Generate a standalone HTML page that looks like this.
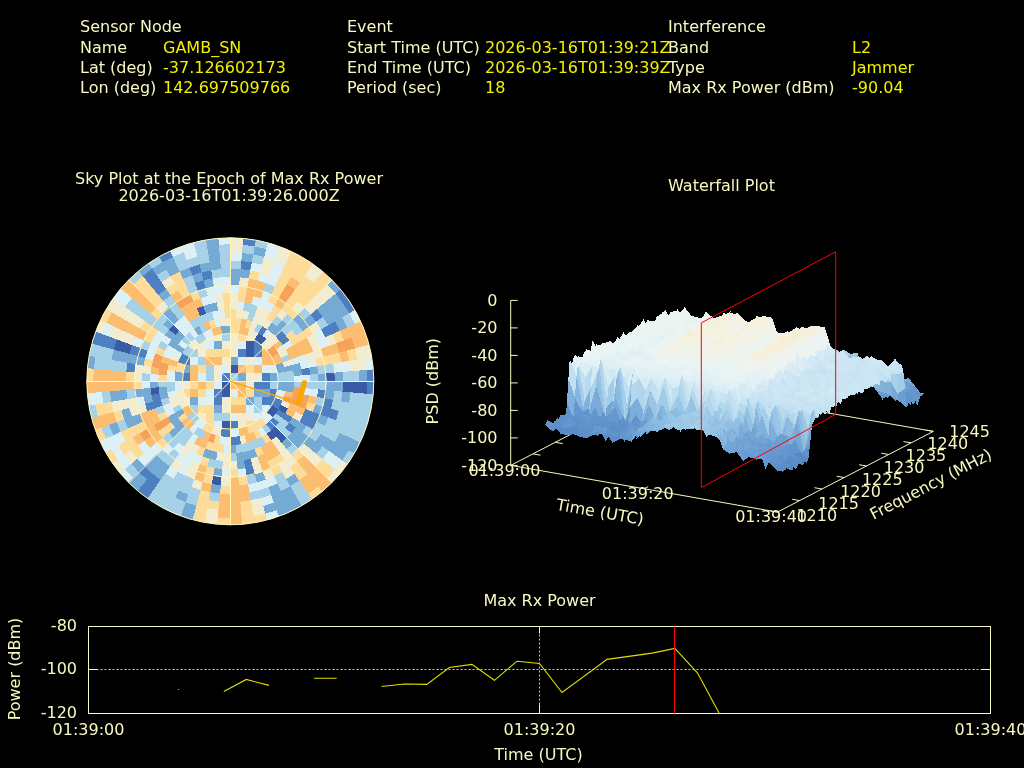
<!DOCTYPE html>
<html><head><meta charset="utf-8"><title>Interference Report</title>
<style>
html,body{margin:0;padding:0;background:#000;width:1024px;height:768px;overflow:hidden}
svg{display:block}
.v{fill:#f0f000}
text{font-family:"DejaVu Sans","Liberation Sans",sans-serif;font-size:16px;fill:#f8f8c0}
text.v{fill:#f0f000}
</style></head><body>
<svg width="1024" height="768" viewBox="0 0 1024 768">
<rect width="1024" height="768" fill="#000"/>
<clipPath id="skyc"><circle cx="230.3" cy="381.3" r="143.5"/></clipPath>
<g clip-path="url(#skyc)" shape-rendering="crispEdges">
<circle cx="230.3" cy="381.3" r="144.5" fill="#b8d9ea"/>
<rect x="206.3" y="325.3" width="16" height="8" fill="#fbbd70"/>
<rect x="222.3" y="325.3" width="8" height="8" fill="#75aad4"/>
<rect x="230.3" y="325.3" width="8" height="8" fill="#fcdc98"/>
<rect x="238.3" y="325.3" width="8" height="8" fill="#fbbd70"/>
<rect x="198.3" y="333.3" width="8" height="8" fill="#a6d1e7"/>
<rect x="206.3" y="333.3" width="8" height="8" fill="#dcf0f6"/>
<rect x="214.3" y="333.3" width="8" height="8" fill="#f2ecd0"/>
<rect x="222.3" y="333.3" width="8" height="8" fill="#a6d1e7"/>
<rect x="230.3" y="333.3" width="8" height="8" fill="#f2ecd0"/>
<rect x="238.3" y="333.3" width="8" height="8" fill="#fcdc98"/>
<rect x="246.3" y="333.3" width="8" height="8" fill="#f2ecd0"/>
<rect x="254.3" y="333.3" width="8" height="8" fill="#3a5aa6"/>
<rect x="190.3" y="341.3" width="16" height="8" fill="#f2ecd0"/>
<rect x="206.3" y="341.3" width="8" height="8" fill="#dcf0f6"/>
<rect x="214.3" y="341.3" width="8" height="8" fill="#75aad4"/>
<rect x="222.3" y="341.3" width="16" height="8" fill="#f2ecd0"/>
<rect x="238.3" y="341.3" width="8" height="8" fill="#dcf0f6"/>
<rect x="246.3" y="341.3" width="8" height="8" fill="#3a5aa6"/>
<rect x="254.3" y="341.3" width="8" height="8" fill="#4e7fc0"/>
<rect x="262.3" y="341.3" width="8" height="8" fill="#f2ecd0"/>
<rect x="182.3" y="349.3" width="16" height="8" fill="#a6d1e7"/>
<rect x="198.3" y="349.3" width="8" height="8" fill="#f2ecd0"/>
<rect x="206.3" y="349.3" width="24" height="8" fill="#fcdc98"/>
<rect x="230.3" y="349.3" width="8" height="8" fill="#f2ecd0"/>
<rect x="238.3" y="349.3" width="8" height="8" fill="#4e7fc0"/>
<rect x="246.3" y="349.3" width="8" height="8" fill="#3a5aa6"/>
<rect x="254.3" y="349.3" width="8" height="8" fill="#4e7fc0"/>
<rect x="262.3" y="349.3" width="8" height="8" fill="#fbbd70"/>
<rect x="270.3" y="349.3" width="8" height="8" fill="#f6a25a"/>
<rect x="182.3" y="357.3" width="8" height="8" fill="#4e7fc0"/>
<rect x="190.3" y="357.3" width="8" height="8" fill="#dcf0f6"/>
<rect x="198.3" y="357.3" width="8" height="8" fill="#a6d1e7"/>
<rect x="206.3" y="357.3" width="16" height="8" fill="#fbbd70"/>
<rect x="222.3" y="357.3" width="8" height="8" fill="#f2ecd0"/>
<rect x="230.3" y="357.3" width="8" height="8" fill="#75aad4"/>
<rect x="238.3" y="357.3" width="8" height="8" fill="#dcf0f6"/>
<rect x="246.3" y="357.3" width="8" height="8" fill="#f2ecd0"/>
<rect x="254.3" y="357.3" width="8" height="8" fill="#dcf0f6"/>
<rect x="262.3" y="357.3" width="16" height="8" fill="#fbbd70"/>
<rect x="166.3" y="365.3" width="16" height="8" fill="#fcdc98"/>
<rect x="182.3" y="365.3" width="8" height="8" fill="#75aad4"/>
<rect x="190.3" y="365.3" width="8" height="8" fill="#fbbd70"/>
<rect x="198.3" y="365.3" width="8" height="8" fill="#fcdc98"/>
<rect x="206.3" y="365.3" width="8" height="8" fill="#a6d1e7"/>
<rect x="214.3" y="365.3" width="8" height="8" fill="#f2ecd0"/>
<rect x="222.3" y="365.3" width="8" height="8" fill="#dcf0f6"/>
<rect x="230.3" y="365.3" width="8" height="8" fill="#3a5aa6"/>
<rect x="238.3" y="365.3" width="8" height="8" fill="#fbbd70"/>
<rect x="246.3" y="365.3" width="8" height="8" fill="#fcdc98"/>
<rect x="254.3" y="365.3" width="8" height="8" fill="#fbbd70"/>
<rect x="262.3" y="365.3" width="16" height="8" fill="#dcf0f6"/>
<rect x="278.3" y="365.3" width="24" height="8" fill="#75aad4"/>
<rect x="174.3" y="373.3" width="8" height="8" fill="#75aad4"/>
<rect x="182.3" y="373.3" width="8" height="8" fill="#4e7fc0"/>
<rect x="190.3" y="373.3" width="8" height="8" fill="#fbbd70"/>
<rect x="198.3" y="373.3" width="8" height="8" fill="#dcf0f6"/>
<rect x="206.3" y="373.3" width="8" height="8" fill="#a6d1e7"/>
<rect x="214.3" y="373.3" width="8" height="8" fill="#f2ecd0"/>
<rect x="222.3" y="373.3" width="8" height="8" fill="#4e7fc0"/>
<rect x="230.3" y="373.3" width="8" height="8" fill="#a6d1e7"/>
<rect x="238.3" y="373.3" width="8" height="8" fill="#75aad4"/>
<rect x="246.3" y="373.3" width="16" height="8" fill="#f2ecd0"/>
<rect x="262.3" y="373.3" width="8" height="8" fill="#4e7fc0"/>
<rect x="270.3" y="373.3" width="8" height="8" fill="#75aad4"/>
<rect x="278.3" y="373.3" width="16" height="8" fill="#a6d1e7"/>
<rect x="174.3" y="381.3" width="8" height="8" fill="#dcf0f6"/>
<rect x="182.3" y="381.3" width="8" height="8" fill="#f2ecd0"/>
<rect x="190.3" y="381.3" width="8" height="8" fill="#fcdc98"/>
<rect x="198.3" y="381.3" width="8" height="8" fill="#fbbd70"/>
<rect x="206.3" y="381.3" width="8" height="8" fill="#fcdc98"/>
<rect x="214.3" y="381.3" width="8" height="8" fill="#dcf0f6"/>
<rect x="222.3" y="381.3" width="8" height="8" fill="#3a5aa6"/>
<rect x="230.3" y="381.3" width="16" height="8" fill="#fbbd70"/>
<rect x="246.3" y="381.3" width="8" height="8" fill="#f2ecd0"/>
<rect x="254.3" y="381.3" width="16" height="8" fill="#4e7fc0"/>
<rect x="270.3" y="381.3" width="8" height="8" fill="#a6d1e7"/>
<rect x="278.3" y="381.3" width="16" height="8" fill="#75aad4"/>
<rect x="174.3" y="389.3" width="8" height="8" fill="#f2ecd0"/>
<rect x="182.3" y="389.3" width="8" height="8" fill="#fcdc98"/>
<rect x="190.3" y="389.3" width="8" height="8" fill="#fbbd70"/>
<rect x="198.3" y="389.3" width="8" height="8" fill="#fcdc98"/>
<rect x="206.3" y="389.3" width="8" height="8" fill="#dcf0f6"/>
<rect x="214.3" y="389.3" width="8" height="8" fill="#4e7fc0"/>
<rect x="222.3" y="389.3" width="8" height="8" fill="#3a5aa6"/>
<rect x="230.3" y="389.3" width="8" height="8" fill="#dcf0f6"/>
<rect x="238.3" y="389.3" width="8" height="8" fill="#fbbd70"/>
<rect x="246.3" y="389.3" width="8" height="8" fill="#fcdc98"/>
<rect x="254.3" y="389.3" width="16" height="8" fill="#75aad4"/>
<rect x="270.3" y="389.3" width="8" height="8" fill="#4e7fc0"/>
<rect x="278.3" y="389.3" width="8" height="8" fill="#dcf0f6"/>
<rect x="166.3" y="397.3" width="24" height="8" fill="#f2ecd0"/>
<rect x="190.3" y="397.3" width="8" height="8" fill="#75aad4"/>
<rect x="198.3" y="397.3" width="16" height="8" fill="#dcf0f6"/>
<rect x="214.3" y="397.3" width="8" height="8" fill="#4e7fc0"/>
<rect x="222.3" y="397.3" width="8" height="8" fill="#f2ecd0"/>
<rect x="230.3" y="397.3" width="16" height="8" fill="#fcdc98"/>
<rect x="246.3" y="397.3" width="8" height="8" fill="#75aad4"/>
<rect x="254.3" y="397.3" width="8" height="8" fill="#a6d1e7"/>
<rect x="262.3" y="397.3" width="16" height="8" fill="#4e7fc0"/>
<rect x="182.3" y="405.3" width="8" height="8" fill="#fbbd70"/>
<rect x="190.3" y="405.3" width="8" height="8" fill="#a6d1e7"/>
<rect x="198.3" y="405.3" width="16" height="8" fill="#fcdc98"/>
<rect x="214.3" y="405.3" width="8" height="8" fill="#75aad4"/>
<rect x="222.3" y="405.3" width="8" height="8" fill="#f2ecd0"/>
<rect x="230.3" y="405.3" width="16" height="8" fill="#fbbd70"/>
<rect x="246.3" y="405.3" width="8" height="8" fill="#dcf0f6"/>
<rect x="254.3" y="405.3" width="8" height="8" fill="#a6d1e7"/>
<rect x="262.3" y="405.3" width="8" height="8" fill="#dcf0f6"/>
<rect x="270.3" y="405.3" width="16" height="8" fill="#3a5aa6"/>
<rect x="190.3" y="413.3" width="8" height="8" fill="#a6d1e7"/>
<rect x="198.3" y="413.3" width="8" height="8" fill="#f2ecd0"/>
<rect x="206.3" y="413.3" width="8" height="8" fill="#fcdc98"/>
<rect x="214.3" y="413.3" width="16" height="8" fill="#a6d1e7"/>
<rect x="230.3" y="413.3" width="8" height="8" fill="#dcf0f6"/>
<rect x="238.3" y="413.3" width="16" height="8" fill="#f2ecd0"/>
<rect x="254.3" y="413.3" width="16" height="8" fill="#dcf0f6"/>
<rect x="190.3" y="421.3" width="16" height="8" fill="#dcf0f6"/>
<rect x="206.3" y="421.3" width="8" height="8" fill="#fcdc98"/>
<rect x="214.3" y="421.3" width="8" height="8" fill="#dcf0f6"/>
<rect x="222.3" y="421.3" width="8" height="8" fill="#3a5aa6"/>
<rect x="230.3" y="421.3" width="8" height="8" fill="#4e7fc0"/>
<rect x="238.3" y="421.3" width="8" height="8" fill="#f2ecd0"/>
<rect x="246.3" y="421.3" width="16" height="8" fill="#fcdc98"/>
<rect x="214.3" y="429.3" width="8" height="8" fill="#f2ecd0"/>
<rect x="222.3" y="429.3" width="8" height="8" fill="#4e7fc0"/>
<rect x="230.3" y="429.3" width="8" height="8" fill="#dcf0f6"/>
<rect x="238.3" y="429.3" width="16" height="8" fill="#fbbd70"/>
<path d="M277.8 381.5L294.7 381.6L294.4 375.4L277.6 377.0Z" fill="#a6d1e7"/>
<path d="M294.1 381.6L311.0 381.6L310.7 373.9L293.8 375.5Z" fill="#dcf0f6"/>
<path d="M310.4 381.6L319.1 381.7L318.8 373.2L310.1 374.0Z" fill="#a6d1e7"/>
<path d="M318.5 381.7L327.3 381.7L326.9 372.5L318.2 373.3Z" fill="#75aad4"/>
<path d="M326.7 381.7L335.4 381.7L335.0 371.7L326.3 372.5Z" fill="#3a5aa6"/>
<path d="M334.8 381.7L343.5 381.8L343.1 371.0L334.4 371.8Z" fill="#75aad4"/>
<path d="M342.9 381.8L359.8 381.8L359.3 369.5L342.5 371.0Z" fill="#a6d1e7"/>
<path d="M359.2 381.8L368.0 381.9L367.4 368.8L358.7 369.6Z" fill="#75aad4"/>
<path d="M367.4 381.8L376.1 381.9L375.5 368.0L366.8 368.8Z" fill="#4e7fc0"/>
<path d="M277.7 377.3L294.5 375.9L293.7 369.9L277.1 372.9Z" fill="#a6d1e7"/>
<path d="M293.9 376.0L302.6 375.3L301.7 368.4L293.1 370.0Z" fill="#75aad4"/>
<path d="M302.0 375.3L310.7 374.6L309.7 367.0L301.1 368.5Z" fill="#4e7fc0"/>
<path d="M310.1 374.6L318.8 373.9L317.7 365.5L309.1 367.1Z" fill="#75aad4"/>
<path d="M318.2 374.0L335.0 372.6L333.7 362.6L317.1 365.6Z" fill="#a6d1e7"/>
<path d="M334.4 372.6L351.3 371.2L349.8 359.7L333.1 362.7Z" fill="#dcf0f6"/>
<path d="M350.7 371.3L367.5 369.9L365.8 356.9L349.2 359.9Z" fill="#f2ecd0"/>
<path d="M366.9 369.9L375.6 369.2L373.8 355.4L365.2 357.0Z" fill="#dcf0f6"/>
<path d="M277.1 373.2L301.8 369.0L300.3 362.2L276.2 368.8Z" fill="#75aad4"/>
<path d="M301.2 369.1L317.8 366.2L316.0 358.0L299.7 362.4Z" fill="#dcf0f6"/>
<path d="M317.2 366.3L341.9 362.1L339.6 351.6L315.4 358.1Z" fill="#fcdc98"/>
<path d="M341.3 362.2L349.9 360.7L347.4 349.4L339.0 351.7Z" fill="#fbbd70"/>
<path d="M349.3 360.8L357.9 359.3L355.3 347.3L346.8 349.6Z" fill="#fcdc98"/>
<path d="M357.4 359.4L374.0 356.6L371.0 343.0L354.7 347.4Z" fill="#f2ecd0"/>
<path d="M276.3 369.2L284.7 367.0L283.1 361.8L274.9 364.9Z" fill="#75aad4"/>
<path d="M284.1 367.1L292.6 364.9L290.7 359.0L282.5 362.0Z" fill="#f2ecd0"/>
<path d="M292.0 365.0L308.3 360.7L306.0 353.4L290.2 359.2Z" fill="#dcf0f6"/>
<path d="M307.7 360.9L324.1 356.6L321.3 347.8L305.4 353.6Z" fill="#f2ecd0"/>
<path d="M323.5 356.7L339.8 352.4L336.6 342.1L320.7 348.0Z" fill="#fbbd70"/>
<path d="M339.2 352.6L355.5 348.3L351.8 336.5L336.0 342.4Z" fill="#f6a25a"/>
<path d="M355.0 348.4L371.3 344.1L367.1 330.9L351.3 336.7Z" fill="#fbbd70"/>
<path d="M275.0 365.2L283.3 362.3L281.2 357.3L273.3 361.0Z" fill="#fbbd70"/>
<path d="M282.7 362.5L290.9 359.5L288.6 353.8L280.7 357.6Z" fill="#a6d1e7"/>
<path d="M290.3 359.7L313.9 351.3L310.7 343.4L288.0 354.1Z" fill="#fbbd70"/>
<path d="M313.3 351.5L321.6 348.5L318.0 340.0L310.1 343.7Z" fill="#f2ecd0"/>
<path d="M321.0 348.7L329.2 345.7L325.4 336.5L317.5 340.2Z" fill="#dcf0f6"/>
<path d="M328.6 346.0L336.9 343.0L332.7 333.0L324.8 336.8Z" fill="#f2ecd0"/>
<path d="M336.3 343.2L344.5 340.2L340.1 329.6L332.2 333.3Z" fill="#fcdc98"/>
<path d="M344.0 340.4L367.5 332.0L362.2 319.2L339.6 329.8Z" fill="#fbbd70"/>
<path d="M273.5 361.4L281.4 357.7L278.9 353.0L271.4 357.4Z" fill="#fbbd70"/>
<path d="M280.8 358.0L288.8 354.3L286.0 348.9L278.4 353.3Z" fill="#f2ecd0"/>
<path d="M288.2 354.6L311.0 344.1L307.0 336.6L285.4 349.2Z" fill="#fbbd70"/>
<path d="M310.4 344.3L318.3 340.7L314.1 332.5L306.5 336.9Z" fill="#f2ecd0"/>
<path d="M317.8 340.9L325.7 337.3L321.1 328.4L313.6 332.8Z" fill="#dcf0f6"/>
<path d="M325.2 337.5L340.5 330.4L335.2 320.2L320.6 328.7Z" fill="#4e7fc0"/>
<path d="M340.0 330.7L347.9 327.0L342.2 316.1L334.7 320.5Z" fill="#75aad4"/>
<path d="M347.4 327.3L355.3 323.6L349.2 312.0L341.7 316.4Z" fill="#a6d1e7"/>
<path d="M354.8 323.9L362.7 320.2L356.3 307.9L348.7 312.3Z" fill="#dcf0f6"/>
<path d="M271.6 357.7L279.1 353.4L276.3 348.8L269.1 353.9Z" fill="#f6a25a"/>
<path d="M278.6 353.7L286.2 349.3L282.9 344.1L275.8 349.2Z" fill="#f2ecd0"/>
<path d="M285.7 349.6L293.3 345.3L289.6 339.4L282.4 344.5Z" fill="#dcf0f6"/>
<path d="M292.8 345.6L314.5 333.2L309.5 325.4L289.1 339.8Z" fill="#fcdc98"/>
<path d="M313.9 333.5L321.5 329.1L316.2 320.7L309.0 325.7Z" fill="#f2ecd0"/>
<path d="M321.0 329.4L328.6 325.1L322.8 316.0L315.7 321.0Z" fill="#a6d1e7"/>
<path d="M328.1 325.4L349.8 312.9L342.7 301.9L322.3 316.3Z" fill="#75aad4"/>
<path d="M349.3 313.2L356.9 308.9L349.4 297.2L342.3 302.2Z" fill="#4e7fc0"/>
<path d="M269.3 354.2L276.5 349.2L273.3 345.0L266.6 350.6Z" fill="#f6a25a"/>
<path d="M276.0 349.6L283.2 344.6L279.5 339.7L272.8 345.3Z" fill="#fbbd70"/>
<path d="M282.7 344.9L289.9 339.9L285.7 334.4L279.0 340.1Z" fill="#4e7fc0"/>
<path d="M289.4 340.3L296.6 335.3L291.9 329.2L285.2 334.8Z" fill="#fcdc98"/>
<path d="M296.1 335.6L303.3 330.6L298.1 323.9L291.4 329.6Z" fill="#a6d1e7"/>
<path d="M302.8 331.0L316.6 321.4L310.5 313.4L297.7 324.3Z" fill="#75aad4"/>
<path d="M316.1 321.7L323.3 316.7L316.8 308.2L310.1 313.8Z" fill="#4e7fc0"/>
<path d="M322.8 317.1L343.4 302.8L335.4 292.4L316.3 308.5Z" fill="#75aad4"/>
<path d="M342.9 303.1L350.1 298.2L341.6 287.1L334.9 292.8Z" fill="#4e7fc0"/>
<path d="M266.8 350.9L279.8 340.1L275.7 335.6L263.8 347.6Z" fill="#f2ecd0"/>
<path d="M279.3 340.5L286.1 334.9L281.4 329.8L275.2 336.0Z" fill="#4e7fc0"/>
<path d="M285.6 335.3L298.6 324.5L292.9 318.2L281.0 330.2Z" fill="#a6d1e7"/>
<path d="M298.1 324.9L304.8 319.3L298.6 312.5L292.4 318.7Z" fill="#75aad4"/>
<path d="M304.4 319.7L311.1 314.1L304.3 306.7L298.2 312.9Z" fill="#a6d1e7"/>
<path d="M310.6 314.4L336.1 293.2L327.3 283.6L303.9 307.1Z" fill="#f2ecd0"/>
<path d="M335.6 293.6L342.4 288.0L333.0 277.8L326.8 284.0Z" fill="#75aad4"/>
<path d="M264.0 347.8L276.0 335.9L271.5 331.8L260.7 344.8Z" fill="#f2ecd0"/>
<path d="M275.6 336.4L287.6 324.5L281.9 319.3L271.1 332.3Z" fill="#75aad4"/>
<path d="M287.2 324.9L293.4 318.7L287.1 313.0L281.5 319.7Z" fill="#a6d1e7"/>
<path d="M292.9 319.2L299.1 313.0L292.3 306.8L286.7 313.5Z" fill="#fcdc98"/>
<path d="M298.7 313.4L304.9 307.3L297.5 300.5L291.9 307.2Z" fill="#f2ecd0"/>
<path d="M304.5 307.7L333.8 278.6L323.6 269.2L297.2 301.0Z" fill="#fcdc98"/>
<path d="M261.0 345.0L266.6 338.3L262.4 335.1L257.4 342.3Z" fill="#3a5aa6"/>
<path d="M266.3 338.8L271.9 332.1L267.0 328.4L262.0 335.6Z" fill="#dcf0f6"/>
<path d="M271.5 332.6L277.2 325.9L271.7 321.7L266.7 328.9Z" fill="#75aad4"/>
<path d="M276.8 326.4L282.4 319.7L276.3 315.0L271.3 322.2Z" fill="#a6d1e7"/>
<path d="M282.0 320.2L287.7 313.5L281.0 308.3L276.0 315.5Z" fill="#f2ecd0"/>
<path d="M287.3 313.9L314.0 282.4L304.2 274.9L280.6 308.8Z" fill="#fcdc98"/>
<path d="M313.6 282.9L324.5 270.0L313.4 261.5L303.8 275.4Z" fill="#f2ecd0"/>
<path d="M257.7 342.5L262.8 335.3L258.2 332.5L253.9 340.0Z" fill="#3a5aa6"/>
<path d="M262.4 335.8L267.5 328.7L262.3 325.4L257.9 333.0Z" fill="#4e7fc0"/>
<path d="M267.1 329.2L272.2 322.0L266.3 318.3L262.0 325.9Z" fill="#f2ecd0"/>
<path d="M271.8 322.5L281.5 308.7L274.4 304.2L266.0 318.8Z" fill="#fcdc98"/>
<path d="M281.2 309.2L286.2 302.1L278.4 297.1L274.1 304.7Z" fill="#fbbd70"/>
<path d="M285.9 302.6L295.6 288.8L286.5 283.0L278.1 297.7Z" fill="#f6a25a"/>
<path d="M295.3 289.3L300.3 282.1L290.6 275.9L286.2 283.5Z" fill="#fbbd70"/>
<path d="M300.0 282.6L314.4 262.2L302.7 254.7L290.3 276.5Z" fill="#fcdc98"/>
<path d="M254.2 340.2L258.6 332.7L253.9 330.2L250.2 338.1Z" fill="#f2ecd0"/>
<path d="M258.3 333.2L262.7 325.6L257.3 322.8L253.6 330.8Z" fill="#a6d1e7"/>
<path d="M262.4 326.2L270.9 311.6L264.1 308.0L257.0 323.4Z" fill="#f2ecd0"/>
<path d="M270.6 312.1L275.0 304.6L267.5 300.6L263.9 308.6Z" fill="#dcf0f6"/>
<path d="M274.7 305.1L303.7 255.3L291.4 248.9L267.3 301.2Z" fill="#fcdc98"/>
<path d="M250.6 338.3L264.7 308.3L257.6 305.4L246.4 336.6Z" fill="#f2ecd0"/>
<path d="M264.4 308.9L271.6 293.6L263.1 290.0L257.4 305.9Z" fill="#dcf0f6"/>
<path d="M271.4 294.1L275.1 286.2L265.9 282.4L262.9 290.6Z" fill="#a6d1e7"/>
<path d="M274.8 286.8L285.5 264.1L274.1 259.4L265.6 283.0Z" fill="#dcf0f6"/>
<path d="M285.3 264.7L292.4 249.4L279.6 244.1L273.9 260.0Z" fill="#f2ecd0"/>
<path d="M246.7 336.7L249.8 328.5L244.6 326.9L242.4 335.3Z" fill="#fbbd70"/>
<path d="M249.6 329.1L252.6 320.9L246.7 319.0L244.5 327.5Z" fill="#fcdc98"/>
<path d="M252.4 321.4L258.2 305.6L250.9 303.3L246.6 319.6Z" fill="#a6d1e7"/>
<path d="M258.0 306.2L261.0 298.0L252.9 295.4L250.7 303.9Z" fill="#dcf0f6"/>
<path d="M260.8 298.5L266.6 282.7L257.1 279.7L252.8 296.0Z" fill="#fbbd70"/>
<path d="M266.4 283.2L269.5 275.0L259.2 271.8L256.9 280.2Z" fill="#dcf0f6"/>
<path d="M269.2 275.6L275.1 259.8L263.3 256.1L259.0 272.4Z" fill="#f2ecd0"/>
<path d="M274.9 260.3L280.7 244.5L267.5 240.3L263.2 256.6Z" fill="#dcf0f6"/>
<path d="M242.8 335.4L247.2 319.2L241.2 317.8L238.4 334.5Z" fill="#fbbd70"/>
<path d="M247.1 319.7L249.4 311.3L242.6 309.8L241.1 318.4Z" fill="#f2ecd0"/>
<path d="M249.2 311.9L251.5 303.4L244.0 301.8L242.5 310.4Z" fill="#a6d1e7"/>
<path d="M251.3 304.0L257.9 279.9L248.1 277.7L243.9 302.4Z" fill="#fbbd70"/>
<path d="M257.8 280.5L260.0 272.0L249.5 269.7L248.0 278.3Z" fill="#fcdc98"/>
<path d="M259.9 272.6L262.2 264.2L250.9 261.7L249.4 270.3Z" fill="#dcf0f6"/>
<path d="M262.0 264.8L264.3 256.3L252.3 253.7L250.8 262.3Z" fill="#a6d1e7"/>
<path d="M264.2 256.9L266.5 248.5L253.7 245.6L252.2 254.2Z" fill="#75aad4"/>
<path d="M266.3 249.1L268.6 240.6L255.0 237.6L253.6 246.2Z" fill="#a6d1e7"/>
<path d="M238.7 334.5L241.7 317.9L235.7 317.1L234.3 333.9Z" fill="#fcdc98"/>
<path d="M241.6 318.5L243.2 309.9L236.3 309.0L235.6 317.7Z" fill="#f2ecd0"/>
<path d="M243.1 310.5L244.6 301.9L237.0 300.9L236.3 309.6Z" fill="#dcf0f6"/>
<path d="M244.5 302.5L247.5 285.9L238.4 284.7L237.0 301.5Z" fill="#fcdc98"/>
<path d="M247.4 286.5L249.0 277.9L239.0 276.6L238.3 285.3Z" fill="#f2ecd0"/>
<path d="M248.9 278.5L250.4 269.9L239.7 268.4L239.0 277.2Z" fill="#75aad4"/>
<path d="M250.3 270.4L251.9 261.8L240.4 260.3L239.7 269.0Z" fill="#4e7fc0"/>
<path d="M251.7 262.4L253.3 253.8L241.1 252.2L240.3 260.9Z" fill="#75aad4"/>
<path d="M253.2 254.4L254.7 245.8L241.7 244.1L241.0 252.8Z" fill="#a6d1e7"/>
<path d="M254.6 246.4L256.2 237.8L242.4 236.0L241.7 244.7Z" fill="#4e7fc0"/>
<path d="M234.6 334.0L236.9 309.1L230.0 308.8L230.1 333.8Z" fill="#fcdc98"/>
<path d="M236.9 309.6L238.4 292.8L229.9 292.5L230.0 309.4Z" fill="#f2ecd0"/>
<path d="M238.3 293.4L239.1 284.7L229.9 284.3L229.9 293.1Z" fill="#dcf0f6"/>
<path d="M239.1 285.3L240.6 268.5L229.8 268.1L229.9 284.9Z" fill="#75aad4"/>
<path d="M240.6 269.1L241.4 260.4L229.8 259.9L229.8 268.7Z" fill="#a6d1e7"/>
<path d="M241.3 261.0L242.1 252.3L229.8 251.8L229.8 260.5Z" fill="#dcf0f6"/>
<path d="M242.0 252.9L243.6 236.1L229.7 235.5L229.8 252.4Z" fill="#f2ecd0"/>
<path d="M230.5 333.8L230.5 325.0L225.2 325.3L226.0 334.0Z" fill="#75aad4"/>
<path d="M230.5 325.6L230.6 316.9L224.4 317.2L225.2 325.9Z" fill="#f2ecd0"/>
<path d="M230.6 317.5L230.7 292.5L222.2 292.8L224.5 317.8Z" fill="#fcdc98"/>
<path d="M230.7 293.1L230.7 284.3L221.5 284.7L222.3 293.4Z" fill="#f2ecd0"/>
<path d="M230.7 284.9L230.7 276.2L220.7 276.6L221.5 285.3Z" fill="#dcf0f6"/>
<path d="M230.7 276.8L230.9 243.6L217.8 244.2L220.8 277.2Z" fill="#a6d1e7"/>
<path d="M230.8 244.2L230.9 235.5L217.0 236.1L217.8 244.8Z" fill="#dcf0f6"/>
<path d="M226.3 333.9L225.6 325.2L220.3 325.9L221.9 334.5Z" fill="#75aad4"/>
<path d="M225.7 325.8L224.9 317.1L218.9 317.9L220.4 326.5Z" fill="#f2ecd0"/>
<path d="M225.0 317.7L224.3 309.0L217.4 309.9L219.0 318.5Z" fill="#dcf0f6"/>
<path d="M224.3 309.6L222.9 292.8L214.5 293.9L217.5 310.5Z" fill="#f2ecd0"/>
<path d="M223.0 293.4L221.6 276.6L211.6 277.9L214.6 294.5Z" fill="#dcf0f6"/>
<path d="M221.6 277.2L220.9 268.4L210.2 269.9L211.7 278.5Z" fill="#a6d1e7"/>
<path d="M220.9 269.0L218.2 236.0L204.4 237.8L210.3 270.4Z" fill="#75aad4"/>
<path d="M222.2 334.5L220.8 325.8L215.5 327.0L217.8 335.4Z" fill="#fbbd70"/>
<path d="M220.9 326.4L218.0 309.8L211.2 311.3L215.7 327.6Z" fill="#dcf0f6"/>
<path d="M218.1 310.4L216.6 301.8L209.1 303.4L211.4 311.9Z" fill="#75aad4"/>
<path d="M216.7 302.4L213.8 285.7L204.8 287.7L209.3 304.0Z" fill="#dcf0f6"/>
<path d="M213.9 286.3L212.5 277.7L202.7 279.9L205.0 288.3Z" fill="#75aad4"/>
<path d="M212.6 278.3L211.1 269.7L200.6 272.0L202.8 280.5Z" fill="#4e7fc0"/>
<path d="M211.2 270.3L209.7 261.7L198.4 264.2L200.7 272.6Z" fill="#75aad4"/>
<path d="M209.8 262.3L205.6 237.6L192.0 240.6L198.6 264.8Z" fill="#a6d1e7"/>
<path d="M218.2 335.3L216.0 326.9L210.8 328.5L213.9 336.7Z" fill="#fbbd70"/>
<path d="M216.1 327.5L213.9 319.0L208.0 320.9L211.0 329.1Z" fill="#fcdc98"/>
<path d="M214.0 319.6L211.8 311.1L205.2 313.2L208.2 321.4Z" fill="#a6d1e7"/>
<path d="M212.0 311.7L209.7 303.3L202.4 305.6L205.4 313.8Z" fill="#75aad4"/>
<path d="M209.9 303.9L207.7 295.4L199.6 298.0L202.6 306.2Z" fill="#dcf0f6"/>
<path d="M207.8 296.0L205.6 287.5L196.8 290.3L199.8 298.5Z" fill="#a6d1e7"/>
<path d="M205.7 288.1L203.5 279.7L194.0 282.7L197.0 290.9Z" fill="#4e7fc0"/>
<path d="M203.7 280.2L201.4 271.8L191.1 275.0L194.2 283.2Z" fill="#75aad4"/>
<path d="M201.6 272.4L199.4 263.9L188.3 267.4L191.4 275.6Z" fill="#4e7fc0"/>
<path d="M199.5 264.5L197.3 256.1L185.5 259.8L188.5 268.0Z" fill="#a6d1e7"/>
<path d="M197.4 256.6L193.1 240.3L179.9 244.5L185.7 260.3Z" fill="#dcf0f6"/>
<path d="M214.2 336.6L211.3 328.3L206.3 330.4L210.0 338.3Z" fill="#dcf0f6"/>
<path d="M211.5 328.9L208.5 320.7L202.8 323.0L206.6 330.9Z" fill="#fbbd70"/>
<path d="M208.7 321.3L205.8 313.0L199.4 315.7L203.1 323.6Z" fill="#a6d1e7"/>
<path d="M206.0 313.6L203.0 305.4L195.9 308.3L199.6 316.2Z" fill="#3a5aa6"/>
<path d="M203.2 305.9L200.3 297.7L192.4 300.9L196.2 308.9Z" fill="#fbbd70"/>
<path d="M200.5 298.3L197.5 290.0L189.0 293.6L192.7 301.5Z" fill="#fcdc98"/>
<path d="M197.7 290.6L192.0 274.7L182.0 278.9L189.2 294.1Z" fill="#a6d1e7"/>
<path d="M192.2 275.3L189.2 267.1L178.6 271.5L182.3 279.4Z" fill="#75aad4"/>
<path d="M189.4 267.6L183.7 251.8L171.6 256.8L178.8 272.0Z" fill="#a6d1e7"/>
<path d="M183.9 252.3L181.0 244.1L168.2 249.4L171.9 257.3Z" fill="#dcf0f6"/>
<path d="M210.4 338.1L206.7 330.2L202.0 332.7L206.4 340.2Z" fill="#dcf0f6"/>
<path d="M207.0 330.8L199.9 315.4L193.8 318.6L202.3 333.2Z" fill="#a6d1e7"/>
<path d="M200.2 316.0L193.1 300.6L185.6 304.6L194.1 319.1Z" fill="#fbbd70"/>
<path d="M193.3 301.2L189.7 293.3L181.5 297.5L185.9 305.1Z" fill="#f6a25a"/>
<path d="M189.9 293.8L179.4 271.1L169.2 276.4L181.8 298.0Z" fill="#fcdc98"/>
<path d="M179.7 271.6L172.6 256.3L161.0 262.4L169.5 276.9Z" fill="#75aad4"/>
<path d="M172.9 256.8L169.2 248.9L156.9 255.3L161.3 262.9Z" fill="#4e7fc0"/>
<path d="M206.7 340.0L202.4 332.5L197.8 335.3L202.9 342.5Z" fill="#a6d1e7"/>
<path d="M202.7 333.0L198.3 325.4L193.1 328.7L198.2 335.8Z" fill="#75aad4"/>
<path d="M198.6 325.9L194.3 318.3L188.4 322.0L193.5 329.2Z" fill="#a6d1e7"/>
<path d="M194.6 318.8L186.2 304.2L179.1 308.7L188.8 322.5Z" fill="#fbbd70"/>
<path d="M186.5 304.7L182.2 297.1L174.4 302.1L179.4 309.2Z" fill="#f6a25a"/>
<path d="M182.5 297.7L178.1 290.1L169.7 295.4L174.7 302.6Z" fill="#fbbd70"/>
<path d="M178.4 290.6L174.1 283.0L165.0 288.8L170.0 295.9Z" fill="#fcdc98"/>
<path d="M174.4 283.5L170.0 275.9L160.3 282.1L165.3 289.3Z" fill="#f2ecd0"/>
<path d="M170.3 276.5L166.0 268.9L155.6 275.5L160.6 282.6Z" fill="#a6d1e7"/>
<path d="M166.3 269.4L161.9 261.8L150.9 268.9L155.9 276.0Z" fill="#75aad4"/>
<path d="M162.2 262.3L157.9 254.7L146.2 262.2L151.2 269.3Z" fill="#a6d1e7"/>
<path d="M203.2 342.3L198.2 335.1L194.0 338.3L199.6 345.0Z" fill="#a6d1e7"/>
<path d="M198.6 335.6L184.3 315.0L178.2 319.7L194.3 338.8Z" fill="#dcf0f6"/>
<path d="M184.6 315.5L170.4 295.0L162.4 301.1L178.6 320.2Z" fill="#a6d1e7"/>
<path d="M170.7 295.5L165.7 288.3L157.2 294.8L162.8 301.5Z" fill="#75aad4"/>
<path d="M166.1 288.8L151.8 268.2L141.4 276.2L157.5 295.3Z" fill="#4e7fc0"/>
<path d="M152.1 268.7L147.2 261.5L136.1 270.0L141.8 276.7Z" fill="#75aad4"/>
<path d="M199.9 344.8L194.3 338.0L190.4 341.7L196.6 347.8Z" fill="#f2ecd0"/>
<path d="M194.7 338.5L189.1 331.8L184.6 335.9L190.8 342.1Z" fill="#a6d1e7"/>
<path d="M189.5 332.3L178.7 319.3L173.0 324.5L185.0 336.4Z" fill="#dcf0f6"/>
<path d="M179.1 319.7L168.3 306.8L161.5 313.0L173.4 324.9Z" fill="#75aad4"/>
<path d="M168.7 307.2L163.1 300.5L155.7 307.3L161.9 313.4Z" fill="#f2ecd0"/>
<path d="M163.4 301.0L142.2 275.5L132.6 284.3L156.1 307.7Z" fill="#fcdc98"/>
<path d="M142.6 276.0L137.0 269.2L126.8 278.6L133.0 284.8Z" fill="#a6d1e7"/>
<path d="M196.8 347.6L190.7 341.4L187.0 345.3L193.8 350.9Z" fill="#f2ecd0"/>
<path d="M191.1 341.8L184.9 335.6L180.8 340.1L187.5 345.7Z" fill="#a6d1e7"/>
<path d="M185.4 336.0L179.2 329.8L174.5 334.9L181.3 340.5Z" fill="#75aad4"/>
<path d="M179.6 330.2L173.5 324.0L168.3 329.7L175.0 335.3Z" fill="#3a5aa6"/>
<path d="M173.9 324.4L167.7 318.2L162.0 324.5L168.7 330.1Z" fill="#75aad4"/>
<path d="M168.2 318.7L162.0 312.5L155.8 319.3L162.5 324.9Z" fill="#a6d1e7"/>
<path d="M162.4 312.9L156.3 306.7L149.5 314.1L156.2 319.7Z" fill="#fcdc98"/>
<path d="M156.7 307.1L127.6 277.8L118.2 288.0L150.0 314.4Z" fill="#fbbd70"/>
<path d="M194.0 350.6L187.3 345.0L184.1 349.2L191.3 354.2Z" fill="#a6d1e7"/>
<path d="M187.8 345.3L181.1 339.7L177.4 344.6L184.6 349.6Z" fill="#dcf0f6"/>
<path d="M181.6 340.1L168.7 329.2L164.0 335.3L177.9 344.9Z" fill="#75aad4"/>
<path d="M169.2 329.6L131.4 297.6L123.9 307.4L164.5 335.6Z" fill="#a6d1e7"/>
<path d="M131.9 298.0L119.0 287.1L110.5 298.2L124.4 307.8Z" fill="#dcf0f6"/>
<path d="M191.5 353.9L184.3 348.8L181.5 353.4L189.0 357.7Z" fill="#a6d1e7"/>
<path d="M184.8 349.2L171.0 339.4L167.3 345.3L182.0 353.7Z" fill="#75aad4"/>
<path d="M171.5 339.8L157.7 330.1L153.2 337.2L167.8 345.6Z" fill="#dcf0f6"/>
<path d="M158.2 330.4L144.4 320.7L139.1 329.1L153.7 337.5Z" fill="#fcdc98"/>
<path d="M144.9 321.0L111.2 297.2L103.7 308.9L139.6 329.4Z" fill="#f2ecd0"/>
<path d="M189.2 357.4L181.7 353.0L179.2 357.7L187.1 361.4Z" fill="#4e7fc0"/>
<path d="M182.2 353.3L167.6 344.8L164.4 350.9L179.8 358.0Z" fill="#dcf0f6"/>
<path d="M168.1 345.1L160.6 340.7L157.0 347.5L165.0 351.2Z" fill="#a6d1e7"/>
<path d="M161.1 341.0L153.6 336.6L149.6 344.1L157.6 347.7Z" fill="#dcf0f6"/>
<path d="M154.1 336.9L146.5 332.5L142.3 340.7L150.2 344.3Z" fill="#fcdc98"/>
<path d="M147.0 332.8L111.4 312.0L105.3 323.6L142.8 340.9Z" fill="#fbbd70"/>
<path d="M111.9 312.3L104.3 307.9L97.9 320.2L105.8 323.9Z" fill="#fcdc98"/>
<path d="M187.3 361.0L179.4 357.3L177.3 362.3L185.6 365.2Z" fill="#4e7fc0"/>
<path d="M179.9 357.6L172.0 353.8L169.7 359.5L177.9 362.5Z" fill="#f2ecd0"/>
<path d="M172.6 354.1L164.7 350.4L162.0 356.8L170.3 359.7Z" fill="#dcf0f6"/>
<path d="M165.2 350.6L157.3 346.9L154.4 354.0L162.6 357.0Z" fill="#fcdc98"/>
<path d="M157.9 347.2L149.9 343.4L146.7 351.3L154.9 354.2Z" fill="#dcf0f6"/>
<path d="M150.5 343.7L142.6 340.0L139.0 348.5L147.3 351.5Z" fill="#a6d1e7"/>
<path d="M143.1 340.2L135.2 336.5L131.4 345.7L139.6 348.7Z" fill="#dcf0f6"/>
<path d="M135.8 336.8L113.1 326.1L108.4 337.5L132.0 346.0Z" fill="#f2ecd0"/>
<path d="M113.7 326.3L105.8 322.6L100.8 334.7L109.0 337.7Z" fill="#dcf0f6"/>
<path d="M106.3 322.9L98.4 319.2L93.1 332.0L101.3 334.9Z" fill="#f2ecd0"/>
<path d="M185.7 364.9L177.5 361.8L175.9 367.0L184.3 369.2Z" fill="#fcdc98"/>
<path d="M178.1 362.0L162.2 356.2L160.1 362.8L176.5 367.1Z" fill="#fbbd70"/>
<path d="M162.8 356.4L154.6 353.4L152.3 360.7L160.7 363.0Z" fill="#f6a25a"/>
<path d="M155.2 353.6L147.0 350.6L144.4 358.7L152.9 360.9Z" fill="#dcf0f6"/>
<path d="M147.5 350.8L131.7 345.0L128.7 354.5L145.0 358.8Z" fill="#4e7fc0"/>
<path d="M132.2 345.2L116.4 339.3L112.9 350.4L129.2 354.7Z" fill="#3a5aa6"/>
<path d="M117.0 339.5L93.5 330.9L89.3 344.1L113.5 350.5Z" fill="#4e7fc0"/>
<path d="M184.4 368.8L168.2 364.4L166.8 370.4L183.5 373.2Z" fill="#fcdc98"/>
<path d="M168.7 364.5L152.4 360.1L150.8 367.6L167.4 370.5Z" fill="#f6a25a"/>
<path d="M153.0 360.3L144.6 358.0L142.8 366.2L151.4 367.7Z" fill="#fcdc98"/>
<path d="M145.2 358.1L113.2 349.4L110.7 360.7L143.4 366.3Z" fill="#75aad4"/>
<path d="M113.8 349.6L89.6 343.0L86.6 356.6L111.3 360.8Z" fill="#a6d1e7"/>
<path d="M183.5 372.9L174.9 371.3L174.2 376.6L182.9 377.3Z" fill="#75aad4"/>
<path d="M175.5 371.4L166.9 369.9L166.1 375.9L174.8 376.7Z" fill="#dcf0f6"/>
<path d="M167.5 370.0L158.9 368.4L158.0 375.3L166.7 376.0Z" fill="#f6a25a"/>
<path d="M159.5 368.5L150.9 367.0L149.9 374.6L158.6 375.3Z" fill="#fbbd70"/>
<path d="M151.5 367.1L134.9 364.1L133.7 373.2L150.5 374.6Z" fill="#f2ecd0"/>
<path d="M135.5 364.2L126.9 362.6L125.6 372.6L134.3 373.3Z" fill="#4e7fc0"/>
<path d="M127.5 362.7L94.8 356.9L93.1 369.9L126.2 372.6Z" fill="#a6d1e7"/>
<path d="M95.4 357.0L86.8 355.4L85.0 369.2L93.7 369.9Z" fill="#75aad4"/>
<path d="M183.0 377.0L174.3 376.2L174.0 381.5L182.8 381.5Z" fill="#75aad4"/>
<path d="M174.9 376.2L166.2 375.4L165.9 381.6L174.6 381.5Z" fill="#dcf0f6"/>
<path d="M166.8 375.5L158.1 374.7L157.8 381.6L166.5 381.6Z" fill="#fcdc98"/>
<path d="M158.6 374.7L149.9 373.9L149.6 381.6L158.4 381.6Z" fill="#dcf0f6"/>
<path d="M150.5 374.0L141.8 373.2L141.5 381.7L150.2 381.6Z" fill="#a6d1e7"/>
<path d="M142.4 373.3L133.7 372.5L133.3 381.7L142.1 381.7Z" fill="#f2ecd0"/>
<path d="M134.3 372.5L125.6 371.7L125.2 381.7L133.9 381.7Z" fill="#fcdc98"/>
<path d="M126.2 371.8L93.2 368.8L92.6 381.9L125.8 381.7Z" fill="#fbbd70"/>
<path d="M93.8 368.8L85.1 368.0L84.5 381.9L93.2 381.8Z" fill="#fcdc98"/>
<path d="M182.8 381.1L174.0 381.1L174.3 386.4L183.0 385.6Z" fill="#dcf0f6"/>
<path d="M174.6 381.1L157.8 381.0L158.1 387.9L174.9 386.4Z" fill="#a6d1e7"/>
<path d="M158.4 381.0L149.6 381.0L149.9 388.7L158.6 387.9Z" fill="#75aad4"/>
<path d="M150.2 381.0L141.5 380.9L141.8 389.4L150.5 388.6Z" fill="#dcf0f6"/>
<path d="M142.1 380.9L133.3 380.9L133.7 390.1L142.4 389.3Z" fill="#fcdc98"/>
<path d="M133.9 380.9L84.5 380.7L85.1 394.6L134.3 390.1Z" fill="#fbbd70"/>
<path d="M182.9 385.3L174.2 386.0L174.9 391.3L183.5 389.7Z" fill="#dcf0f6"/>
<path d="M174.8 385.9L166.1 386.7L166.9 392.7L175.5 391.2Z" fill="#a6d1e7"/>
<path d="M166.7 386.6L158.0 387.3L158.9 394.2L167.5 392.6Z" fill="#75aad4"/>
<path d="M158.6 387.3L149.9 388.0L150.9 395.6L159.5 394.1Z" fill="#3a5aa6"/>
<path d="M150.5 388.0L133.7 389.4L134.9 398.5L151.5 395.5Z" fill="#75aad4"/>
<path d="M134.3 389.3L125.6 390.0L126.9 400.0L135.5 398.4Z" fill="#a6d1e7"/>
<path d="M126.2 390.0L109.3 391.4L110.8 402.9L127.5 399.9Z" fill="#75aad4"/>
<path d="M109.9 391.3L101.2 392.1L102.8 404.3L111.4 402.7Z" fill="#a6d1e7"/>
<path d="M101.8 392.0L85.0 393.4L86.8 407.2L103.4 404.2Z" fill="#dcf0f6"/>
<path d="M183.5 389.4L174.8 390.8L176.0 396.1L184.4 393.8Z" fill="#f2ecd0"/>
<path d="M175.4 390.7L166.8 392.2L168.2 398.2L176.6 395.9Z" fill="#dcf0f6"/>
<path d="M167.4 392.1L158.8 393.6L160.3 400.4L168.7 398.1Z" fill="#75aad4"/>
<path d="M159.4 393.5L150.8 395.0L152.4 402.5L160.9 400.2Z" fill="#4e7fc0"/>
<path d="M151.4 394.9L142.8 396.4L144.6 404.6L153.0 402.3Z" fill="#75aad4"/>
<path d="M143.4 396.3L134.7 397.8L136.7 406.8L145.2 404.5Z" fill="#dcf0f6"/>
<path d="M135.3 397.7L110.7 401.9L113.2 413.2L137.3 406.6Z" fill="#f2ecd0"/>
<path d="M111.3 401.8L94.6 404.7L97.5 417.5L113.8 413.0Z" fill="#fcdc98"/>
<path d="M95.2 404.6L86.6 406.0L89.6 419.6L98.1 417.3Z" fill="#a6d1e7"/>
<path d="M184.3 393.4L168.0 397.7L169.9 403.6L185.7 397.7Z" fill="#f2ecd0"/>
<path d="M168.6 397.6L160.1 399.8L162.2 406.4L170.4 403.4Z" fill="#a6d1e7"/>
<path d="M160.7 399.6L144.4 403.9L147.0 412.0L162.8 406.2Z" fill="#4e7fc0"/>
<path d="M145.0 403.8L128.7 408.1L131.7 417.6L147.5 411.8Z" fill="#f2ecd0"/>
<path d="M129.2 407.9L120.8 410.2L124.0 420.5L132.2 417.4Z" fill="#75aad4"/>
<path d="M121.4 410.0L112.9 412.2L116.4 423.3L124.6 420.2Z" fill="#fcdc98"/>
<path d="M113.5 412.1L89.3 418.5L93.5 431.7L117.0 423.1Z" fill="#fbbd70"/>
<path d="M185.6 397.4L169.7 403.1L172.0 408.8L187.3 401.6Z" fill="#f2ecd0"/>
<path d="M170.3 402.9L162.0 405.8L164.7 412.2L172.6 408.5Z" fill="#dcf0f6"/>
<path d="M162.6 405.6L154.4 408.6L157.3 415.7L165.2 412.0Z" fill="#a6d1e7"/>
<path d="M154.9 408.4L139.0 414.1L142.6 422.6L157.9 415.4Z" fill="#fbbd70"/>
<path d="M139.6 413.9L123.7 419.6L127.9 429.6L143.1 422.4Z" fill="#75aad4"/>
<path d="M124.3 419.4L116.1 422.4L120.5 433.0L128.4 429.3Z" fill="#a6d1e7"/>
<path d="M116.6 422.2L108.4 425.1L113.1 436.5L121.0 432.8Z" fill="#75aad4"/>
<path d="M109.0 424.9L100.8 427.9L105.8 440.0L113.7 436.3Z" fill="#a6d1e7"/>
<path d="M101.3 427.7L93.1 430.6L98.4 443.4L106.3 439.7Z" fill="#fcdc98"/>
<path d="M187.1 401.2L179.2 404.9L181.7 409.6L189.2 405.2Z" fill="#f2ecd0"/>
<path d="M179.8 404.6L171.8 408.3L174.6 413.7L182.2 409.3Z" fill="#a6d1e7"/>
<path d="M172.4 408.0L164.4 411.7L167.6 417.8L175.2 413.4Z" fill="#dcf0f6"/>
<path d="M165.0 411.4L157.0 415.1L160.6 421.9L168.1 417.5Z" fill="#fcdc98"/>
<path d="M157.6 414.9L142.3 421.9L146.5 430.1L161.1 421.6Z" fill="#fbbd70"/>
<path d="M142.8 421.7L120.1 432.2L125.4 442.4L147.0 429.8Z" fill="#fcdc98"/>
<path d="M120.6 431.9L97.9 442.4L104.3 454.7L125.9 442.1Z" fill="#dcf0f6"/>
<path d="M189.0 404.9L181.5 409.2L184.3 413.8L191.5 408.7Z" fill="#fbbd70"/>
<path d="M182.0 408.9L167.3 417.3L171.0 423.2L184.8 413.4Z" fill="#75aad4"/>
<path d="M167.8 417.0L153.2 425.4L157.7 432.5L171.5 422.8Z" fill="#f6a25a"/>
<path d="M153.7 425.1L146.1 429.4L151.1 437.2L158.2 432.2Z" fill="#fbbd70"/>
<path d="M146.7 429.1L139.1 433.5L144.4 441.9L151.6 436.9Z" fill="#f6a25a"/>
<path d="M139.6 433.2L132.0 437.5L137.8 446.6L144.9 441.6Z" fill="#fbbd70"/>
<path d="M132.5 437.2L117.9 445.6L124.5 456.0L138.3 446.3Z" fill="#fcdc98"/>
<path d="M118.4 445.3L110.8 449.7L117.9 460.7L125.0 455.7Z" fill="#dcf0f6"/>
<path d="M111.3 449.4L103.7 453.7L111.2 465.4L118.3 460.4Z" fill="#fcdc98"/>
<path d="M191.3 408.4L184.1 413.4L187.3 417.6L194.0 412.0Z" fill="#fbbd70"/>
<path d="M184.6 413.0L177.4 418.0L181.1 422.9L187.8 417.3Z" fill="#fcdc98"/>
<path d="M177.9 417.7L170.7 422.7L174.9 428.2L181.6 422.5Z" fill="#75aad4"/>
<path d="M171.2 422.3L157.3 432.0L162.5 438.7L175.4 427.8Z" fill="#fcdc98"/>
<path d="M157.8 431.6L144.0 441.2L150.1 449.2L162.9 438.3Z" fill="#fbbd70"/>
<path d="M144.5 440.9L137.3 445.9L143.8 454.4L150.5 448.8Z" fill="#dcf0f6"/>
<path d="M137.8 445.5L130.6 450.5L137.6 459.7L144.3 454.1Z" fill="#fcdc98"/>
<path d="M131.1 450.2L123.9 455.2L131.4 465.0L138.1 459.3Z" fill="#f2ecd0"/>
<path d="M124.4 454.8L117.2 459.8L125.2 470.2L131.9 464.6Z" fill="#dcf0f6"/>
<path d="M117.7 459.5L110.5 464.4L119.0 475.5L125.7 469.8Z" fill="#f2ecd0"/>
<path d="M193.8 411.7L187.0 417.3L190.7 421.2L196.8 415.0Z" fill="#a6d1e7"/>
<path d="M187.5 416.9L180.8 422.5L184.9 427.0L191.1 420.8Z" fill="#fbbd70"/>
<path d="M181.3 422.1L168.3 432.9L173.5 438.6L185.4 426.6Z" fill="#75aad4"/>
<path d="M168.7 432.5L162.0 438.1L167.7 444.4L173.9 438.2Z" fill="#a6d1e7"/>
<path d="M162.5 437.7L155.8 443.3L162.0 450.1L168.2 443.9Z" fill="#fcdc98"/>
<path d="M156.2 442.9L137.0 459.0L144.8 467.5L162.4 449.7Z" fill="#dcf0f6"/>
<path d="M137.5 458.6L130.7 464.2L139.1 473.3L145.2 467.0Z" fill="#75aad4"/>
<path d="M131.2 463.8L124.5 469.4L133.3 479.0L139.5 472.8Z" fill="#a6d1e7"/>
<path d="M125.0 469.0L118.2 474.6L127.6 484.8L133.8 478.6Z" fill="#dcf0f6"/>
<path d="M196.6 414.8L190.4 420.9L194.3 424.6L199.9 417.8Z" fill="#a6d1e7"/>
<path d="M190.8 420.5L184.6 426.7L189.1 430.8L194.7 424.1Z" fill="#fbbd70"/>
<path d="M185.0 426.2L167.2 443.9L173.5 449.6L189.5 430.3Z" fill="#a6d1e7"/>
<path d="M167.7 443.4L161.5 449.6L168.3 455.8L173.9 449.1Z" fill="#dcf0f6"/>
<path d="M161.9 449.2L155.7 455.3L163.1 462.1L168.7 455.4Z" fill="#a6d1e7"/>
<path d="M156.1 454.9L144.1 466.8L152.6 474.6L163.4 461.6Z" fill="#75aad4"/>
<path d="M144.6 466.4L138.3 472.5L147.4 480.9L153.0 474.1Z" fill="#4e7fc0"/>
<path d="M138.8 472.1L126.8 484.0L137.0 493.4L147.8 480.4Z" fill="#75aad4"/>
<path d="M199.6 417.6L188.7 430.5L193.6 434.2L203.2 420.3Z" fill="#dcf0f6"/>
<path d="M189.1 430.0L178.2 442.9L184.3 447.6L193.9 433.7Z" fill="#a6d1e7"/>
<path d="M178.6 442.4L172.9 449.1L179.6 454.3L184.6 447.1Z" fill="#dcf0f6"/>
<path d="M173.3 448.7L162.4 461.5L170.4 467.6L180.0 453.8Z" fill="#a6d1e7"/>
<path d="M162.8 461.1L151.9 474.0L161.1 481.0L170.7 467.1Z" fill="#75aad4"/>
<path d="M152.3 473.5L136.1 492.6L147.2 501.1L161.4 480.5Z" fill="#4e7fc0"/>
<path d="M202.9 420.1L197.8 427.3L202.4 430.1L206.7 422.6Z" fill="#dcf0f6"/>
<path d="M198.2 426.8L193.1 433.9L198.3 437.2L202.7 429.6Z" fill="#a6d1e7"/>
<path d="M193.5 433.4L188.4 440.6L194.3 444.3L198.6 436.7Z" fill="#dcf0f6"/>
<path d="M188.8 440.1L179.1 453.9L186.2 458.4L194.6 443.8Z" fill="#f2ecd0"/>
<path d="M179.4 453.4L174.4 460.5L182.2 465.5L186.5 457.9Z" fill="#dcf0f6"/>
<path d="M174.7 460.0L169.7 467.2L178.1 472.5L182.5 464.9Z" fill="#f2ecd0"/>
<path d="M170.0 466.7L165.0 473.8L174.1 479.6L178.4 472.0Z" fill="#dcf0f6"/>
<path d="M165.3 473.3L146.2 500.4L157.9 507.9L174.4 479.1Z" fill="#a6d1e7"/>
<path d="M206.4 422.4L202.0 429.9L206.7 432.4L210.4 424.5Z" fill="#fcdc98"/>
<path d="M202.3 429.4L197.9 437.0L203.3 439.8L207.0 431.8Z" fill="#a6d1e7"/>
<path d="M198.2 436.4L193.8 444.0L199.9 447.2L203.6 439.2Z" fill="#fbbd70"/>
<path d="M194.1 443.5L189.7 451.0L196.5 454.6L200.2 446.6Z" fill="#f2ecd0"/>
<path d="M190.0 450.5L177.4 472.1L186.3 476.7L196.7 454.0Z" fill="#dcf0f6"/>
<path d="M177.7 471.6L156.9 507.3L169.2 513.7L186.5 476.2Z" fill="#a6d1e7"/>
<path d="M210.0 424.3L206.3 432.2L211.3 434.3L214.2 426.0Z" fill="#fcdc98"/>
<path d="M206.6 431.7L199.4 446.9L205.8 449.6L211.5 433.7Z" fill="#fbbd70"/>
<path d="M199.6 446.4L195.9 454.3L203.0 457.2L206.0 449.0Z" fill="#fcdc98"/>
<path d="M196.2 453.7L192.4 461.7L200.3 464.9L203.2 456.7Z" fill="#dcf0f6"/>
<path d="M192.7 461.1L185.5 476.4L194.7 480.2L200.5 464.3Z" fill="#f2ecd0"/>
<path d="M185.8 475.8L178.6 491.1L189.2 495.5L195.0 479.6Z" fill="#a6d1e7"/>
<path d="M178.8 490.6L175.1 498.5L186.5 503.2L189.4 495.0Z" fill="#75aad4"/>
<path d="M175.3 497.9L168.2 513.2L181.0 518.5L186.7 502.6Z" fill="#a6d1e7"/>
<path d="M213.9 425.9L210.8 434.1L216.0 435.7L218.2 427.3Z" fill="#f2ecd0"/>
<path d="M211.0 433.5L208.0 441.7L213.9 443.6L216.1 435.1Z" fill="#f6a25a"/>
<path d="M208.2 441.2L205.2 449.4L211.8 451.5L214.0 443.0Z" fill="#fcdc98"/>
<path d="M205.4 448.8L202.4 457.0L209.7 459.3L212.0 450.9Z" fill="#75aad4"/>
<path d="M202.6 456.4L199.6 464.6L207.7 467.2L209.9 458.7Z" fill="#fcdc98"/>
<path d="M199.8 464.1L194.0 479.9L203.5 482.9L207.8 466.6Z" fill="#fbbd70"/>
<path d="M194.2 479.4L191.1 487.6L201.4 490.8L203.7 482.4Z" fill="#f2ecd0"/>
<path d="M191.4 487.0L185.5 502.8L197.3 506.5L201.6 490.2Z" fill="#a6d1e7"/>
<path d="M185.7 502.3L179.9 518.1L193.1 522.3L197.4 506.0Z" fill="#75aad4"/>
<path d="M217.8 427.2L215.5 435.6L220.8 436.8L222.2 428.1Z" fill="#f2ecd0"/>
<path d="M215.7 435.0L211.2 451.3L218.0 452.8L220.9 436.2Z" fill="#fcdc98"/>
<path d="M211.4 450.7L209.1 459.2L216.6 460.8L218.1 452.2Z" fill="#75aad4"/>
<path d="M209.3 458.6L207.0 467.0L215.2 468.8L216.7 460.2Z" fill="#a6d1e7"/>
<path d="M207.1 466.4L202.7 482.7L212.5 484.9L215.3 468.2Z" fill="#fcdc98"/>
<path d="M202.8 482.1L200.6 490.6L211.1 492.9L212.6 484.3Z" fill="#fbbd70"/>
<path d="M200.7 490.0L192.0 522.0L205.6 525.0L211.2 492.3Z" fill="#fcdc98"/>
<path d="M221.9 428.1L220.3 436.7L225.6 437.4L226.3 428.7Z" fill="#4e7fc0"/>
<path d="M220.4 436.1L218.9 444.7L224.9 445.5L225.7 436.8Z" fill="#dcf0f6"/>
<path d="M219.0 444.1L217.4 452.7L224.3 453.6L225.0 444.9Z" fill="#fcdc98"/>
<path d="M217.5 452.1L216.0 460.7L223.6 461.7L224.3 453.0Z" fill="#f2ecd0"/>
<path d="M216.1 460.1L214.5 468.7L222.9 469.8L223.6 461.1Z" fill="#a6d1e7"/>
<path d="M214.6 468.1L213.1 476.7L222.2 477.9L223.0 469.2Z" fill="#75aad4"/>
<path d="M213.2 476.1L211.6 484.7L221.6 486.0L222.3 477.3Z" fill="#3a5aa6"/>
<path d="M211.7 484.1L210.2 492.7L220.9 494.2L221.6 485.4Z" fill="#75aad4"/>
<path d="M210.3 492.2L208.7 500.8L220.2 502.3L220.9 493.6Z" fill="#a6d1e7"/>
<path d="M208.9 500.2L207.3 508.8L219.5 510.4L220.3 501.7Z" fill="#fcdc98"/>
<path d="M207.4 508.2L204.4 524.8L218.2 526.6L219.6 509.8Z" fill="#f2ecd0"/>
<path d="M226.0 428.6L225.2 437.3L230.5 437.6L230.5 428.8Z" fill="#4e7fc0"/>
<path d="M225.2 436.7L223.7 453.5L230.6 453.8L230.5 437.0Z" fill="#dcf0f6"/>
<path d="M223.7 453.0L222.2 469.8L230.7 470.1L230.6 453.2Z" fill="#f2ecd0"/>
<path d="M222.3 469.2L221.5 477.9L230.7 478.3L230.7 469.5Z" fill="#dcf0f6"/>
<path d="M221.5 477.3L220.7 486.0L230.7 486.4L230.7 477.7Z" fill="#f2ecd0"/>
<path d="M220.8 485.4L220.0 494.1L230.8 494.5L230.7 485.8Z" fill="#fcdc98"/>
<path d="M220.0 493.5L217.8 518.4L230.9 519.0L230.8 493.9Z" fill="#fbbd70"/>
<path d="M217.8 517.8L217.0 526.5L230.9 527.1L230.8 518.4Z" fill="#fcdc98"/>
<path d="M230.1 428.8L230.1 437.6L235.4 437.3L234.6 428.6Z" fill="#dcf0f6"/>
<path d="M230.1 437.0L230.0 445.7L236.2 445.4L235.4 436.7Z" fill="#4e7fc0"/>
<path d="M230.0 445.1L230.0 453.8L236.9 453.5L236.1 444.8Z" fill="#75aad4"/>
<path d="M230.0 453.2L230.0 462.0L237.7 461.7L236.9 453.0Z" fill="#a6d1e7"/>
<path d="M230.0 461.4L229.9 470.1L238.4 469.8L237.6 461.1Z" fill="#f2ecd0"/>
<path d="M229.9 469.5L229.9 478.3L239.1 477.9L238.3 469.2Z" fill="#fcdc98"/>
<path d="M229.9 477.7L229.7 527.1L243.6 526.5L239.1 477.3Z" fill="#fbbd70"/>
<path d="M234.3 428.7L235.0 437.4L240.3 436.7L238.7 428.1Z" fill="#dcf0f6"/>
<path d="M234.9 436.8L235.7 445.5L241.7 444.7L240.2 436.1Z" fill="#4e7fc0"/>
<path d="M235.6 444.9L236.3 453.6L243.2 452.7L241.6 444.1Z" fill="#a6d1e7"/>
<path d="M236.3 453.0L237.7 469.8L246.1 468.7L243.1 452.1Z" fill="#75aad4"/>
<path d="M237.6 469.2L238.4 477.9L247.5 476.7L246.0 468.1Z" fill="#dcf0f6"/>
<path d="M238.3 477.3L239.0 486.0L249.0 484.7L247.4 476.1Z" fill="#fcdc98"/>
<path d="M239.0 485.4L240.4 502.3L251.9 500.8L248.9 484.1Z" fill="#fbbd70"/>
<path d="M240.3 501.7L242.4 526.6L256.2 524.8L251.7 500.2Z" fill="#fcdc98"/>
<path d="M238.4 428.1L239.8 436.8L245.1 435.6L242.8 427.2Z" fill="#fbbd70"/>
<path d="M239.7 436.2L241.2 444.8L247.2 443.4L244.9 435.0Z" fill="#f2ecd0"/>
<path d="M241.1 444.2L242.6 452.8L249.4 451.3L247.1 442.9Z" fill="#a6d1e7"/>
<path d="M242.5 452.2L244.0 460.8L251.5 459.2L249.2 450.7Z" fill="#75aad4"/>
<path d="M243.9 460.2L246.8 476.9L255.8 474.9L251.3 458.6Z" fill="#4e7fc0"/>
<path d="M246.7 476.3L248.1 484.9L257.9 482.7L255.6 474.3Z" fill="#a6d1e7"/>
<path d="M248.0 484.3L249.5 492.9L260.0 490.6L257.8 482.1Z" fill="#dcf0f6"/>
<path d="M249.4 492.3L250.9 500.9L262.2 498.4L259.9 490.0Z" fill="#a6d1e7"/>
<path d="M250.8 500.3L253.7 517.0L266.5 514.1L262.0 497.8Z" fill="#f2ecd0"/>
<path d="M253.6 516.4L255.0 525.0L268.6 522.0L266.3 513.5Z" fill="#fcdc98"/>
<path d="M242.4 427.3L246.7 443.6L252.6 441.7L246.7 425.9Z" fill="#fbbd70"/>
<path d="M246.6 443.0L248.8 451.5L255.4 449.4L252.4 441.2Z" fill="#a6d1e7"/>
<path d="M248.6 450.9L250.9 459.3L258.2 457.0L255.2 448.8Z" fill="#75aad4"/>
<path d="M250.7 458.7L255.0 475.1L263.8 472.3L258.0 456.4Z" fill="#f2ecd0"/>
<path d="M254.9 474.5L257.1 482.9L266.6 479.9L263.6 471.7Z" fill="#75aad4"/>
<path d="M256.9 482.4L259.2 490.8L269.5 487.6L266.4 479.4Z" fill="#dcf0f6"/>
<path d="M259.0 490.2L261.2 498.7L272.3 495.2L269.2 487.0Z" fill="#a6d1e7"/>
<path d="M261.1 498.1L263.3 506.5L275.1 502.8L272.1 494.6Z" fill="#dcf0f6"/>
<path d="M263.2 506.0L265.4 514.4L277.9 510.5L274.9 502.3Z" fill="#75aad4"/>
<path d="M265.2 513.8L267.5 522.3L280.7 518.1L277.7 509.9Z" fill="#dcf0f6"/>
<path d="M246.4 426.0L249.3 434.3L254.3 432.2L250.6 424.3Z" fill="#fcdc98"/>
<path d="M249.1 433.7L252.1 441.9L257.8 439.6L254.0 431.7Z" fill="#fbbd70"/>
<path d="M251.9 441.3L254.8 449.6L261.2 446.9L257.5 439.0Z" fill="#a6d1e7"/>
<path d="M254.6 449.0L257.6 457.2L264.7 454.3L261.0 446.4Z" fill="#fcdc98"/>
<path d="M257.4 456.7L263.1 472.6L271.6 469.0L264.4 453.7Z" fill="#fbbd70"/>
<path d="M262.9 472.0L265.9 480.2L275.1 476.4L271.4 468.5Z" fill="#f2ecd0"/>
<path d="M265.6 479.6L268.6 487.9L278.6 483.7L274.8 475.8Z" fill="#dcf0f6"/>
<path d="M268.4 487.3L279.6 518.5L292.4 513.2L278.3 483.2Z" fill="#75aad4"/>
<path d="M250.2 424.5L257.3 439.8L262.7 437.0L254.2 422.4Z" fill="#fcdc98"/>
<path d="M257.0 439.2L260.7 447.2L266.8 444.0L262.4 436.4Z" fill="#a6d1e7"/>
<path d="M260.4 446.6L267.5 462.0L275.0 458.0L266.5 443.5Z" fill="#fbbd70"/>
<path d="M267.3 461.4L274.3 476.7L283.2 472.1L274.7 457.5Z" fill="#fcdc98"/>
<path d="M274.1 476.2L281.2 491.5L291.4 486.2L282.9 471.6Z" fill="#a6d1e7"/>
<path d="M280.9 491.0L291.4 513.7L303.7 507.3L291.1 485.7Z" fill="#75aad4"/>
<path d="M253.9 422.6L258.2 430.1L262.8 427.3L257.7 420.1Z" fill="#fcdc98"/>
<path d="M257.9 429.6L262.3 437.2L267.5 433.9L262.4 426.8Z" fill="#dcf0f6"/>
<path d="M262.0 436.7L266.3 444.3L272.2 440.6L267.1 433.4Z" fill="#fcdc98"/>
<path d="M266.0 443.8L274.4 458.4L281.5 453.9L271.8 440.1Z" fill="#fbbd70"/>
<path d="M274.1 457.9L278.4 465.5L286.2 460.5L281.2 453.4Z" fill="#fcdc98"/>
<path d="M278.1 464.9L286.5 479.6L295.6 473.8L285.9 460.0Z" fill="#f2ecd0"/>
<path d="M286.2 479.1L290.6 486.7L300.3 480.5L295.3 473.3Z" fill="#75aad4"/>
<path d="M290.3 486.1L302.7 507.9L314.4 500.4L300.0 480.0Z" fill="#a6d1e7"/>
<path d="M257.4 420.3L262.4 427.5L266.6 424.3L261.0 417.6Z" fill="#fcdc98"/>
<path d="M262.0 427.0L267.0 434.2L271.9 430.5L266.3 423.8Z" fill="#a6d1e7"/>
<path d="M266.7 433.7L271.7 440.9L277.2 436.7L271.5 430.0Z" fill="#3a5aa6"/>
<path d="M271.3 440.4L290.2 467.6L298.2 461.5L276.8 436.2Z" fill="#f2ecd0"/>
<path d="M289.9 467.1L299.5 481.0L308.7 474.0L297.8 461.1Z" fill="#fcdc98"/>
<path d="M299.2 480.5L308.8 494.4L319.2 486.4L308.3 473.5Z" fill="#fbbd70"/>
<path d="M308.5 493.9L313.4 501.1L324.5 492.6L318.8 485.9Z" fill="#fcdc98"/>
<path d="M260.7 417.8L266.3 424.6L270.2 420.9L264.0 414.8Z" fill="#dcf0f6"/>
<path d="M265.9 424.1L271.5 430.8L276.0 426.7L269.8 420.5Z" fill="#4e7fc0"/>
<path d="M271.1 430.3L281.9 443.3L287.6 438.1L275.6 426.2Z" fill="#3a5aa6"/>
<path d="M281.5 442.9L287.1 449.6L293.4 443.9L287.2 437.7Z" fill="#75aad4"/>
<path d="M286.7 449.1L292.3 455.8L299.1 449.6L292.9 443.4Z" fill="#a6d1e7"/>
<path d="M291.9 455.4L297.5 462.1L304.9 455.3L298.7 449.2Z" fill="#fcdc98"/>
<path d="M297.2 461.6L323.6 493.4L333.8 484.0L304.5 454.9Z" fill="#fbbd70"/>
<path d="M263.8 415.0L269.9 421.2L273.6 417.3L266.8 411.7Z" fill="#dcf0f6"/>
<path d="M269.5 420.8L275.7 427.0L279.8 422.5L273.1 416.9Z" fill="#4e7fc0"/>
<path d="M275.2 426.6L287.1 438.6L292.3 432.9L279.3 422.1Z" fill="#a6d1e7"/>
<path d="M286.7 438.2L298.6 450.1L304.8 443.3L291.9 432.5Z" fill="#75aad4"/>
<path d="M298.2 449.7L315.8 467.5L323.6 459.0L304.4 442.9Z" fill="#f2ecd0"/>
<path d="M315.4 467.0L327.3 479.0L336.1 469.4L323.1 458.6Z" fill="#fcdc98"/>
<path d="M326.8 478.6L333.0 484.8L342.4 474.6L335.6 469.0Z" fill="#f2ecd0"/>
<path d="M266.6 412.0L273.3 417.6L276.5 413.4L269.3 408.4Z" fill="#3a5aa6"/>
<path d="M272.8 417.3L285.7 428.2L289.9 422.7L276.0 413.0Z" fill="#a6d1e7"/>
<path d="M285.2 427.8L291.9 433.4L296.6 427.3L289.4 422.3Z" fill="#4e7fc0"/>
<path d="M291.4 433.0L316.8 454.4L323.3 445.9L296.1 427.0Z" fill="#75aad4"/>
<path d="M316.3 454.1L323.0 459.7L330.0 450.5L322.8 445.5Z" fill="#a6d1e7"/>
<path d="M322.5 459.3L335.4 470.2L343.4 459.8L329.5 450.2Z" fill="#dcf0f6"/>
<path d="M334.9 469.8L341.6 475.5L350.1 464.4L342.9 459.5Z" fill="#f2ecd0"/>
<path d="M269.1 408.7L276.3 413.8L279.1 409.2L271.6 404.9Z" fill="#3a5aa6"/>
<path d="M275.8 413.4L289.6 423.2L293.3 417.3L278.6 408.9Z" fill="#4e7fc0"/>
<path d="M289.1 422.8L302.9 432.5L307.4 425.4L292.8 417.0Z" fill="#75aad4"/>
<path d="M302.4 432.2L316.2 441.9L321.5 433.5L306.9 425.1Z" fill="#a6d1e7"/>
<path d="M315.7 441.6L342.7 460.7L349.8 449.7L321.0 433.2Z" fill="#75aad4"/>
<path d="M342.3 460.4L349.4 465.4L356.9 453.7L349.3 449.4Z" fill="#a6d1e7"/>
<path d="M271.4 405.2L278.9 409.6L281.4 404.9L273.5 401.2Z" fill="#4e7fc0"/>
<path d="M278.4 409.3L286.0 413.7L288.8 408.3L280.8 404.6Z" fill="#3a5aa6"/>
<path d="M285.4 413.4L293.0 417.8L296.2 411.7L288.2 408.0Z" fill="#fbbd70"/>
<path d="M292.5 417.5L300.0 421.9L303.6 415.1L295.6 411.4Z" fill="#f2ecd0"/>
<path d="M299.5 421.6L314.1 430.1L318.3 421.9L303.0 414.9Z" fill="#4e7fc0"/>
<path d="M313.6 429.8L335.2 442.4L340.5 432.2L317.8 421.7Z" fill="#a6d1e7"/>
<path d="M334.7 442.1L356.3 454.7L362.7 442.4L340.0 431.9Z" fill="#75aad4"/>
<path d="M273.3 401.6L281.2 405.3L283.3 400.3L275.0 397.4Z" fill="#4e7fc0"/>
<path d="M280.7 405.0L288.6 408.8L290.9 403.1L282.7 400.1Z" fill="#f2ecd0"/>
<path d="M288.0 408.5L303.3 415.7L306.2 408.6L290.3 402.9Z" fill="#fbbd70"/>
<path d="M302.7 415.4L318.0 422.6L321.6 414.1L305.7 408.4Z" fill="#4e7fc0"/>
<path d="M317.5 422.4L325.4 426.1L329.2 416.9L321.0 413.9Z" fill="#75aad4"/>
<path d="M324.8 425.8L362.2 443.4L367.5 430.6L328.6 416.6Z" fill="#a6d1e7"/>
<path d="M274.9 397.7L283.1 400.8L284.7 395.6L276.3 393.4Z" fill="#dcf0f6"/>
<path d="M282.5 400.6L306.0 409.2L308.3 401.9L284.1 395.5Z" fill="#f6a25a"/>
<path d="M305.4 409.0L313.6 412.0L316.2 403.9L307.7 401.7Z" fill="#fcdc98"/>
<path d="M313.1 411.8L321.3 414.8L324.1 406.0L315.6 403.8Z" fill="#75aad4"/>
<path d="M320.7 414.6L336.6 420.5L339.8 410.2L323.5 405.9Z" fill="#4e7fc0"/>
<path d="M336.0 420.2L367.1 431.7L371.3 418.5L339.2 410.0Z" fill="#a6d1e7"/>
<path d="M276.2 393.8L284.6 396.1L285.8 390.8L277.1 389.4Z" fill="#dcf0f6"/>
<path d="M284.0 395.9L292.4 398.2L293.8 392.2L285.2 390.7Z" fill="#fbbd70"/>
<path d="M291.9 398.1L308.2 402.5L309.8 395.0L293.2 392.1Z" fill="#f6a25a"/>
<path d="M307.6 402.3L316.0 404.6L317.8 396.4L309.2 394.9Z" fill="#fbbd70"/>
<path d="M315.4 404.5L323.9 406.8L325.9 397.8L317.2 396.3Z" fill="#a6d1e7"/>
<path d="M323.3 406.6L331.7 408.9L333.9 399.1L325.3 397.7Z" fill="#4e7fc0"/>
<path d="M331.1 408.8L371.0 419.6L374.0 406.0L333.3 399.0Z" fill="#a6d1e7"/>
<path d="M277.1 389.7L293.7 392.7L294.5 386.7L277.7 385.3Z" fill="#75aad4"/>
<path d="M293.1 392.6L301.7 394.2L302.6 387.3L293.9 386.6Z" fill="#f6a25a"/>
<path d="M301.1 394.1L317.7 397.1L318.8 388.7L302.0 387.3Z" fill="#dcf0f6"/>
<path d="M317.1 397.0L325.7 398.5L326.9 389.4L318.2 388.6Z" fill="#4e7fc0"/>
<path d="M325.1 398.4L333.7 400.0L335.0 390.0L326.3 389.3Z" fill="#75aad4"/>
<path d="M333.1 399.9L341.7 401.4L343.2 390.7L334.4 390.0Z" fill="#a6d1e7"/>
<path d="M341.2 401.3L349.8 402.9L351.3 391.4L342.6 390.7Z" fill="#75aad4"/>
<path d="M349.2 402.7L373.8 407.2L375.6 393.4L350.7 391.3Z" fill="#a6d1e7"/>
<path d="M277.6 385.6L294.4 387.2L294.7 381.0L277.8 381.1Z" fill="#75aad4"/>
<path d="M293.8 387.1L326.9 390.1L327.3 380.9L294.1 381.0Z" fill="#a6d1e7"/>
<path d="M326.3 390.1L343.1 391.6L343.5 380.8L326.7 380.9Z" fill="#75aad4"/>
<path d="M342.5 391.6L367.4 393.8L368.0 380.7L342.9 380.8Z" fill="#3a5aa6"/>
<path d="M366.8 393.8L375.5 394.6L376.1 380.7L367.4 380.8Z" fill="#4e7fc0"/>
</g>
<g fill="none" stroke="#fff6b8" stroke-width="1">
<circle cx="230.3" cy="381.3" r="47.83"/>
<circle cx="230.3" cy="381.3" r="95.67"/>
<circle cx="230.3" cy="381.3" r="143.50"/>
<path d="M230.5 237.8V524.8M86.8 381.5H373.8M230.3 381.3L331.8 279.8M230.3 381.3L128.8 279.8M230.3 381.3L128.8 482.8M230.3 381.3L331.8 482.8"/>
</g>
<path d="M230.3 381.3L298.3 403" stroke="#ffa500" stroke-width="1.4" fill="none"/>
<path d="M298.6 402.5L304.3 383" stroke="#ffa500" stroke-width="5.5" stroke-linecap="round" fill="none"/>
<path d="M510.7 465.4L666.6 384.7M666.6 384.7L933.3 431.4M533.0 453.9L540.5 455.2M555.2 442.3L562.7 443.6M577.5 430.8L585.0 432.1M599.8 419.3L607.3 420.6M622.1 407.8L629.6 409.1M644.3 396.2L651.8 397.5M666.6 384.7L674.1 386.0" stroke="#f8f8c0" stroke-width="1" fill="none"/>
<style>.sa{fill:#689ad0;stroke:#689ad0}.sb{fill:#699bd0;stroke:#699bd0}.sc{fill:#6a9cd1;stroke:#6a9cd1}.sd{fill:#6899d0;stroke:#6899d0}.se{fill:#6799d0;stroke:#6799d0}.sf{fill:#6697cf;stroke:#6697cf}.sg{fill:#6d9fd2;stroke:#6d9fd2}.sh{fill:#6496ce;stroke:#6496ce}.si{fill:#6c9dd2;stroke:#6c9dd2}.sj{fill:#6b9dd2;stroke:#6b9dd2}.sk{fill:#6698cf;stroke:#6698cf}.sl{fill:#6d9ed2;stroke:#6d9ed2}.sm{fill:#6799cf;stroke:#6799cf}.sn{fill:#72a3d5;stroke:#72a3d5}.so{fill:#6b9dd1;stroke:#6b9dd1}.sp{fill:#6ea0d3;stroke:#6ea0d3}.sq{fill:#6192cc;stroke:#6192cc}.sr{fill:#6597cf;stroke:#6597cf}.ss{fill:#73a4d5;stroke:#73a4d5}.st{fill:#6294cd;stroke:#6294cd}.su{fill:#699bd1;stroke:#699bd1}.sv{fill:#74a5d6;stroke:#74a5d6}.sw{fill:#6193cc;stroke:#6193cc}.sx{fill:#70a1d3;stroke:#70a1d3}.sy{fill:#6092cc;stroke:#6092cc}.sz{fill:#6b9cd1;stroke:#6b9cd1}.sba{fill:#71a2d4;stroke:#71a2d4}.sbb{fill:#78a9d8;stroke:#78a9d8}.sbc{fill:#72a3d4;stroke:#72a3d4}.sbd{fill:#6e9fd3;stroke:#6e9fd3}.sbe{fill:#71a3d4;stroke:#71a3d4}.sbf{fill:#9ac6e6;stroke:#9ac6e6}.sbg{fill:#7eaeda;stroke:#7eaeda}.sbh{fill:#6395cd;stroke:#6395cd}.sbi{fill:#d1e8f3;stroke:#d1e8f3}.sbj{fill:#6293cc;stroke:#6293cc}.sbk{fill:#5c8dc9;stroke:#5c8dc9}.sbl{fill:#77a8d7;stroke:#77a8d7}.sbm{fill:#a4cfe9;stroke:#a4cfe9}.sbn{fill:#e1f0f4;stroke:#e1f0f4}.sbo{fill:#6495ce;stroke:#6495ce}.sbp{fill:#6597ce;stroke:#6597ce}.sbq{fill:#6c9ed2;stroke:#6c9ed2}.sbr{fill:#d9ecf4;stroke:#d9ecf4}.sbs{fill:#6092cb;stroke:#6092cb}.sbt{fill:#6fa0d3;stroke:#6fa0d3}.sbu{fill:#a5cfe9;stroke:#a5cfe9}.sbv{fill:#72a4d5;stroke:#72a4d5}.sbw{fill:#e2f1f4;stroke:#e2f1f4}.sbx{fill:#e4f1f4;stroke:#e4f1f4}.sby{fill:#dbedf5;stroke:#dbedf5}.sbz{fill:#699ad0;stroke:#699ad0}.sca{fill:#e0f0f5;stroke:#e0f0f5}.scb{fill:#a5cfea;stroke:#a5cfea}.scc{fill:#ebf4f2;stroke:#ebf4f2}.scd{fill:#e8f3f3;stroke:#e8f3f3}.sce{fill:#dceef5;stroke:#dceef5}.scf{fill:#5f90cb;stroke:#5f90cb}.scg{fill:#6394cd;stroke:#6394cd}.sch{fill:#e5f2f4;stroke:#e5f2f4}.sci{fill:#a1cce8;stroke:#a1cce8}.scj{fill:#6091cb;stroke:#6091cb}.sck{fill:#ecf4f0;stroke:#ecf4f0}.scl{fill:#79a9d8;stroke:#79a9d8}.scm{fill:#ecf4f1;stroke:#ecf4f1}.scn{fill:#76a7d7;stroke:#76a7d7}.sco{fill:#a0cbe8;stroke:#a0cbe8}.scp{fill:#73a5d5;stroke:#73a5d5}.scq{fill:#e7f3f3;stroke:#e7f3f3}.scr{fill:#84b4dd;stroke:#84b4dd}.scs{fill:#76a6d6;stroke:#76a6d6}.sct{fill:#7bacd9;stroke:#7bacd9}.scu{fill:#e7f3f4;stroke:#e7f3f4}.scv{fill:#81b2dc;stroke:#81b2dc}.scw{fill:#a9d2eb;stroke:#a9d2eb}.scx{fill:#eef3ed;stroke:#eef3ed}.scy{fill:#7cacd9;stroke:#7cacd9}.scz{fill:#eaf4f3;stroke:#eaf4f3}.sda{fill:#8fbde1;stroke:#8fbde1}.sdb{fill:#dfeff5;stroke:#dfeff5}.sdc{fill:#f1f3ea;stroke:#f1f3ea}.sdd{fill:#e3f1f4;stroke:#e3f1f4}.sde{fill:#dff0f5;stroke:#dff0f5}.sdf{fill:#75a6d6;stroke:#75a6d6}.sdg{fill:#e6f2f4;stroke:#e6f2f4}.sdh{fill:#86b6de;stroke:#86b6de}.sdi{fill:#afd5ec;stroke:#afd5ec}.sdj{fill:#7dadda;stroke:#7dadda}.sdk{fill:#edf4ef;stroke:#edf4ef}.sdl{fill:#98c5e5;stroke:#98c5e5}.sdm{fill:#79aad8;stroke:#79aad8}.sdn{fill:#81b1db;stroke:#81b1db}.sdo{fill:#e4f2f4;stroke:#e4f2f4}.sdp{fill:#82b2dc;stroke:#82b2dc}.sdq{fill:#91bee2;stroke:#91bee2}.sdr{fill:#a8d1eb;stroke:#a8d1eb}.sds{fill:#80b1db;stroke:#80b1db}.sdt{fill:#99c5e5;stroke:#99c5e5}.sdu{fill:#83b3dd;stroke:#83b3dd}.sdv{fill:#87b7de;stroke:#87b7de}.sdw{fill:#88b8df;stroke:#88b8df}.sdx{fill:#f0f3ea;stroke:#f0f3ea}.sdy{fill:#9cc8e6;stroke:#9cc8e6}.sdz{fill:#98c4e5;stroke:#98c4e5}.sea{fill:#6a9bd1;stroke:#6a9bd1}.seb{fill:#ebf4f1;stroke:#ebf4f1}.sec{fill:#8bbae0;stroke:#8bbae0}.sed{fill:#a2cce8;stroke:#a2cce8}.see{fill:#b7daee;stroke:#b7daee}.sef{fill:#88b7de;stroke:#88b7de}.seg{fill:#91bfe2;stroke:#91bfe2}.seh{fill:#f3f2e4;stroke:#f3f2e4}.sei{fill:#f2f3e7;stroke:#f2f3e7}.sej{fill:#aad3eb;stroke:#aad3eb}.sek{fill:#77a7d7;stroke:#77a7d7}.sel{fill:#8dbbe0;stroke:#8dbbe0}.sem{fill:#a3cee9;stroke:#a3cee9}.sen{fill:#83b3dc;stroke:#83b3dc}.seo{fill:#f2f3e6;stroke:#f2f3e6}.sep{fill:#acd3eb;stroke:#acd3eb}.seq{fill:#c0dff0;stroke:#c0dff0}.ser{fill:#e9f3f3;stroke:#e9f3f3}.ses{fill:#94c1e3;stroke:#94c1e3}.set{fill:#f2f3e8;stroke:#f2f3e8}.seu{fill:#f4f1df;stroke:#f4f1df}.sev{fill:#b5d9ee;stroke:#b5d9ee}.sew{fill:#7fafda;stroke:#7fafda}.sex{fill:#9dc9e7;stroke:#9dc9e7}.sey{fill:#aad2eb;stroke:#aad2eb}.sez{fill:#70a2d4;stroke:#70a2d4}.sfa{fill:#f6efda;stroke:#f6efda}.sfb{fill:#b6d9ee;stroke:#b6d9ee}.sfc{fill:#bcdcef;stroke:#bcdcef}.sfd{fill:#9bc7e6;stroke:#9bc7e6}.sfe{fill:#f5f0dc;stroke:#f5f0dc}.sff{fill:#f3f2e3;stroke:#f3f2e3}.sfg{fill:#b1d6ed;stroke:#b1d6ed}.sfh{fill:#e9f4f3;stroke:#e9f4f3}.sfi{fill:#f5f0db;stroke:#f5f0db}.sfj{fill:#add4ec;stroke:#add4ec}.sfk{fill:#93c1e3;stroke:#93c1e3}.sfl{fill:#9fcae7;stroke:#9fcae7}.sfm{fill:#f3f2e2;stroke:#f3f2e2}.sfn{fill:#b4d8ed;stroke:#b4d8ed}.sfo{fill:#badcef;stroke:#badcef}.sfp{fill:#eff3ed;stroke:#eff3ed}.sfq{fill:#aed5ec;stroke:#aed5ec}.sfr{fill:#8ebce1;stroke:#8ebce1}.sfs{fill:#abd3eb;stroke:#abd3eb}.sft{fill:#eef4ee;stroke:#eef4ee}.sfu{fill:#97c4e4;stroke:#97c4e4}.sfv{fill:#f4f1e1;stroke:#f4f1e1}.sfw{fill:#f0f3eb;stroke:#f0f3eb}.sfx{fill:#e6f3f4;stroke:#e6f3f4}.sfy{fill:#f3f2e5;stroke:#f3f2e5}.sfz{fill:#f3f2e6;stroke:#f3f2e6}.sga{fill:#acd4eb;stroke:#acd4eb}.sgb{fill:#96c3e4;stroke:#96c3e4}.sgc{fill:#edf4ee;stroke:#edf4ee}.sgd{fill:#95c2e4;stroke:#95c2e4}.sge{fill:#f1f3e9;stroke:#f1f3e9}.sgf{fill:#b0d6ec;stroke:#b0d6ec}.sgg{fill:#eff3ec;stroke:#eff3ec}.sgh{fill:#f4f1e0;stroke:#f4f1e0}.sgi{fill:#9ec9e7;stroke:#9ec9e7}.sgj{fill:#f4f1e2;stroke:#f4f1e2}.sgk{fill:#b8daee;stroke:#b8daee}.sgl{fill:#c8e4f2;stroke:#c8e4f2}.sgm{fill:#a3cde9;stroke:#a3cde9}.sgn{fill:#aed4ec;stroke:#aed4ec}.sgo{fill:#f6efd9;stroke:#f6efd9}.sgp{fill:#b1d7ed;stroke:#b1d7ed}.sgq{fill:#a4cee9;stroke:#a4cee9}.sgr{fill:#a2cde9;stroke:#a2cde9}.sgs{fill:#c3e1f1;stroke:#c3e1f1}.sgt{fill:#9ac6e5;stroke:#9ac6e5}.sgu{fill:#a7d1ea;stroke:#a7d1ea}.sgv{fill:#f6eed5;stroke:#f6eed5}.sgw{fill:#a7d0ea;stroke:#a7d0ea}.sgx{fill:#a9d1eb;stroke:#a9d1eb}.sgy{fill:#f5f0dd;stroke:#f5f0dd}.sgz{fill:#deeff5;stroke:#deeff5}.sha{fill:#cbe5f3;stroke:#cbe5f3}.shb{fill:#ddeef5;stroke:#ddeef5}.shc{fill:#f6efd7;stroke:#f6efd7}.shd{fill:#f5f0de;stroke:#f5f0de}.she{fill:#ddeff5;stroke:#ddeff5}.shf{fill:#8ab9df;stroke:#8ab9df}.shg{fill:#cee7f3;stroke:#cee7f3}.shh{fill:#a6d0ea;stroke:#a6d0ea}.shi{fill:#eaf4f2;stroke:#eaf4f2}.shj{fill:#e1f0f5;stroke:#e1f0f5}.shk{fill:#81b1dc;stroke:#81b1dc}.shl{fill:#cfe7f3;stroke:#cfe7f3}.shm{fill:#f6eed6;stroke:#f6eed6}.shn{fill:#92bfe2;stroke:#92bfe2}.sho{fill:#eff3eb;stroke:#eff3eb}.shp{fill:#a2cde8;stroke:#a2cde8}.shq{fill:#f6efd8;stroke:#f6efd8}.shr{fill:#f2f3e9;stroke:#f2f3e9}.shs{fill:#d2e9f3;stroke:#d2e9f3}.sht{fill:#8cbbe0;stroke:#8cbbe0}.shu{fill:#90bee1;stroke:#90bee1}.shv{fill:#d3e9f4;stroke:#d3e9f4}.shw{fill:#8bb9e0;stroke:#8bb9e0}.shx{fill:#89b8df;stroke:#89b8df}.shy{fill:#cde6f3;stroke:#cde6f3}.shz{fill:#93c0e3;stroke:#93c0e3}.sia{fill:#7daeda;stroke:#7daeda}.sib{fill:#edf4f0;stroke:#edf4f0}.sic{fill:#80b0db;stroke:#80b0db}.sid{fill:#7aabd8;stroke:#7aabd8}.sie{fill:#f4f1de;stroke:#f4f1de}.sif{fill:#7eafda;stroke:#7eafda}.sig{fill:#7fb0db;stroke:#7fb0db}.sih{fill:#f7edd2;stroke:#f7edd2}.sii{fill:#7aaad8;stroke:#7aaad8}.sij{fill:#f7edd3;stroke:#f7edd3}.sik{fill:#94c2e3;stroke:#94c2e3}.sil{fill:#74a6d6;stroke:#74a6d6}.sim{fill:#78a9d7;stroke:#78a9d7}.sin{fill:#7cadd9;stroke:#7cadd9}.sio{fill:#bdddef;stroke:#bdddef}.sip{fill:#d7ebf4;stroke:#d7ebf4}.siq{fill:#b2d7ed;stroke:#b2d7ed}.sir{fill:#8dbce1;stroke:#8dbce1}.sis{fill:#76a7d6;stroke:#76a7d6}.sit{fill:#7aabd9;stroke:#7aabd9}.siu{fill:#cae5f2;stroke:#cae5f2}.siv{fill:#cae4f2;stroke:#cae4f2}.siw{fill:#cce6f3;stroke:#cce6f3}.six{fill:#c9e4f2;stroke:#c9e4f2}.siy{fill:#c5e2f2;stroke:#c5e2f2}.siz{fill:#f5f0da;stroke:#f5f0da}.sja{fill:#cbe5f2;stroke:#cbe5f2}.sjb{fill:#c7e3f2;stroke:#c7e3f2}.sjc{fill:#86b5de;stroke:#86b5de}.sjd{fill:#c2e0f1;stroke:#c2e0f1}.sje{fill:#f7eed4;stroke:#f7eed4}.sjf{fill:#c6e3f2;stroke:#c6e3f2}.sjg{fill:#cee6f3;stroke:#cee6f3}.sjh{fill:#daedf4;stroke:#daedf4}.sji{fill:#c4e1f1;stroke:#c4e1f1}.sjj{fill:#c1dff0;stroke:#c1dff0}.sjk{fill:#5e8fca;stroke:#5e8fca}.sjl{fill:#bfdef0;stroke:#bfdef0}.sjm{fill:#bdddf0;stroke:#bdddf0}.sjn{fill:#d4eaf4;stroke:#d4eaf4}.sjo{fill:#cce5f3;stroke:#cce5f3}.sjp{fill:#f7edd1;stroke:#f7edd1}.sjq{fill:#c1e0f1;stroke:#c1e0f1}.sjr{fill:#e2f0f4;stroke:#e2f0f4}.sjs{fill:#c6e2f2;stroke:#c6e2f2}.sjt{fill:#c5e2f1;stroke:#c5e2f1}.sju{fill:#bfdff0;stroke:#bfdff0}.sjv{fill:#daedf5;stroke:#daedf5}.sjw{fill:#c8e3f2;stroke:#c8e3f2}.sjx{fill:#d0e7f3;stroke:#d0e7f3}.sjy{fill:#dbeef5;stroke:#dbeef5}.sjz{fill:#d2e8f3;stroke:#d2e8f3}.ska{fill:#d6ebf4;stroke:#d6ebf4}.skb{fill:#d8ecf4;stroke:#d8ecf4}.skc{fill:#bedef0;stroke:#bedef0}.skd{fill:#d7ecf4;stroke:#d7ecf4}.ske{fill:#85b5de;stroke:#85b5de}.skf{fill:#5d8eca;stroke:#5d8eca}.skg{fill:#d5eaf4;stroke:#d5eaf4}.skh{fill:#d0e8f3;stroke:#d0e8f3}.ski{fill:#5889c7;stroke:#5889c7}.skj{fill:#acd4ec;stroke:#acd4ec}.skk{fill:#5b8cc8;stroke:#5b8cc8}.skl{fill:#74a5d5;stroke:#74a5d5}.skm{fill:#5e90ca;stroke:#5e90ca}.skn{fill:#5b8cc9;stroke:#5b8cc9}.sko{fill:#5d8ec9;stroke:#5d8ec9}.skp{fill:#5989c7;stroke:#5989c7}.skq{fill:#5f91cb;stroke:#5f91cb}.skr{fill:#95c2e3;stroke:#95c2e3}.sks{fill:#8cbae0;stroke:#8cbae0}.skt{fill:#5a8bc8;stroke:#5a8bc8}.sku{fill:#598ac7;stroke:#598ac7}.skv{fill:#b5d8ee;stroke:#b5d8ee}.skw{fill:#b0d5ec;stroke:#b0d5ec}.skx{fill:#5d8fca;stroke:#5d8fca}.sky{fill:#d9edf4;stroke:#d9edf4}.skz{fill:#c4e2f1;stroke:#c4e2f1}.sla{fill:#b9dbee;stroke:#b9dbee}.slb{fill:#99c6e5;stroke:#99c6e5}.slc{fill:#5c8cc9;stroke:#5c8cc9}.sld{fill:#5c8ec9;stroke:#5c8ec9}.sle{fill:#6596ce;stroke:#6596ce}.slf{fill:#70a1d4;stroke:#70a1d4}.slg{fill:#c1dff1;stroke:#c1dff1}.slh{fill:#5b8bc8;stroke:#5b8bc8}.sli{fill:#6fa1d3;stroke:#6fa1d3}.slj{fill:#c3e0f1;stroke:#c3e0f1}.slk{fill:#5787c6;stroke:#5787c6}.sll{fill:#90bee2;stroke:#90bee2}.slm{fill:#87b6de;stroke:#87b6de}.sln{fill:#85b5dd;stroke:#85b5dd}.slo{fill:#d5ebf4;stroke:#d5ebf4}.slp{fill:#97c3e4;stroke:#97c3e4}.slq{fill:#96c2e4;stroke:#96c2e4}.slr{fill:#b3d8ed;stroke:#b3d8ed}.sls{fill:#9dc8e6;stroke:#9dc8e6}.slt{fill:#7babd9;stroke:#7babd9}.slu{fill:#88b7df;stroke:#88b7df}.slv{fill:#b9dbef;stroke:#b9dbef}.slw{fill:#92c0e3;stroke:#92c0e3}.slx{fill:#92c0e2;stroke:#92c0e2}.sly{fill:#98c4e4;stroke:#98c4e4}.slz{fill:#9cc7e6;stroke:#9cc7e6}.sma{fill:#9ecae7;stroke:#9ecae7}.smb{fill:#90bde1;stroke:#90bde1}.smc{fill:#8ebde1;stroke:#8ebde1}.smd{fill:#bbdcef;stroke:#bbdcef}.sme{fill:#a8d1ea;stroke:#a8d1ea}.smf{fill:#6293cd;stroke:#6293cd}.smg{fill:#83b4dd;stroke:#83b4dd}.smh{fill:#5686c5;stroke:#5686c5}.smi{fill:#5484c4;stroke:#5484c4}.smj{fill:#5585c5;stroke:#5585c5}.smk{fill:#5687c6;stroke:#5687c6}.sml{fill:#5a8ac8;stroke:#5a8ac8}</style>
<g shape-rendering="crispEdges" stroke-width="1">
<path class="sa" d="M684.9 350.0l6.6 5.6l1.4-10.6l-6.6 3.5z"/>
<path class="sb" d="M683.5 350.5l6.6-5.1l1.4 10.2l-6.6-5.6z"/>
<path class="sc" d="M691.5 355.6l6.6-5.5l1.4 0.1l-6.6-5.2z"/>
<path class="sd" d="M682.1 352.7l6.6 4.8l1.4-12.2l-6.6 5.1z"/>
<path class="se" d="M690.1 345.3l6.6 12.1l1.4-7.3l-6.6 5.5z"/>
<path class="sf" d="M680.7 350.7l6.6 0.8l1.4 6.0l-6.6-4.8z"/>
<path class="sg" d="M698.1 350.1l6.6 1.4l1.4-2.0l-6.6 0.8z"/>
<path class="sh" d="M688.7 357.5l6.6-1.2l1.4 1.1l-6.6-12.1z"/>
<path class="si" d="M679.2 346.9l6.6 9.6l1.4-5.1l-6.6-0.8z"/>
<path class="sj" d="M696.6 357.4l6.6-9.6l1.4 3.7l-6.6-1.4z"/>
<path class="sk" d="M687.2 351.4l6.6-1.3l1.4 6.1l-6.6 1.2z"/>
<path class="sl" d="M704.6 351.5l6.6-0.3l1.4 3.1l-6.6-4.9z"/>
<path class="sc" d="M677.8 352.2l6.6 3.0l1.4 1.3l-6.6-9.6z"/>
<path class="sb" d="M695.2 356.3l6.6-4.5l1.4-4.1l-6.6 9.6z"/>
<path class="sm" d="M685.8 356.5l6.6 3.2l1.4-9.6l-6.6 1.3z"/>
<path class="sn" d="M703.2 347.7l6.6 3.5l1.4-0.1l-6.6 0.3z"/>
<path class="sm" d="M676.4 358.5l6.6-5.7l1.4 2.4l-6.6-3.0z"/>
<path class="sb" d="M693.8 350.1l6.6 7.8l1.4-6.1l-6.6 4.5z"/>
<path class="so" d="M711.2 351.1l6.6 5.1l1.4-4.3l-6.6 2.3z"/>
<path class="sh" d="M684.4 355.3l6.6-1.0l1.4 5.5l-6.6-3.2z"/>
<path class="sp" d="M701.8 351.8l6.6 7.5l1.4-8.1l-6.6-3.5z"/>
<path class="sq" d="M675.0 363.7l6.6-4.0l1.4-6.8l-6.6 5.7z"/>
<path class="sm" d="M692.4 359.7l6.6-5.6l1.4 3.8l-6.6-7.8z"/>
<path class="sg" d="M709.8 351.2l6.6 3.3l1.4 1.8l-6.6-5.1z"/>
<path class="se" d="M683.0 352.8l6.6 7.6l1.4-6.2l-6.6 1.0z"/>
<path class="sr" d="M700.4 357.9l6.6-0.5l1.4 1.9l-6.6-7.5z"/>
<path class="ss" d="M717.8 356.3l6.6-2.3l1.4-9.7l-6.6 7.7z"/>
<path class="st" d="M673.6 348.1l6.6 14.4l1.4-2.8l-6.6 4.0z"/>
<path class="sk" d="M691.0 354.2l6.6 3.5l1.4-3.6l-6.6 5.6z"/>
<path class="sg" d="M708.4 359.3l6.6-8.0l1.4 3.2l-6.6-3.3z"/>
<path class="sh" d="M681.6 359.7l6.6-1.7l1.4 2.5l-6.6-7.6z"/>
<path class="sd" d="M699.0 354.1l6.6 2.2l1.4 1.2l-6.6 0.5z"/>
<path class="su" d="M716.4 354.5l6.6 4.3l1.4-4.8l-6.6 2.3z"/>
<path class="sd" d="M672.2 354.1l6.6 7.6l1.4 0.7l-6.6-14.4z"/>
<path class="sa" d="M689.6 360.4l6.6-6.0l1.4 3.3l-6.6-3.5z"/>
<path class="se" d="M707.0 357.4l6.6 2.0l1.4-8.1l-6.6 8.0z"/>
<path class="sv" d="M724.3 354.0l6.6-2.2l1.4 7.8l-6.6-15.3z"/>
<path class="sw" d="M680.2 362.5l6.6-1.2l1.4-3.3l-6.6 1.7z"/>
<path class="sl" d="M697.5 357.7l6.6-4.6l1.4 3.2l-6.6-2.2z"/>
<path class="sx" d="M714.9 351.3l6.6 1.4l1.4 6.1l-6.6-4.3z"/>
<path class="sh" d="M670.7 360.8l6.6-0.9l1.4 1.9l-6.6-7.6z"/>
<path class="st" d="M688.1 357.9l6.6 9.6l1.4-13.1l-6.6 6.0z"/>
<path class="sj" d="M705.5 356.3l6.6-4.8l1.4 7.9l-6.6-2.0z"/>
<path class="sj" d="M722.9 358.8l6.6 1.8l1.4-8.8l-6.6 2.2z"/>
<path class="sy" d="M678.7 361.8l6.6-1.5l1.4 1.0l-6.6 1.2z"/>
<path class="sz" d="M696.1 354.4l6.6 7.2l1.4-8.5l-6.6 4.6z"/>
<path class="sba" d="M713.5 359.4l6.6-4.9l1.4-1.8l-6.6-1.4z"/>
<path class="sbb" d="M730.9 351.7l6.6-7.5l1.4 7.7l-6.6 7.6z"/>
<path class="sz" d="M669.3 353.6l6.6-0.2l1.4 6.4l-6.6 0.9z"/>
<path class="st" d="M686.7 361.3l6.6-5.0l1.4 11.2l-6.6-9.6z"/>
<path class="sbc" d="M704.1 353.1l6.6 4.5l1.4-6.2l-6.6 4.8z"/>
<path class="sbd" d="M721.5 352.7l6.6-0.3l1.4 8.2l-6.6-1.8z"/>
<path class="st" d="M677.3 359.9l6.6 3.0l1.4-2.7l-6.6 1.5z"/>
<path class="sq" d="M694.7 367.5l6.6-3.1l1.4-2.8l-6.6-7.2z"/>
<path class="sbd" d="M712.1 351.5l6.6 9.2l1.4-6.2l-6.6 4.9z"/>
<path class="sbe" d="M729.5 360.6l6.6 3.6l1.4-19.9l-6.6 7.5z"/>
<path class="sbf" d="M667.9 332.8l6.6-8.0l1.4 28.6l-6.6 0.2z"/>
<path class="sk" d="M685.3 360.3l6.6 0.4l1.4-4.4l-6.6 5.0z"/>
<path class="sh" d="M702.7 361.6l6.6 8.2l1.4-12.2l-6.6-4.5z"/>
<path class="sv" d="M720.1 354.5l6.6 4.0l1.4-6.1l-6.6 0.3z"/>
<path class="sbg" d="M737.5 344.3l6.6 5.3l1.4 8.4l-6.6-6.0z"/>
<path class="sbd" d="M675.9 353.5l6.6-1.7l1.4 11.1l-6.6-3.0z"/>
<path class="sbh" d="M693.3 356.3l6.6 2.0l1.4 6.2l-6.6 3.1z"/>
<path class="sg" d="M710.7 357.6l6.6 1.7l1.4 1.3l-6.6-9.2z"/>
<path class="sbd" d="M728.1 352.4l6.6-0.5l1.4 12.4l-6.6-3.6z"/>
<path class="sbi" d="M666.5 317.5l6.6-0.9l1.4 8.3l-6.6 8.0z"/>
<path class="sbj" d="M683.9 362.9l6.6 3.8l1.4-6.1l-6.6-0.4z"/>
<path class="sbk" d="M701.3 364.4l6.6 2.8l1.4 2.6l-6.6-8.2z"/>
<path class="sa" d="M718.7 360.6l6.6 4.0l1.4-6.2l-6.6-4.0z"/>
<path class="sbl" d="M736.1 364.2l6.6-5.7l1.4-8.8l-6.6-5.3z"/>
<path class="sbm" d="M674.5 324.8l6.6 1.6l1.4 25.4l-6.6 1.7z"/>
<path class="sk" d="M691.9 360.7l6.6 6.4l1.4-8.8l-6.6-2.0z"/>
<path class="sh" d="M709.3 369.8l6.6-8.7l1.4-1.8l-6.6-1.7z"/>
<path class="sbl" d="M726.7 358.4l6.6-2.9l1.4-3.8l-6.6 0.5z"/>
<path class="sbn" d="M665.1 310.8l6.6 11.1l1.4-5.3l-6.6 0.9z"/>
<path class="sn" d="M744.1 349.6l6.6 10.9l1.4-2.4l-6.6-0.1z"/>
<path class="sc" d="M682.5 351.8l6.6 4.6l1.4 10.4l-6.6-3.8z"/>
<path class="sbo" d="M699.9 358.3l6.6 1.3l1.4 7.6l-6.6-2.8z"/>
<path class="sbp" d="M717.3 359.4l6.6 3.6l1.4 1.7l-6.6-4.0z"/>
<path class="sbq" d="M734.7 351.8l6.6 9.5l1.4-2.8l-6.6 5.7z"/>
<path class="sbr" d="M673.1 316.5l6.6-0.8l1.4 10.7l-6.6-1.6z"/>
<path class="sbj" d="M690.5 366.7l6.6-6.1l1.4 6.4l-6.6-6.4z"/>
<path class="sbs" d="M707.9 367.2l6.6-6.7l1.4 0.6l-6.6 8.7z"/>
<path class="sc" d="M725.2 364.6l6.6-2.8l1.4-6.2l-6.6 2.9z"/>
<path class="sbn" d="M663.7 319.0l6.6-0.8l1.4 3.6l-6.6-11.1z"/>
<path class="sbt" d="M742.6 358.5l6.6 7.0l1.4-4.9l-6.6-10.9z"/>
<path class="sbu" d="M681.1 326.4l6.6-0.4l1.4 30.4l-6.6-4.6z"/>
<path class="st" d="M698.4 367.0l6.6 3.4l1.4-10.8l-6.6-1.3z"/>
<path class="sz" d="M715.8 361.2l6.6-3.7l1.4 5.6l-6.6-3.6z"/>
<path class="sbv" d="M733.2 355.6l6.6 5.5l1.4 0.1l-6.6-9.5z"/>
<path class="sbw" d="M671.6 321.8l6.6-5.2l1.4-0.9l-6.6 0.8z"/>
<path class="sbq" d="M750.6 360.6l6.6 1.7l1.4-3.7l-6.6-0.4z"/>
<path class="sl" d="M689.0 356.3l6.6-1.5l1.4 5.8l-6.6 6.1z"/>
<path class="se" d="M706.4 359.6l6.6-0.0l1.4 1.0l-6.6 6.7z"/>
<path class="sbo" d="M723.8 363.0l6.6 2.0l1.4-3.1l-6.6 2.8z"/>
<path class="sbx" d="M662.2 315.1l6.6 0.7l1.4 2.4l-6.6 0.8z"/>
<path class="sk" d="M741.2 361.3l6.6 4.0l1.4 0.2l-6.6-7.0z"/>
<path class="sby" d="M679.6 315.7l6.6 1.2l1.4 9.1l-6.6 0.4z"/>
<path class="sw" d="M697.0 360.7l6.6 1.9l1.4 7.9l-6.6-3.4z"/>
<path class="sbz" d="M714.4 360.6l6.6 7.0l1.4-10.2l-6.6 3.7z"/>
<path class="so" d="M731.8 361.8l6.6 3.0l1.4-3.7l-6.6-5.5z"/>
<path class="sca" d="M670.2 318.2l6.6 1.3l1.4-2.9l-6.6 5.2z"/>
<path class="sc" d="M749.2 365.5l6.6-8.0l1.4 4.8l-6.6-1.7z"/>
<path class="scb" d="M687.6 326.0l6.6 1.9l1.4 27.0l-6.6 1.5z"/>
<path class="sh" d="M705.0 370.4l6.6-3.7l1.4-7.1l-6.6 0.0z"/>
<path class="sh" d="M722.4 357.4l6.6 14.2l1.4-6.6l-6.6-2.0z"/>
<path class="sbx" d="M660.8 321.3l6.6-2.2l1.4-3.3l-6.6-0.7z"/>
<path class="sc" d="M739.8 361.1l6.6-2.1l1.4 6.3l-6.6-4.0z"/>
<path class="scc" d="M678.2 316.6l6.6-8.3l1.4 8.5l-6.6-1.2z"/>
<path class="sbt" d="M757.2 362.3l6.6-3.0l1.4 1.1l-6.6-1.8z"/>
<path class="sp" d="M695.6 354.9l6.6 8.3l1.4-0.6l-6.6-1.9z"/>
<path class="sh" d="M713.0 359.6l6.6 10.3l1.4-2.3l-6.6-7.0z"/>
<path class="sbh" d="M730.4 364.9l6.6 3.0l1.4-3.1l-6.6-3.0z"/>
<path class="scd" d="M668.8 315.8l6.6-3.6l1.4 7.4l-6.6-1.3z"/>
<path class="sk" d="M747.8 365.3l6.6 1.2l1.4-9.0l-6.6 8.0z"/>
<path class="sce" d="M686.2 316.9l6.6 0.0l1.4 11.0l-6.6-1.9z"/>
<path class="scf" d="M703.6 362.5l6.6 7.6l1.4-3.4l-6.6 3.7z"/>
<path class="scg" d="M721.0 367.6l6.6-1.5l1.4 5.5l-6.6-14.2z"/>
<path class="sch" d="M659.4 316.6l6.6-2.6l1.4 5.1l-6.6 2.2z"/>
<path class="si" d="M738.4 364.8l6.6-2.6l1.4-3.2l-6.6 2.1z"/>
<path class="scc" d="M676.8 319.5l6.6-3.0l1.4-8.2l-6.6 8.3z"/>
<path class="sba" d="M755.8 357.5l6.6 4.0l1.4-2.2l-6.6 3.0z"/>
<path class="sci" d="M694.2 327.9l6.6 1.1l1.4 34.3l-6.6-8.3z"/>
<path class="sq" d="M711.6 366.7l6.6 4.6l1.4-1.4l-6.6-10.3z"/>
<path class="scj" d="M729.0 371.6l6.6-5.9l1.4 2.2l-6.6-3.0z"/>
<path class="scd" d="M667.4 319.1l6.6 1.9l1.4-8.8l-6.6 3.6z"/>
<path class="so" d="M746.4 359.0l6.6 0.2l1.4 7.2l-6.6-1.2z"/>
<path class="sck" d="M684.8 308.3l6.6 8.1l1.4 0.5l-6.6-0.0z"/>
<path class="scl" d="M763.8 359.2l6.6-3.8l1.4 0.1l-6.6 4.8z"/>
<path class="so" d="M702.2 363.2l6.6-8.7l1.4 15.7l-6.6-7.6z"/>
<path class="sbh" d="M719.6 369.9l6.6-8.8l1.4 5.0l-6.6 1.5z"/>
<path class="sbx" d="M658.0 326.4l6.6-6.5l1.4-5.9l-6.6 2.6z"/>
<path class="sa" d="M737.0 367.9l6.6-7.3l1.4 1.6l-6.6 2.6z"/>
<path class="sck" d="M675.4 312.2l6.6 0.3l1.4 4.1l-6.6 3.0z"/>
<path class="ss" d="M754.4 366.5l6.6-12.5l1.4 7.4l-6.6-4.0z"/>
<path class="sbr" d="M692.8 316.9l6.6 6.2l1.4 5.8l-6.6-1.1z"/>
<path class="sbj" d="M710.2 370.2l6.6-9.2l1.4 10.3l-6.6-4.6z"/>
<path class="st" d="M727.6 366.0l6.6-1.6l1.4 1.3l-6.6 5.9z"/>
<path class="scd" d="M666.0 314.0l6.6 3.7l1.4 3.2l-6.6-1.9z"/>
<path class="sl" d="M745.0 362.2l6.6 7.6l1.4-10.6l-6.6-0.2z"/>
<path class="scm" d="M683.4 316.5l6.6 5.3l1.4-5.4l-6.6-8.1z"/>
<path class="scn" d="M762.4 361.4l6.6-0.9l1.4-5.1l-6.6 3.8z"/>
<path class="sco" d="M700.8 328.9l6.6 4.6l1.4 21.0l-6.6 8.7z"/>
<path class="scg" d="M718.2 371.3l6.6-5.2l1.4-5.1l-6.6 8.8z"/>
<path class="sch" d="M656.6 317.7l6.6-4.5l1.4 6.8l-6.6 6.5z"/>
<path class="sf" d="M735.6 365.7l6.6 2.6l1.4-7.7l-6.6 7.3z"/>
<path class="sck" d="M674.0 321.0l6.6-4.2l1.4-4.3l-6.6-0.3z"/>
<path class="scp" d="M752.9 359.3l6.6 3.1l1.4-8.4l-6.6 12.5z"/>
<path class="scq" d="M691.4 316.4l6.6 1.6l1.4 5.1l-6.6-6.2z"/>
<path class="scr" d="M770.3 355.4l6.6-3.4l1.4 3.7l-6.6-0.2z"/>
<path class="scs" d="M708.8 354.5l6.6-0.6l1.4 7.0l-6.6 9.2z"/>
<path class="sm" d="M726.1 361.0l6.6 9.0l1.4-5.6l-6.6 1.6z"/>
<path class="sck" d="M664.6 319.9l6.6-7.5l1.4 5.3l-6.6-3.7z"/>
<path class="sc" d="M743.5 360.6l6.6 3.6l1.4 5.7l-6.6-7.6z"/>
<path class="scc" d="M682.0 312.5l6.6 5.5l1.4 3.9l-6.6-5.3z"/>
<path class="sct" d="M760.9 354.0l6.6 2.9l1.4 3.6l-6.6 0.9z"/>
<path class="sby" d="M699.3 323.1l6.6-10.4l1.4 20.8l-6.6-4.6z"/>
<path class="sf" d="M716.7 361.0l6.6 5.6l1.4-0.5l-6.6 5.2z"/>
<path class="scu" d="M655.2 324.6l6.6-2.5l1.4-9.0l-6.6 4.5z"/>
<path class="sh" d="M734.1 364.4l6.6 5.1l1.4-1.2l-6.6-2.6z"/>
<path class="scc" d="M672.6 317.7l6.6-2.9l1.4 1.9l-6.6 4.2z"/>
<path class="sc" d="M751.5 369.8l6.6-3.0l1.4-4.5l-6.6-3.1z"/>
<path class="sbx" d="M689.9 321.8l6.6 6.0l1.4-9.9l-6.6-1.6z"/>
<path class="scv" d="M768.9 360.5l6.6-3.5l1.4-5.0l-6.6 3.4z"/>
<path class="scw" d="M707.3 333.5l6.6-2.4l1.4 22.8l-6.6 0.6z"/>
<path class="sbp" d="M724.7 366.1l6.6 5.1l1.4-1.1l-6.6-9.0z"/>
<path class="scx" d="M663.1 313.2l6.6 2.6l1.4-3.3l-6.6 7.5z"/>
<path class="sc" d="M742.1 368.3l6.6-1.6l1.4-2.5l-6.6-3.6z"/>
<path class="sck" d="M680.5 316.7l6.6 3.0l1.4-1.8l-6.6-5.5z"/>
<path class="scy" d="M759.5 362.4l6.6-1.1l1.4-4.5l-6.6-2.9z"/>
<path class="scz" d="M697.9 318.0l6.6 1.8l1.4-7.1l-6.6 10.4z"/>
<path class="sda" d="M776.9 352.0l6.6 4.3l1.4-11.5l-6.6 10.9z"/>
<path class="sct" d="M715.3 353.9l6.6 0.3l1.4 12.4l-6.6-5.6z"/>
<path class="sdb" d="M653.7 323.7l6.6 0.1l1.4-1.7l-6.6 2.5z"/>
<path class="sh" d="M732.7 370.0l6.6-3.0l1.4 2.4l-6.6-5.1z"/>
<path class="sdc" d="M671.1 312.4l6.6-1.5l1.4 3.9l-6.6 2.9z"/>
<path class="sbq" d="M750.1 364.2l6.6-6.3l1.4 9.0l-6.6 3.0z"/>
<path class="sdd" d="M688.5 318.0l6.6 3.2l1.4 6.7l-6.6-6.0z"/>
<path class="sbg" d="M767.5 356.8l6.6 1.9l1.4-1.8l-6.6 3.5z"/>
<path class="sde" d="M705.9 312.6l6.6 5.2l1.4 13.2l-6.6 2.4z"/>
<path class="sbh" d="M723.3 366.6l6.6 4.7l1.4-0.1l-6.6-5.1z"/>
<path class="scz" d="M661.7 322.2l6.6 2.4l1.4-8.9l-6.6-2.6z"/>
<path class="sbo" d="M740.7 369.5l6.6 0.1l1.4-3.0l-6.6 1.6z"/>
<path class="scd" d="M679.1 314.8l6.6 13.9l1.4-9.1l-6.6-3.0z"/>
<path class="sdf" d="M758.1 366.9l6.6-10.5l1.4 4.9l-6.6 1.1z"/>
<path class="sdg" d="M696.5 327.9l6.6-9.9l1.4 1.8l-6.6-1.8z"/>
<path class="sdh" d="M775.5 357.0l6.6 0.7l1.4-1.5l-6.6-4.3z"/>
<path class="sdi" d="M713.9 331.1l6.6-0.4l1.4 23.6l-6.6-0.3z"/>
<path class="sdd" d="M652.3 321.8l6.6-0.2l1.4 2.3l-6.6-0.1z"/>
<path class="st" d="M731.3 371.2l6.6-0.7l1.4-3.4l-6.6 3.0z"/>
<path class="sdc" d="M669.7 315.7l6.6 4.8l1.4-9.6l-6.6 1.5z"/>
<path class="ss" d="M748.7 366.7l6.6-3.9l1.4-5.0l-6.6 6.3z"/>
<path class="sdg" d="M687.1 319.7l6.6 6.6l1.4-5.2l-6.6-3.2z"/>
<path class="sdj" d="M766.1 361.3l6.6-1.0l1.4-1.6l-6.6-1.9z"/>
<path class="sdk" d="M704.5 319.8l6.6 1.0l1.4-2.9l-6.6-5.2z"/>
<path class="sdl" d="M783.5 356.3l6.6-10.7l1.4 8.7l-6.6-9.5z"/>
<path class="sbt" d="M721.9 354.3l6.6 12.4l1.4 4.6l-6.6-4.7z"/>
<path class="sca" d="M660.3 323.9l6.6 3.1l1.4-2.4l-6.6-2.4z"/>
<path class="sbp" d="M739.3 367.1l6.6 1.1l1.4 1.4l-6.6-0.1z"/>
<path class="scz" d="M677.7 310.9l6.6 13.7l1.4 4.1l-6.6-13.9z"/>
<path class="sdm" d="M756.7 357.8l6.6 5.6l1.4-7.0l-6.6 10.5z"/>
<path class="sbx" d="M695.1 321.2l6.6 2.7l1.4-5.8l-6.6 9.9z"/>
<path class="sdn" d="M774.1 358.8l6.6 1.5l1.4-2.5l-6.6-0.7z"/>
<path class="sca" d="M712.5 317.8l6.6 1.9l1.4 10.9l-6.6 0.4z"/>
<path class="sdo" d="M650.9 325.2l6.6-2.8l1.4-0.9l-6.6 0.2z"/>
<path class="scj" d="M729.9 371.3l6.6 3.2l1.4-4.1l-6.6 0.7z"/>
<path class="scz" d="M668.3 324.6l6.6-4.8l1.4 0.7l-6.6-4.8z"/>
<path class="sj" d="M747.3 369.7l6.6-3.3l1.4-3.5l-6.6 3.9z"/>
<path class="sdb" d="M685.7 328.8l6.6-1.6l1.4-0.9l-6.6-6.6z"/>
<path class="sdp" d="M764.7 356.4l6.6-2.0l1.4 5.9l-6.6 1.0z"/>
<path class="scc" d="M703.1 318.0l6.6 3.0l1.4-0.2l-6.6-1.0z"/>
<path class="sdq" d="M782.1 357.8l6.6-3.5l1.4-8.7l-6.6 10.7z"/>
<path class="sdr" d="M720.5 330.7l6.6 1.1l1.4 34.9l-6.6-12.4z"/>
<path class="sbx" d="M658.9 321.5l6.6-0.6l1.4 6.0l-6.6-3.1z"/>
<path class="sm" d="M737.9 370.4l6.6-2.4l1.4 0.2l-6.6-1.1z"/>
<path class="scz" d="M676.3 320.5l6.6 5.9l1.4-1.7l-6.6-13.7z"/>
<path class="sbb" d="M755.3 362.8l6.6 1.6l1.4-0.9l-6.6-5.6z"/>
<path class="sch" d="M693.7 326.3l6.6-5.9l1.4 3.5l-6.6-2.7z"/>
<path class="sds" d="M772.7 360.4l6.6-3.0l1.4 2.9l-6.6-1.5z"/>
<path class="sck" d="M711.1 320.8l6.6-1.6l1.4 0.6l-6.6-1.9z"/>
<path class="sdd" d="M649.5 323.9l6.6 0.5l1.4-2.0l-6.6 2.8z"/>
<path class="sdt" d="M790.1 345.6l6.6 6.4l1.4 0.7l-6.6 1.6z"/>
<path class="sa" d="M728.5 366.7l6.6-6.2l1.4 14.1l-6.6-3.2z"/>
<path class="scd" d="M666.9 326.9l6.6-11.6l1.4 4.5l-6.6 4.8z"/>
<path class="se" d="M745.9 368.2l6.6 2.2l1.4-4.1l-6.6 3.3z"/>
<path class="sdb" d="M684.3 324.6l6.6-1.2l1.4 3.8l-6.6 1.6z"/>
<path class="sdu" d="M763.3 363.4l6.6-3.2l1.4-5.8l-6.6 2.0z"/>
<path class="scz" d="M701.7 323.9l6.6-2.3l1.4-0.5l-6.6-3.0z"/>
<path class="sdv" d="M780.7 360.3l6.6-3.5l1.4-2.4l-6.6 3.5z"/>
<path class="sbw" d="M719.1 319.8l6.6-2.8l1.4 14.8l-6.6-1.1z"/>
<path class="scm" d="M657.5 322.4l6.6-7.0l1.4 5.5l-6.6 0.6z"/>
<path class="sbo" d="M736.5 374.5l6.6-4.6l1.4-1.8l-6.6 2.4z"/>
<path class="sdg" d="M674.9 319.8l6.6 5.7l1.4 0.9l-6.6-5.9z"/>
<path class="sdf" d="M753.9 366.4l6.6-3.6l1.4 1.6l-6.6-1.6z"/>
<path class="sbx" d="M692.3 327.2l6.6-3.8l1.4-3.0l-6.6 5.9z"/>
<path class="scr" d="M771.2 354.4l6.6 8.7l1.4-5.7l-6.6 3.0z"/>
<path class="scc" d="M709.7 321.0l6.6 1.4l1.4-3.2l-6.6 1.6z"/>
<path class="sdg" d="M648.1 320.0l6.6 5.8l1.4-1.5l-6.6-0.5z"/>
<path class="sco" d="M788.6 354.3l6.6-6.8l1.4 4.5l-6.6-6.4z"/>
<path class="sdr" d="M727.1 331.7l6.6-2.9l1.4 31.6l-6.6 6.2z"/>
<path class="sck" d="M665.5 321.0l6.6-3.1l1.4-2.6l-6.6 11.6z"/>
<path class="sb" d="M744.4 368.1l6.6 0.6l1.4 1.7l-6.6-2.2z"/>
<path class="sdd" d="M682.9 326.4l6.6-0.7l1.4-2.2l-6.6 1.2z"/>
<path class="sdm" d="M761.8 364.4l6.6-0.1l1.4-4.1l-6.6 3.2z"/>
<path class="scz" d="M700.3 320.4l6.6 2.0l1.4-0.9l-6.6 2.3z"/>
<path class="sdw" d="M779.2 357.4l6.6-1.2l1.4 0.5l-6.6 3.5z"/>
<path class="sdx" d="M717.6 319.2l6.6-5.1l1.4 2.9l-6.6 2.8z"/>
<path class="sck" d="M656.1 324.4l6.6-5.6l1.4-3.3l-6.6 7.0z"/>
<path class="sdy" d="M796.6 352.0l6.6 0.5l1.4-4.1l-6.6 4.3z"/>
<path class="ss" d="M735.0 360.5l6.6-3.7l1.4 13.2l-6.6 4.6z"/>
<path class="scz" d="M673.5 315.3l6.6 12.8l1.4-2.6l-6.6-5.7z"/>
<path class="sba" d="M752.4 370.4l6.6-4.7l1.4-3.0l-6.6 3.6z"/>
<path class="sdg" d="M690.8 323.5l6.6-0.7l1.4 0.7l-6.6 3.8z"/>
<path class="sdv" d="M769.8 360.2l6.6-4.6l1.4 7.5l-6.6-8.7z"/>
<path class="scc" d="M708.2 321.6l6.6-0.4l1.4 1.3l-6.6-1.4z"/>
<path class="sdg" d="M646.7 322.7l6.6 5.1l1.4-1.9l-6.6-5.8z"/>
<path class="sdz" d="M787.2 356.7l6.6-3.0l1.4-6.2l-6.6 6.8z"/>
<path class="scq" d="M725.6 317.0l6.6 0.0l1.4 11.9l-6.6 2.9z"/>
<path class="sdc" d="M664.0 315.5l6.6 1.6l1.4 0.8l-6.6 3.1z"/>
<path class="sea" d="M743.0 369.9l6.6 0.4l1.4-1.6l-6.6-0.6z"/>
<path class="sch" d="M681.4 325.5l6.6-4.2l1.4 4.4l-6.6 0.7z"/>
<path class="sbb" d="M760.4 362.7l6.6 1.7l1.4-0.2l-6.6 0.1z"/>
<path class="seb" d="M698.8 323.4l6.6-2.9l1.4 1.9l-6.6-2.0z"/>
<path class="sec" d="M777.8 363.1l6.6-10.2l1.4 3.2l-6.6 1.2z"/>
<path class="sdk" d="M716.2 322.4l6.6 5.4l1.4-13.7l-6.6 5.1z"/>
<path class="sdg" d="M654.6 325.9l6.6 2.5l1.4-9.6l-6.6 5.6z"/>
<path class="sed" d="M795.2 347.5l6.6 1.7l1.4 3.3l-6.6-0.5z"/>
<path class="see" d="M733.6 328.9l6.6-2.2l1.4 30.1l-6.6 3.7z"/>
<path class="sck" d="M672.0 317.9l6.6 6.8l1.4 3.4l-6.6-12.8z"/>
<path class="sbq" d="M751.0 368.7l6.6 1.7l1.4-4.7l-6.6 4.7z"/>
<path class="sdg" d="M689.4 325.7l6.6 1.3l1.4-4.3l-6.6 0.7z"/>
<path class="sef" d="M768.4 364.3l6.6-8.6l1.4-0.0l-6.6 4.6z"/>
<path class="sdk" d="M706.8 322.4l6.6-3.2l1.4 1.9l-6.6 0.4z"/>
<path class="sdd" d="M645.2 328.5l6.6-2.2l1.4 1.5l-6.6-5.1z"/>
<path class="seg" d="M785.8 356.2l6.6 0.8l1.4-3.3l-6.6 3.0z"/>
<path class="seh" d="M724.2 314.1l6.6 2.4l1.4 0.5l-6.6-0.0z"/>
<path class="sei" d="M662.6 318.8l6.6-0.8l1.4-0.9l-6.6-1.6z"/>
<path class="sej" d="M803.2 352.5l6.6-7.5l1.4 0.4l-6.6 3.0z"/>
<path class="sdj" d="M741.6 356.7l6.6-2.0l1.4 15.6l-6.6-0.4z"/>
<path class="sdd" d="M680.0 328.1l6.6 2.2l1.4-9.0l-6.6 4.2z"/>
<path class="sek" d="M759.0 365.8l6.6 2.7l1.4-4.0l-6.6-1.7z"/>
<path class="sck" d="M697.4 322.7l6.6-2.6l1.4 0.4l-6.6 2.9z"/>
<path class="sel" d="M776.4 355.7l6.6 3.3l1.4-6.0l-6.6 10.2z"/>
<path class="sck" d="M714.8 321.1l6.6-4.4l1.4 11.1l-6.6-5.4z"/>
<path class="sbn" d="M653.2 327.8l6.6 0.1l1.4 0.4l-6.6-2.5z"/>
<path class="sem" d="M793.8 353.7l6.6-1.7l1.4-2.8l-6.6-1.7z"/>
<path class="sck" d="M732.2 317.0l6.6-1.8l1.4 11.5l-6.6 2.2z"/>
<path class="seb" d="M670.6 317.1l6.6 14.1l1.4-6.5l-6.6-6.8z"/>
<path class="so" d="M749.6 370.3l6.6-0.5l1.4 0.5l-6.6-1.7z"/>
<path class="scq" d="M688.0 321.3l6.6 4.0l1.4 1.7l-6.6-1.3z"/>
<path class="sen" d="M767.0 364.5l6.6-3.6l1.4-5.2l-6.6 8.6z"/>
<path class="sdk" d="M705.4 320.5l6.6 4.4l1.4-5.7l-6.6 3.2z"/>
<path class="scu" d="M643.8 323.4l6.6-0.5l1.4 3.4l-6.6 2.2z"/>
<path class="sdt" d="M784.4 352.9l6.6-2.3l1.4 6.3l-6.6-0.8z"/>
<path class="seo" d="M722.8 327.8l6.6-15.1l1.4 3.7l-6.6-2.4z"/>
<path class="sck" d="M661.2 328.4l6.6-5.0l1.4-5.4l-6.6 0.8z"/>
<path class="sep" d="M801.8 349.2l6.6-3.1l1.4-1.1l-6.6 7.5z"/>
<path class="seq" d="M740.2 326.7l6.6 1.3l1.4 26.7l-6.6 2.0z"/>
<path class="sdd" d="M678.6 324.7l6.6 1.3l1.4 4.3l-6.6-2.2z"/>
<path class="sx" d="M757.6 370.4l6.6-0.4l1.4-1.5l-6.6-2.7z"/>
<path class="ser" d="M696.0 327.0l6.6 1.7l1.4-8.5l-6.6 2.6z"/>
<path class="ses" d="M775.0 355.7l6.6-1.3l1.4 4.6l-6.6-3.3z"/>
<path class="set" d="M713.4 319.2l6.6-2.3l1.4-0.1l-6.6 4.4z"/>
<path class="scu" d="M651.8 326.3l6.6-6.1l1.4 7.7l-6.6-0.1z"/>
<path class="sco" d="M792.4 357.0l6.6-10.8l1.4 5.8l-6.6 1.7z"/>
<path class="seu" d="M730.8 316.5l6.6-3.0l1.4 1.7l-6.6 1.8z"/>
<path class="scz" d="M669.2 318.0l6.6 13.2l1.4 0.0l-6.6-14.1z"/>
<path class="sev" d="M809.8 345.0l6.6 0.8l1.4-0.7l-6.6 0.3z"/>
<path class="sew" d="M748.2 354.7l6.6 4.2l1.4 10.9l-6.6 0.5z"/>
<path class="scd" d="M686.6 330.3l6.6-5.4l1.4 0.4l-6.6-4.0z"/>
<path class="sct" d="M765.6 368.5l6.6-2.9l1.4-4.7l-6.6 3.6z"/>
<path class="seb" d="M704.0 320.1l6.6 8.3l1.4-3.5l-6.6-4.4z"/>
<path class="sdg" d="M642.4 330.4l6.6-1.4l1.4-6.1l-6.6 0.5z"/>
<path class="sex" d="M783.0 359.0l6.6-7.7l1.4-0.6l-6.6 2.3z"/>
<path class="seh" d="M721.4 316.8l6.6-3.1l1.4-0.9l-6.6 15.1z"/>
<path class="sch" d="M659.8 328.0l6.6-0.9l1.4-3.6l-6.6 5.0z"/>
<path class="sey" d="M800.4 352.0l6.6-1.9l1.4-3.9l-6.6 3.1z"/>
<path class="sdk" d="M738.8 315.2l6.6 6.2l1.4 6.7l-6.6-1.3z"/>
<path class="sdd" d="M677.2 331.2l6.6-2.4l1.4-2.8l-6.6-1.3z"/>
<path class="sez" d="M756.2 369.9l6.6-3.8l1.4 3.9l-6.6 0.4z"/>
<path class="sch" d="M694.6 325.3l6.6 1.8l1.4 1.6l-6.6-1.7z"/>
<path class="sda" d="M773.6 360.9l6.6 2.0l1.4-8.6l-6.6 1.3z"/>
<path class="sdx" d="M712.0 324.9l6.6-3.9l1.4-4.2l-6.6 2.3z"/>
<path class="sck" d="M650.4 322.9l6.6 0.7l1.4-3.3l-6.6 6.1z"/>
<path class="sex" d="M791.0 350.6l6.6 11.6l1.4-16.0l-6.6 10.8z"/>
<path class="sfa" d="M729.4 312.8l6.6 2.6l1.4-1.8l-6.6 3.0z"/>
<path class="scc" d="M667.8 323.4l6.6 2.4l1.4 5.4l-6.6-13.2z"/>
<path class="sfb" d="M808.4 346.1l6.6 0.9l1.4-1.2l-6.6-0.8z"/>
<path class="sfc" d="M746.8 328.0l6.6 6.3l1.4 24.7l-6.6-4.2z"/>
<path class="scq" d="M685.2 326.0l6.6-2.0l1.4 0.8l-6.6 5.4z"/>
<path class="scl" d="M764.2 370.0l6.6-8.1l1.4 3.7l-6.6 2.9z"/>
<path class="scz" d="M702.6 328.7l6.6-5.4l1.4 5.2l-6.6-8.3z"/>
<path class="sdd" d="M641.0 325.9l6.6 2.3l1.4 0.8l-6.6 1.4z"/>
<path class="sfd" d="M781.6 354.3l6.6 1.5l1.4-4.6l-6.6 7.7z"/>
<path class="sfe" d="M720.0 316.9l6.6-0.9l1.4-2.3l-6.6 3.1z"/>
<path class="scd" d="M658.4 320.3l6.6 8.9l1.4-2.1l-6.6 0.9z"/>
<path class="scw" d="M798.9 346.2l6.6 7.9l1.4-4.0l-6.6 1.9z"/>
<path class="sff" d="M737.4 313.5l6.6 9.6l1.4-1.7l-6.6-6.2z"/>
<path class="sbn" d="M675.8 331.2l6.6-4.8l1.4 2.5l-6.6 2.4z"/>
<path class="sfg" d="M816.3 345.9l6.6-1.7l1.4 13.0l-6.6-12.0z"/>
<path class="scr" d="M754.8 358.9l6.6-2.9l1.4 10.0l-6.6 3.8z"/>
<path class="sdo" d="M693.2 324.9l6.6 10.8l1.4-8.6l-6.6-1.8z"/>
<path class="scv" d="M772.1 365.6l6.6-0.4l1.4-2.3l-6.6-2.0z"/>
<path class="scm" d="M710.6 328.4l6.6-5.1l1.4-2.2l-6.6 3.9z"/>
<path class="sfh" d="M649.0 329.0l6.6-0.3l1.4-5.2l-6.6-0.7z"/>
<path class="sem" d="M789.5 351.2l6.6-4.1l1.4 15.1l-6.6-11.6z"/>
<path class="sfi" d="M728.0 313.7l6.6 6.9l1.4-5.3l-6.6-2.6z"/>
<path class="scu" d="M666.4 327.0l6.6 5.8l1.4-7.1l-6.6-2.4z"/>
<path class="sfj" d="M806.9 350.1l6.6 4.9l1.4-7.9l-6.6-0.9z"/>
<path class="scq" d="M745.3 321.4l6.6 3.0l1.4 9.9l-6.6-6.3z"/>
<path class="scd" d="M683.8 328.8l6.6 0.0l1.4-4.8l-6.6 2.0z"/>
<path class="sdn" d="M762.7 366.0l6.6-6.7l1.4 2.6l-6.6 8.1z"/>
<path class="scd" d="M701.2 327.1l6.6 1.7l1.4-5.6l-6.6 5.4z"/>
<path class="sdg" d="M639.6 329.1l6.6-1.8l1.4 1.0l-6.6-2.3z"/>
<path class="sfk" d="M780.1 362.9l6.6-3.4l1.4-3.6l-6.6-1.5z"/>
<path class="sff" d="M718.5 321.1l6.6 0.6l1.4-5.7l-6.6 0.9z"/>
<path class="seb" d="M657.0 323.6l6.6 3.8l1.4 1.8l-6.6-8.9z"/>
<path class="sfl" d="M797.5 362.2l6.6-6.2l1.4-2.0l-6.6-7.9z"/>
<path class="sfm" d="M735.9 315.3l6.6 7.4l1.4 0.4l-6.6-9.6z"/>
<path class="sdo" d="M674.4 325.8l6.6 6.2l1.4-5.6l-6.6 4.8z"/>
<path class="sfn" d="M814.9 347.0l6.6 6.7l1.4-9.6l-6.6 1.7z"/>
<path class="sfo" d="M753.3 334.3l6.6-1.4l1.4 23.2l-6.6 2.9z"/>
<path class="scq" d="M691.7 324.1l6.6 1.2l1.4 10.4l-6.6-10.8z"/>
<path class="sdp" d="M770.7 361.9l6.6 1.7l1.4 1.6l-6.6 0.4z"/>
<path class="sck" d="M709.1 323.3l6.6 1.2l1.4-1.1l-6.6 5.1z"/>
<path class="sdg" d="M647.6 328.2l6.6-2.0l1.4 2.5l-6.6 0.3z"/>
<path class="sbm" d="M788.1 355.9l6.6 2.2l1.4-11.0l-6.6 4.1z"/>
<path class="sfi" d="M726.5 316.0l6.6-0.7l1.4 5.3l-6.6-6.9z"/>
<path class="sbx" d="M664.9 329.2l6.6-0.9l1.4 4.6l-6.6-5.8z"/>
<path class="scb" d="M805.5 354.0l6.6-0.9l1.4 1.8l-6.6-4.9z"/>
<path class="sfp" d="M743.9 323.1l6.6 1.9l1.4-0.6l-6.6-3.0z"/>
<path class="scu" d="M682.3 326.4l6.6 1.3l1.4 1.2l-6.6-0.0z"/>
<path class="sfq" d="M822.9 344.2l6.6 4.5l1.4 1.6l-6.6 6.9z"/>
<path class="sfr" d="M761.3 356.1l6.6 5.1l1.4-1.9l-6.6 6.7z"/>
<path class="sdo" d="M699.7 335.7l6.6-9.9l1.4 3.1l-6.6-1.7z"/>
<path class="sdd" d="M638.1 333.5l6.6-3.0l1.4-3.2l-6.6 1.8z"/>
<path class="sel" d="M778.7 365.2l6.6-8.8l1.4 3.1l-6.6 3.4z"/>
<path class="set" d="M717.1 323.3l6.6-4.2l1.4 2.6l-6.6-0.6z"/>
<path class="scz" d="M655.5 328.8l6.6-1.2l1.4-0.2l-6.6-3.8z"/>
<path class="sco" d="M796.1 347.1l6.6 7.1l1.4 1.8l-6.6 6.2z"/>
<path class="seh" d="M734.5 320.6l6.6 0.6l1.4 1.5l-6.6-7.4z"/>
<path class="sdd" d="M672.9 332.9l6.6-4.0l1.4 3.1l-6.6-6.2z"/>
<path class="sfs" d="M813.5 354.9l6.6-5.5l1.4 4.3l-6.6-6.7z"/>
<path class="scd" d="M751.9 324.4l6.6-4.3l1.4 12.8l-6.6 1.4z"/>
<path class="scc" d="M690.3 328.9l6.6-1.6l1.4-2.0l-6.6-1.2z"/>
<path class="sel" d="M769.3 359.3l6.6 0.9l1.4 3.3l-6.6-1.7z"/>
<path class="sft" d="M707.7 328.8l6.6-7.4l1.4 3.0l-6.6-1.2z"/>
<path class="scu" d="M646.1 327.2l6.6 5.3l1.4-6.3l-6.6 2.0z"/>
<path class="sfu" d="M786.7 359.5l6.6-0.8l1.4-0.5l-6.6-2.2z"/>
<path class="sfv" d="M725.1 321.7l6.6 2.6l1.4-9.0l-6.6 0.7z"/>
<path class="scz" d="M663.5 327.4l6.6-3.3l1.4 4.2l-6.6 0.9z"/>
<path class="sci" d="M804.1 356.0l6.6 0.5l1.4-3.3l-6.6 0.9z"/>
<path class="sfw" d="M742.5 322.7l6.6-0.1l1.4 2.4l-6.6-1.9z"/>
<path class="sfx" d="M680.9 331.9l6.6-2.2l1.4-2.0l-6.6-1.3z"/>
<path class="see" d="M821.5 353.8l6.6-9.4l1.4 4.3l-6.6-4.5z"/>
<path class="seq" d="M759.9 332.9l6.6-4.1l1.4 32.4l-6.6-5.1z"/>
<path class="scu" d="M698.3 325.3l6.6 3.2l1.4-2.8l-6.6 9.9z"/>
<path class="scq" d="M636.7 330.7l6.6-10.3l1.4 10.1l-6.6 3.0z"/>
<path class="seg" d="M777.3 363.6l6.6-7.1l1.4-0.1l-6.6 8.8z"/>
<path class="sfy" d="M715.7 324.4l6.6-7.8l1.4 2.5l-6.6 4.2z"/>
<path class="seb" d="M654.1 326.2l6.6-2.2l1.4 3.6l-6.6 1.2z"/>
<path class="sem" d="M794.7 358.1l6.6 1.0l1.4-5.0l-6.6-7.1z"/>
<path class="sfz" d="M733.1 315.3l6.6 13.4l1.4-7.5l-6.6-0.6z"/>
<path class="sdd" d="M671.5 328.3l6.6 4.3l1.4-3.7l-6.6 4.0z"/>
<path class="sga" d="M812.1 353.1l6.6-3.5l1.4-0.1l-6.6 5.5z"/>
<path class="seo" d="M750.5 324.9l6.6-8.2l1.4 3.4l-6.6 4.3z"/>
<path class="seb" d="M688.9 327.7l6.6-4.5l1.4 4.1l-6.6 1.6z"/>
<path class="sdi" d="M829.5 348.7l6.6 1.4l1.4 4.9l-6.6-4.7z"/>
<path class="sgb" d="M767.9 361.2l6.6-6.1l1.4 5.1l-6.6-0.9z"/>
<path class="sgc" d="M706.3 325.7l6.6-0.1l1.4-4.3l-6.6 7.4z"/>
<path class="sdg" d="M644.7 330.5l6.6-2.4l1.4 4.5l-6.6-5.3z"/>
<path class="sgd" d="M785.3 356.4l6.6 7.1l1.4-4.8l-6.6 0.8z"/>
<path class="sge" d="M723.7 319.1l6.6 7.1l1.4-1.9l-6.6-2.6z"/>
<path class="seb" d="M662.1 327.6l6.6 2.1l1.4-5.6l-6.6 3.3z"/>
<path class="sbu" d="M802.7 354.2l6.6-2.6l1.4 4.8l-6.6-0.5z"/>
<path class="sfw" d="M741.1 321.1l6.6 7.6l1.4-6.1l-6.6 0.1z"/>
<path class="sdg" d="M679.5 328.9l6.6 0.8l1.4 0.0l-6.6 2.2z"/>
<path class="sgf" d="M820.1 349.5l6.6 6.8l1.4-11.8l-6.6 9.4z"/>
<path class="sgg" d="M758.5 320.1l6.6-3.4l1.4 12.1l-6.6 4.1z"/>
<path class="seb" d="M696.9 327.3l6.6 0.8l1.4 0.4l-6.6-3.2z"/>
<path class="scq" d="M635.3 332.1l6.6 2.2l1.4-13.9l-6.6 10.3z"/>
<path class="sfu" d="M775.9 360.2l6.6-4.2l1.4 0.4l-6.6 7.1z"/>
<path class="sgh" d="M714.3 321.4l6.6-3.3l1.4-1.5l-6.6 7.8z"/>
<path class="scq" d="M652.7 332.6l6.6 3.0l1.4-11.5l-6.6 2.2z"/>
<path class="sgi" d="M793.3 358.6l6.6-6.1l1.4 6.6l-6.6-1.0z"/>
<path class="sdc" d="M731.7 324.3l6.6 2.3l1.4 2.1l-6.6-13.4z"/>
<path class="scd" d="M670.1 324.0l6.6 8.5l1.4 0.0l-6.6-4.3z"/>
<path class="sfj" d="M810.7 356.4l6.6-6.7l1.4-0.2l-6.6 3.5z"/>
<path class="sgj" d="M749.1 322.6l6.6-3.9l1.4-2.0l-6.6 8.2z"/>
<path class="scc" d="M687.5 329.7l6.6 1.8l1.4-8.4l-6.6 4.5z"/>
<path class="sgk" d="M828.1 344.4l6.6 7.0l1.4-1.4l-6.6-1.4z"/>
<path class="sgl" d="M766.5 328.8l6.6-1.3l1.4 27.7l-6.6 6.1z"/>
<path class="scx" d="M704.9 328.5l6.6-5.5l1.4 2.7l-6.6 0.1z"/>
<path class="seb" d="M643.3 320.4l6.6 11.2l1.4-3.5l-6.6 2.4z"/>
<path class="sdy" d="M783.9 356.4l6.6-1.1l1.4 8.2l-6.6-7.1z"/>
<path class="sfv" d="M722.3 316.6l6.6 4.2l1.4 5.3l-6.6-7.1z"/>
<path class="seb" d="M660.7 324.0l6.6 6.1l1.4-0.4l-6.6-2.1z"/>
<path class="sgm" d="M801.3 359.1l6.6-0.2l1.4-7.4l-6.6 2.6z"/>
<path class="sgg" d="M739.7 328.6l6.6-6.0l1.4 6.1l-6.6-7.6z"/>
<path class="scd" d="M678.1 332.6l6.6-4.6l1.4 1.7l-6.6-0.8z"/>
<path class="sgn" d="M818.7 349.6l6.6 4.8l1.4 1.8l-6.6-6.8z"/>
<path class="sgo" d="M757.1 316.7l6.6 2.2l1.4-2.2l-6.6 3.4z"/>
<path class="scx" d="M695.5 323.2l6.6 2.0l1.4 3.0l-6.6-0.8z"/>
<path class="sdo" d="M633.9 330.6l6.6-1.3l1.4 5.0l-6.6-2.2z"/>
<path class="sgn" d="M836.1 350.0l6.6 4.6l1.4-4.2l-6.6 4.5z"/>
<path class="sdy" d="M774.5 355.1l6.6 7.1l1.4-6.1l-6.6 4.2z"/>
<path class="sff" d="M712.9 325.7l6.6-3.7l1.4-3.9l-6.6 3.3z"/>
<path class="scq" d="M651.3 328.1l6.6-3.5l1.4 10.9l-6.6-3.0z"/>
<path class="sdt" d="M791.9 363.5l6.6-0.6l1.4-10.4l-6.6 6.1z"/>
<path class="sdc" d="M730.3 326.2l6.6-5.4l1.4 5.8l-6.6-2.3z"/>
<path class="scz" d="M668.7 329.7l6.6-0.4l1.4 3.3l-6.6-8.5z"/>
<path class="sfq" d="M809.3 351.6l6.6 0.5l1.4-2.3l-6.6 6.7z"/>
<path class="sdc" d="M747.7 328.7l6.6 0.1l1.4-10.2l-6.6 3.9z"/>
<path class="scq" d="M686.1 329.7l6.6 1.1l1.4 0.8l-6.6-1.8z"/>
<path class="sgp" d="M826.7 356.3l6.6-1.9l1.4-3.0l-6.6-7.0z"/>
<path class="sfy" d="M765.1 316.7l6.6 1.7l1.4 9.0l-6.6 1.3z"/>
<path class="sgg" d="M703.5 328.1l6.6-4.0l1.4-1.2l-6.6 5.5z"/>
<path class="scc" d="M641.9 334.3l6.6-6.4l1.4 3.7l-6.6-11.2z"/>
<path class="sgq" d="M782.5 356.1l6.6 0.6l1.4-1.4l-6.6 1.1z"/>
<path class="sfa" d="M720.9 318.1l6.6 2.4l1.4 0.3l-6.6-4.2z"/>
<path class="scd" d="M659.3 335.5l6.6-3.7l1.4-1.7l-6.6-6.1z"/>
<path class="sgr" d="M799.9 352.5l6.6 4.2l1.4 2.3l-6.6 0.2z"/>
<path class="sck" d="M738.3 326.6l6.6 8.2l1.4-12.1l-6.6 6.0z"/>
<path class="sfh" d="M676.7 332.6l6.6-5.9l1.4 1.3l-6.6 4.6z"/>
<path class="sgf" d="M817.2 349.8l6.6 6.0l1.4-1.3l-6.6-4.8z"/>
<path class="sfe" d="M755.7 318.7l6.6 7.1l1.4-6.9l-6.6-2.2z"/>
<path class="sgg" d="M694.1 331.5l6.6-6.8l1.4 0.4l-6.6-2.0z"/>
<path class="sdg" d="M632.5 332.0l6.6 2.1l1.4-4.8l-6.6 1.3z"/>
<path class="sgn" d="M834.6 351.4l6.6 5.6l1.4-2.4l-6.6-4.6z"/>
<path class="sgs" d="M773.1 327.4l6.6 12.4l1.4 22.4l-6.6-7.1z"/>
<path class="seh" d="M711.5 322.9l6.6-2.1l1.4 1.1l-6.6 3.7z"/>
<path class="scx" d="M649.9 331.6l6.6-9.4l1.4 2.4l-6.6 3.5z"/>
<path class="sgt" d="M790.4 355.3l6.6 2.6l1.4 5.0l-6.6 0.6z"/>
<path class="sfv" d="M728.9 320.9l6.6-0.4l1.4 0.3l-6.6 5.4z"/>
<path class="scz" d="M667.3 330.1l6.6 0.9l1.4-1.7l-6.6 0.4z"/>
<path class="sep" d="M807.8 359.0l6.6-5.5l1.4-1.3l-6.6-0.5z"/>
<path class="sfw" d="M746.3 322.6l6.6 0.6l1.4 5.6l-6.6-0.1z"/>
<path class="sdg" d="M684.7 328.0l6.6 10.8l1.4-8.0l-6.6-1.1z"/>
<path class="sgu" d="M825.2 354.4l6.6 3.8l1.4-3.8l-6.6 1.9z"/>
<path class="sgv" d="M763.6 318.9l6.6-0.8l1.4 0.3l-6.6-1.7z"/>
<path class="sdx" d="M702.1 325.1l6.6 0.5l1.4-1.5l-6.6 4.0z"/>
<path class="sch" d="M640.5 329.3l6.6 9.4l1.4-10.8l-6.6 6.4z"/>
<path class="scw" d="M842.6 354.6l6.6 7.2l1.4-7.4l-6.6-4.0z"/>
<path class="sem" d="M781.0 362.2l6.6-8.6l1.4 3.2l-6.6-0.6z"/>
<path class="sgo" d="M719.5 322.0l6.6-4.1l1.4 2.6l-6.6-2.4z"/>
<path class="sdg" d="M657.9 324.6l6.6 11.0l1.4-3.8l-6.6 3.7z"/>
<path class="sci" d="M798.4 362.9l6.6-3.9l1.4-2.3l-6.6-4.2z"/>
<path class="sft" d="M736.8 320.7l6.6 7.5l1.4 6.5l-6.6-8.2z"/>
<path class="sdk" d="M675.3 329.3l6.6-5.9l1.4 3.3l-6.6 5.9z"/>
<path class="sgn" d="M815.8 352.1l6.6 5.9l1.4-2.2l-6.6-6.0z"/>
<path class="sfy" d="M754.2 328.8l6.6-6.6l1.4 3.6l-6.6-7.1z"/>
<path class="seb" d="M692.7 330.8l6.6-0.4l1.4-5.7l-6.6 6.8z"/>
<path class="scd" d="M631.1 333.5l6.6-7.2l1.4 7.8l-6.6-2.1z"/>
<path class="sfq" d="M833.2 354.4l6.6-1.5l1.4 4.1l-6.6-5.6z"/>
<path class="sfh" d="M771.6 318.4l6.6 18.7l1.4 2.6l-6.6-12.4z"/>
<path class="sei" d="M710.0 324.1l6.6 6.1l1.4-9.4l-6.6 2.1z"/>
<path class="sgg" d="M648.5 327.9l6.6-2.0l1.4-3.7l-6.6 9.4z"/>
<path class="sed" d="M789.0 356.7l6.6 5.6l1.4-4.3l-6.6-2.6z"/>
<path class="seu" d="M727.4 320.6l6.6 4.8l1.4-4.9l-6.6 0.4z"/>
<path class="scz" d="M665.9 331.9l6.6-2.4l1.4 1.5l-6.6-0.9z"/>
<path class="sgw" d="M806.4 356.7l6.6 0.1l1.4-3.4l-6.6 5.5z"/>
<path class="sdx" d="M744.8 334.7l6.6-9.8l1.4-1.7l-6.6-0.6z"/>
<path class="scd" d="M683.2 326.7l6.6 5.6l1.4 6.5l-6.6-10.8z"/>
<path class="sgx" d="M823.8 355.7l6.6-0.0l1.4 2.5l-6.6-3.8z"/>
<path class="sfe" d="M762.2 325.8l6.6-4.4l1.4-3.3l-6.6 0.8z"/>
<path class="set" d="M700.6 324.7l6.6 1.2l1.4-0.2l-6.6-0.5z"/>
<path class="scd" d="M639.1 334.1l6.6-9.5l1.4 14.1l-6.6-9.4z"/>
<path class="sgu" d="M841.2 357.0l6.6-3.9l1.4 8.8l-6.6-7.2z"/>
<path class="seq" d="M779.6 339.8l6.6-1.7l1.4 15.4l-6.6 8.6z"/>
<path class="sfa" d="M718.0 320.9l6.6 0.4l1.4-3.4l-6.6 4.1z"/>
<path class="seb" d="M656.4 322.2l6.6 15.4l1.4-2.0l-6.6-11.0z"/>
<path class="sfd" d="M797.0 358.0l6.6 4.4l1.4-3.4l-6.6 3.9z"/>
<path class="sfz" d="M735.4 320.4l6.6 8.9l1.4-1.1l-6.6-7.5z"/>
<path class="scx" d="M673.8 331.0l6.6-2.4l1.4-5.1l-6.6 5.9z"/>
<path class="scw" d="M814.4 353.4l6.6 7.8l1.4-3.3l-6.6-5.9z"/>
<path class="sff" d="M752.8 323.2l6.6-1.7l1.4 0.6l-6.6 6.6z"/>
<path class="sdo" d="M691.2 338.8l6.6-4.3l1.4-4.1l-6.6 0.4z"/>
<path class="ser" d="M629.6 332.5l6.6 2.1l1.4-8.2l-6.6 7.2z"/>
<path class="sey" d="M831.8 358.2l6.6 0.2l1.4-5.5l-6.6 1.5z"/>
<path class="sgg" d="M770.2 318.1l6.6 18.0l1.4 1.0l-6.6-18.7z"/>
<path class="set" d="M708.6 325.6l6.6-2.7l1.4 7.3l-6.6-6.1z"/>
<path class="sck" d="M647.0 338.7l6.6-12.7l1.4-0.0l-6.6 2.0z"/>
<path class="sbu" d="M849.2 361.8l6.6-0.5l1.4-7.7l-6.6 0.7z"/>
<path class="sgx" d="M787.6 353.5l6.6 0.0l1.4 8.7l-6.6-5.6z"/>
<path class="sfe" d="M726.0 317.9l6.6 5.5l1.4 1.9l-6.6-4.8z"/>
<path class="sdo" d="M664.4 335.6l6.6 2.8l1.4-8.9l-6.6 2.4z"/>
<path class="scw" d="M805.0 359.0l6.6-5.5l1.4 3.3l-6.6-0.1z"/>
<path class="sgg" d="M743.4 328.2l6.6-3.9l1.4 0.6l-6.6 9.8z"/>
<path class="sck" d="M681.8 323.4l6.6 12.8l1.4-3.9l-6.6-5.6z"/>
<path class="scw" d="M822.4 358.0l6.6-1.2l1.4-1.1l-6.6 0.0z"/>
<path class="sgy" d="M760.8 322.2l6.6-3.4l1.4 2.5l-6.6 4.4z"/>
<path class="sge" d="M699.2 330.4l6.6-5.9l1.4 1.3l-6.6-1.2z"/>
<path class="sdk" d="M637.6 326.3l6.6 7.3l1.4-9.0l-6.6 9.5z"/>
<path class="sfj" d="M839.8 352.9l6.6 5.2l1.4-5.1l-6.6 3.9z"/>
<path class="sgz" d="M778.2 337.2l6.6-3.8l1.4 4.7l-6.6 1.7z"/>
<path class="sgh" d="M716.6 330.3l6.6-9.8l1.4 0.8l-6.6-0.4z"/>
<path class="seb" d="M655.0 325.9l6.6 10.5l1.4 1.1l-6.6-15.4z"/>
<path class="sci" d="M795.6 362.3l6.6-7.9l1.4 8.0l-6.6-4.4z"/>
<path class="set" d="M734.0 325.3l6.6 3.7l1.4 0.4l-6.6-8.9z"/>
<path class="sck" d="M672.4 329.5l6.6 1.9l1.4-2.9l-6.6 2.4z"/>
<path class="sey" d="M813.0 356.8l6.6-2.0l1.4 6.4l-6.6-7.8z"/>
<path class="sgh" d="M751.4 324.9l6.6 0.1l1.4-3.4l-6.6 1.7z"/>
<path class="sch" d="M689.8 332.3l6.6-1.7l1.4 3.9l-6.6 4.3z"/>
<path class="sdd" d="M628.2 334.2l6.6 5.0l1.4-4.6l-6.6-2.1z"/>
<path class="sey" d="M830.4 355.7l6.6-0.7l1.4 3.4l-6.6-0.2z"/>
<path class="sgg" d="M768.8 321.3l6.6 17.2l1.4-2.4l-6.6-18.0z"/>
<path class="seh" d="M707.2 325.9l6.6-0.4l1.4-2.6l-6.6 2.7z"/>
<path class="sgc" d="M645.6 324.6l6.6 4.2l1.4-2.9l-6.6 12.7z"/>
<path class="sci" d="M847.8 353.0l6.6 10.2l1.4-1.8l-6.6 0.5z"/>
<path class="sha" d="M786.2 338.1l6.6-1.6l1.4 17.0l-6.6-0.0z"/>
<path class="sgy" d="M724.6 321.3l6.6 7.3l1.4-5.2l-6.6-5.5z"/>
<path class="shb" d="M663.0 337.6l6.6 2.8l1.4-2.0l-6.6-2.8z"/>
<path class="sgr" d="M803.6 362.4l6.6 0.4l1.4-9.3l-6.6 5.5z"/>
<path class="set" d="M742.0 329.4l6.6-4.9l1.4-0.2l-6.6 3.9z"/>
<path class="sdk" d="M680.4 328.5l6.6 3.8l1.4 3.9l-6.6-12.8z"/>
<path class="sey" d="M821.0 361.3l6.6-8.7l1.4 4.3l-6.6 1.2z"/>
<path class="shc" d="M759.4 321.6l6.6-0.2l1.4-2.5l-6.6 3.4z"/>
<path class="sdc" d="M697.8 334.5l6.6-13.9l1.4 3.9l-6.6 5.9z"/>
<path class="scz" d="M636.2 334.5l6.6-0.1l1.4-0.9l-6.6-7.3z"/>
<path class="sdr" d="M838.4 358.4l6.6 2.6l1.4-2.9l-6.6-5.2z"/>
<path class="sbw" d="M776.8 336.1l6.6 1.8l1.4-4.5l-6.6 3.8z"/>
<path class="sfv" d="M715.2 322.9l6.6 0.5l1.4-2.9l-6.6 9.8z"/>
<path class="sck" d="M653.6 326.0l6.6 8.9l1.4 1.6l-6.6-10.5z"/>
<path class="sda" d="M855.8 361.4l6.6 12.6l1.4 1.2l-6.6-21.5z"/>
<path class="sgn" d="M794.2 353.5l6.6 0.2l1.4 0.7l-6.6 7.9z"/>
<path class="set" d="M732.6 323.4l6.6 6.5l1.4-0.9l-6.6-3.7z"/>
<path class="scq" d="M671.0 338.4l6.6-3.1l1.4-3.9l-6.6-1.9z"/>
<path class="sdi" d="M811.6 353.5l6.6 4.5l1.4-3.2l-6.6 2.0z"/>
<path class="shd" d="M750.0 324.3l6.6-4.5l1.4 5.1l-6.6-0.1z"/>
<path class="scz" d="M688.4 336.2l6.6-6.1l1.4 0.5l-6.6 1.7z"/>
<path class="sbw" d="M626.8 335.9l6.6-1.1l1.4 4.4l-6.6-5.0z"/>
<path class="sdi" d="M829.0 356.8l6.6-1.9l1.4 0.1l-6.6 0.7z"/>
<path class="sdx" d="M767.4 318.8l6.6 15.4l1.4 4.3l-6.6-17.2z"/>
<path class="sgh" d="M705.8 324.5l6.6-3.0l1.4 3.9l-6.6 0.4z"/>
<path class="sdk" d="M644.2 333.6l6.6 1.3l1.4-6.0l-6.6-4.2z"/>
<path class="sgq" d="M846.4 358.1l6.6 5.4l1.4-0.3l-6.6-10.2z"/>
<path class="sch" d="M784.8 333.4l6.6-1.7l1.4 4.9l-6.6 1.6z"/>
<path class="sfv" d="M723.2 320.5l6.6 8.1l1.4 0.0l-6.6-7.3z"/>
<path class="she" d="M661.6 336.5l6.6 3.4l1.4 0.5l-6.6-2.8z"/>
<path class="sco" d="M802.2 354.4l6.6 9.4l1.4-1.0l-6.6-0.4z"/>
<path class="sge" d="M740.6 329.0l6.6-0.9l1.4-3.6l-6.6 4.9z"/>
<path class="seb" d="M679.0 331.4l6.6 4.7l1.4-3.8l-6.6-3.8z"/>
<path class="sdr" d="M819.6 354.8l6.6 9.8l1.4-12.1l-6.6 8.7z"/>
<path class="sgy" d="M758.0 325.0l6.6 2.4l1.4-6.0l-6.6 0.2z"/>
<path class="sdc" d="M696.4 330.6l6.6-2.5l1.4-7.5l-6.6 13.9z"/>
<path class="sdo" d="M634.8 339.2l6.6-4.9l1.4 0.2l-6.6 0.1z"/>
<path class="scb" d="M837.0 355.0l6.6 8.5l1.4-2.5l-6.6-2.6z"/>
<path class="sde" d="M775.4 338.5l6.6 0.7l1.4-1.3l-6.6-1.8z"/>
<path class="sgh" d="M713.8 325.5l6.6 2.4l1.4-4.5l-6.6-0.5z"/>
<path class="scc" d="M652.2 328.8l6.6 11.1l1.4-5.1l-6.6-8.9z"/>
<path class="shf" d="M854.4 363.2l6.6 12.0l1.4-1.2l-6.6-12.6z"/>
<path class="shg" d="M792.8 336.6l6.6 0.7l1.4 16.4l-6.6-0.2z"/>
<path class="seo" d="M731.2 328.6l6.6-2.1l1.4 3.4l-6.6-6.5z"/>
<path class="sbx" d="M669.6 340.4l6.6-10.2l1.4 5.1l-6.6 3.1z"/>
<path class="shh" d="M810.2 362.8l6.6-0.3l1.4-4.5l-6.6-4.5z"/>
<path class="sgh" d="M748.6 324.5l6.6 6.4l1.4-11.0l-6.6 4.5z"/>
<path class="shi" d="M687.0 332.3l6.6 0.9l1.4-3.1l-6.6 6.1z"/>
<path class="sca" d="M625.4 337.6l6.6 6.0l1.4-8.9l-6.6 1.1z"/>
<path class="sgn" d="M827.6 352.5l6.6 10.9l1.4-8.5l-6.6 1.9z"/>
<path class="seh" d="M766.0 321.3l6.6 10.7l1.4 2.2l-6.6-15.4z"/>
<path class="sgo" d="M704.4 320.6l6.6 4.2l1.4-3.3l-6.6 3.0z"/>
<path class="scc" d="M642.8 334.4l6.6-6.0l1.4 6.5l-6.6-1.3z"/>
<path class="sem" d="M844.9 361.0l6.6-1.5l1.4 4.0l-6.6-5.4z"/>
<path class="scd" d="M783.4 337.9l6.6-3.1l1.4-3.1l-6.6 1.7z"/>
<path class="seu" d="M721.8 323.4l6.6 3.7l1.4 1.5l-6.6-8.1z"/>
<path class="shj" d="M660.2 334.9l6.6 5.0l1.4 0.0l-6.6-3.4z"/>
<path class="scr" d="M862.3 374.0l6.6-4.7l1.4-5.3l-6.6 11.1z"/>
<path class="sgn" d="M800.8 353.7l6.6 2.9l1.4 7.1l-6.6-9.4z"/>
<path class="set" d="M739.2 329.9l6.6-3.8l1.4 2.1l-6.6 0.9z"/>
<path class="scd" d="M677.6 335.3l6.6 0.3l1.4 0.4l-6.6-4.7z"/>
<path class="scb" d="M818.1 358.0l6.6 4.9l1.4 1.7l-6.6-9.8z"/>
<path class="shc" d="M756.6 319.9l6.6-3.2l1.4 10.6l-6.6-2.4z"/>
<path class="sfw" d="M695.0 330.1l6.6-0.7l1.4-1.4l-6.6 2.5z"/>
<path class="sch" d="M633.4 334.8l6.6 1.4l1.4-1.9l-6.6 4.9z"/>
<path class="sep" d="M835.5 354.9l6.6 3.1l1.4 5.5l-6.6-8.5z"/>
<path class="sdd" d="M774.0 334.2l6.6 2.7l1.4 2.2l-6.6-0.7z"/>
<path class="sfi" d="M712.4 321.5l6.6-0.9l1.4 7.2l-6.6-2.4z"/>
<path class="scu" d="M650.8 334.8l6.6 3.0l1.4 2.0l-6.6-11.1z"/>
<path class="shf" d="M852.9 363.5l6.6 10.5l1.4 1.2l-6.6-12.0z"/>
<path class="scd" d="M791.3 331.7l6.6 2.1l1.4 3.6l-6.6-0.7z"/>
<path class="sfw" d="M729.8 328.5l6.6 7.6l1.4-9.6l-6.6 2.1z"/>
<path class="scu" d="M668.2 339.9l6.6-9.2l1.4-0.5l-6.6 10.2z"/>
<path class="sbf" d="M808.7 363.8l6.6 2.5l1.4-3.8l-6.6 0.3z"/>
<path class="seo" d="M747.2 328.1l6.6-0.2l1.4 3.0l-6.6-6.4z"/>
<path class="sck" d="M685.6 336.1l6.6-7.1l1.4 4.2l-6.6-0.9z"/>
<path class="sce" d="M624.0 339.8l6.6 1.1l1.4 2.7l-6.6-6.0z"/>
<path class="sbu" d="M826.1 364.6l6.6-2.5l1.4 1.4l-6.6-10.9z"/>
<path class="sge" d="M764.5 327.3l6.6 8.2l1.4-3.5l-6.6-10.7z"/>
<path class="sfe" d="M703.0 328.1l6.6-3.1l1.4-0.1l-6.6-4.2z"/>
<path class="sfp" d="M641.4 334.2l6.6-7.8l1.4 1.9l-6.6 6.0z"/>
<path class="sdr" d="M843.5 363.5l6.6-9.5l1.4 5.4l-6.6 1.5z"/>
<path class="sch" d="M781.9 339.2l6.6-5.7l1.4 1.3l-6.6 3.1z"/>
<path class="sfv" d="M720.4 327.9l6.6-1.1l1.4 0.3l-6.6-3.7z"/>
<path class="shj" d="M658.8 339.9l6.6-0.3l1.4 0.3l-6.6-5.0z"/>
<path class="shk" d="M860.9 375.2l6.6-3.7l1.4-2.2l-6.6 4.7z"/>
<path class="shl" d="M799.3 337.3l6.6-0.1l1.4 19.5l-6.6-2.9z"/>
<path class="sge" d="M737.7 326.5l6.6 8.0l1.4-8.5l-6.6 3.8z"/>
<path class="scz" d="M676.2 330.3l6.6 5.1l1.4 0.3l-6.6-0.3z"/>
<path class="shh" d="M816.7 362.5l6.6-3.5l1.4 3.9l-6.6-4.9z"/>
<path class="shm" d="M755.1 330.9l6.6-8.0l1.4-6.2l-6.6 3.2z"/>
<path class="sfp" d="M693.6 333.3l6.6-0.9l1.4-2.8l-6.6 0.7z"/>
<path class="sch" d="M632.0 343.6l6.6-11.4l1.4 3.9l-6.6-1.4z"/>
<path class="sfs" d="M834.1 363.4l6.6-3.8l1.4-1.6l-6.6-3.1z"/>
<path class="scz" d="M772.5 332.0l6.6 2.3l1.4 2.6l-6.6-2.7z"/>
<path class="sgv" d="M710.9 324.8l6.6-2.0l1.4-2.2l-6.6 0.9z"/>
<path class="scd" d="M649.4 328.4l6.6 11.6l1.4-2.1l-6.6-3.0z"/>
<path class="shn" d="M851.5 359.5l6.6 12.7l1.4 1.8l-6.6-10.5z"/>
<path class="sft" d="M789.9 334.8l6.6-6.6l1.4 5.5l-6.6-2.1z"/>
<path class="sho" d="M728.3 327.0l6.6 4.7l1.4 4.4l-6.6-7.6z"/>
<path class="sdd" d="M666.8 339.9l6.6 0.2l1.4-9.3l-6.6 9.2z"/>
<path class="sel" d="M868.9 369.3l6.6-0.7l1.4 5.4l-6.6-10.0z"/>
<path class="sgw" d="M807.3 356.6l6.6-1.1l1.4 10.7l-6.6-2.5z"/>
<path class="set" d="M745.7 326.1l6.6 9.6l1.4-7.7l-6.6 0.2z"/>
<path class="ser" d="M684.1 335.7l6.6 5.0l1.4-11.6l-6.6 7.1z"/>
<path class="sca" d="M622.6 341.8l6.6-7.4l1.4 6.4l-6.6-1.1z"/>
<path class="sfl" d="M824.7 362.9l6.6 0.2l1.4-1.1l-6.6 2.5z"/>
<path class="sfy" d="M763.1 316.7l6.6 16.2l1.4 2.7l-6.6-8.2z"/>
<path class="sfv" d="M701.5 329.5l6.6-4.2l1.4-0.3l-6.6 3.1z"/>
<path class="sft" d="M640.0 336.2l6.6-4.3l1.4-5.4l-6.6 7.8z"/>
<path class="sgw" d="M842.1 358.1l6.6 9.5l1.4-13.5l-6.6 9.5z"/>
<path class="sfx" d="M780.5 336.9l6.6-0.4l1.4-3.0l-6.6 5.7z"/>
<path class="sgh" d="M718.9 320.7l6.6 10.8l1.4-4.7l-6.6 1.1z"/>
<path class="sca" d="M657.3 337.9l6.6 2.7l1.4-1.0l-6.6 0.3z"/>
<path class="scr" d="M859.5 374.0l6.6-6.3l1.4 3.8l-6.6 3.7z"/>
<path class="scq" d="M797.9 333.7l6.6 3.1l1.4 0.4l-6.6 0.1z"/>
<path class="sgg" d="M736.3 336.1l6.6-6.6l1.4 5.0l-6.6-8.0z"/>
<path class="scc" d="M674.7 330.8l6.6 11.4l1.4-6.8l-6.6-5.1z"/>
<path class="sgw" d="M815.3 366.3l6.6-10.2l1.4 2.9l-6.6 3.5z"/>
<path class="sfv" d="M753.7 328.0l6.6-1.0l1.4-3.9l-6.6 8.0z"/>
<path class="sfw" d="M692.1 329.0l6.6 1.3l1.4 2.0l-6.6 0.9z"/>
<path class="sdd" d="M630.5 340.9l6.6-4.3l1.4-4.4l-6.6 11.4z"/>
<path class="shp" d="M832.7 362.0l6.6 3.7l1.4-6.1l-6.6 3.8z"/>
<path class="seb" d="M771.1 335.6l6.6 0.3l1.4-1.5l-6.6-2.3z"/>
<path class="shq" d="M709.5 324.9l6.6-0.4l1.4-1.7l-6.6 2.0z"/>
<path class="scx" d="M647.9 326.5l6.6 8.5l1.4 5.0l-6.6-11.6z"/>
<path class="sfu" d="M850.1 354.0l6.6 25.5l1.4-7.4l-6.6-12.7z"/>
<path class="sgg" d="M788.5 333.5l6.6-3.0l1.4-2.3l-6.6 6.6z"/>
<path class="shr" d="M726.9 326.7l6.6 8.3l1.4-3.3l-6.6-4.7z"/>
<path class="sbw" d="M665.3 339.6l6.6-2.3l1.4 2.8l-6.6-0.2z"/>
<path class="sfr" d="M867.5 371.5l6.6-3.5l1.4 0.7l-6.6 0.7z"/>
<path class="shs" d="M805.9 337.2l6.6-2.4l1.4 20.8l-6.6 1.1z"/>
<path class="sdc" d="M744.3 334.6l6.6-8.0l1.4 9.0l-6.6-9.6z"/>
<path class="scq" d="M682.7 335.4l6.6-0.2l1.4 5.5l-6.6-5.0z"/>
<path class="sdo" d="M621.1 338.8l6.6-1.7l1.4-2.7l-6.6 7.4z"/>
<path class="sco" d="M823.3 359.0l6.6 10.8l1.4-6.6l-6.6-0.2z"/>
<path class="sgh" d="M761.7 323.0l6.6 13.1l1.4-3.1l-6.6-16.2z"/>
<path class="sge" d="M700.1 332.3l6.6 2.7l1.4-9.8l-6.6 4.2z"/>
<path class="scc" d="M638.5 332.3l6.6 7.3l1.4-7.7l-6.6 4.3z"/>
<path class="sgq" d="M840.7 359.6l6.6 5.0l1.4 2.9l-6.6-9.5z"/>
<path class="scz" d="M779.1 334.4l6.6 1.2l1.4 1.0l-6.6 0.4z"/>
<path class="sfe" d="M717.5 322.8l6.6 6.9l1.4 1.7l-6.6-10.8z"/>
<path class="sbw" d="M655.9 340.0l6.6-0.8l1.4 1.4l-6.6-2.7z"/>
<path class="sdp" d="M858.1 372.1l6.6 8.0l1.4-12.5l-6.6 6.3z"/>
<path class="sgg" d="M796.5 328.2l6.6 2.1l1.4 6.5l-6.6-3.1z"/>
<path class="sfw" d="M734.9 331.7l6.6-2.1l1.4-0.1l-6.6 6.6z"/>
<path class="scq" d="M673.3 340.0l6.6-4.5l1.4 6.6l-6.6-11.4z"/>
<path class="sht" d="M875.5 368.7l6.6-4.9l1.4 10.8l-6.6-0.5z"/>
<path class="sdi" d="M813.9 355.6l6.6 2.5l1.4-2.0l-6.6 10.2z"/>
<path class="sfz" d="M752.3 335.6l6.6-7.9l1.4-0.8l-6.6 1.0z"/>
<path class="sdk" d="M690.7 340.7l6.6-5.2l1.4-5.2l-6.6-1.3z"/>
<path class="scu" d="M629.1 334.4l6.6 3.2l1.4-1.0l-6.6 4.3z"/>
<path class="sci" d="M831.3 363.1l6.6 0.9l1.4 1.7l-6.6-3.7z"/>
<path class="sdk" d="M769.7 332.9l6.6-0.7l1.4 3.7l-6.6-0.3z"/>
<path class="sgo" d="M708.1 325.2l6.6 1.2l1.4-1.9l-6.6 0.4z"/>
<path class="sfp" d="M646.5 331.9l6.6 5.9l1.4-2.8l-6.6-8.5z"/>
<path class="shu" d="M848.7 367.5l6.6 9.1l1.4 2.9l-6.6-25.5z"/>
<path class="sgg" d="M787.1 336.5l6.6-6.6l1.4 0.6l-6.6 3.0z"/>
<path class="sfw" d="M725.5 331.5l6.6 4.0l1.4-0.5l-6.6-8.3z"/>
<path class="sdg" d="M663.9 340.6l6.6-6.0l1.4 2.6l-6.6 2.3z"/>
<path class="sda" d="M866.1 367.7l6.6 4.6l1.4-4.3l-6.6 3.5z"/>
<path class="sgc" d="M804.5 336.8l6.6-9.9l1.4 7.9l-6.6 2.4z"/>
<path class="sei" d="M742.9 329.6l6.6 0.9l1.4-3.8l-6.6 8.0z"/>
<path class="sdg" d="M681.3 342.2l6.6-2.5l1.4-4.5l-6.6 0.2z"/>
<path class="sdo" d="M619.7 341.3l6.6-2.7l1.4-1.4l-6.6 1.7z"/>
<path class="sco" d="M821.9 356.1l6.6 16.0l1.4-2.3l-6.6-10.8z"/>
<path class="sge" d="M760.3 326.9l6.6 12.6l1.4-3.5l-6.6-13.1z"/>
<path class="sdx" d="M698.7 330.3l6.6-0.4l1.4 5.1l-6.6-2.7z"/>
<path class="scz" d="M637.1 336.6l6.6 0.3l1.4 2.7l-6.6-7.3z"/>
<path class="sem" d="M839.3 365.7l6.6-2.4l1.4 1.3l-6.6-5.0z"/>
<path class="seb" d="M777.7 335.9l6.6 0.6l1.4-0.9l-6.6-1.2z"/>
<path class="sfe" d="M716.1 324.6l6.6 5.6l1.4-0.4l-6.6-6.9z"/>
<path class="sdo" d="M654.5 335.0l6.6 7.0l1.4-2.8l-6.6 0.8z"/>
<path class="sdj" d="M856.7 379.5l6.6-6.5l1.4 7.1l-6.6-8.0z"/>
<path class="seo" d="M795.1 330.5l6.6 1.7l1.4-2.0l-6.6-2.1z"/>
<path class="sdx" d="M733.5 335.0l6.6-2.5l1.4-2.9l-6.6 2.1z"/>
<path class="scd" d="M671.9 337.2l6.6 0.4l1.4-2.1l-6.6 4.5z"/>
<path class="sfk" d="M874.1 368.0l6.6 6.8l1.4-11.1l-6.6 4.9z"/>
<path class="shv" d="M812.5 334.8l6.6 4.4l1.4 18.8l-6.6-2.5z"/>
<path class="sfv" d="M750.9 326.6l6.6-1.6l1.4 2.7l-6.6 7.9z"/>
<path class="scz" d="M689.3 335.2l6.6-0.7l1.4 1.0l-6.6 5.2z"/>
<path class="scq" d="M627.7 337.1l6.6 5.5l1.4-5.0l-6.6-3.2z"/>
<path class="sdt" d="M829.9 369.8l6.6 1.2l1.4-6.9l-6.6-0.9z"/>
<path class="scx" d="M768.3 336.0l6.6-1.5l1.4-2.3l-6.6 0.7z"/>
<path class="sfm" d="M706.7 335.0l6.6-4.4l1.4-4.1l-6.6-1.2z"/>
<path class="scz" d="M645.1 339.6l6.6-2.8l1.4 1.0l-6.6-5.9z"/>
<path class="sdv" d="M847.3 364.6l6.6 18.2l1.4-6.2l-6.6-9.1z"/>
<path class="sfp" d="M785.7 335.6l6.6-2.7l1.4-2.9l-6.6 6.6z"/>
<path class="sfp" d="M724.1 329.7l6.6 8.2l1.4-2.4l-6.6-4.0z"/>
<path class="scd" d="M662.5 339.2l6.6-3.1l1.4-1.5l-6.6 6.0z"/>
<path class="sdu" d="M864.7 380.1l6.6-3.2l1.4-4.6l-6.6-4.6z"/>
<path class="sfy" d="M803.1 330.3l6.6-2.9l1.4-0.5l-6.6 9.9z"/>
<path class="sgj" d="M741.5 329.7l6.6-2.4l1.4 3.2l-6.6-0.9z"/>
<path class="scu" d="M679.9 335.5l6.6 1.3l1.4 2.9l-6.6 2.5z"/>
<path class="shj" d="M618.3 342.7l6.6-0.7l1.4-3.5l-6.6 2.7z"/>
<path class="shw" d="M882.1 363.7l6.6 12.1l1.4-2.1l-6.6 0.8z"/>
<path class="sgw" d="M820.5 358.0l6.6 7.2l1.4 6.8l-6.6-16.0z"/>
<path class="sft" d="M758.9 327.7l6.6 15.7l1.4-3.9l-6.6-12.6z"/>
<path class="sge" d="M697.3 335.5l6.6-3.4l1.4-2.1l-6.6 0.4z"/>
<path class="scm" d="M635.7 337.6l6.6-5.2l1.4 4.4l-6.6-0.3z"/>
<path class="sfl" d="M837.9 364.1l6.6 5.4l1.4-6.2l-6.6 2.4z"/>
<path class="sgc" d="M776.3 332.2l6.6 2.7l1.4 1.6l-6.6-0.6z"/>
<path class="seu" d="M714.7 326.5l6.6 7.2l1.4-3.6l-6.6-5.6z"/>
<path class="sdo" d="M653.1 337.8l6.6 7.0l1.4-2.8l-6.6-7.0z"/>
<path class="sdp" d="M855.3 376.6l6.6-6.0l1.4 2.4l-6.6 6.5z"/>
<path class="sdc" d="M793.7 329.9l6.6 8.3l1.4-6.0l-6.6-1.7z"/>
<path class="sfp" d="M732.1 335.5l6.6-2.3l1.4-0.6l-6.6 2.5z"/>
<path class="sck" d="M670.5 334.6l6.6-0.1l1.4 3.1l-6.6-0.4z"/>
<path class="shx" d="M872.6 372.2l6.6 3.5l1.4-0.9l-6.6-6.8z"/>
<path class="set" d="M811.1 326.9l6.6-0.1l1.4 12.5l-6.6-4.4z"/>
<path class="sgo" d="M749.5 330.4l6.6-6.3l1.4 0.9l-6.6 1.6z"/>
<path class="sft" d="M687.9 339.7l6.6-9.4l1.4 4.2l-6.6 0.7z"/>
<path class="sch" d="M626.3 338.6l6.6 2.3l1.4 1.8l-6.6-5.5z"/>
<path class="sda" d="M828.5 372.1l6.6-1.5l1.4 0.4l-6.6-1.2z"/>
<path class="sdk" d="M766.9 339.5l6.6-7.2l1.4 2.2l-6.6 1.5z"/>
<path class="set" d="M705.3 329.9l6.6 1.9l1.4-1.3l-6.6 4.4z"/>
<path class="scq" d="M643.7 336.9l6.6 4.8l1.4-4.9l-6.6 2.8z"/>
<path class="sec" d="M845.8 363.3l6.6 15.1l1.4 4.4l-6.6-18.2z"/>
<path class="scm" d="M784.3 336.4l6.6 4.6l1.4-8.2l-6.6 2.7z"/>
<path class="sge" d="M722.7 330.1l6.6 2.3l1.4 5.5l-6.6-8.2z"/>
<path class="sfh" d="M661.1 342.0l6.6-6.8l1.4 0.9l-6.6 3.1z"/>
<path class="shk" d="M863.2 373.0l6.6 0.4l1.4 3.5l-6.6 3.2z"/>
<path class="sfv" d="M801.7 332.3l6.6-2.6l1.4-2.4l-6.6 2.9z"/>
<path class="sff" d="M740.1 332.5l6.6-0.6l1.4-4.7l-6.6 2.4z"/>
<path class="sck" d="M678.5 337.6l6.6-3.1l1.4 2.3l-6.6-1.3z"/>
<path class="sdd" d="M616.9 344.9l6.6-11.8l1.4 9.0l-6.6 0.7z"/>
<path class="sht" d="M880.6 374.8l6.6-0.1l1.4 1.1l-6.6-12.1z"/>
<path class="shy" d="M819.0 339.2l6.6 0.3l1.4 25.7l-6.6-7.2z"/>
<path class="scx" d="M757.5 325.0l6.6 17.8l1.4 0.7l-6.6-15.7z"/>
<path class="sfw" d="M695.9 334.5l6.6-2.0l1.4-0.4l-6.6 3.4z"/>
<path class="scc" d="M634.3 342.6l6.6-6.5l1.4-3.7l-6.6 5.2z"/>
<path class="shz" d="M836.4 371.0l6.6 4.7l1.4-6.2l-6.6-5.4z"/>
<path class="sdk" d="M774.9 334.5l6.6 7.9l1.4-7.5l-6.6-2.7z"/>
<path class="sfv" d="M713.3 330.6l6.6-2.1l1.4 5.2l-6.6-7.2z"/>
<path class="sdd" d="M651.7 336.7l6.6 7.6l1.4 0.4l-6.6-7.0z"/>
<path class="sia" d="M853.8 382.8l6.6-2.8l1.4-9.4l-6.6 6.0z"/>
<path class="sfw" d="M792.2 332.8l6.6 1.0l1.4 4.4l-6.6-8.3z"/>
<path class="sft" d="M730.7 337.9l6.6-2.4l1.4-2.3l-6.6 2.3z"/>
<path class="sib" d="M669.1 336.1l6.6 3.6l1.4-5.2l-6.6 0.1z"/>
<path class="sic" d="M871.2 376.9l6.6 4.6l1.4-5.8l-6.6-3.5z"/>
<path class="shq" d="M809.6 327.3l6.6 0.5l1.4-1.0l-6.6 0.1z"/>
<path class="shc" d="M748.1 327.3l6.6-2.3l1.4-0.9l-6.6 6.3z"/>
<path class="sck" d="M686.5 336.8l6.6 3.7l1.4-10.2l-6.6 9.4z"/>
<path class="scu" d="M624.9 342.1l6.6-4.9l1.4 3.6l-6.6-2.3z"/>
<path class="sen" d="M888.6 375.8l6.6-0.9l1.4 3.7l-6.6-4.9z"/>
<path class="ses" d="M827.0 365.3l6.6 7.2l1.4-1.9l-6.6 1.5z"/>
<path class="ser" d="M765.4 343.4l6.6-3.4l1.4-7.7l-6.6 7.2z"/>
<path class="sgh" d="M703.9 332.1l6.6-6.5l1.4 6.3l-6.6-1.9z"/>
<path class="scq" d="M642.3 332.5l6.6 14.7l1.4-5.5l-6.6-4.8z"/>
<path class="sec" d="M844.4 369.5l6.6 11.2l1.4-2.2l-6.6-15.1z"/>
<path class="sck" d="M782.8 334.9l6.6 0.8l1.4 5.3l-6.6-4.6z"/>
<path class="sge" d="M721.3 333.7l6.6 2.9l1.4-4.2l-6.6-2.3z"/>
<path class="sdd" d="M659.7 344.8l6.6-1.5l1.4-8.1l-6.6 6.8z"/>
<path class="shx" d="M861.8 370.6l6.6 8.3l1.4-5.6l-6.6-0.4z"/>
<path class="sfz" d="M800.2 338.2l6.6-9.9l1.4 1.3l-6.6 2.6z"/>
<path class="sfv" d="M738.6 333.1l6.6-9.0l1.4 7.9l-6.6 0.6z"/>
<path class="sck" d="M677.1 334.5l6.6 5.7l1.4-5.7l-6.6 3.1z"/>
<path class="shj" d="M615.5 346.2l6.6 0.1l1.4-13.1l-6.6 11.8z"/>
<path class="sdp" d="M879.2 375.7l6.6 4.5l1.4-5.4l-6.6 0.1z"/>
<path class="shr" d="M817.6 326.8l6.6 0.8l1.4 12.0l-6.6-0.3z"/>
<path class="sfz" d="M756.0 324.1l6.6 13.2l1.4 5.5l-6.6-17.8z"/>
<path class="seo" d="M694.5 330.3l6.6 2.4l1.4-0.2l-6.6 2.0z"/>
<path class="scd" d="M632.9 340.8l6.6-3.0l1.4-1.7l-6.6 6.5z"/>
<path class="ses" d="M835.0 370.6l6.6-5.4l1.4 10.5l-6.6-4.7z"/>
<path class="sgc" d="M773.4 332.4l6.6 3.5l1.4 6.5l-6.6-7.9z"/>
<path class="sgy" d="M711.8 331.8l6.6-6.2l1.4 2.9l-6.6 2.1z"/>
<path class="sch" d="M650.3 341.7l6.6 0.0l1.4 2.7l-6.6-7.6z"/>
<path class="sia" d="M852.4 378.4l6.6-6.4l1.4 8.0l-6.6 2.8z"/>
<path class="sgc" d="M790.8 341.0l6.6-3.1l1.4-4.1l-6.6-1.0z"/>
<path class="sgg" d="M729.2 332.4l6.6 2.8l1.4 0.3l-6.6 2.4z"/>
<path class="sib" d="M667.7 335.2l6.6 1.7l1.4 2.9l-6.6-3.6z"/>
<path class="sia" d="M869.8 373.4l6.6 8.1l1.4 0.0l-6.6-4.6z"/>
<path class="sgo" d="M808.2 329.7l6.6-1.6l1.4-0.3l-6.6-0.5z"/>
<path class="sgo" d="M746.6 331.9l6.6-3.8l1.4-3.1l-6.6 2.3z"/>
<path class="sft" d="M685.0 334.5l6.6-0.8l1.4 6.7l-6.6-3.7z"/>
<path class="scc" d="M623.5 333.1l6.6 7.8l1.4-3.8l-6.6 4.9z"/>
<path class="sdu" d="M887.2 374.8l6.6 4.5l1.4-4.3l-6.6 0.9z"/>
<path class="sgk" d="M825.6 339.5l6.6 19.2l1.4 13.8l-6.6-7.2z"/>
<path class="sdd" d="M764.0 342.8l6.6-1.1l1.4-1.6l-6.6 3.4z"/>
<path class="sfv" d="M702.4 332.5l6.6 1.6l1.4-8.6l-6.6 6.5z"/>
<path class="scu" d="M640.9 336.1l6.6 9.6l1.4 1.4l-6.6-14.7z"/>
<path class="shx" d="M843.0 375.7l6.6-3.9l1.4 8.9l-6.6-11.2z"/>
<path class="sft" d="M781.4 342.4l6.6-10.2l1.4 3.5l-6.6-0.8z"/>
<path class="sge" d="M719.8 328.5l6.6 9.0l1.4-1.0l-6.6-2.9z"/>
<path class="sde" d="M658.2 344.3l6.6-1.2l1.4 0.1l-6.6 1.5z"/>
<path class="sdp" d="M860.4 380.1l6.6-1.5l1.4 0.4l-6.6-8.3z"/>
<path class="sfy" d="M798.8 333.8l6.6-3.6l1.4-1.9l-6.6 9.9z"/>
<path class="sfe" d="M737.2 335.4l6.6-9.5l1.4-1.8l-6.6 9.0z"/>
<path class="sdk" d="M675.6 339.7l6.6-6.0l1.4 6.5l-6.6-5.7z"/>
<path class="she" d="M614.1 343.4l6.6 0.8l1.4 2.0l-6.6-0.1z"/>
<path class="sid" d="M877.8 381.5l6.6 1.1l1.4-2.4l-6.6-4.5z"/>
<path class="sie" d="M816.2 327.8l6.6 11.3l1.4-11.6l-6.6-0.8z"/>
<path class="sfy" d="M754.6 325.0l6.6 19.1l1.4-6.8l-6.6-13.2z"/>
<path class="sge" d="M693.0 340.5l6.6-7.3l1.4-0.5l-6.6-2.4z"/>
<path class="scc" d="M631.4 337.2l6.6 1.1l1.4-0.5l-6.6 3.0z"/>
<path class="sif" d="M895.2 374.9l6.6 5.4l1.4-0.1l-6.6-1.6z"/>
<path class="sgb" d="M833.6 372.5l6.6 1.3l1.4-8.6l-6.6 5.4z"/>
<path class="sgg" d="M772.0 340.0l6.6-5.7l1.4 1.5l-6.6-3.5z"/>
<path class="sgo" d="M710.4 325.5l6.6 6.5l1.4-6.4l-6.6 6.2z"/>
<path class="sdd" d="M648.8 347.1l6.6-7.1l1.4 1.6l-6.6-0.0z"/>
<path class="sig" d="M851.0 380.7l6.6 1.4l1.4-10.0l-6.6 6.4z"/>
<path class="sft" d="M789.4 335.7l6.6-3.6l1.4 5.9l-6.6 3.1z"/>
<path class="sge" d="M727.8 336.6l6.6-3.0l1.4 1.6l-6.6-2.8z"/>
<path class="sck" d="M666.2 343.3l6.6-5.9l1.4-0.6l-6.6-1.7z"/>
<path class="sbg" d="M868.4 378.9l6.6 3.2l1.4-0.7l-6.6-8.1z"/>
<path class="shd" d="M806.8 328.4l6.6 7.6l1.4-7.9l-6.6 1.6z"/>
<path class="shm" d="M745.2 324.1l6.6 3.6l1.4 0.5l-6.6 3.8z"/>
<path class="sfw" d="M683.6 340.2l6.6-7.3l1.4 0.8l-6.6 0.8z"/>
<path class="scd" d="M622.0 346.2l6.6-4.3l1.4-1.0l-6.6-7.8z"/>
<path class="sbg" d="M885.8 380.2l6.6 2.1l1.4-3.0l-6.6-4.5z"/>
<path class="sbn" d="M824.2 327.5l6.6 20.9l1.4 10.3l-6.6-19.2z"/>
<path class="scq" d="M762.6 337.3l6.6 4.3l1.4 0.1l-6.6 1.1z"/>
<path class="sgh" d="M701.0 332.7l6.6-6.5l1.4 7.9l-6.6-1.6z"/>
<path class="scd" d="M639.4 337.9l6.6 4.3l1.4 3.6l-6.6-9.6z"/>
<path class="shn" d="M841.6 365.2l6.6 11.5l1.4-4.9l-6.6 3.9z"/>
<path class="scx" d="M780.0 335.9l6.6 0.8l1.4-4.4l-6.6 10.2z"/>
<path class="sfi" d="M718.4 325.7l6.6 2.4l1.4 9.5l-6.6-9.0z"/>
<path class="sch" d="M656.8 341.7l6.6-3.0l1.4 4.5l-6.6 1.2z"/>
<path class="sdu" d="M859.0 372.0l6.6 6.6l1.4-0.1l-6.6 1.5z"/>
<path class="sfz" d="M797.4 338.0l6.6-5.8l1.4-1.9l-6.6 3.6z"/>
<path class="sfv" d="M735.8 335.2l6.6-3.3l1.4-5.9l-6.6 9.5z"/>
<path class="sft" d="M674.2 336.9l6.6 2.4l1.4-5.5l-6.6 6.0z"/>
<path class="sca" d="M612.6 348.4l6.6-6.4l1.4 2.2l-6.6-0.8z"/>
<path class="sn" d="M876.4 381.4l6.6 7.3l1.4-6.2l-6.6-1.1z"/>
<path class="shd" d="M814.8 328.1l6.6 0.8l1.4 10.2l-6.6-11.3z"/>
<path class="sge" d="M753.2 328.1l6.6 14.6l1.4 1.4l-6.6-19.1z"/>
<path class="sge" d="M691.6 333.8l6.6-1.3l1.4 0.7l-6.6 7.3z"/>
<path class="scm" d="M630.0 341.0l6.6-2.2l1.4-0.5l-6.6-1.1z"/>
<path class="sic" d="M893.8 379.3l6.6 1.1l1.4-0.0l-6.6-5.4z"/>
<path class="sbm" d="M832.2 358.7l6.6 3.1l1.4 12.0l-6.6-1.3z"/>
<path class="scc" d="M770.6 341.7l6.6 0.1l1.4-7.5l-6.6 5.7z"/>
<path class="seu" d="M709.0 334.1l6.6-0.0l1.4-2.1l-6.6-6.5z"/>
<path class="sbn" d="M647.4 345.7l6.6-1.9l1.4-3.7l-6.6 7.1z"/>
<path class="sdj" d="M849.6 371.8l6.6 13.4l1.4-3.2l-6.6-1.4z"/>
<path class="sei" d="M788.0 332.2l6.6 4.8l1.4-4.9l-6.6 3.6z"/>
<path class="sdx" d="M726.4 337.6l6.6-2.4l1.4-1.6l-6.6 3.0z"/>
<path class="scd" d="M664.8 343.2l6.6-2.9l1.4-2.9l-6.6 5.9z"/>
<path class="sbg" d="M867.0 378.5l6.6 0.5l1.4 3.2l-6.6-3.2z"/>
<path class="sfe" d="M805.4 330.2l6.6-2.2l1.4 7.9l-6.6-7.6z"/>
<path class="sih" d="M743.8 325.9l6.6 4.7l1.4-3.0l-6.6-3.6z"/>
<path class="sgg" d="M682.2 333.8l6.6 5.8l1.4-6.6l-6.6 7.3z"/>
<path class="sbn" d="M620.6 344.3l6.6 0.9l1.4-3.2l-6.6 4.3z"/>
<path class="sii" d="M884.4 382.5l6.6-2.5l1.4 2.2l-6.6-2.1z"/>
<path class="scd" d="M822.8 339.1l6.6 10.8l1.4-1.5l-6.6-20.9z"/>
<path class="sdg" d="M761.2 344.1l6.6 2.0l1.4-4.6l-6.6-4.3z"/>
<path class="sfe" d="M699.6 333.1l6.6-1.6l1.4-5.4l-6.6 6.5z"/>
<path class="seb" d="M638.0 338.3l6.6 1.9l1.4 1.9l-6.6-4.3z"/>
<path class="sbg" d="M901.8 380.4l6.6-1.8l1.4 1.6l-6.6 0.0z"/>
<path class="shx" d="M840.2 373.8l6.6 14.8l1.4-11.9l-6.6-11.5z"/>
<path class="set" d="M778.6 334.3l6.6-0.7l1.4 3.0l-6.6-0.8z"/>
<path class="sfi" d="M717.0 332.0l6.6 4.7l1.4-8.7l-6.6-2.4z"/>
<path class="scz" d="M655.4 340.1l6.6 1.6l1.4-3.0l-6.6 3.0z"/>
<path class="sew" d="M857.6 382.1l6.6 3.9l1.4-7.3l-6.6-6.6z"/>
<path class="sgh" d="M796.0 332.1l6.6-4.8l1.4 4.9l-6.6 5.8z"/>
<path class="sfy" d="M734.4 333.6l6.6 2.7l1.4-4.4l-6.6 3.3z"/>
<path class="scc" d="M672.8 337.4l6.6 10.0l1.4-8.2l-6.6-2.4z"/>
<path class="sdd" d="M611.2 347.3l6.6-8.8l1.4 3.6l-6.6 6.4z"/>
<path class="sp" d="M875.0 382.2l6.6 8.8l1.4-2.2l-6.6-7.3z"/>
<path class="sgy" d="M813.4 336.0l6.6-3.1l1.4-4.0l-6.6-0.8z"/>
<path class="sfy" d="M751.8 327.6l6.6 10.1l1.4 5.0l-6.6-14.6z"/>
<path class="sgh" d="M690.2 332.9l6.6-1.6l1.4 1.1l-6.6 1.3z"/>
<path class="scz" d="M628.6 341.9l6.6-0.3l1.4-2.9l-6.6 2.2z"/>
<path class="sid" d="M892.4 382.2l6.6 1.8l1.4-3.7l-6.6-1.1z"/>
<path class="sgl" d="M830.8 348.5l6.6 3.7l1.4 9.6l-6.6-3.1z"/>
<path class="scc" d="M769.2 341.6l6.6-6.0l1.4 6.3l-6.6-0.1z"/>
<path class="sfv" d="M707.6 326.2l6.6 11.6l1.4-3.7l-6.6 0.0z"/>
<path class="sdd" d="M646.0 342.1l6.6 2.5l1.4-0.8l-6.6 1.9z"/>
<path class="sdu" d="M848.2 376.7l6.6 2.6l1.4 5.9l-6.6-13.4z"/>
<path class="sfw" d="M786.6 336.6l6.6 4.7l1.4-4.3l-6.6-4.8z"/>
<path class="seh" d="M725.0 328.0l6.6 6.9l1.4 0.3l-6.6 2.4z"/>
<path class="scm" d="M663.4 338.6l6.6-1.3l1.4 3.0l-6.6 2.9z"/>
<path class="sen" d="M865.6 378.6l6.6-0.4l1.4 0.8l-6.6-0.5z"/>
<path class="sgo" d="M804.0 332.1l6.6-1.1l1.4-3.0l-6.6 2.2z"/>
<path class="sij" d="M742.4 331.8l6.6-7.9l1.4 6.7l-6.6-4.7z"/>
<path class="sft" d="M680.8 339.3l6.6 2.3l1.4-2.1l-6.6-5.8z"/>
<path class="sdg" d="M619.2 342.1l6.6-1.4l1.4 4.6l-6.6-0.9z"/>
<path class="scn" d="M883.0 388.7l6.6-7.2l1.4-1.5l-6.6 2.5z"/>
<path class="shi" d="M821.4 328.9l6.6 16.4l1.4 4.7l-6.6-10.8z"/>
<path class="sbw" d="M759.8 342.7l6.6 2.6l1.4 0.8l-6.6-2.0z"/>
<path class="seu" d="M698.2 332.4l6.6 1.1l1.4-2.0l-6.6 1.6z"/>
<path class="seb" d="M636.6 338.8l6.6 5.4l1.4-3.9l-6.6-1.9z"/>
<path class="sif" d="M900.4 380.4l6.6 2.0l1.4-3.8l-6.6 1.8z"/>
<path class="sik" d="M838.8 361.8l6.6 6.0l1.4 20.8l-6.6-14.8z"/>
<path class="sdx" d="M777.2 341.8l6.6-4.3l1.4-3.9l-6.6 0.7z"/>
<path class="sge" d="M715.6 334.1l6.6 7.8l1.4-5.2l-6.6-4.7z"/>
<path class="scq" d="M654.0 343.8l6.6 0.4l1.4-2.5l-6.6-1.6z"/>
<path class="scn" d="M856.2 385.2l6.6-4.4l1.4 5.1l-6.6-3.9z"/>
<path class="sfe" d="M794.6 337.0l6.6-6.4l1.4-3.3l-6.6 4.8z"/>
<path class="sfz" d="M733.0 335.1l6.6 0.4l1.4 0.8l-6.6-2.7z"/>
<path class="sfh" d="M671.4 340.3l6.6 1.6l1.4 5.6l-6.6-10.0z"/>
<path class="sdg" d="M609.8 341.4l6.6 4.7l1.4-7.6l-6.6 8.8z"/>
<path class="sil" d="M873.6 379.0l6.6 5.7l1.4 6.2l-6.6-8.8z"/>
<path class="sfe" d="M812.0 328.1l6.6 2.5l1.4 2.3l-6.6 3.1z"/>
<path class="seh" d="M750.4 330.6l6.6 11.4l1.4-4.3l-6.6-10.1z"/>
<path class="sfy" d="M688.8 339.5l6.6-4.3l1.4-3.9l-6.6 1.6z"/>
<path class="scq" d="M627.2 345.2l6.6-3.1l1.4-0.4l-6.6 0.3z"/>
<path class="sim" d="M890.9 380.0l6.6 5.8l1.4-1.8l-6.6-1.8z"/>
<path class="shv" d="M829.4 350.0l6.6 6.2l1.4-4.0l-6.6-3.7z"/>
<path class="scz" d="M767.8 346.1l6.6-4.1l1.4-6.5l-6.6 6.0z"/>
<path class="seu" d="M706.2 331.6l6.6 5.1l1.4 1.1l-6.6-11.6z"/>
<path class="scd" d="M644.6 340.2l6.6 3.1l1.4 1.3l-6.6-2.5z"/>
<path class="sil" d="M908.3 378.6l6.6 8.1l1.4 5.5l-6.6-12.0z"/>
<path class="sin" d="M846.8 388.6l6.6-7.1l1.4-2.1l-6.6-2.6z"/>
<path class="sdc" d="M785.2 333.6l6.6 2.8l1.4 4.8l-6.6-4.7z"/>
<path class="sgh" d="M723.6 336.7l6.6-2.1l1.4 0.3l-6.6-6.9z"/>
<path class="seb" d="M662.0 341.7l6.6 4.0l1.4-8.3l-6.6 1.3z"/>
<path class="sct" d="M864.1 385.9l6.6-0.6l1.4-7.1l-6.6 0.4z"/>
<path class="shc" d="M802.6 327.3l6.6 3.2l1.4 0.6l-6.6 1.1z"/>
<path class="sfa" d="M741.0 336.3l6.6-3.0l1.4-9.3l-6.6 7.9z"/>
<path class="seb" d="M679.4 347.5l6.6-12.0l1.4 6.1l-6.6-2.3z"/>
<path class="shi" d="M617.8 338.4l6.6 6.5l1.4-4.3l-6.6 1.4z"/>
<path class="sn" d="M881.5 390.9l6.6-9.9l1.4 0.5l-6.6 7.2z"/>
<path class="sgg" d="M820.0 332.9l6.6 13.8l1.4-1.4l-6.6-16.4z"/>
<path class="scd" d="M758.4 337.7l6.6 7.4l1.4 0.2l-6.6-2.6z"/>
<path class="sfe" d="M696.8 331.4l6.6 0.8l1.4 1.4l-6.6-1.1z"/>
<path class="scu" d="M635.2 341.7l6.6 7.6l1.4-5.1l-6.6-5.4z"/>
<path class="sdf" d="M898.9 384.0l6.6 7.0l1.4-8.6l-6.6-2.0z"/>
<path class="sio" d="M837.3 352.1l6.6 8.3l1.4 7.3l-6.6-6.0z"/>
<path class="scx" d="M775.8 335.6l6.6 5.7l1.4-3.8l-6.6 4.3z"/>
<path class="sdx" d="M714.2 337.8l6.6-0.8l1.4 4.9l-6.6-7.8z"/>
<path class="sbx" d="M652.6 344.6l6.6 1.7l1.4-2.1l-6.6-0.4z"/>
<path class="scy" d="M854.7 379.3l6.6 4.0l1.4-2.5l-6.6 4.4z"/>
<path class="sfz" d="M793.2 341.3l6.6-6.9l1.4-3.7l-6.6 6.4z"/>
<path class="sff" d="M731.6 334.9l6.6-1.5l1.4 2.1l-6.6-0.4z"/>
<path class="sft" d="M670.0 337.4l6.6 1.4l1.4 3.1l-6.6-1.6z"/>
<path class="sch" d="M608.4 347.6l6.6-4.5l1.4 3.0l-6.6-4.7z"/>
<path class="sid" d="M872.1 378.2l6.6 11.1l1.4-4.6l-6.6-5.7z"/>
<path class="sgy" d="M810.5 331.1l6.6 11.3l1.4-11.8l-6.6-2.5z"/>
<path class="sgh" d="M749.0 323.9l6.6 15.5l1.4 2.6l-6.6-11.4z"/>
<path class="sgg" d="M687.4 341.6l6.6-2.8l1.4-3.6l-6.6 4.3z"/>
<path class="scc" d="M625.8 340.6l6.6-1.6l1.4 3.0l-6.6 3.1z"/>
<path class="sbl" d="M889.5 381.5l6.6 7.3l1.4-3.0l-6.6-5.8z"/>
<path class="shv" d="M827.9 345.3l6.6 12.8l1.4-2.0l-6.6-6.2z"/>
<path class="scd" d="M766.4 345.4l6.6-7.1l1.4 3.8l-6.6 4.1z"/>
<path class="seh" d="M704.8 333.5l6.6 7.0l1.4-3.8l-6.6-5.1z"/>
<path class="sdg" d="M643.2 344.1l6.6 4.0l1.4-4.9l-6.6-3.1z"/>
<path class="scl" d="M906.9 382.4l6.6 4.3l1.4-0.1l-6.6-8.1z"/>
<path class="shf" d="M845.3 367.8l6.6 5.0l1.4 8.7l-6.6 7.1z"/>
<path class="sff" d="M783.7 337.5l6.6-3.8l1.4 2.7l-6.6-2.8z"/>
<path class="sdc" d="M722.2 341.9l6.6-4.0l1.4-3.3l-6.6 2.1z"/>
<path class="sdg" d="M660.6 344.2l6.6 1.4l1.4 0.1l-6.6-4.0z"/>
<path class="sbl" d="M862.7 380.8l6.6 4.3l1.4 0.1l-6.6 0.6z"/>
<path class="sgv" d="M801.1 330.6l6.6 2.8l1.4-3.0l-6.6-3.2z"/>
<path class="sfv" d="M739.6 335.5l6.6-2.2l1.4 0.0l-6.6 3.0z"/>
<path class="sdk" d="M678.0 341.9l6.6-4.2l1.4-2.3l-6.6 12.0z"/>
<path class="sch" d="M616.4 346.1l6.6 3.3l1.4-4.4l-6.6-6.5z"/>
<path class="ss" d="M880.1 384.7l6.6 2.7l1.4-6.4l-6.6 9.9z"/>
<path class="sdk" d="M818.5 330.6l6.6 22.4l1.4-6.4l-6.6-13.8z"/>
<path class="sfh" d="M756.9 342.0l6.6 4.7l1.4-1.6l-6.6-7.4z"/>
<path class="shq" d="M695.4 335.3l6.6-8.3l1.4 5.2l-6.6-0.8z"/>
<path class="sfx" d="M633.8 342.0l6.6 2.0l1.4 5.3l-6.6-7.6z"/>
<path class="sp" d="M897.5 385.8l6.6 4.5l1.4 0.7l-6.6-7.0z"/>
<path class="shg" d="M835.9 356.2l6.6-5.7l1.4 10.0l-6.6-8.3z"/>
<path class="sdk" d="M774.3 342.1l6.6 1.3l1.4-2.1l-6.6-5.7z"/>
<path class="sdx" d="M712.8 336.7l6.6 5.0l1.4-4.7l-6.6 0.8z"/>
<path class="sch" d="M651.2 343.3l6.6 2.9l1.4 0.1l-6.6-1.7z"/>
<path class="sh" d="M914.9 386.7l6.6 8.3l1.4-1.2l-6.6-1.6z"/>
<path class="sdn" d="M853.3 381.4l6.6-1.0l1.4 2.9l-6.6-4.0z"/>
<path class="sei" d="M791.7 336.4l6.6-0.5l1.4-1.6l-6.6 6.9z"/>
<path class="sgy" d="M730.1 334.6l6.6-3.3l1.4 2.1l-6.6 1.5z"/>
<path class="sck" d="M668.6 345.7l6.6-2.9l1.4-4.0l-6.6-1.4z"/>
<path class="sfx" d="M607.0 342.5l6.6 2.0l1.4-1.4l-6.6 4.5z"/>
<path class="sek" d="M870.7 385.3l6.6 1.6l1.4 2.5l-6.6-11.1z"/>
<path class="sgh" d="M809.1 330.5l6.6 4.2l1.4 7.8l-6.6-11.3z"/>
<path class="sfv" d="M747.5 333.3l6.6 10.5l1.4-4.4l-6.6-15.5z"/>
<path class="sge" d="M686.0 335.5l6.6 1.2l1.4 2.2l-6.6 2.8z"/>
<path class="seb" d="M624.4 344.9l6.6-1.6l1.4-4.4l-6.6 1.6z"/>
<path class="sdm" d="M888.1 381.0l6.6 4.5l1.4 3.4l-6.6-7.3z"/>
<path class="sip" d="M826.5 346.7l6.6 9.1l1.4 2.4l-6.6-12.8z"/>
<path class="scc" d="M764.9 345.1l6.6-3.6l1.4-3.2l-6.6 7.1z"/>
<path class="shd" d="M703.3 332.1l6.6-2.1l1.4 10.4l-6.6-7.0z"/>
<path class="sgz" d="M641.8 349.3l6.6 3.6l1.4-4.7l-6.6-4.0z"/>
<path class="sg" d="M905.5 391.0l6.6 2.7l1.4-7.0l-6.6-4.3z"/>
<path class="siq" d="M843.9 360.4l6.6-0.5l1.4 12.8l-6.6-5.0z"/>
<path class="sfw" d="M782.3 341.3l6.6 2.4l1.4-10.0l-6.6 3.8z"/>
<path class="shr" d="M720.7 337.0l6.6-2.0l1.4 3.0l-6.6 4.0z"/>
<path class="sdo" d="M659.2 346.3l6.6 1.0l1.4-1.7l-6.6-1.4z"/>
<path class="sin" d="M861.3 383.3l6.6 0.5l1.4 1.4l-6.6-4.3z"/>
<path class="shq" d="M799.7 334.3l6.6-3.7l1.4 2.8l-6.6-2.8z"/>
<path class="sgo" d="M738.1 333.4l6.6-5.8l1.4 5.6l-6.6 2.2z"/>
<path class="scx" d="M676.5 338.8l6.6 4.1l1.4-5.2l-6.6 4.2z"/>
<path class="sch" d="M615.0 343.1l6.6 1.0l1.4 5.3l-6.6-3.3z"/>
<path class="sdf" d="M878.7 389.4l6.6-7.4l1.4 5.5l-6.6-2.7z"/>
<path class="scd" d="M817.1 342.4l6.6 8.8l1.4 1.8l-6.6-22.4z"/>
<path class="scz" d="M755.5 339.4l6.6 5.6l1.4 1.6l-6.6-4.7z"/>
<path class="sgo" d="M693.9 338.8l6.6-8.7l1.4-3.2l-6.6 8.3z"/>
<path class="scc" d="M632.4 339.0l6.6 7.7l1.4-2.7l-6.6-2.0z"/>
<path class="sg" d="M896.1 388.8l6.6 1.8l1.4-0.3l-6.6-4.5z"/>
<path class="shy" d="M834.5 358.1l6.6 0.8l1.4-8.5l-6.6 5.7z"/>
<path class="sib" d="M772.9 338.2l6.6 4.8l1.4 0.3l-6.6-1.3z"/>
<path class="sdx" d="M711.3 340.5l6.6-3.0l1.4 4.1l-6.6-5.0z"/>
<path class="sdg" d="M649.7 348.2l6.6-3.9l1.4 1.9l-6.6-2.9z"/>
<path class="se" d="M913.5 386.8l6.6 9.1l1.4-0.9l-6.6-8.3z"/>
<path class="sir" d="M851.9 372.8l6.6 3.3l1.4 4.4l-6.6 1.0z"/>
<path class="seu" d="M790.3 333.7l6.6-0.3l1.4 2.6l-6.6 0.5z"/>
<path class="seu" d="M728.7 337.9l6.6-2.4l1.4-4.2l-6.6 3.3z"/>
<path class="scd" d="M667.1 345.6l6.6-1.7l1.4-1.0l-6.6 2.9z"/>
<path class="scq" d="M605.6 343.5l6.6 4.9l1.4-3.9l-6.6-2.0z"/>
<path class="sis" d="M869.3 385.1l6.6 1.3l1.4 0.5l-6.6-1.6z"/>
<path class="sfi" d="M807.7 333.4l6.6 2.2l1.4-1.0l-6.6-4.2z"/>
<path class="sge" d="M746.1 333.3l6.6 11.9l1.4-1.4l-6.6-10.5z"/>
<path class="sgh" d="M684.5 337.7l6.6-5.8l1.4 4.8l-6.6-1.2z"/>
<path class="scd" d="M622.9 349.4l6.6-8.7l1.4 2.7l-6.6 1.6z"/>
<path class="sit" d="M886.7 387.5l6.6-4.0l1.4 2.1l-6.6-4.5z"/>
<path class="sbi" d="M825.1 353.0l6.6 10.1l1.4-7.3l-6.6-9.1z"/>
<path class="scq" d="M763.5 346.7l6.6-0.5l1.4-4.7l-6.6 3.6z"/>
<path class="sgo" d="M701.9 327.0l6.6 16.0l1.4-12.8l-6.6 2.1z"/>
<path class="shb" d="M640.3 344.0l6.6 9.3l1.4-0.4l-6.6-3.6z"/>
<path class="sz" d="M904.1 390.4l6.6-4.6l1.4 8.0l-6.6-2.7z"/>
<path class="siu" d="M842.5 350.5l6.6 8.8l1.4 0.7l-6.6 0.5z"/>
<path class="sdk" d="M780.9 343.3l6.6-4.6l1.4 4.9l-6.6-2.4z"/>
<path class="sge" d="M719.3 341.6l6.6 0.5l1.4-7.2l-6.6 2.0z"/>
<path class="sch" d="M657.7 346.2l6.6-2.3l1.4 3.4l-6.6-1.0z"/>
<path class="sia" d="M859.9 380.4l6.6 6.3l1.4-2.9l-6.6-0.5z"/>
<path class="sfe" d="M798.3 335.9l6.6 0.7l1.4-6.1l-6.6 3.7z"/>
<path class="sij" d="M736.7 331.3l6.6 1.1l1.4-4.8l-6.6 5.8z"/>
<path class="sgg" d="M675.1 342.8l6.6-4.6l1.4 4.7l-6.6-4.1z"/>
<path class="scz" d="M613.5 344.5l6.6-0.2l1.4-0.3l-6.6-1.0z"/>
<path class="sid" d="M877.3 386.9l6.6-6.0l1.4 1.0l-6.6 7.4z"/>
<path class="scq" d="M815.7 334.6l6.6 18.5l1.4-1.9l-6.6-8.8z"/>
<path class="sck" d="M754.1 343.8l6.6-1.9l1.4 3.1l-6.6-5.6z"/>
<path class="sgh" d="M692.5 336.7l6.6 1.0l1.4-7.5l-6.6 8.7z"/>
<path class="scd" d="M630.9 343.4l6.6 6.6l1.4-3.2l-6.6-7.7z"/>
<path class="sbe" d="M894.7 385.5l6.6 1.8l1.4 3.4l-6.6-1.8z"/>
<path class="siv" d="M833.1 355.8l6.6 4.2l1.4-1.0l-6.6-0.8z"/>
<path class="sgg" d="M771.5 341.5l6.6-1.1l1.4 2.7l-6.6-4.8z"/>
<path class="sfy" d="M709.9 330.1l6.6 12.2l1.4-4.7l-6.6 3.0z"/>
<path class="sgz" d="M648.3 352.9l6.6-0.4l1.4-8.3l-6.6 3.9z"/>
<path class="sbh" d="M912.1 393.7l6.6 6.0l1.4-3.9l-6.6-9.1z"/>
<path class="sfq" d="M850.5 360.0l6.6 1.8l1.4 14.3l-6.6-3.3z"/>
<path class="seu" d="M788.9 343.7l6.6-11.9l1.4 1.6l-6.6 0.3z"/>
<path class="seu" d="M727.3 335.0l6.6-0.3l1.4 0.8l-6.6 2.4z"/>
<path class="scz" d="M665.7 347.3l6.6-6.5l1.4 3.1l-6.6 1.7z"/>
<path class="scd" d="M604.1 343.1l6.6 3.1l1.4 2.2l-6.6-4.9z"/>
<path class="scl" d="M867.9 383.8l6.6 3.5l1.4-0.8l-6.6-1.3z"/>
<path class="sfi" d="M806.3 330.6l6.6 6.9l1.4-1.9l-6.6-2.2z"/>
<path class="seo" d="M744.7 327.6l6.6 19.4l1.4-1.9l-6.6-11.9z"/>
<path class="seh" d="M683.1 342.9l6.6-4.8l1.4-6.2l-6.6 5.8z"/>
<path class="scz" d="M621.5 344.1l6.6-0.3l1.4-3.1l-6.6 8.7z"/>
<path class="sii" d="M885.3 382.0l6.6 6.7l1.4-5.2l-6.6 4.0z"/>
<path class="siw" d="M823.7 351.2l6.6 11.5l1.4 0.3l-6.6-10.1z"/>
<path class="scu" d="M762.1 345.0l6.6 0.7l1.4 0.4l-6.6 0.5z"/>
<path class="shq" d="M700.5 330.1l6.6 3.9l1.4 8.9l-6.6-16.0z"/>
<path class="sbw" d="M638.9 346.7l6.6 1.6l1.4 4.9l-6.6-9.3z"/>
<path class="sba" d="M902.7 390.7l6.6-2.5l1.4-2.4l-6.6 4.6z"/>
<path class="shg" d="M841.1 358.9l6.6-1.1l1.4 1.4l-6.6-8.8z"/>
<path class="sgg" d="M779.5 343.1l6.6-3.5l1.4-0.8l-6.6 4.6z"/>
<path class="sge" d="M717.9 337.5l6.6-0.7l1.4 5.4l-6.6-0.5z"/>
<path class="scc" d="M656.3 344.3l6.6-2.4l1.4 2.1l-6.6 2.3z"/>
<path class="shx" d="M858.5 376.0l6.6 1.3l1.4 9.3l-6.6-6.3z"/>
<path class="sfe" d="M796.9 333.4l6.6 0.6l1.4 2.7l-6.6-0.7z"/>
<path class="shc" d="M735.3 335.5l6.6-1.0l1.4-2.1l-6.6-1.1z"/>
<path class="sdk" d="M673.7 343.8l6.6 1.8l1.4-7.5l-6.6 4.6z"/>
<path class="scd" d="M612.1 348.4l6.6-4.0l1.4-0.1l-6.6 0.2z"/>
<path class="ss" d="M875.9 386.4l6.6 12.1l1.4-17.6l-6.6 6.0z"/>
<path class="scc" d="M814.3 335.6l6.6 18.0l1.4-0.5l-6.6-18.5z"/>
<path class="scc" d="M752.7 345.2l6.6 0.6l1.4-3.9l-6.6 1.9z"/>
<path class="sfi" d="M691.1 331.9l6.6 1.7l1.4 4.1l-6.6-1.0z"/>
<path class="scq" d="M629.5 340.7l6.6 10.0l1.4-0.7l-6.6-6.6z"/>
<path class="ss" d="M893.3 383.4l6.6 13.3l1.4-9.4l-6.6-1.8z"/>
<path class="six" d="M831.7 363.1l6.6-5.3l1.4 2.2l-6.6-4.2z"/>
<path class="sfw" d="M770.1 346.2l6.6-10.6l1.4 4.7l-6.6 1.1z"/>
<path class="sei" d="M708.5 342.9l6.6-1.6l1.4 0.9l-6.6-12.2z"/>
<path class="sby" d="M646.9 353.2l6.6-5.4l1.4 4.6l-6.6 0.4z"/>
<path class="sq" d="M910.7 385.7l6.6 18.3l1.4-4.3l-6.6-6.0z"/>
<path class="siy" d="M849.1 359.3l6.6 2.7l1.4-0.3l-6.6-1.8z"/>
<path class="sff" d="M787.5 338.8l6.6-2.0l1.4-5.0l-6.6 11.9z"/>
<path class="seh" d="M725.9 342.2l6.6-2.0l1.4-5.5l-6.6 0.3z"/>
<path class="seb" d="M664.3 343.9l6.6 0.7l1.4-3.9l-6.6 6.5z"/>
<path class="scu" d="M602.7 343.6l6.6 9.8l1.4-7.1l-6.6-3.1z"/>
<path class="sdm" d="M866.5 386.7l6.6-0.3l1.4 0.9l-6.6-3.5z"/>
<path class="siz" d="M804.9 336.6l6.6-1.9l1.4 2.7l-6.6-6.9z"/>
<path class="set" d="M743.3 332.4l6.6 19.2l1.4-4.5l-6.6-19.4z"/>
<path class="sgj" d="M681.7 338.2l6.6-7.4l1.4 7.3l-6.6 4.8z"/>
<path class="sck" d="M620.1 344.3l6.6-1.8l1.4 1.2l-6.6 0.3z"/>
<path class="sia" d="M883.9 380.9l6.6 6.6l1.4 1.1l-6.6-6.7z"/>
<path class="shg" d="M822.3 353.1l6.6 8.6l1.4 1.0l-6.6-11.5z"/>
<path class="sib" d="M760.7 341.9l6.6-0.8l1.4 4.6l-6.6-0.7z"/>
<path class="sfi" d="M699.1 337.7l6.6 1.7l1.4-5.3l-6.6-3.9z"/>
<path class="sca" d="M637.5 350.0l6.6 3.9l1.4-5.6l-6.6-1.6z"/>
<path class="sg" d="M901.3 387.3l6.6 9.5l1.4-8.6l-6.6 2.5z"/>
<path class="six" d="M839.7 360.0l6.6 1.8l1.4-3.9l-6.6 1.1z"/>
<path class="set" d="M778.1 340.3l6.6-3.6l1.4 2.9l-6.6 3.5z"/>
<path class="sfm" d="M716.5 342.3l6.6-7.3l1.4 1.9l-6.6 0.7z"/>
<path class="scd" d="M654.9 352.5l6.6-6.5l1.4-4.2l-6.6 2.4z"/>
<path class="sdi" d="M857.1 361.7l6.6-2.4l1.4 18.0l-6.6-1.3z"/>
<path class="shq" d="M795.5 331.8l6.6 6.5l1.4-4.3l-6.6-0.6z"/>
<path class="shq" d="M733.9 334.7l6.6-1.4l1.4 1.2l-6.6 1.0z"/>
<path class="scx" d="M672.3 340.8l6.6-0.5l1.4 5.4l-6.6-1.8z"/>
<path class="scd" d="M610.7 346.2l6.6 0.5l1.4-2.2l-6.6 4.0z"/>
<path class="sc" d="M874.5 387.3l6.6 9.0l1.4 2.3l-6.6-12.1z"/>
<path class="scc" d="M812.9 337.5l6.6 15.1l1.4 1.0l-6.6-18.0z"/>
<path class="scq" d="M751.3 347.1l6.6 2.1l1.4-3.4l-6.6-0.6z"/>
<path class="sfa" d="M689.7 338.1l6.6-1.3l1.4-3.2l-6.6-1.7z"/>
<path class="scq" d="M628.1 343.8l6.6 7.9l1.4-1.0l-6.6-10.0z"/>
<path class="si" d="M891.8 388.7l6.6 9.2l1.4-1.2l-6.6-13.3z"/>
<path class="siv" d="M830.3 362.7l6.6-7.9l1.4 2.9l-6.6 5.3z"/>
<path class="shr" d="M768.7 345.8l6.6-11.6l1.4 1.5l-6.6 10.6z"/>
<path class="sdc" d="M707.1 334.0l6.6 12.2l1.4-4.9l-6.6 1.6z"/>
<path class="sbw" d="M645.5 348.3l6.6-1.3l1.4 0.9l-6.6 5.4z"/>
<path class="sa" d="M909.2 388.2l6.6 6.5l1.4 9.4l-6.6-18.3z"/>
<path class="siv" d="M847.7 357.9l6.6 1.7l1.4 2.5l-6.6-2.7z"/>
<path class="sfy" d="M786.1 339.6l6.6 2.1l1.4-5.0l-6.6 2.0z"/>
<path class="set" d="M724.5 336.8l6.6 5.1l1.4-1.8l-6.6 2.0z"/>
<path class="scx" d="M662.9 341.9l6.6-0.6l1.4 3.4l-6.6-0.7z"/>
<path class="sch" d="M601.3 345.5l6.6 3.7l1.4 4.1l-6.6-9.8z"/>
<path class="sdh" d="M865.0 377.3l6.6 1.5l1.4 7.6l-6.6 0.3z"/>
<path class="shc" d="M803.5 333.9l6.6-1.5l1.4 2.4l-6.6 1.9z"/>
<path class="sfw" d="M741.9 334.5l6.6 14.4l1.4 2.7l-6.6-19.2z"/>
<path class="sfv" d="M680.3 345.7l6.6-8.5l1.4-6.3l-6.6 7.4z"/>
<path class="seb" d="M618.7 344.4l6.6 3.9l1.4-5.9l-6.6 1.8z"/>
<path class="sez" d="M882.4 398.6l6.6-4.5l1.4-6.5l-6.6-6.6z"/>
<path class="shs" d="M820.9 353.6l6.6 3.9l1.4 4.2l-6.6-8.6z"/>
<path class="sft" d="M759.3 345.8l6.6-1.6l1.4-3.0l-6.6 0.8z"/>
<path class="sgh" d="M697.7 333.6l6.6 6.9l1.4-1.1l-6.6-1.7z"/>
<path class="sbw" d="M636.1 350.7l6.6-6.6l1.4 9.9l-6.6-3.9z"/>
<path class="sbz" d="M899.8 396.7l6.6-4.7l1.4 4.8l-6.6-9.5z"/>
<path class="sja" d="M838.2 357.8l6.6 1.3l1.4 2.7l-6.6-1.8z"/>
<path class="seu" d="M776.7 335.6l6.6 2.0l1.4-1.0l-6.6 3.6z"/>
<path class="set" d="M715.1 341.3l6.6 1.8l1.4-8.3l-6.6 7.3z"/>
<path class="sdd" d="M653.5 347.9l6.6 1.8l1.4-3.7l-6.6 6.5z"/>
<path class="sjb" d="M855.6 362.0l6.6 0.3l1.4-3.0l-6.6 2.4z"/>
<path class="sgo" d="M794.1 336.8l6.6-1.4l1.4 2.9l-6.6-6.5z"/>
<path class="sfa" d="M732.5 340.2l6.6-5.1l1.4-1.8l-6.6 1.4z"/>
<path class="sdc" d="M670.9 344.7l6.6-4.0l1.4-0.4l-6.6 0.5z"/>
<path class="sdo" d="M609.3 353.3l6.6-4.5l1.4-2.2l-6.6-0.5z"/>
<path class="sba" d="M873.0 386.4l6.6 4.5l1.4 5.3l-6.6-9.0z"/>
<path class="sgc" d="M811.4 334.8l6.6 15.7l1.4 2.0l-6.6-15.1z"/>
<path class="sdd" d="M749.9 351.6l6.6-1.8l1.4-0.7l-6.6-2.1z"/>
<path class="shm" d="M688.3 330.8l6.6 1.2l1.4 4.8l-6.6 1.3z"/>
<path class="scz" d="M626.7 342.5l6.6 4.2l1.4 4.9l-6.6-7.9z"/>
<path class="so" d="M890.4 387.6l6.6 8.3l1.4 2.0l-6.6-9.2z"/>
<path class="sha" d="M828.8 361.7l6.6-2.3l1.4-4.6l-6.6 7.9z"/>
<path class="sdc" d="M767.3 341.1l6.6 4.2l1.4-11.2l-6.6 11.6z"/>
<path class="sdc" d="M705.7 339.4l6.6 7.5l1.4-0.6l-6.6-12.2z"/>
<path class="sdo" d="M644.1 353.9l6.6-6.7l1.4-0.2l-6.6 1.3z"/>
<path class="sh" d="M907.8 396.8l6.6 5.8l1.4-7.9l-6.6-6.5z"/>
<path class="shy" d="M846.2 361.8l6.6-3.9l1.4 1.7l-6.6-1.7z"/>
<path class="sgj" d="M784.6 336.7l6.6 0.7l1.4 4.4l-6.6-2.1z"/>
<path class="sgh" d="M723.1 334.9l6.6 3.6l1.4 3.4l-6.6-5.1z"/>
<path class="sfp" d="M661.5 346.0l6.6-2.1l1.4-2.7l-6.6 0.6z"/>
<path class="sdd" d="M599.9 357.5l6.6-10.7l1.4 2.5l-6.6-3.7z"/>
<path class="sep" d="M863.6 359.3l6.6 7.9l1.4 11.6l-6.6-1.5z"/>
<path class="sfa" d="M802.0 338.2l6.6 1.7l1.4-7.6l-6.6 1.5z"/>
<path class="sei" d="M740.5 333.3l6.6 12.5l1.4 3.1l-6.6-14.4z"/>
<path class="sei" d="M678.9 340.2l6.6-0.7l1.4-2.5l-6.6 8.5z"/>
<path class="scd" d="M617.3 346.7l6.6 3.9l1.4-2.1l-6.6-3.9z"/>
<path class="sbh" d="M881.0 396.2l6.6 0.9l1.4-3.0l-6.6 4.5z"/>
<path class="sbi" d="M819.4 352.5l6.6 13.9l1.4-9.0l-6.6-3.9z"/>
<path class="scz" d="M757.8 349.1l6.6-0.9l1.4-4.1l-6.6 1.6z"/>
<path class="sgh" d="M696.3 336.8l6.6 5.7l1.4-2.0l-6.6-6.9z"/>
<path class="sbx" d="M634.7 351.7l6.6-0.1l1.4-7.5l-6.6 6.6z"/>
<path class="sbh" d="M898.4 397.8l6.6 1.2l1.4-7.0l-6.6 4.7z"/>
<path class="sbi" d="M836.8 354.9l6.6 4.7l1.4-0.5l-6.6-1.3z"/>
<path class="sgo" d="M775.2 334.2l6.6 2.9l1.4 0.6l-6.6-2.0z"/>
<path class="sdx" d="M713.7 346.2l6.6-7.1l1.4 4.1l-6.6-1.8z"/>
<path class="scq" d="M652.1 347.0l6.6 0.7l1.4 2.0l-6.6-1.8z"/>
<path class="sgl" d="M854.2 359.5l6.6 2.4l1.4 0.4l-6.6-0.3z"/>
<path class="sgo" d="M792.6 341.7l6.6-10.3l1.4 3.9l-6.6 1.4z"/>
<path class="shd" d="M731.0 341.9l6.6-7.5l1.4 0.7l-6.6 5.1z"/>
<path class="sdx" d="M669.5 341.3l6.6 2.3l1.4-2.9l-6.6 4.0z"/>
<path class="shj" d="M607.9 349.3l6.6 4.3l1.4-4.7l-6.6 4.5z"/>
<path class="sjc" d="M871.6 378.8l6.6-0.8l1.4 12.9l-6.6-4.5z"/>
<path class="sgg" d="M810.0 332.4l6.6 23.2l1.4-5.1l-6.6-15.7z"/>
<path class="sbx" d="M748.4 348.9l6.6 0.4l1.4 0.5l-6.6 1.8z"/>
<path class="sij" d="M686.9 337.1l6.6-0.4l1.4-4.7l-6.6-1.2z"/>
<path class="scz" d="M625.3 348.4l6.6 1.9l1.4-3.5l-6.6-4.2z"/>
<path class="sa" d="M889.0 394.1l6.6 6.5l1.4-4.7l-6.6-8.3z"/>
<path class="shl" d="M827.4 357.5l6.6-0.1l1.4 2.1l-6.6 2.3z"/>
<path class="sck" d="M765.8 344.2l6.6 7.2l1.4-6.1l-6.6-4.2z"/>
<path class="sfw" d="M704.2 340.5l6.6 5.4l1.4 1.0l-6.6-7.5z"/>
<path class="scd" d="M642.7 344.0l6.6 3.7l1.4-0.5l-6.6 6.7z"/>
<path class="scj" d="M906.4 392.0l6.6 11.5l1.4-0.9l-6.6-5.8z"/>
<path class="siw" d="M844.8 359.1l6.6 3.4l1.4-4.6l-6.6 3.9z"/>
<path class="seu" d="M783.2 337.7l6.6 4.4l1.4-4.7l-6.6-0.7z"/>
<path class="seu" d="M721.6 343.2l6.6-5.7l1.4 1.1l-6.6-3.6z"/>
<path class="seb" d="M660.1 349.7l6.6-4.5l1.4-1.3l-6.6 2.1z"/>
<path class="she" d="M598.5 353.6l6.6 0.7l1.4-7.6l-6.6 10.7z"/>
<path class="sjd" d="M862.2 362.3l6.6 4.7l1.4 0.3l-6.6-7.9z"/>
<path class="sfi" d="M800.6 335.3l6.6-0.1l1.4 4.7l-6.6-1.7z"/>
<path class="sff" d="M739.0 335.1l6.6 11.3l1.4-0.6l-6.6-12.5z"/>
<path class="sgj" d="M677.4 340.7l6.6-2.9l1.4 1.8l-6.6 0.7z"/>
<path class="scu" d="M615.9 348.8l6.6 0.6l1.4 1.1l-6.6-3.9z"/>
<path class="su" d="M879.6 390.9l6.6 1.9l1.4 4.3l-6.6-0.9z"/>
<path class="sbr" d="M818.0 350.5l6.6 0.5l1.4 15.4l-6.6-13.9z"/>
<path class="sdg" d="M756.4 349.8l6.6 0.4l1.4-2.0l-6.6 0.9z"/>
<path class="sfe" d="M694.8 332.0l6.6 8.0l1.4 2.5l-6.6-5.7z"/>
<path class="sbn" d="M633.3 346.8l6.6 9.0l1.4-4.3l-6.6 0.1z"/>
<path class="scg" d="M897.0 395.9l6.6 1.2l1.4 2.0l-6.6-1.2z"/>
<path class="shl" d="M835.4 359.5l6.6 3.8l1.4-3.7l-6.6-4.7z"/>
<path class="sgy" d="M773.8 345.3l6.6-9.4l1.4 1.2l-6.6-2.9z"/>
<path class="sfw" d="M712.2 346.9l6.6-4.9l1.4-2.9l-6.6 7.1z"/>
<path class="scc" d="M650.6 347.2l6.6-1.9l1.4 2.4l-6.6-0.7z"/>
<path class="shl" d="M852.8 357.8l6.6-0.4l1.4 4.5l-6.6-2.4z"/>
<path class="shc" d="M791.2 337.4l6.6-3.0l1.4-3.0l-6.6 10.3z"/>
<path class="sfa" d="M729.6 338.5l6.6-4.3l1.4 0.2l-6.6 7.5z"/>
<path class="sfw" d="M668.0 344.0l6.6 2.3l1.4-2.7l-6.6-2.3z"/>
<path class="sbw" d="M606.5 346.8l6.6 8.4l1.4-1.6l-6.6-4.3z"/>
<path class="sfj" d="M870.2 367.3l6.6-5.8l1.4 16.6l-6.6 0.8z"/>
<path class="sck" d="M808.6 340.0l6.6 16.4l1.4-0.7l-6.6-23.2z"/>
<path class="scz" d="M747.0 345.8l6.6 1.4l1.4 2.0l-6.6-0.4z"/>
<path class="sgy" d="M685.4 339.6l6.6 0.3l1.4-3.2l-6.6 0.4z"/>
<path class="sbw" d="M623.8 350.5l6.6 5.8l1.4-6.1l-6.6-1.9z"/>
<path class="sm" d="M887.6 397.1l6.6-6.1l1.4 9.5l-6.6-6.5z"/>
<path class="sha" d="M826.0 366.5l6.6-3.6l1.4-5.5l-6.6 0.1z"/>
<path class="scz" d="M764.4 348.2l6.6-0.0l1.4 3.2l-6.6-7.2z"/>
<path class="set" d="M702.8 342.4l6.6-1.7l1.4 5.1l-6.6-5.4z"/>
<path class="scc" d="M641.2 351.5l6.6-5.7l1.4 1.9l-6.6-3.7z"/>
<path class="st" d="M905.0 399.0l6.6-1.6l1.4 6.0l-6.6-11.5z"/>
<path class="sha" d="M843.4 359.6l6.6 4.3l1.4-1.4l-6.6-3.4z"/>
<path class="sgh" d="M781.8 337.1l6.6 4.7l1.4 0.3l-6.6-4.4z"/>
<path class="shd" d="M720.2 339.1l6.6-2.9l1.4 1.2l-6.6 5.7z"/>
<path class="scm" d="M658.6 347.7l6.6-3.1l1.4 0.6l-6.6 4.5z"/>
<path class="sdg" d="M597.0 345.0l6.6 1.4l1.4 7.9l-6.6-0.7z"/>
<path class="siu" d="M860.8 361.9l6.6-5.6l1.4 10.6l-6.6-4.7z"/>
<path class="shm" d="M799.2 331.4l6.6 12.3l1.4-8.4l-6.6 0.1z"/>
<path class="sfm" d="M737.6 334.4l6.6 11.9l1.4 0.1l-6.6-11.3z"/>
<path class="sgh" d="M676.0 343.6l6.6-7.2l1.4 1.4l-6.6 2.9z"/>
<path class="scu" d="M614.4 353.6l6.6-7.5l1.4 3.3l-6.6-0.6z"/>
<path class="sdu" d="M878.2 378.1l6.6 1.9l1.4 12.8l-6.6-1.9z"/>
<path class="sbr" d="M816.6 355.6l6.6 9.9l1.4-14.4l-6.6-0.5z"/>
<path class="sfx" d="M755.0 349.3l6.6 0.4l1.4 0.6l-6.6-0.4z"/>
<path class="sfe" d="M693.4 336.7l6.6 8.0l1.4-4.7l-6.6-8.0z"/>
<path class="sbn" d="M631.8 350.3l6.6 6.0l1.4-0.5l-6.6-9.0z"/>
<path class="sr" d="M895.6 400.6l6.6-7.3l1.4 3.8l-6.6-1.2z"/>
<path class="siw" d="M834.0 357.4l6.6 7.1l1.4-1.2l-6.6-3.8z"/>
<path class="seo" d="M772.4 351.4l6.6-15.7l1.4 0.2l-6.6 9.4z"/>
<path class="sfw" d="M710.8 345.9l6.6-3.4l1.4-0.5l-6.6 4.9z"/>
<path class="scc" d="M649.2 347.7l6.6 3.1l1.4-5.5l-6.6 1.9z"/>
<path class="shy" d="M851.4 362.4l6.6 4.0l1.4-9.0l-6.6 0.4z"/>
<path class="sfi" d="M789.8 342.0l6.6-2.6l1.4-5.0l-6.6 3.0z"/>
<path class="sje" d="M728.2 337.4l6.6-5.0l1.4 1.8l-6.6 4.3z"/>
<path class="sgg" d="M666.6 345.2l6.6-1.4l1.4 2.4l-6.6-2.3z"/>
<path class="sca" d="M605.0 354.4l6.6 0.3l1.4 0.5l-6.6-8.4z"/>
<path class="siy" d="M868.8 367.0l6.6-6.4l1.4 0.9l-6.6 5.8z"/>
<path class="sck" d="M807.2 335.3l6.6 20.9l1.4 0.2l-6.6-16.4z"/>
<path class="sck" d="M745.6 346.4l6.6 2.4l1.4-1.6l-6.6-1.4z"/>
<path class="sff" d="M684.0 337.8l6.6 9.5l1.4-7.5l-6.6-0.3z"/>
<path class="sca" d="M622.4 349.4l6.6 6.0l1.4 0.9l-6.6-5.8z"/>
<path class="sl" d="M886.2 392.8l6.6 2.9l1.4-4.7l-6.6 6.1z"/>
<path class="shy" d="M824.6 351.1l6.6 13.0l1.4-1.2l-6.6 3.6z"/>
<path class="sdg" d="M763.0 350.2l6.6 4.4l1.4-6.5l-6.6 0.0z"/>
<path class="set" d="M701.4 340.0l6.6 9.0l1.4-8.3l-6.6 1.7z"/>
<path class="sdg" d="M639.8 355.8l6.6-7.7l1.4-2.3l-6.6 5.7z"/>
<path class="sq" d="M903.6 397.1l6.6 7.4l1.4-7.1l-6.6 1.6z"/>
<path class="siv" d="M842.0 363.3l6.6 0.4l1.4 0.2l-6.6-4.3z"/>
<path class="sfi" d="M780.4 335.9l6.6 4.0l1.4 1.9l-6.6-4.7z"/>
<path class="sfv" d="M718.8 342.0l6.6 3.5l1.4-9.3l-6.6 2.9z"/>
<path class="sgc" d="M657.2 345.4l6.6 2.1l1.4-2.8l-6.6 3.1z"/>
<path class="sck" d="M595.6 351.6l6.6-6.3l1.4 1.2l-6.6-1.4z"/>
<path class="shs" d="M859.4 357.4l6.6 3.8l1.4-4.8l-6.6 5.6z"/>
<path class="sgv" d="M797.8 334.4l6.6 3.0l1.4 6.3l-6.6-12.3z"/>
<path class="sgj" d="M736.2 334.2l6.6 15.2l1.4-3.0l-6.6-11.9z"/>
<path class="seh" d="M674.6 346.3l6.6-5.6l1.4-4.3l-6.6 7.2z"/>
<path class="sch" d="M613.0 355.2l6.6-6.4l1.4-2.7l-6.6 7.5z"/>
<path class="siq" d="M876.8 361.5l6.6 3.1l1.4 15.4l-6.6-1.9z"/>
<path class="shy" d="M815.2 356.3l6.6 11.9l1.4-2.8l-6.6-9.9z"/>
<path class="scc" d="M753.6 347.2l6.6 0.1l1.4 2.3l-6.6-0.4z"/>
<path class="sff" d="M692.0 339.9l6.6 5.3l1.4-0.5l-6.6-8.0z"/>
<path class="sdb" d="M630.4 356.4l6.6-2.8l1.4 2.7l-6.6-6.0z"/>
<path class="sd" d="M894.2 391.0l6.6 10.1l1.4-7.8l-6.6 7.3z"/>
<path class="siu" d="M832.6 362.8l6.6 3.4l1.4-1.7l-6.6-7.1z"/>
<path class="scx" d="M771.0 348.2l6.6 0.6l1.4-13.0l-6.6 15.7z"/>
<path class="sge" d="M709.4 340.8l6.6 6.2l1.4-4.5l-6.6 3.4z"/>
<path class="shi" d="M647.8 345.8l6.6 4.6l1.4 0.4l-6.6-3.1z"/>
<path class="sgl" d="M850.0 363.9l6.6-1.7l1.4 4.3l-6.6-4.0z"/>
<path class="seu" d="M788.4 341.8l6.6-3.3l1.4 0.9l-6.6 2.6z"/>
<path class="sgo" d="M726.8 336.2l6.6 11.2l1.4-15.0l-6.6 5.0z"/>
<path class="sgg" d="M665.2 344.7l6.6 3.0l1.4-3.8l-6.6 1.4z"/>
<path class="scu" d="M603.6 346.4l6.6 0.5l1.4 7.7l-6.6-0.3z"/>
<path class="siw" d="M867.4 356.4l6.6 8.4l1.4-4.1l-6.6 6.4z"/>
<path class="scm" d="M805.8 343.7l6.6 13.2l1.4-0.8l-6.6-20.9z"/>
<path class="sdk" d="M744.2 346.3l6.6 1.7l1.4 0.8l-6.6-2.4z"/>
<path class="sgh" d="M682.6 336.4l6.6 6.4l1.4 4.6l-6.6-9.5z"/>
<path class="scu" d="M621.0 346.1l6.6 5.6l1.4 3.8l-6.6-6.0z"/>
<path class="sdn" d="M884.8 380.0l6.6 2.0l1.4 13.7l-6.6-2.9z"/>
<path class="shl" d="M823.2 365.5l6.6-1.1l1.4-0.3l-6.6-13.0z"/>
<path class="scq" d="M761.6 349.6l6.6-2.4l1.4 7.4l-6.6-4.4z"/>
<path class="scx" d="M700.0 344.7l6.6 7.7l1.4-3.3l-6.6-9.0z"/>
<path class="sbw" d="M638.4 356.2l6.6-3.8l1.4-4.3l-6.6 7.7z"/>
<path class="sbh" d="M902.2 393.3l6.6 8.3l1.4 2.9l-6.6-7.4z"/>
<path class="sjf" d="M840.6 364.5l6.6 2.9l1.4-3.7l-6.6-0.4z"/>
<path class="sgo" d="M779.0 335.7l6.6 7.5l1.4-3.4l-6.6-4.0z"/>
<path class="seo" d="M717.4 342.4l6.6 0.6l1.4 2.4l-6.6-3.5z"/>
<path class="sft" d="M655.8 350.8l6.6-7.4l1.4 4.0l-6.6-2.1z"/>
<path class="scq" d="M594.2 352.7l6.6 1.0l1.4-8.4l-6.6 6.3z"/>
<path class="siv" d="M858.0 366.5l6.6 2.3l1.4-7.5l-6.6-3.8z"/>
<path class="sje" d="M796.4 339.4l6.6-2.1l1.4 0.1l-6.6-3.0z"/>
<path class="sgj" d="M734.8 332.4l6.6 18.9l1.4-2.0l-6.6-15.2z"/>
<path class="sei" d="M673.2 343.9l6.6-0.8l1.4-2.4l-6.6 5.6z"/>
<path class="sdd" d="M611.6 354.7l6.6-2.8l1.4-3.1l-6.6 6.4z"/>
<path class="sjg" d="M875.4 360.6l6.6 0.5l1.4 3.5l-6.6-3.1z"/>
<path class="shl" d="M813.8 356.2l6.6 9.1l1.4 3.0l-6.6-11.9z"/>
<path class="scm" d="M752.2 348.8l6.6 1.8l1.4-3.3l-6.6-0.1z"/>
<path class="sge" d="M690.6 347.4l6.6-0.9l1.4-1.3l-6.6-5.3z"/>
<path class="sjh" d="M629.0 355.4l6.6 7.0l1.4-8.8l-6.6 2.8z"/>
<path class="sa" d="M892.7 395.7l6.6 4.9l1.4 0.5l-6.6-10.1z"/>
<path class="sjd" d="M831.2 364.1l6.6 9.1l1.4-6.9l-6.6-3.4z"/>
<path class="scc" d="M769.6 354.7l6.6-9.9l1.4 4.1l-6.6-0.6z"/>
<path class="sfw" d="M708.0 349.0l6.6-3.3l1.4 1.2l-6.6-6.2z"/>
<path class="scc" d="M646.4 348.1l6.6 4.3l1.4-1.9l-6.6-4.6z"/>
<path class="siu" d="M848.6 363.7l6.6 0.4l1.4-2.0l-6.6 1.7z"/>
<path class="shm" d="M787.0 339.9l6.6-8.6l1.4 7.2l-6.6 3.3z"/>
<path class="sff" d="M725.4 345.5l6.6-3.9l1.4 5.9l-6.6-11.2z"/>
<path class="sgg" d="M663.8 347.5l6.6-2.3l1.4 2.5l-6.6-3.0z"/>
<path class="sgc" d="M602.2 345.3l6.6 6.3l1.4-4.6l-6.6-0.5z"/>
<path class="shl" d="M865.9 361.2l6.6 3.7l1.4-0.1l-6.6-8.4z"/>
<path class="sck" d="M804.4 337.4l6.6 17.7l1.4 1.8l-6.6-13.2z"/>
<path class="shi" d="M742.8 349.3l6.6 5.4l1.4-6.7l-6.6-1.7z"/>
<path class="sie" d="M681.2 340.7l6.6 3.9l1.4-1.8l-6.6-6.4z"/>
<path class="scz" d="M619.6 348.8l6.6 4.1l1.4-1.2l-6.6-5.6z"/>
<path class="sfq" d="M883.3 364.5l6.6 2.8l1.4 14.6l-6.6-2.0z"/>
<path class="siy" d="M821.8 368.3l6.6-3.3l1.4-0.6l-6.6 1.1z"/>
<path class="scx" d="M760.2 347.3l6.6-2.5l1.4 2.5l-6.6 2.4z"/>
<path class="sck" d="M698.6 345.2l6.6 6.5l1.4 0.7l-6.6-7.7z"/>
<path class="sdd" d="M637.0 353.6l6.6-3.5l1.4 2.4l-6.6 3.8z"/>
<path class="st" d="M900.7 401.1l6.6 4.2l1.4-3.7l-6.6-8.3z"/>
<path class="sji" d="M839.1 366.2l6.6 0.1l1.4 1.1l-6.6-2.9z"/>
<path class="sgy" d="M777.6 348.8l6.6-13.9l1.4 8.4l-6.6-7.5z"/>
<path class="seo" d="M716.0 346.9l6.6-3.5l1.4-0.4l-6.6-0.6z"/>
<path class="sck" d="M654.4 350.4l6.6-0.1l1.4-6.9l-6.6 7.4z"/>
<path class="sfh" d="M592.8 341.9l6.6 12.1l1.4-0.3l-6.6-1.0z"/>
<path class="sgs" d="M856.5 362.1l6.6 7.4l1.4-0.8l-6.6-2.3z"/>
<path class="siz" d="M795.0 338.5l6.6 6.6l1.4-7.8l-6.6 2.1z"/>
<path class="sge" d="M733.4 347.4l6.6 3.1l1.4 0.8l-6.6-18.9z"/>
<path class="sei" d="M671.8 347.6l6.6-4.5l1.4-0.1l-6.6 0.8z"/>
<path class="scd" d="M610.2 346.9l6.6 4.1l1.4 0.8l-6.6 2.8z"/>
<path class="sha" d="M873.9 364.7l6.6 4.0l1.4-7.7l-6.6-0.5z"/>
<path class="shl" d="M812.3 356.9l6.6 12.6l1.4-4.2l-6.6-9.1z"/>
<path class="seb" d="M750.8 348.0l6.6 1.9l1.4 0.7l-6.6-1.8z"/>
<path class="shr" d="M689.2 342.8l6.6 1.2l1.4 2.5l-6.6 0.9z"/>
<path class="shb" d="M627.6 351.6l6.6 4.6l1.4 6.1l-6.6-7.0z"/>
<path class="sis" d="M891.3 382.0l6.6 10.8l1.4 7.8l-6.6-4.9z"/>
<path class="sjj" d="M829.7 364.3l6.6 4.8l1.4 4.0l-6.6-9.1z"/>
<path class="sdk" d="M768.2 347.3l6.6 0.5l1.4-3.1l-6.6 9.9z"/>
<path class="sgg" d="M706.6 352.4l6.6-12.4l1.4 5.7l-6.6 3.3z"/>
<path class="sfh" d="M645.0 352.4l6.6-2.2l1.4 2.1l-6.6-4.3z"/>
<path class="sha" d="M847.1 367.4l6.6-6.6l1.4 3.3l-6.6-0.4z"/>
<path class="sje" d="M785.5 343.3l6.6-6.0l1.4-6.0l-6.6 8.6z"/>
<path class="sgh" d="M724.0 343.0l6.6-3.4l1.4 1.9l-6.6 3.9z"/>
<path class="shr" d="M662.4 343.5l6.6 1.9l1.4-0.3l-6.6 2.3z"/>
<path class="sfh" d="M600.8 353.7l6.6-0.6l1.4-1.6l-6.6-6.3z"/>
<path class="shg" d="M864.5 368.7l6.6-11.9l1.4 8.0l-6.6-3.7z"/>
<path class="sfw" d="M802.9 337.3l6.6 19.9l1.4-2.0l-6.6-17.7z"/>
<path class="scd" d="M741.4 351.3l6.6-0.3l1.4 3.7l-6.6-5.4z"/>
<path class="sfm" d="M679.8 343.1l6.6 1.2l1.4 0.3l-6.6-3.9z"/>
<path class="scu" d="M618.2 351.9l6.6 3.5l1.4-2.5l-6.6-4.1z"/>
<path class="six" d="M881.9 361.1l6.6 6.2l1.4 0.1l-6.6-2.8z"/>
<path class="sjf" d="M820.3 365.3l6.6 0.4l1.4-0.7l-6.6 3.3z"/>
<path class="sdk" d="M758.7 350.6l6.6 2.2l1.4-8.0l-6.6 2.5z"/>
<path class="sfw" d="M697.2 346.5l6.6-3.1l1.4 8.3l-6.6-6.5z"/>
<path class="sgz" d="M635.6 362.4l6.6-3.3l1.4-9.0l-6.6 3.5z"/>
<path class="sjk" d="M899.3 400.6l6.6 5.9l1.4-1.2l-6.6-4.2z"/>
<path class="sjl" d="M837.7 373.1l6.6-4.3l1.4-2.5l-6.6-0.1z"/>
<path class="seu" d="M776.1 344.7l6.6-4.2l1.4-5.6l-6.6 13.9z"/>
<path class="sff" d="M714.6 345.7l6.6-6.7l1.4 4.4l-6.6 3.5z"/>
<path class="sfh" d="M653.0 352.4l6.6 0.1l1.4-2.1l-6.6 0.1z"/>
<path class="shi" d="M591.4 349.6l6.6 7.4l1.4-2.9l-6.6-12.1z"/>
<path class="sgl" d="M855.1 364.1l6.6 1.8l1.4 3.7l-6.6-7.4z"/>
<path class="shq" d="M793.5 331.3l6.6 13.1l1.4 0.7l-6.6-6.6z"/>
<path class="sdk" d="M731.9 341.5l6.6 14.0l1.4-5.0l-6.6-3.1z"/>
<path class="sei" d="M670.4 345.2l6.6-0.7l1.4-1.3l-6.6 4.5z"/>
<path class="ser" d="M608.8 351.5l6.6 5.7l1.4-6.1l-6.6-4.1z"/>
<path class="six" d="M872.5 364.9l6.6-1.9l1.4 5.9l-6.6-4.0z"/>
<path class="shs" d="M810.9 355.1l6.6 9.5l1.4 4.8l-6.6-12.6z"/>
<path class="scz" d="M749.3 354.7l6.6-2.8l1.4-1.9l-6.6-1.9z"/>
<path class="sfy" d="M687.8 344.6l6.6 1.5l1.4-2.2l-6.6-1.2z"/>
<path class="sbx" d="M626.2 352.9l6.6 2.5l1.4 0.9l-6.6-4.6z"/>
<path class="sgu" d="M889.9 367.4l6.6-2.4l1.4 27.9l-6.6-10.8z"/>
<path class="six" d="M828.3 364.9l6.6-1.5l1.4 5.7l-6.6-4.8z"/>
<path class="sgg" d="M766.7 344.8l6.6 6.0l1.4-3.0l-6.6-0.5z"/>
<path class="sfw" d="M705.1 351.7l6.6-7.4l1.4-4.3l-6.6 12.4z"/>
<path class="scd" d="M643.6 350.0l6.6 5.0l1.4-4.8l-6.6 2.2z"/>
<path class="sgl" d="M845.7 366.3l6.6 2.9l1.4-8.4l-6.6 6.6z"/>
<path class="sgv" d="M784.1 334.9l6.6 6.7l1.4-4.4l-6.6 6.0z"/>
<path class="sgy" d="M722.5 343.4l6.6-1.6l1.4-2.2l-6.6 3.4z"/>
<path class="sfw" d="M661.0 350.4l6.6-0.7l1.4-4.2l-6.6-1.9z"/>
<path class="sch" d="M599.4 354.0l6.6-0.2l1.4-0.7l-6.6 0.6z"/>
<path class="siu" d="M863.1 369.6l6.6-4.6l1.4-8.1l-6.6 11.9z"/>
<path class="sib" d="M801.5 345.1l6.6 13.9l1.4-1.8l-6.6-19.9z"/>
<path class="scc" d="M739.9 350.5l6.6 0.1l1.4 0.4l-6.6 0.3z"/>
<path class="sff" d="M678.3 343.2l6.6 2.7l1.4-1.5l-6.6-1.2z"/>
<path class="sbx" d="M616.8 351.1l6.6 7.4l1.4-3.1l-6.6-3.5z"/>
<path class="sgl" d="M880.5 368.8l6.6-1.5l1.4-0.0l-6.6-6.2z"/>
<path class="siv" d="M818.9 369.5l6.6-8.2l1.4 4.3l-6.6-0.4z"/>
<path class="seb" d="M757.3 349.9l6.6-0.9l1.4 3.8l-6.6-2.2z"/>
<path class="sei" d="M695.7 344.0l6.6 5.0l1.4-5.7l-6.6 3.1z"/>
<path class="sjh" d="M634.2 356.3l6.6 0.6l1.4 2.1l-6.6 3.3z"/>
<path class="sl" d="M897.9 392.9l6.6-4.3l1.4 18.0l-6.6-5.9z"/>
<path class="sjm" d="M836.3 369.1l6.6-0.0l1.4-0.3l-6.6 4.3z"/>
<path class="sie" d="M774.7 347.8l6.6-9.5l1.4 2.3l-6.6 4.2z"/>
<path class="sfi" d="M713.1 340.0l6.6 2.0l1.4-3.0l-6.6 6.7z"/>
<path class="scc" d="M651.5 350.2l6.6-1.1l1.4 3.4l-6.6-0.1z"/>
<path class="sch" d="M590.0 353.4l6.6 2.6l1.4 1.0l-6.6-7.4z"/>
<path class="siw" d="M853.7 360.8l6.6 6.6l1.4-1.5l-6.6-1.8z"/>
<path class="sih" d="M792.1 337.2l6.6 2.9l1.4 4.2l-6.6-13.1z"/>
<path class="sdx" d="M730.5 339.6l6.6 13.1l1.4 2.8l-6.6-14.0z"/>
<path class="sei" d="M668.9 345.4l6.6 3.1l1.4-4.1l-6.6 0.7z"/>
<path class="sdo" d="M607.4 353.1l6.6 2.4l1.4 1.7l-6.6-5.7z"/>
<path class="sjn" d="M871.1 356.8l6.6 3.6l1.4 2.5l-6.6 1.9z"/>
<path class="sjn" d="M809.5 357.2l6.6 11.8l1.4-4.3l-6.6-9.5z"/>
<path class="sfh" d="M747.9 351.1l6.6-0.5l1.4 1.3l-6.6 2.8z"/>
<path class="sge" d="M686.3 344.3l6.6 8.7l1.4-6.9l-6.6-1.5z"/>
<path class="sdd" d="M624.7 355.4l6.6 1.2l1.4-1.2l-6.6-2.5z"/>
<path class="siw" d="M888.5 367.2l6.6-6.9l1.4 4.7l-6.6 2.4z"/>
<path class="siu" d="M826.9 365.6l6.6 3.2l1.4-5.4l-6.6 1.5z"/>
<path class="sgg" d="M765.3 352.8l6.6-7.9l1.4 5.9l-6.6-6.0z"/>
<path class="sgg" d="M703.7 343.3l6.6 11.4l1.4-10.5l-6.6 7.4z"/>
<path class="sch" d="M642.1 359.0l6.6-6.8l1.4 2.8l-6.6-5.0z"/>
<path class="sjb" d="M844.3 368.8l6.6-5.3l1.4 5.7l-6.6-2.9z"/>
<path class="sje" d="M782.7 340.5l6.6 0.1l1.4 1.1l-6.6-6.7z"/>
<path class="shq" d="M721.1 339.0l6.6 1.1l1.4 1.7l-6.6 1.6z"/>
<path class="sck" d="M659.5 352.5l6.6-2.6l1.4-0.3l-6.6 0.7z"/>
<path class="sdd" d="M597.9 356.9l6.6-0.6l1.4-2.5l-6.6 0.2z"/>
<path class="sjb" d="M861.7 365.9l6.6 2.7l1.4-3.6l-6.6 4.6z"/>
<path class="ser" d="M800.1 344.4l6.6 17.8l1.4-3.2l-6.6-13.9z"/>
<path class="scc" d="M738.5 355.5l6.6-6.6l1.4 1.7l-6.6-0.1z"/>
<path class="seh" d="M676.9 344.4l6.6 3.0l1.4-1.5l-6.6-2.7z"/>
<path class="sca" d="M615.3 357.2l6.6 2.2l1.4-0.9l-6.6-7.4z"/>
<path class="siy" d="M879.1 362.9l6.6 10.0l1.4-5.7l-6.6 1.5z"/>
<path class="shy" d="M817.5 364.7l6.6-1.5l1.4-1.9l-6.6 8.2z"/>
<path class="scx" d="M755.9 351.9l6.6-5.1l1.4 2.3l-6.6 0.9z"/>
<path class="set" d="M694.3 346.2l6.6 1.9l1.4 0.9l-6.6-5.0z"/>
<path class="sdb" d="M632.7 355.4l6.6 5.0l1.4-3.5l-6.6-0.6z"/>
<path class="sci" d="M896.5 365.0l6.6 8.2l1.4 15.3l-6.6 4.3z"/>
<path class="siu" d="M834.9 363.4l6.6-1.0l1.4 6.7l-6.6 0.0z"/>
<path class="sfm" d="M773.3 350.8l6.6-8.2l1.4-4.4l-6.6 9.5z"/>
<path class="sgo" d="M711.7 344.3l6.6-3.9l1.4 1.6l-6.6-2.0z"/>
<path class="scz" d="M650.1 355.0l6.6 0.0l1.4-6.0l-6.6 1.1z"/>
<path class="sdo" d="M588.5 353.6l6.6 3.3l1.4-0.9l-6.6-2.6z"/>
<path class="siw" d="M852.3 369.2l6.6-5.0l1.4 3.2l-6.6-6.6z"/>
<path class="shm" d="M790.7 341.7l6.6 2.3l1.4-3.9l-6.6-2.9z"/>
<path class="set" d="M729.1 341.9l6.6 11.3l1.4-0.5l-6.6-13.1z"/>
<path class="sge" d="M667.5 349.6l6.6-3.9l1.4 2.8l-6.6-3.1z"/>
<path class="scu" d="M605.9 353.8l6.6-0.3l1.4 2.0l-6.6-2.4z"/>
<path class="shs" d="M869.7 365.0l6.6 4.5l1.4-9.1l-6.6-3.6z"/>
<path class="sbi" d="M808.1 359.0l6.6 10.5l1.4-0.5l-6.6-11.8z"/>
<path class="sdk" d="M746.5 350.6l6.6-1.5l1.4 1.5l-6.6 0.5z"/>
<path class="sge" d="M684.9 345.9l6.6 1.9l1.4 5.2l-6.6-8.7z"/>
<path class="sdb" d="M623.3 358.5l6.6 1.4l1.4-3.3l-6.6-1.2z"/>
<path class="six" d="M887.1 367.3l6.6 5.8l1.4-12.8l-6.6 6.9z"/>
<path class="six" d="M825.5 361.3l6.6 10.3l1.4-2.8l-6.6-3.2z"/>
<path class="sgg" d="M763.9 349.0l6.6-0.1l1.4-3.9l-6.6 7.9z"/>
<path class="sfw" d="M702.3 349.0l6.6-0.7l1.4 6.5l-6.6-11.4z"/>
<path class="sbw" d="M640.7 356.9l6.6-0.4l1.4-4.3l-6.6 6.8z"/>
<path class="sjb" d="M842.9 369.1l6.6 1.4l1.4-7.0l-6.6 5.3z"/>
<path class="sje" d="M781.3 338.2l6.6 3.0l1.4-0.6l-6.6-0.1z"/>
<path class="sgo" d="M719.7 342.0l6.6 5.1l1.4-7.0l-6.6-1.1z"/>
<path class="sft" d="M658.1 349.1l6.6 0.6l1.4 0.2l-6.6 2.6z"/>
<path class="sdo" d="M596.5 356.0l6.6-3.1l1.4 3.5l-6.6 0.6z"/>
<path class="siv" d="M860.3 367.4l6.6-1.9l1.4 3.0l-6.6-2.7z"/>
<path class="shi" d="M798.7 340.1l6.6 23.3l1.4-1.2l-6.6-17.8z"/>
<path class="scz" d="M737.1 352.7l6.6 0.8l1.4-4.6l-6.6 6.6z"/>
<path class="sfy" d="M675.5 348.6l6.6-3.9l1.4 2.8l-6.6-3.0z"/>
<path class="sca" d="M613.9 355.5l6.6 2.2l1.4 1.7l-6.6-2.2z"/>
<path class="shl" d="M877.7 360.4l6.6 2.6l1.4 9.9l-6.6-10.0z"/>
<path class="sha" d="M816.1 369.0l6.6-0.2l1.4-5.5l-6.6 1.5z"/>
<path class="sft" d="M754.5 350.6l6.6 2.2l1.4-6.0l-6.6 5.1z"/>
<path class="sfw" d="M692.9 353.0l6.6-4.1l1.4-0.9l-6.6-1.9z"/>
<path class="sca" d="M631.3 356.6l6.6 2.1l1.4 1.8l-6.6-5.0z"/>
<path class="sjo" d="M895.1 360.3l6.6 5.9l1.4 6.9l-6.6-8.2z"/>
<path class="six" d="M833.5 368.8l6.6 5.7l1.4-12.1l-6.6 1.0z"/>
<path class="sgh" d="M771.9 344.9l6.6-4.5l1.4 2.2l-6.6 8.2z"/>
<path class="sfm" d="M710.3 354.8l6.6-12.1l1.4-2.2l-6.6 3.9z"/>
<path class="sdg" d="M648.7 352.2l6.6 4.6l1.4-1.7l-6.6-0.0z"/>
<path class="scz" d="M587.1 350.0l6.6 2.3l1.4 4.6l-6.6-3.3z"/>
<path class="shy" d="M850.9 363.5l6.6 1.9l1.4-1.2l-6.6 5.0z"/>
<path class="shq" d="M789.3 340.6l6.6 2.0l1.4 1.5l-6.6-2.3z"/>
<path class="sfz" d="M727.7 340.1l6.6 12.3l1.4 0.8l-6.6-11.3z"/>
<path class="sge" d="M666.1 349.9l6.6-3.1l1.4-1.1l-6.6 3.9z"/>
<path class="sdg" d="M604.5 356.3l6.6 0.9l1.4-3.6l-6.6 0.3z"/>
<path class="sha" d="M868.3 368.6l6.6-5.0l1.4 5.9l-6.6-4.5z"/>
<path class="shs" d="M806.7 362.2l6.6 1.9l1.4 5.4l-6.6-10.5z"/>
<path class="sdk" d="M745.1 348.9l6.6 6.7l1.4-6.5l-6.6 1.5z"/>
<path class="sfz" d="M683.5 347.4l6.6-0.4l1.4 0.8l-6.6-1.9z"/>
<path class="sgz" d="M621.9 359.4l6.6-2.0l1.4 2.4l-6.6-1.4z"/>
<path class="sjd" d="M885.7 373.0l6.6-6.0l1.4 6.1l-6.6-5.8z"/>
<path class="shl" d="M824.1 363.2l6.6 1.7l1.4 6.7l-6.6-10.3z"/>
<path class="set" d="M762.5 346.7l6.6-0.4l1.4 2.6l-6.6 0.1z"/>
<path class="set" d="M700.9 348.1l6.6-2.6l1.4 2.8l-6.6 0.7z"/>
<path class="sca" d="M639.3 360.4l6.6-1.6l1.4-2.3l-6.6 0.4z"/>
<path class="siw" d="M841.5 362.4l6.6 1.6l1.4 6.5l-6.6-1.4z"/>
<path class="sjp" d="M779.9 342.7l6.6-5.0l1.4 3.5l-6.6-3.0z"/>
<path class="shc" d="M718.3 340.4l6.6-1.5l1.4 8.2l-6.6-5.1z"/>
<path class="sdk" d="M656.7 355.1l6.6-2.1l1.4-3.2l-6.6-0.6z"/>
<path class="sch" d="M595.1 356.9l6.6 0.8l1.4-4.8l-6.6 3.1z"/>
<path class="sha" d="M858.9 364.2l6.6 6.5l1.4-5.2l-6.6 1.9z"/>
<path class="sft" d="M797.3 344.0l6.6 12.3l1.4 7.1l-6.6-23.3z"/>
<path class="sck" d="M735.7 353.2l6.6-4.5l1.4 4.9l-6.6-0.8z"/>
<path class="sei" d="M674.1 345.8l6.6 5.8l1.4-6.9l-6.6 3.9z"/>
<path class="sbx" d="M612.5 353.6l6.6 5.9l1.4-1.7l-6.6-2.2z"/>
<path class="shg" d="M876.3 369.5l6.6 1.5l1.4-7.9l-6.6-2.6z"/>
<path class="sjq" d="M814.7 369.5l6.6 6.1l1.4-6.8l-6.6 0.2z"/>
<path class="sdk" d="M753.1 349.1l6.6 5.6l1.4-2.0l-6.6-2.2z"/>
<path class="sfw" d="M691.5 347.8l6.6 1.9l1.4-0.7l-6.6 4.1z"/>
<path class="sdb" d="M629.9 359.8l6.6 0.3l1.4-1.5l-6.6-2.1z"/>
<path class="six" d="M893.7 373.1l6.6-0.0l1.4-6.8l-6.6-5.9z"/>
<path class="sjd" d="M832.1 371.7l6.6-5.0l1.4 7.9l-6.6-5.7z"/>
<path class="sie" d="M770.5 348.9l6.6-3.3l1.4-5.1l-6.6 4.5z"/>
<path class="shr" d="M708.9 348.3l6.6 0.4l1.4-6.0l-6.6 12.1z"/>
<path class="scq" d="M647.3 356.5l6.6-1.4l1.4 1.7l-6.6-4.6z"/>
<path class="sdk" d="M585.7 351.9l6.6 1.9l1.4-1.5l-6.6-2.3z"/>
<path class="sha" d="M849.5 370.5l6.6-1.2l1.4-4.0l-6.6-1.9z"/>
<path class="sfa" d="M787.9 341.2l6.6 8.3l1.4-7.0l-6.6-2.0z"/>
<path class="sge" d="M726.3 347.1l6.6 8.4l1.4-3.1l-6.6-12.3z"/>
<path class="sdc" d="M664.7 349.7l6.6 1.3l1.4-4.2l-6.6 3.1z"/>
<path class="sdo" d="M603.1 352.8l6.6 6.9l1.4-2.6l-6.6-0.9z"/>
<path class="shl" d="M866.9 365.5l6.6-0.5l1.4-1.5l-6.6 5.0z"/>
<path class="sbi" d="M805.3 363.4l6.6 5.9l1.4-5.3l-6.6-1.9z"/>
<path class="sck" d="M743.7 353.5l6.6-1.0l1.4 3.0l-6.6-6.7z"/>
<path class="seo" d="M682.1 344.6l6.6 7.7l1.4-5.3l-6.6 0.4z"/>
<path class="sdd" d="M620.5 357.7l6.6-2.3l1.4 2.0l-6.6 2.0z"/>
<path class="sgl" d="M884.2 363.0l6.6 8.9l1.4-5.0l-6.6 6.0z"/>
<path class="shg" d="M822.7 368.7l6.6-0.3l1.4-3.5l-6.6-1.7z"/>
<path class="set" d="M761.1 352.8l6.6-4.1l1.4-2.3l-6.6 0.4z"/>
<path class="sfy" d="M699.5 348.9l6.6-1.5l1.4-1.9l-6.6 2.6z"/>
<path class="sca" d="M637.9 358.6l6.6-1.5l1.4 1.7l-6.6 1.6z"/>
<path class="siw" d="M840.1 374.5l6.6-7.1l1.4-3.5l-6.6-1.6z"/>
<path class="sij" d="M778.5 340.4l6.6 4.5l1.4-7.2l-6.6 5.0z"/>
<path class="sje" d="M716.9 342.6l6.6 2.9l1.4-6.6l-6.6 1.5z"/>
<path class="scz" d="M655.3 356.8l6.6-5.4l1.4 1.6l-6.6 2.1z"/>
<path class="sdg" d="M593.7 352.3l6.6 4.9l1.4 0.5l-6.6-0.8z"/>
<path class="siv" d="M857.4 365.4l6.6 7.4l1.4-2.1l-6.6-6.5z"/>
<path class="sfw" d="M795.9 342.5l6.6 16.0l1.4-2.1l-6.6-12.3z"/>
<path class="sdk" d="M734.3 352.4l6.6 3.0l1.4-6.8l-6.6 4.5z"/>
<path class="set" d="M672.7 346.8l6.6 4.4l1.4 0.3l-6.6-5.8z"/>
<path class="sch" d="M611.1 357.2l6.6-1.4l1.4 3.7l-6.6-5.9z"/>
<path class="sjo" d="M874.8 363.5l6.6 2.6l1.4 4.8l-6.6-1.5z"/>
<path class="six" d="M813.3 364.0l6.6 1.6l1.4 9.9l-6.6-6.1z"/>
<path class="scm" d="M751.7 355.6l6.6-2.3l1.4 1.4l-6.6-5.6z"/>
<path class="seo" d="M690.1 347.0l6.6 1.9l1.4 0.7l-6.6-1.9z"/>
<path class="sjr" d="M628.5 357.4l6.6-1.5l1.4 4.3l-6.6-0.3z"/>
<path class="sjb" d="M892.2 367.0l6.6-1.4l1.4 7.5l-6.6 0.0z"/>
<path class="sha" d="M830.6 364.9l6.6 3.9l1.4-2.3l-6.6 5.0z"/>
<path class="sfv" d="M769.1 346.3l6.6-1.2l1.4 0.4l-6.6 3.3z"/>
<path class="sfz" d="M707.5 345.5l6.6 4.9l1.4-1.8l-6.6-0.4z"/>
<path class="sch" d="M645.9 358.8l6.6-2.0l1.4-1.6l-6.6 1.4z"/>
<path class="scz" d="M584.3 353.2l6.6 5.3l1.4-4.7l-6.6-1.9z"/>
<path class="sjo" d="M848.0 364.0l6.6 3.4l1.4 1.9l-6.6 1.2z"/>
<path class="sgo" d="M786.5 337.7l6.6 10.2l1.4 1.6l-6.6-8.3z"/>
<path class="seo" d="M724.9 338.9l6.6 14.0l1.4 2.6l-6.6-8.4z"/>
<path class="sgg" d="M663.3 353.0l6.6-2.6l1.4 0.7l-6.6-1.3z"/>
<path class="sdg" d="M601.7 357.7l6.6-2.5l1.4 4.6l-6.6-6.9z"/>
<path class="sja" d="M865.4 370.7l6.6 1.3l1.4-7.0l-6.6 0.5z"/>
<path class="sjn" d="M803.8 356.3l6.6 12.0l1.4 1.0l-6.6-5.9z"/>
<path class="scx" d="M742.3 348.6l6.6 3.8l1.4 0.2l-6.6 1.0z"/>
<path class="sdx" d="M680.7 351.5l6.6 1.2l1.4-0.4l-6.6-7.7z"/>
<path class="sbw" d="M619.1 359.4l6.6 2.0l1.4-6.1l-6.6 2.3z"/>
<path class="siu" d="M882.8 370.9l6.6-2.1l1.4 3.1l-6.6-8.9z"/>
<path class="six" d="M821.2 375.6l6.6-11.7l1.4 4.6l-6.6 0.3z"/>
<path class="sft" d="M759.7 354.7l6.6-2.3l1.4-3.8l-6.6 4.1z"/>
<path class="set" d="M698.1 349.7l6.6 2.0l1.4-4.3l-6.6 1.5z"/>
<path class="sbn" d="M636.5 360.2l6.6-0.5l1.4-2.6l-6.6 1.5z"/>
<path class="sjs" d="M838.6 366.6l6.6 6.1l1.4-5.3l-6.6 7.1z"/>
<path class="siz" d="M777.0 345.6l6.6 2.3l1.4-3.0l-6.6-4.5z"/>
<path class="sfe" d="M715.5 348.6l6.6-4.8l1.4 1.7l-6.6-2.9z"/>
<path class="scz" d="M653.9 355.1l6.6 2.1l1.4-5.8l-6.6 5.4z"/>
<path class="scq" d="M592.3 353.8l6.6 7.6l1.4-4.2l-6.6-4.9z"/>
<path class="sji" d="M856.0 369.3l6.6 7.8l1.4-4.4l-6.6-7.4z"/>
<path class="sck" d="M794.4 349.5l6.6 13.4l1.4-4.5l-6.6-16.0z"/>
<path class="sck" d="M732.9 355.5l6.6-4.8l1.4 4.7l-6.6-3.0z"/>
<path class="sff" d="M671.3 351.0l6.6-8.1l1.4 8.3l-6.6-4.4z"/>
<path class="sbw" d="M609.7 359.8l6.6 2.2l1.4-6.2l-6.6 1.4z"/>
<path class="shs" d="M873.4 365.0l6.6 2.2l1.4-1.1l-6.6-2.6z"/>
<path class="siw" d="M811.8 369.3l6.6 4.7l1.4-8.3l-6.6-1.6z"/>
<path class="sdk" d="M750.2 352.6l6.6-1.0l1.4 1.7l-6.6 2.3z"/>
<path class="sge" d="M688.7 352.4l6.6-0.3l1.4-3.1l-6.6-1.9z"/>
<path class="sch" d="M627.1 355.4l6.6 5.9l1.4-5.4l-6.6 1.5z"/>
<path class="shy" d="M890.8 371.9l6.6-5.7l1.4-0.7l-6.6 1.4z"/>
<path class="shg" d="M829.2 368.4l6.6-1.2l1.4 1.6l-6.6-3.9z"/>
<path class="sgy" d="M767.6 348.6l6.6-5.2l1.4 1.7l-6.6 1.2z"/>
<path class="sei" d="M706.1 347.4l6.6 6.7l1.4-3.7l-6.6-4.9z"/>
<path class="sbn" d="M644.5 357.1l6.6 7.3l1.4-7.7l-6.6 2.0z"/>
<path class="sdg" d="M582.9 359.1l6.6-1.7l1.4 1.0l-6.6-5.3z"/>
<path class="shy" d="M846.6 367.4l6.6 5.6l1.4-5.7l-6.6-3.4z"/>
<path class="siz" d="M785.0 344.9l6.6 4.9l1.4-1.9l-6.6-10.2z"/>
<path class="sff" d="M723.4 345.5l6.6 9.4l1.4-2.0l-6.6-14.0z"/>
<path class="scx" d="M661.9 351.4l6.6 3.7l1.4-4.7l-6.6 2.6z"/>
<path class="scd" d="M600.3 357.2l6.6-1.4l1.4-0.6l-6.6 2.5z"/>
<path class="sji" d="M864.0 372.8l6.6-1.4l1.4 0.6l-6.6-1.3z"/>
<path class="sbr" d="M802.4 358.5l6.6 10.4l1.4-0.5l-6.6-12.0z"/>
<path class="sck" d="M740.8 355.4l6.6 4.6l1.4-7.7l-6.6-3.8z"/>
<path class="sfp" d="M679.3 351.2l6.6 2.3l1.4-0.8l-6.6-1.2z"/>
<path class="sbn" d="M617.7 355.8l6.6 5.3l1.4 0.3l-6.6-2.0z"/>
<path class="siv" d="M881.4 366.2l6.6 6.1l1.4-3.4l-6.6 2.1z"/>
<path class="sha" d="M819.8 365.7l6.6 4.8l1.4-6.6l-6.6 11.7z"/>
<path class="sfw" d="M758.2 353.3l6.6-8.1l1.4 7.3l-6.6 2.3z"/>
<path class="sdx" d="M696.6 348.9l6.6 5.6l1.4-2.9l-6.6-2.0z"/>
<path class="sdo" d="M635.1 355.9l6.6 1.3l1.4 2.6l-6.6 0.5z"/>
<path class="siu" d="M837.2 368.9l6.6 1.0l1.4 2.8l-6.6-6.1z"/>
<path class="sgo" d="M775.6 345.2l6.6-4.3l1.4 7.1l-6.6-2.3z"/>
<path class="sgh" d="M714.0 350.4l6.6-3.3l1.4-3.3l-6.6 4.8z"/>
<path class="seb" d="M652.5 356.8l6.6-6.8l1.4 7.2l-6.6-2.1z"/>
<path class="sbw" d="M590.9 358.5l6.6 4.7l1.4-1.8l-6.6-7.6z"/>
<path class="sjt" d="M854.6 367.4l6.6 5.5l1.4 4.3l-6.6-7.8z"/>
<path class="sck" d="M793.0 347.9l6.6 9.3l1.4 5.7l-6.6-13.4z"/>
<path class="sck" d="M731.4 352.9l6.6 5.0l1.4-7.2l-6.6 4.8z"/>
<path class="sfy" d="M669.8 350.3l6.6 3.1l1.4-10.5l-6.6 8.1z"/>
<path class="sdd" d="M608.3 355.2l6.6 3.7l1.4 3.1l-6.6-2.2z"/>
<path class="shy" d="M872.0 372.0l6.6-3.1l1.4-1.7l-6.6-2.2z"/>
<path class="sjb" d="M810.4 368.3l6.6 3.4l1.4 2.3l-6.6-4.7z"/>
<path class="sft" d="M748.8 352.4l6.6 3.9l1.4-4.7l-6.6 1.0z"/>
<path class="sdc" d="M687.2 352.7l6.6-4.2l1.4 3.5l-6.6 0.3z"/>
<path class="sca" d="M625.7 361.4l6.6 1.7l1.4-1.9l-6.6-5.9z"/>
<path class="sha" d="M889.4 368.9l6.6 1.1l1.4-3.7l-6.6 5.7z"/>
<path class="shv" d="M827.8 363.8l6.6 1.4l1.4 2.0l-6.6 1.2z"/>
<path class="sgh" d="M766.2 352.5l6.6-5.4l1.4-3.6l-6.6 5.2z"/>
<path class="sfw" d="M704.6 351.7l6.6 2.9l1.4-0.4l-6.6-6.7z"/>
<path class="sbn" d="M643.0 359.7l6.6-0.7l1.4 5.4l-6.6-7.3z"/>
<path class="sdg" d="M581.5 357.2l6.6 0.5l1.4-0.3l-6.6 1.7z"/>
<path class="sjs" d="M845.2 372.7l6.6 0.1l1.4 0.2l-6.6-5.6z"/>
<path class="sie" d="M783.6 347.9l6.6-1.6l1.4 3.5l-6.6-4.9z"/>
<path class="set" d="M722.0 343.8l6.6 14.0l1.4-3.0l-6.6-9.4z"/>
<path class="sfw" d="M660.4 357.2l6.6-11.6l1.4 9.4l-6.6-3.7z"/>
<path class="sch" d="M598.9 361.4l6.6-1.7l1.4-4.0l-6.6 1.4z"/>
<path class="sjq" d="M862.6 377.1l6.6-5.2l1.4-0.6l-6.6 1.4z"/>
<path class="sip" d="M801.0 362.9l6.6 4.8l1.4 1.1l-6.6-10.4z"/>
<path class="ser" d="M739.4 350.7l6.6 10.5l1.4-1.2l-6.6-4.6z"/>
<path class="sfz" d="M677.8 342.9l6.6 9.4l1.4 1.2l-6.6-2.3z"/>
<path class="sch" d="M616.2 361.9l6.6-6.4l1.4 5.5l-6.6-5.3z"/>
<path class="siu" d="M880.0 367.2l6.6 7.0l1.4-2.0l-6.6-6.1z"/>
<path class="sgl" d="M818.4 374.0l6.6-0.2l1.4-3.4l-6.6-4.8z"/>
<path class="sfy" d="M756.8 351.6l6.6-2.8l1.4-3.7l-6.6 8.1z"/>
<path class="sfw" d="M695.2 352.0l6.6 0.8l1.4 1.7l-6.6-5.6z"/>
<path class="sdg" d="M633.6 361.3l6.6-2.9l1.4-1.2l-6.6-1.3z"/>
<path class="sja" d="M835.8 367.3l6.6 6.8l1.4-4.2l-6.6-1.0z"/>
<path class="sgv" d="M774.2 343.5l6.6 4.5l1.4-7.1l-6.6 4.3z"/>
<path class="sff" d="M712.6 354.1l6.6-8.4l1.4 1.4l-6.6 3.3z"/>
<path class="scz" d="M651.0 364.4l6.6-10.7l1.4-3.7l-6.6 6.8z"/>
<path class="sdg" d="M589.4 357.4l6.6-2.7l1.4 8.5l-6.6-4.7z"/>
<path class="six" d="M853.2 373.1l6.6-3.0l1.4 2.7l-6.6-5.5z"/>
<path class="sdk" d="M791.6 349.8l6.6 12.8l1.4-5.4l-6.6-9.3z"/>
<path class="scm" d="M730.0 354.9l6.6 0.7l1.4 2.3l-6.6-5.0z"/>
<path class="sgg" d="M668.4 355.1l6.6-2.4l1.4 0.8l-6.6-3.1z"/>
<path class="sch" d="M606.8 355.7l6.6 10.6l1.4-7.5l-6.6-3.7z"/>
<path class="sgl" d="M870.6 371.4l6.6 1.0l1.4-3.5l-6.6 3.1z"/>
<path class="shy" d="M809.0 368.9l6.6-1.5l1.4 4.4l-6.6-3.4z"/>
<path class="sck" d="M747.4 360.1l6.6-8.3l1.4 4.5l-6.6-3.9z"/>
<path class="sdc" d="M685.8 353.5l6.6-0.6l1.4-4.4l-6.6 4.2z"/>
<path class="she" d="M624.2 361.1l6.6 2.8l1.4-0.8l-6.6-1.7z"/>
<path class="siw" d="M888.0 372.3l6.6-4.6l1.4 2.3l-6.6-1.1z"/>
<path class="shv" d="M826.4 370.5l6.6-2.2l1.4-3.0l-6.6-1.4z"/>
<path class="sfe" d="M764.8 345.2l6.6-0.9l1.4 2.7l-6.6 5.4z"/>
<path class="sdx" d="M703.2 354.5l6.6-6.2l1.4 6.2l-6.6-2.9z"/>
<path class="sdd" d="M641.6 357.1l6.6 6.7l1.4-4.8l-6.6 0.7z"/>
<path class="scd" d="M580.0 357.8l6.6-0.5l1.4 0.4l-6.6-0.5z"/>
<path class="siu" d="M843.8 369.9l6.6-3.2l1.4 6.2l-6.6-0.1z"/>
<path class="shc" d="M782.2 340.8l6.6 5.2l1.4 0.3l-6.6 1.6z"/>
<path class="sge" d="M720.6 347.1l6.6 11.7l1.4-1.0l-6.6-14.0z"/>
<path class="set" d="M659.0 350.0l6.6 2.6l1.4-7.0l-6.6 11.6z"/>
<path class="sgz" d="M597.4 363.2l6.6 1.1l1.4-4.6l-6.6 1.7z"/>
<path class="sju" d="M861.2 372.8l6.6 3.7l1.4-4.6l-6.6 5.2z"/>
<path class="sjv" d="M799.6 357.2l6.6 10.7l1.4-0.2l-6.6-4.8z"/>
<path class="sdk" d="M738.0 357.9l6.6-7.9l1.4 11.2l-6.6-10.5z"/>
<path class="sfy" d="M676.4 353.4l6.6-0.2l1.4-0.9l-6.6-9.4z"/>
<path class="sde" d="M614.8 358.8l6.6 12.1l1.4-15.4l-6.6 6.4z"/>
<path class="sha" d="M878.6 368.9l6.6 2.2l1.4 3.2l-6.6-7.0z"/>
<path class="sgs" d="M817.0 371.7l6.6 2.6l1.4-0.6l-6.6 0.2z"/>
<path class="sge" d="M755.4 356.3l6.6-5.1l1.4-2.3l-6.6 2.8z"/>
<path class="sge" d="M693.8 348.6l6.6 5.8l1.4-1.5l-6.6-0.8z"/>
<path class="sbw" d="M632.2 363.2l6.6-2.7l1.4-2.1l-6.6 2.9z"/>
<path class="shl" d="M834.4 365.3l6.6 3.4l1.4 5.4l-6.6-6.8z"/>
<path class="sgo" d="M772.8 347.0l6.6 0.1l1.4 0.9l-6.6-4.5z"/>
<path class="sfy" d="M711.2 354.6l6.6-7.2l1.4-1.6l-6.6 8.4z"/>
<path class="sdo" d="M649.6 359.0l6.6 3.3l1.4-8.6l-6.6 10.7z"/>
<path class="sfh" d="M588.0 357.7l6.6 2.3l1.4-5.3l-6.6 2.7z"/>
<path class="sjw" d="M851.8 372.9l6.6-1.0l1.4-1.7l-6.6 3.0z"/>
<path class="sgg" d="M790.2 346.3l6.6 8.9l1.4 7.5l-6.6-12.8z"/>
<path class="scz" d="M728.6 357.8l6.6 2.2l1.4-4.5l-6.6-0.7z"/>
<path class="sdc" d="M667.0 345.6l6.6 12.1l1.4-5.2l-6.6 2.4z"/>
<path class="sbw" d="M605.4 359.7l6.6 2.0l1.4 4.6l-6.6-10.6z"/>
<path class="sgl" d="M869.2 372.0l6.6-0.3l1.4 0.7l-6.6-1.0z"/>
<path class="sjx" d="M807.6 367.7l6.6 3.7l1.4-4.1l-6.6 1.5z"/>
<path class="scc" d="M746.0 361.2l6.6-7.5l1.4-1.9l-6.6 8.3z"/>
<path class="sdc" d="M684.4 352.3l6.6 0.2l1.4 0.4l-6.6 0.6z"/>
<path class="shj" d="M622.8 355.6l6.6 10.1l1.4-1.7l-6.6-2.8z"/>
<path class="shy" d="M886.6 374.3l6.6-8.9l1.4 2.3l-6.6 4.6z"/>
<path class="six" d="M825.0 373.8l6.6 0.3l1.4-5.8l-6.6 2.2z"/>
<path class="sfi" d="M763.4 348.8l6.6 2.9l1.4-7.5l-6.6 0.9z"/>
<path class="set" d="M701.8 352.8l6.6-0.8l1.4-3.7l-6.6 6.2z"/>
<path class="sch" d="M640.2 358.4l6.6 0.6l1.4 4.9l-6.6-6.7z"/>
<path class="sfh" d="M578.6 356.9l6.6 2.4l1.4-2.0l-6.6 0.5z"/>
<path class="shg" d="M842.4 374.1l6.6-5.5l1.4-1.9l-6.6 3.2z"/>
<path class="shc" d="M780.8 347.9l6.6 1.2l1.4-3.2l-6.6-5.2z"/>
<path class="sge" d="M719.2 345.7l6.6 13.0l1.4 0.0l-6.6-11.7z"/>
<path class="sdx" d="M657.6 353.7l6.6 2.4l1.4-3.5l-6.6-2.6z"/>
<path class="sjr" d="M596.0 354.7l6.6 8.9l1.4 0.7l-6.6-1.1z"/>
<path class="siy" d="M859.8 370.1l6.6 4.0l1.4 2.4l-6.6-3.7z"/>
<path class="sby" d="M798.2 362.7l6.6 7.4l1.4-2.1l-6.6-10.7z"/>
<path class="sft" d="M736.6 355.6l6.6 0.9l1.4-6.5l-6.6 7.9z"/>
<path class="sft" d="M675.0 352.6l6.6 8.4l1.4-7.8l-6.6 0.2z"/>
<path class="sbr" d="M613.4 366.4l6.6-1.4l1.4 6.0l-6.6-12.1z"/>
<path class="siu" d="M877.2 372.4l6.6 0.8l1.4-2.1l-6.6-2.2z"/>
<path class="shy" d="M815.6 367.4l6.6 1.4l1.4 5.6l-6.6-2.6z"/>
<path class="set" d="M754.0 351.8l6.6-2.0l1.4 1.3l-6.6 5.1z"/>
<path class="sfw" d="M692.4 352.9l6.6 6.0l1.4-4.6l-6.6-5.8z"/>
<path class="sce" d="M630.8 364.0l6.6 4.7l1.4-8.2l-6.6 2.7z"/>
<path class="sbi" d="M833.0 368.2l6.6 3.9l1.4-3.5l-6.6-3.4z"/>
<path class="sgv" d="M771.4 344.3l6.6 0.9l1.4 1.9l-6.6-0.1z"/>
<path class="sff" d="M709.8 348.3l6.6 4.1l1.4-5.0l-6.6 7.2z"/>
<path class="sbw" d="M648.2 363.8l6.6-3.6l1.4 2.0l-6.6-3.3z"/>
<path class="sdg" d="M586.6 357.3l6.6 6.8l1.4-4.1l-6.6-2.3z"/>
<path class="six" d="M850.4 366.7l6.6 11.4l1.4-6.3l-6.6 1.0z"/>
<path class="sge" d="M788.8 346.0l6.6 19.0l1.4-9.9l-6.6-8.9z"/>
<path class="sdg" d="M727.2 358.8l6.6 3.7l1.4-2.4l-6.6-2.2z"/>
<path class="set" d="M665.6 352.6l6.6 1.8l1.4 3.4l-6.6-12.1z"/>
<path class="sbn" d="M604.0 364.3l6.6-1.6l1.4-1.0l-6.6-2.0z"/>
<path class="sjs" d="M867.8 376.6l6.6-2.6l1.4-2.3l-6.6 0.3z"/>
<path class="shg" d="M806.2 368.0l6.6 5.1l1.4-1.6l-6.6-3.7z"/>
<path class="sdk" d="M744.6 350.0l6.6 9.0l1.4-5.4l-6.6 7.5z"/>
<path class="sge" d="M683.0 353.2l6.6 0.7l1.4-1.4l-6.6-0.2z"/>
<path class="sdb" d="M621.4 370.9l6.6-9.9l1.4 4.6l-6.6-10.1z"/>
<path class="shl" d="M885.1 371.1l6.6-1.8l1.4-4.0l-6.6 8.9z"/>
<path class="sjb" d="M823.6 374.4l6.6-4.0l1.4 3.7l-6.6-0.3z"/>
<path class="sgh" d="M762.0 351.1l6.6-3.4l1.4 4.0l-6.6-2.9z"/>
<path class="set" d="M700.4 354.3l6.6-2.3l1.4-0.1l-6.6 0.8z"/>
<path class="scu" d="M638.8 360.4l6.6 0.2l1.4-1.7l-6.6-0.6z"/>
<path class="sdg" d="M577.2 361.2l6.6 1.6l1.4-3.5l-6.6-2.4z"/>
<path class="sjg" d="M841.0 368.7l6.6 2.4l1.4-2.4l-6.6 5.5z"/>
<path class="sfi" d="M779.4 347.1l6.6 2.2l1.4-0.1l-6.6-1.2z"/>
<path class="sge" d="M717.8 347.4l6.6 13.4l1.4-2.0l-6.6-13.0z"/>
<path class="sck" d="M656.2 362.3l6.6-7.0l1.4 0.9l-6.6-2.4z"/>
<path class="scu" d="M594.6 360.0l6.6 0.5l1.4 3.1l-6.6-8.9z"/>
<path class="siw" d="M858.3 371.8l6.6-3.1l1.4 5.4l-6.6-4.0z"/>
<path class="sjy" d="M796.8 355.2l6.6 16.9l1.4-2.1l-6.6-7.4z"/>
<path class="scz" d="M735.2 360.1l6.6 0.9l1.4-4.5l-6.6-0.9z"/>
<path class="scc" d="M673.6 357.8l6.6 2.7l1.4 0.5l-6.6-8.4z"/>
<path class="sgz" d="M612.0 361.7l6.6 0.3l1.4 2.9l-6.6 1.4z"/>
<path class="sjw" d="M875.7 371.7l6.6 4.2l1.4-2.6l-6.6-0.8z"/>
<path class="six" d="M814.2 371.5l6.6 12.3l1.4-15.1l-6.6-1.4z"/>
<path class="sfz" d="M752.6 353.7l6.6-0.3l1.4-3.6l-6.6 2.0z"/>
<path class="sgg" d="M691.0 352.5l6.6 3.3l1.4 3.1l-6.6-6.0z"/>
<path class="sjh" d="M629.4 365.7l6.6-1.1l1.4 4.1l-6.6-4.7z"/>
<path class="siw" d="M831.5 374.1l6.6-2.3l1.4 0.4l-6.6-3.9z"/>
<path class="shm" d="M770.0 351.8l6.6-5.2l1.4-1.3l-6.6-0.9z"/>
<path class="sgy" d="M708.4 352.0l6.6-6.9l1.4 7.3l-6.6-4.1z"/>
<path class="sdo" d="M646.8 359.0l6.6 2.9l1.4-1.6l-6.6 3.6z"/>
<path class="sch" d="M585.2 359.3l6.6 4.6l1.4 0.2l-6.6-6.8z"/>
<path class="sjo" d="M848.9 368.6l6.6 5.2l1.4 4.2l-6.6-11.4z"/>
<path class="sft" d="M787.4 349.2l6.6 15.2l1.4 0.7l-6.6-19.0z"/>
<path class="scd" d="M725.8 358.7l6.6 0.2l1.4 3.5l-6.6-3.7z"/>
<path class="set" d="M664.2 356.1l6.6-5.6l1.4 3.9l-6.6-1.8z"/>
<path class="sgz" d="M602.6 363.6l6.6 2.3l1.4-3.2l-6.6 1.6z"/>
<path class="sji" d="M866.3 374.1l6.6 0.7l1.4-0.9l-6.6 2.6z"/>
<path class="shg" d="M804.7 370.0l6.6 2.4l1.4 0.6l-6.6-5.1z"/>
<path class="sgg" d="M743.2 356.5l6.6-1.1l1.4 3.6l-6.6-9.0z"/>
<path class="seb" d="M681.6 361.0l6.6 2.1l1.4-9.2l-6.6-0.7z"/>
<path class="sce" d="M620.0 364.9l6.6-1.1l1.4-2.7l-6.6 9.9z"/>
<path class="six" d="M883.7 373.2l6.6 6.1l1.4-10.1l-6.6 1.8z"/>
<path class="sha" d="M822.1 368.8l6.6 6.6l1.4-4.9l-6.6 4.0z"/>
<path class="sgy" d="M760.6 349.8l6.6-0.5l1.4-1.5l-6.6 3.4z"/>
<path class="sfw" d="M699.0 358.9l6.6-4.4l1.4-2.5l-6.6 2.3z"/>
<path class="sdd" d="M637.4 368.6l6.6-8.9l1.4 1.0l-6.6-0.2z"/>
<path class="sch" d="M575.8 355.8l6.6 9.6l1.4-2.7l-6.6-1.6z"/>
<path class="siw" d="M839.5 372.2l6.6 3.8l1.4-4.9l-6.6-2.4z"/>
<path class="shm" d="M777.9 345.2l6.6 2.1l1.4 1.9l-6.6-2.2z"/>
<path class="sdx" d="M716.4 352.4l6.6 6.0l1.4 2.3l-6.6-13.4z"/>
<path class="scz" d="M654.8 360.3l6.6-2.5l1.4-2.5l-6.6 7.0z"/>
<path class="sbx" d="M593.2 364.1l6.6-0.8l1.4-2.8l-6.6-0.5z"/>
<path class="siv" d="M856.9 378.1l6.6-4.5l1.4-4.9l-6.6 3.1z"/>
<path class="sjh" d="M795.3 365.0l6.6 8.0l1.4-0.9l-6.6-16.9z"/>
<path class="sch" d="M733.8 362.5l6.6-0.6l1.4-0.8l-6.6-0.9z"/>
<path class="seb" d="M672.2 354.4l6.6 5.9l1.4 0.2l-6.6-2.7z"/>
<path class="shj" d="M610.6 362.7l6.6 4.6l1.4-5.3l-6.6-0.3z"/>
<path class="six" d="M874.3 373.9l6.6-0.9l1.4 2.8l-6.6-4.2z"/>
<path class="sji" d="M812.7 373.0l6.6-0.2l1.4 11.0l-6.6-12.3z"/>
<path class="sfw" d="M751.1 359.0l6.6-4.7l1.4-1.0l-6.6 0.3z"/>
<path class="sge" d="M689.6 353.9l6.6 1.7l1.4 0.2l-6.6-3.3z"/>
<path class="sdo" d="M628.0 361.1l6.6-5.0l1.4 8.5l-6.6 1.1z"/>
<path class="siu" d="M830.1 370.4l6.6 6.0l1.4-4.6l-6.6 2.3z"/>
<path class="siz" d="M768.5 347.8l6.6 2.3l1.4-3.5l-6.6 5.2z"/>
<path class="sfe" d="M707.0 352.1l6.6-2.3l1.4-4.6l-6.6 6.9z"/>
<path class="sbx" d="M645.4 360.7l6.6 6.9l1.4-5.7l-6.6-2.9z"/>
<path class="sch" d="M583.8 362.8l6.6-1.6l1.4 2.7l-6.6-4.6z"/>
<path class="shy" d="M847.5 371.1l6.6 3.3l1.4-0.5l-6.6-5.2z"/>
<path class="sgg" d="M785.9 349.2l6.6 11.8l1.4 3.3l-6.6-15.2z"/>
<path class="scz" d="M724.3 360.7l6.6-1.9l1.4 0.1l-6.6-0.2z"/>
<path class="sdc" d="M662.8 355.3l6.6 2.7l1.4-7.5l-6.6 5.6z"/>
<path class="shb" d="M601.2 360.5l6.6 11.1l1.4-5.8l-6.6-2.3z"/>
<path class="shy" d="M864.9 368.7l6.6 1.8l1.4 4.3l-6.6-0.7z"/>
<path class="shl" d="M803.3 372.1l6.6-1.8l1.4 2.1l-6.6-2.4z"/>
<path class="sgg" d="M741.7 361.0l6.6-9.9l1.4 4.3l-6.6 1.1z"/>
<path class="scu" d="M680.2 360.5l6.6-0.6l1.4 3.3l-6.6-2.1z"/>
<path class="sbw" d="M618.6 362.0l6.6-0.4l1.4 2.2l-6.6 1.1z"/>
<path class="sjw" d="M882.3 375.9l6.6-7.0l1.4 10.5l-6.6-6.1z"/>
<path class="sjs" d="M820.7 383.8l6.6-10.8l1.4 2.3l-6.6-6.6z"/>
<path class="seu" d="M759.1 353.4l6.6-1.3l1.4-2.9l-6.6 0.5z"/>
<path class="sdc" d="M697.5 355.8l6.6-4.4l1.4 3.1l-6.6 4.4z"/>
<path class="sbw" d="M636.0 364.6l6.6-4.5l1.4-0.4l-6.6 8.9z"/>
<path class="scd" d="M574.4 357.0l6.6 6.6l1.4 1.9l-6.6-9.6z"/>
<path class="sgl" d="M838.1 371.8l6.6 5.6l1.4-1.4l-6.6-3.8z"/>
<path class="shc" d="M776.5 346.5l6.6 7.3l1.4-6.5l-6.6-2.1z"/>
<path class="sfy" d="M714.9 345.1l6.6 12.5l1.4 0.8l-6.6-6.0z"/>
<path class="scc" d="M653.4 361.9l6.6-4.4l1.4 0.3l-6.6 2.5z"/>
<path class="sbn" d="M591.8 363.9l6.6 0.4l1.4-0.9l-6.6 0.8z"/>
<path class="siu" d="M855.5 373.9l6.6-5.3l1.4 5.0l-6.6 4.5z"/>
<path class="shv" d="M793.9 364.4l6.6 12.5l1.4-3.8l-6.6-8.0z"/>
<path class="sfh" d="M732.3 359.0l6.6-1.1l1.4 3.9l-6.6 0.6z"/>
<path class="sgg" d="M670.7 350.5l6.6 8.9l1.4 0.9l-6.6-5.9z"/>
<path class="sde" d="M609.2 365.9l6.6-2.9l1.4 4.3l-6.6-4.6z"/>
<path class="sjb" d="M872.9 374.8l6.6 4.0l1.4-5.8l-6.6 0.9z"/>
<path class="siv" d="M811.3 372.5l6.6 5.3l1.4-4.9l-6.6 0.2z"/>
<path class="scx" d="M749.7 355.4l6.6 3.3l1.4-4.4l-6.6 4.7z"/>
<path class="sdk" d="M688.1 363.1l6.6-3.2l1.4-4.3l-6.6-1.7z"/>
<path class="sfx" d="M626.6 363.8l6.6 1.9l1.4-9.6l-6.6 5.0z"/>
<path class="sgl" d="M828.7 375.4l6.6 1.2l1.4-0.1l-6.6-6.0z"/>
<path class="sgo" d="M767.1 349.3l6.6 1.1l1.4-0.3l-6.6-2.3z"/>
<path class="sff" d="M705.5 354.5l6.6 0.5l1.4-5.3l-6.6 2.3z"/>
<path class="sbw" d="M643.9 359.7l6.6 7.1l1.4 0.7l-6.6-6.9z"/>
<path class="scq" d="M582.4 365.5l6.6-8.9l1.4 4.6l-6.6 1.6z"/>
<path class="sgl" d="M846.1 376.0l6.6 1.8l1.4-3.4l-6.6-3.3z"/>
<path class="sge" d="M784.5 347.3l6.6 16.6l1.4-2.8l-6.6-11.8z"/>
<path class="scz" d="M722.9 358.4l6.6 3.7l1.4-3.3l-6.6 1.9z"/>
<path class="sft" d="M661.3 357.8l6.6 1.4l1.4-1.2l-6.6-2.7z"/>
<path class="sce" d="M599.8 363.3l6.6 6.8l1.4 1.6l-6.6-11.1z"/>
<path class="sbi" d="M863.5 373.6l6.6-1.7l1.4-1.4l-6.6-1.8z"/>
<path class="six" d="M801.9 373.1l6.6 9.1l1.4-11.9l-6.6 1.8z"/>
<path class="sdk" d="M740.3 361.8l6.6-3.4l1.4-7.3l-6.6 9.9z"/>
<path class="scu" d="M678.7 360.3l6.6 6.1l1.4-6.5l-6.6 0.6z"/>
<path class="sdo" d="M617.1 367.3l6.6-6.4l1.4 0.6l-6.6 0.4z"/>
<path class="siu" d="M880.9 373.0l6.6 5.4l1.4-9.5l-6.6 7.0z"/>
<path class="siy" d="M819.3 372.8l6.6 1.7l1.4-1.5l-6.6 10.8z"/>
<path class="sfv" d="M757.7 354.4l6.6-3.7l1.4 1.4l-6.6 1.3z"/>
<path class="sei" d="M696.1 355.7l6.6-0.4l1.4-3.8l-6.6 4.4z"/>
<path class="scz" d="M634.5 356.1l6.6 5.3l1.4-1.2l-6.6 4.5z"/>
<path class="sch" d="M573.0 362.4l6.6 5.4l1.4-4.2l-6.6-6.6z"/>
<path class="sjw" d="M836.7 376.4l6.6-0.8l1.4 1.8l-6.6-5.6z"/>
<path class="sfi" d="M775.1 350.1l6.6 1.0l1.4 2.7l-6.6-7.3z"/>
<path class="sfm" d="M713.5 349.7l6.6 10.0l1.4-2.1l-6.6-12.5z"/>
<path class="scu" d="M651.9 367.5l6.6-6.6l1.4-3.5l-6.6 4.4z"/>
<path class="sbw" d="M590.3 361.1l6.6 7.0l1.4-3.9l-6.6-0.4z"/>
<path class="sha" d="M854.1 374.4l6.6 4.0l1.4-9.8l-6.6 5.3z"/>
<path class="sjn" d="M792.5 361.1l6.6 17.6l1.4-1.8l-6.6-12.5z"/>
<path class="sdk" d="M730.9 358.9l6.6 0.1l1.4-1.1l-6.6 1.1z"/>
<path class="sfw" d="M669.3 358.0l6.6 0.9l1.4 0.5l-6.6-8.9z"/>
<path class="sgz" d="M607.7 371.7l6.6-7.2l1.4-1.4l-6.6 2.9z"/>
<path class="sgl" d="M871.5 370.5l6.6 6.6l1.4 1.8l-6.6-4.0z"/>
<path class="six" d="M809.9 370.3l6.6 8.5l1.4-1.1l-6.6-5.3z"/>
<path class="sfy" d="M748.3 351.1l6.6 0.7l1.4 7.0l-6.6-3.3z"/>
<path class="scc" d="M686.7 359.8l6.6-2.0l1.4 2.1l-6.6 3.2z"/>
<path class="sdd" d="M625.1 361.6l6.6 2.3l1.4 1.8l-6.6-1.9z"/>
<path class="sgl" d="M827.3 373.0l6.6 4.0l1.4-0.5l-6.6-1.2z"/>
<path class="sgy" d="M765.7 352.1l6.6 1.7l1.4-3.4l-6.6-1.1z"/>
<path class="sfz" d="M704.1 351.4l6.6 5.8l1.4-2.2l-6.6-0.5z"/>
<path class="sch" d="M642.5 360.1l6.6 5.6l1.4 1.1l-6.6-7.1z"/>
<path class="scu" d="M580.9 363.6l6.6 0.2l1.4-7.2l-6.6 8.9z"/>
<path class="sjd" d="M844.7 377.4l6.6 2.1l1.4-1.7l-6.6-1.8z"/>
<path class="sfw" d="M783.1 353.8l6.6 8.1l1.4 2.0l-6.6-16.6z"/>
<path class="sfh" d="M721.5 357.6l6.6 8.9l1.4-4.3l-6.6-3.7z"/>
<path class="sdk" d="M659.9 357.4l6.6 3.4l1.4-1.6l-6.6-1.4z"/>
<path class="sgz" d="M598.3 364.3l6.6 4.5l1.4 1.3l-6.6-6.8z"/>
<path class="sjz" d="M862.1 368.6l6.6 4.1l1.4-0.8l-6.6 1.7z"/>
<path class="sjd" d="M800.5 376.9l6.6 2.3l1.4 3.1l-6.6-9.1z"/>
<path class="sdk" d="M738.9 357.9l6.6 0.8l1.4-0.3l-6.6 3.4z"/>
<path class="scd" d="M677.3 359.4l6.6 1.9l1.4 5.0l-6.6-6.1z"/>
<path class="sdo" d="M615.7 363.0l6.6 0.4l1.4-2.5l-6.6 6.4z"/>
<path class="sjq" d="M879.5 378.9l6.6 3.3l1.4-3.7l-6.6-5.4z"/>
<path class="sgl" d="M817.9 377.7l6.6-0.0l1.4-3.2l-6.6-1.7z"/>
<path class="seh" d="M756.3 358.8l6.6-5.4l1.4-2.7l-6.6 3.7z"/>
<path class="sfp" d="M694.7 360.0l6.6 1.2l1.4-5.9l-6.6 0.4z"/>
<path class="scz" d="M633.1 365.7l6.6-3.2l1.4-1.2l-6.6-5.3z"/>
<path class="sgz" d="M571.5 369.5l6.6-2.1l1.4 0.3l-6.6-5.4z"/>
<path class="sjw" d="M835.3 376.5l6.6-0.8l1.4-0.1l-6.6 0.8z"/>
<path class="sfa" d="M773.7 350.4l6.6 1.3l1.4-0.6l-6.6-1.0z"/>
<path class="sfw" d="M712.1 355.0l6.6 9.6l1.4-4.9l-6.6-10.0z"/>
<path class="sbx" d="M650.5 366.8l6.6-5.3l1.4-0.6l-6.6 6.6z"/>
<path class="sch" d="M588.9 356.6l6.6 11.6l1.4 0.0l-6.6-7.0z"/>
<path class="seq" d="M852.7 377.8l6.6 6.4l1.4-5.8l-6.6-4.0z"/>
<path class="ska" d="M791.1 363.9l6.6 13.1l1.4 1.7l-6.6-17.6z"/>
<path class="sdk" d="M729.5 362.2l6.6-5.2l1.4 2.0l-6.6-0.1z"/>
<path class="seb" d="M667.9 359.2l6.6 6.6l1.4-6.9l-6.6-0.9z"/>
<path class="sjv" d="M606.3 370.1l6.6-2.9l1.4-2.7l-6.6 7.2z"/>
<path class="siv" d="M870.1 371.9l6.6 10.3l1.4-5.2l-6.6-6.6z"/>
<path class="sjb" d="M808.5 382.2l6.6-6.8l1.4 3.4l-6.6-8.5z"/>
<path class="seh" d="M746.9 358.4l6.6-2.0l1.4-4.6l-6.6-0.7z"/>
<path class="sfh" d="M685.3 366.4l6.6-3.3l1.4-5.3l-6.6 2.0z"/>
<path class="scd" d="M623.7 360.9l6.6 1.4l1.4 1.5l-6.6-2.3z"/>
<path class="sjo" d="M825.9 374.5l6.6-0.3l1.4 2.8l-6.6-4.0z"/>
<path class="sfv" d="M764.3 350.7l6.6 7.4l1.4-4.3l-6.6-1.7z"/>
<path class="sfm" d="M702.7 355.3l6.6-3.1l1.4 5.0l-6.6-5.8z"/>
<path class="scd" d="M641.1 361.3l6.6 0.8l1.4 3.6l-6.6-5.6z"/>
<path class="sby" d="M579.5 367.8l6.6 10.5l1.4-14.5l-6.6-0.2z"/>
<path class="sgs" d="M843.3 375.6l6.6 4.3l1.4-0.4l-6.6-2.1z"/>
<path class="sfw" d="M781.7 351.1l6.6 11.7l1.4-0.9l-6.6-8.1z"/>
<path class="seb" d="M720.1 359.7l6.6-1.0l1.4 7.8l-6.6-8.9z"/>
<path class="seb" d="M658.5 360.9l6.6 2.6l1.4-2.7l-6.6-3.4z"/>
<path class="sde" d="M596.9 368.2l6.6-3.2l1.4 3.8l-6.6-4.5z"/>
<path class="shy" d="M860.7 378.4l6.6-0.9l1.4-4.8l-6.6-4.1z"/>
<path class="sjd" d="M799.1 378.7l6.6 1.3l1.4-0.9l-6.6-2.3z"/>
<path class="scx" d="M737.5 359.0l6.6 1.0l1.4-1.2l-6.6-0.8z"/>
<path class="sdk" d="M675.9 358.9l6.6 1.5l1.4 1.0l-6.6-1.9z"/>
<path class="sdd" d="M614.3 364.5l6.6 5.0l1.4-6.0l-6.6-0.4z"/>
<path class="seq" d="M878.1 377.1l6.6 2.3l1.4 2.8l-6.6-3.3z"/>
<path class="sjd" d="M816.5 378.8l6.6 1.4l1.4-2.5l-6.6 0.0z"/>
<path class="sei" d="M754.9 351.8l6.6 7.6l1.4-6.0l-6.6 5.4z"/>
<path class="scx" d="M693.3 357.8l6.6-0.9l1.4 4.3l-6.6-1.2z"/>
<path class="sch" d="M631.7 363.9l6.6 1.6l1.4-3.0l-6.6 3.2z"/>
<path class="sjh" d="M570.1 361.1l6.6 17.6l1.4-11.2l-6.6 2.1z"/>
<path class="sjb" d="M833.9 377.0l6.6 1.3l1.4-2.6l-6.6 0.8z"/>
<path class="sgh" d="M772.3 353.8l6.6 5.0l1.4-7.1l-6.6-1.3z"/>
<path class="sgc" d="M710.7 357.2l6.6 4.5l1.4 2.8l-6.6-9.6z"/>
<path class="sdd" d="M649.1 365.7l6.6 0.9l1.4-5.1l-6.6 5.3z"/>
<path class="sch" d="M587.5 363.8l6.6 4.9l1.4-0.5l-6.6-11.6z"/>
<path class="seq" d="M851.3 379.5l6.6-2.7l1.4 7.4l-6.6-6.4z"/>
<path class="skb" d="M789.7 361.9l6.6 15.9l1.4-0.9l-6.6-13.1z"/>
<path class="scz" d="M728.1 366.5l6.6-3.9l1.4-5.6l-6.6 5.2z"/>
<path class="scz" d="M666.5 360.8l6.6 1.3l1.4 3.7l-6.6-6.6z"/>
<path class="sjy" d="M604.9 368.8l6.6 0.3l1.4-1.9l-6.6 2.9z"/>
<path class="sjo" d="M868.7 372.7l6.6 1.9l1.4 7.6l-6.6-10.3z"/>
<path class="sji" d="M807.1 379.1l6.6-2.8l1.4-1.0l-6.6 6.8z"/>
<path class="set" d="M745.5 358.7l6.6-5.6l1.4 3.3l-6.6 2.0z"/>
<path class="ser" d="M683.9 361.3l6.6-1.1l1.4 2.8l-6.6 3.3z"/>
<path class="scu" d="M622.3 363.4l6.6 4.4l1.4-5.5l-6.6-1.4z"/>
<path class="six" d="M824.5 377.7l6.6 2.7l1.4-6.2l-6.6 0.3z"/>
<path class="seu" d="M762.9 353.4l6.6-1.5l1.4 6.3l-6.6-7.4z"/>
<path class="sfy" d="M701.3 361.2l6.6-6.4l1.4-2.7l-6.6 3.1z"/>
<path class="scz" d="M639.7 362.5l6.6 0.7l1.4-1.0l-6.6-0.8z"/>
<path class="sjd" d="M578.1 367.5l6.6 35.1l1.4-24.2l-6.6-10.5z"/>
<path class="sha" d="M841.9 375.7l6.6-4.0l1.4 8.2l-6.6-4.3z"/>
<path class="scx" d="M780.3 351.7l6.6 19.8l1.4-8.7l-6.6-11.7z"/>
<path class="sfh" d="M718.7 364.6l6.6 3.4l1.4-9.3l-6.6 1.0z"/>
<path class="scc" d="M657.1 361.5l6.6-0.8l1.4 2.8l-6.6-2.6z"/>
<path class="sca" d="M595.5 368.2l6.6-2.3l1.4-0.9l-6.6 3.2z"/>
<path class="skc" d="M859.2 384.2l6.6-1.4l1.4-5.3l-6.6 0.9z"/>
<path class="sji" d="M797.7 377.0l6.6 2.1l1.4 1.0l-6.6-1.3z"/>
<path class="scx" d="M736.1 357.0l6.6 6.0l1.4-3.0l-6.6-1.0z"/>
<path class="scz" d="M674.5 365.8l6.6-1.2l1.4-4.2l-6.6-1.5z"/>
<path class="sca" d="M612.9 367.1l6.6 0.4l1.4 1.9l-6.6-5.0z"/>
<path class="sjd" d="M876.6 382.2l6.6-3.4l1.4 0.6l-6.6-2.3z"/>
<path class="sjb" d="M815.1 375.4l6.6 1.3l1.4 3.5l-6.6-1.4z"/>
<path class="sfv" d="M753.5 356.4l6.6-4.9l1.4 7.8l-6.6-7.6z"/>
<path class="sft" d="M691.9 363.1l6.6-1.4l1.4-4.8l-6.6 0.9z"/>
<path class="sdg" d="M630.3 362.4l6.6 3.9l1.4-0.8l-6.6-1.6z"/>
<path class="seq" d="M568.7 380.9l6.6 18.6l1.4-20.8l-6.6-17.6z"/>
<path class="sjw" d="M832.4 374.2l6.6 6.1l1.4-2.0l-6.6-1.3z"/>
<path class="sei" d="M770.9 358.1l6.6-0.9l1.4 1.6l-6.6-5.0z"/>
<path class="sfw" d="M709.3 352.2l6.6 11.4l1.4-1.8l-6.6-4.5z"/>
<path class="sdd" d="M647.7 362.1l6.6 6.7l1.4-2.2l-6.6-0.9z"/>
<path class="sce" d="M586.1 378.3l6.6-12.9l1.4 3.3l-6.6-4.9z"/>
<path class="siy" d="M849.8 379.9l6.6-2.1l1.4-1.0l-6.6 2.7z"/>
<path class="sjy" d="M788.3 362.8l6.6 12.5l1.4 2.5l-6.6-15.9z"/>
<path class="sfh" d="M726.7 358.7l6.6 5.9l1.4-2.0l-6.6 3.9z"/>
<path class="seb" d="M665.1 363.5l6.6-2.0l1.4 0.6l-6.6-1.3z"/>
<path class="sdb" d="M603.5 365.0l6.6 3.9l1.4 0.2l-6.6-0.3z"/>
<path class="siv" d="M867.2 377.5l6.6 5.3l1.4-8.3l-6.6-1.9z"/>
<path class="siu" d="M805.6 380.1l6.6-8.5l1.4 4.9l-6.6 2.8z"/>
<path class="sei" d="M744.1 359.9l6.6-2.9l1.4-3.8l-6.6 5.6z"/>
<path class="sck" d="M682.5 360.4l6.6 2.9l1.4-3.0l-6.6 1.1z"/>
<path class="sbw" d="M620.9 369.4l6.6-3.3l1.4 1.7l-6.6-4.4z"/>
<path class="sjb" d="M823.0 380.2l6.6-5.9l1.4 6.1l-6.6-2.7z"/>
<path class="seu" d="M761.5 359.4l6.6-6.8l1.4-0.8l-6.6 1.5z"/>
<path class="sfz" d="M699.9 356.9l6.6-2.6l1.4 0.5l-6.6 6.4z"/>
<path class="scu" d="M638.3 365.5l6.6 1.9l1.4-4.2l-6.6-0.7z"/>
<path class="sem" d="M576.7 378.6l6.6 32.9l1.4-9.0l-6.6-35.1z"/>
<path class="six" d="M840.4 378.3l6.6 5.0l1.4-11.6l-6.6 4.0z"/>
<path class="scc" d="M778.8 358.8l6.6 9.5l1.4 3.2l-6.6-19.8z"/>
<path class="sbx" d="M717.3 361.8l6.6 8.0l1.4-1.7l-6.6-3.4z"/>
<path class="scz" d="M655.7 366.6l6.6-3.2l1.4-2.7l-6.6 0.8z"/>
<path class="sdo" d="M594.1 368.7l6.6-8.7l1.4 5.9l-6.6 2.3z"/>
<path class="skc" d="M857.8 376.8l6.6 4.0l1.4 2.0l-6.6 1.4z"/>
<path class="siu" d="M796.2 377.8l6.6-3.4l1.4 4.6l-6.6-2.1z"/>
<path class="sfp" d="M734.7 362.6l6.6-4.8l1.4 5.2l-6.6-6.0z"/>
<path class="scd" d="M673.1 362.1l6.6 2.2l1.4 0.3l-6.6 1.2z"/>
<path class="sca" d="M611.5 369.0l6.6-1.2l1.4-0.3l-6.6-0.4z"/>
<path class="sjb" d="M875.2 374.6l6.6 3.0l1.4 1.2l-6.6 3.4z"/>
<path class="shy" d="M813.6 376.4l6.6-1.7l1.4 2.1l-6.6-1.3z"/>
<path class="sfi" d="M752.0 353.2l6.6-1.5l1.4-0.1l-6.6 4.9z"/>
<path class="scm" d="M690.5 360.3l6.6 3.1l1.4-1.6l-6.6 1.4z"/>
<path class="sdg" d="M628.9 367.8l6.6-3.6l1.4 2.1l-6.6-3.9z"/>
<path class="sic" d="M567.3 405.1l6.6 17.6l1.4-23.2l-6.6-18.6z"/>
<path class="sjb" d="M831.0 380.4l6.6-0.9l1.4 0.9l-6.6-6.1z"/>
<path class="sfy" d="M769.4 351.8l6.6 8.2l1.4-2.8l-6.6 0.9z"/>
<path class="sfw" d="M707.9 354.8l6.6 11.8l1.4-3.1l-6.6-11.4z"/>
<path class="sfx" d="M646.3 363.1l6.6 3.1l1.4 2.6l-6.6-6.7z"/>
<path class="sgk" d="M584.7 402.5l6.6-14.4l1.4-22.7l-6.6 12.9z"/>
<path class="sha" d="M848.4 371.7l6.6 7.0l1.4-0.9l-6.6 2.1z"/>
<path class="sbr" d="M786.8 371.5l6.6 3.7l1.4 0.1l-6.6-12.5z"/>
<path class="scc" d="M725.2 368.0l6.6-7.2l1.4 3.8l-6.6-5.9z"/>
<path class="scz" d="M663.7 360.7l6.6 7.6l1.4-6.8l-6.6 2.0z"/>
<path class="skd" d="M602.1 365.9l6.6 21.7l1.4-18.7l-6.6-3.9z"/>
<path class="sjt" d="M865.8 382.8l6.6-8.3l1.4 8.4l-6.6-5.3z"/>
<path class="sjb" d="M804.2 379.1l6.6 4.9l1.4-12.4l-6.6 8.5z"/>
<path class="sgc" d="M742.6 363.0l6.6 2.4l1.4-8.4l-6.6 2.9z"/>
<path class="sck" d="M681.1 364.6l6.6-4.7l1.4 3.3l-6.6-2.9z"/>
<path class="sca" d="M619.5 367.5l6.6 2.0l1.4-3.3l-6.6 3.3z"/>
<path class="siu" d="M821.6 376.8l6.6 2.4l1.4-4.8l-6.6 5.9z"/>
<path class="sie" d="M760.0 351.6l6.6 4.3l1.4-3.2l-6.6 6.8z"/>
<path class="sfw" d="M698.5 361.8l6.6 4.0l1.4-11.4l-6.6 2.6z"/>
<path class="sbw" d="M636.9 366.3l6.6 3.6l1.4-2.5l-6.6-1.9z"/>
<path class="ske" d="M575.3 399.5l6.6 12.7l1.4-0.7l-6.6-32.9z"/>
<path class="siy" d="M839.0 380.4l6.6-4.2l1.4 7.2l-6.6-5.0z"/>
<path class="scd" d="M777.4 357.2l6.6 16.6l1.4-5.5l-6.6-9.5z"/>
<path class="scd" d="M715.8 363.6l6.6 0.7l1.4 5.5l-6.6-8.0z"/>
<path class="sdo" d="M654.3 368.8l6.6-1.8l1.4-3.5l-6.6 3.2z"/>
<path class="sch" d="M592.7 365.4l6.6 4.4l1.4-9.8l-6.6 8.7z"/>
<path class="six" d="M856.4 377.8l6.6-0.8l1.4 3.9l-6.6-4.0z"/>
<path class="shy" d="M794.8 375.3l6.6 3.3l1.4-4.2l-6.6 3.4z"/>
<path class="sck" d="M733.2 364.6l6.6 0.2l1.4-7.0l-6.6 4.8z"/>
<path class="sfh" d="M671.7 361.5l6.6 7.3l1.4-4.5l-6.6-2.2z"/>
<path class="sdb" d="M610.1 368.9l6.6 1.6l1.4-2.6l-6.6 1.2z"/>
<path class="six" d="M873.8 382.9l6.6-4.2l1.4-1.1l-6.6-3.0z"/>
<path class="sbi" d="M812.2 371.5l6.6 6.5l1.4-3.4l-6.6 1.7z"/>
<path class="shd" d="M750.6 357.0l6.6 1.3l1.4-6.7l-6.6 1.5z"/>
<path class="sdk" d="M689.0 363.3l6.6-1.8l1.4 1.9l-6.6-3.1z"/>
<path class="sdd" d="M627.5 366.2l6.6 4.4l1.4-6.3l-6.6 3.6z"/>
<path class="skf" d="M565.9 419.2l6.6 1.7l1.4 1.9l-6.6-17.6z"/>
<path class="sja" d="M829.6 374.3l6.6 2.6l1.4 2.6l-6.6 0.9z"/>
<path class="shd" d="M768.0 352.6l6.6 3.6l1.4 3.8l-6.6-8.2z"/>
<path class="sft" d="M706.4 354.3l6.6 16.8l1.4-4.5l-6.6-11.8z"/>
<path class="sch" d="M644.9 367.3l6.6 1.7l1.4-2.9l-6.6-3.1z"/>
<path class="sic" d="M583.3 411.5l6.6-2.0l1.4-21.4l-6.6 14.4z"/>
<path class="six" d="M847.0 383.3l6.6-3.0l1.4-1.6l-6.6-7.0z"/>
<path class="sbi" d="M785.4 368.3l6.6 17.9l1.4-11.1l-6.6-3.7z"/>
<path class="sdg" d="M723.8 369.7l6.6-3.8l1.4-5.2l-6.6 7.2z"/>
<path class="scc" d="M662.2 363.4l6.6-1.7l1.4 6.5l-6.6-7.6z"/>
<path class="siy" d="M600.7 360.0l6.6 46.8l1.4-19.2l-6.6-21.7z"/>
<path class="sji" d="M864.4 380.8l6.6 2.6l1.4-8.9l-6.6 8.3z"/>
<path class="six" d="M802.8 374.4l6.6 2.1l1.4 7.4l-6.6-4.9z"/>
<path class="sdk" d="M741.2 357.8l6.6 5.3l1.4 2.4l-6.6-2.4z"/>
<path class="seb" d="M679.6 364.3l6.6 1.1l1.4-5.4l-6.6 4.7z"/>
<path class="sbw" d="M618.1 367.8l6.6 0.3l1.4 1.4l-6.6-2.0z"/>
<path class="shy" d="M820.2 374.6l6.6 2.7l1.4 1.7l-6.6-2.4z"/>
<path class="sgo" d="M758.6 351.6l6.6 4.8l1.4-0.6l-6.6-4.3z"/>
<path class="sdk" d="M697.0 363.4l6.6-4.5l1.4 6.9l-6.6-4.0z"/>
<path class="sdo" d="M635.4 364.2l6.6 4.1l1.4 1.6l-6.6-3.6z"/>
<path class="sr" d="M573.9 422.7l6.6-5.0l1.4-5.5l-6.6-12.7z"/>
<path class="siu" d="M837.6 379.5l6.6-2.2l1.4-1.1l-6.6 4.2z"/>
<path class="scu" d="M776.0 360.0l6.6 13.1l1.4 0.7l-6.6-16.6z"/>
<path class="scd" d="M714.4 366.7l6.6 1.4l1.4-3.8l-6.6-0.7z"/>
<path class="sch" d="M652.8 366.2l6.6-0.4l1.4 1.1l-6.6 1.8z"/>
<path class="skg" d="M591.3 388.2l6.6-15.4l1.4-3.0l-6.6-4.4z"/>
<path class="siu" d="M855.0 378.7l6.6 1.8l1.4-3.5l-6.6 0.8z"/>
<path class="sha" d="M793.4 375.2l6.6 7.9l1.4-4.4l-6.6-3.3z"/>
<path class="scz" d="M731.8 360.8l6.6 8.4l1.4-4.3l-6.6-0.2z"/>
<path class="sdd" d="M670.2 368.3l6.6 3.8l1.4-3.3l-6.6-7.3z"/>
<path class="skh" d="M608.6 387.6l6.6-10.7l1.4-6.5l-6.6-1.6z"/>
<path class="sjf" d="M872.4 374.5l6.6 10.1l1.4-5.8l-6.6 4.2z"/>
<path class="sja" d="M810.8 383.9l6.6-4.0l1.4-1.9l-6.6-6.5z"/>
<path class="sge" d="M749.2 365.4l6.6-7.1l1.4 0.0l-6.6-1.3z"/>
<path class="scx" d="M687.6 359.9l6.6 3.4l1.4-1.9l-6.6 1.8z"/>
<path class="sdb" d="M626.0 369.5l6.6 3.5l1.4-2.4l-6.6-4.4z"/>
<path class="sbk" d="M564.5 417.7l6.6-0.7l1.4 3.9l-6.6-1.7z"/>
<path class="shl" d="M828.2 379.1l6.6-2.7l1.4 0.5l-6.6-2.6z"/>
<path class="shd" d="M766.6 355.8l6.6 2.7l1.4-2.3l-6.6-3.6z"/>
<path class="scc" d="M705.0 365.7l6.6 0.9l1.4 4.5l-6.6-16.8z"/>
<path class="sbw" d="M643.4 369.9l6.6-2.3l1.4 1.5l-6.6-1.7z"/>
<path class="sr" d="M581.8 412.2l6.6 8.5l1.4-11.1l-6.6 2.0z"/>
<path class="sgl" d="M845.6 376.2l6.6 2.0l1.4 2.2l-6.6 3.0z"/>
<path class="shg" d="M784.0 373.9l6.6 6.0l1.4 6.4l-6.6-17.9z"/>
<path class="sdg" d="M722.4 364.3l6.6 3.7l1.4-2.0l-6.6 3.8z"/>
<path class="seb" d="M660.8 367.0l6.6-2.3l1.4-3.0l-6.6 1.7z"/>
<path class="sgn" d="M599.2 369.8l6.6 48.3l1.4-11.3l-6.6-46.8z"/>
<path class="siv" d="M863.0 377.0l6.6-1.7l1.4 8.1l-6.6-2.6z"/>
<path class="shg" d="M801.4 378.7l6.6 1.3l1.4-3.5l-6.6-2.1z"/>
<path class="scx" d="M739.8 364.8l6.6-1.6l1.4-0.1l-6.6-5.3z"/>
<path class="sfh" d="M678.2 368.8l6.6-5.7l1.4 2.2l-6.6-1.1z"/>
<path class="sce" d="M616.6 370.4l6.6 8.5l1.4-10.9l-6.6-0.3z"/>
<path class="shg" d="M818.8 378.1l6.6 0.9l1.4-1.6l-6.6-2.7z"/>
<path class="sfe" d="M757.2 358.3l6.6-1.7l1.4-0.2l-6.6-4.8z"/>
<path class="sdx" d="M695.6 361.4l6.6-1.9l1.4-0.8l-6.6 4.5z"/>
<path class="sdo" d="M634.0 370.6l6.6-2.5l1.4 0.2l-6.6-4.1z"/>
<path class="ski" d="M572.4 420.9l6.6 2.0l1.4-5.1l-6.6 5.0z"/>
<path class="six" d="M836.2 376.9l6.6 7.8l1.4-7.5l-6.6 2.2z"/>
<path class="scz" d="M774.6 356.2l6.6 14.9l1.4 2.0l-6.6-13.1z"/>
<path class="sdo" d="M713.0 371.1l6.6-5.5l1.4 2.5l-6.6-1.4z"/>
<path class="sdo" d="M651.4 369.0l6.6 1.8l1.4-5.0l-6.6 0.4z"/>
<path class="skj" d="M589.8 409.5l6.6-22.3l1.4-14.4l-6.6 15.4z"/>
<path class="sja" d="M853.6 380.3l6.6-3.8l1.4 3.9l-6.6-1.8z"/>
<path class="sjt" d="M792.0 386.3l6.6-5.8l1.4 2.6l-6.6-7.9z"/>
<path class="scd" d="M730.4 365.9l6.6 3.9l1.4-0.7l-6.6-8.4z"/>
<path class="sdg" d="M668.8 361.7l6.6 4.7l1.4 5.7l-6.6-3.8z"/>
<path class="shp" d="M607.2 406.8l6.6-6.3l1.4-23.6l-6.6 10.7z"/>
<path class="sjt" d="M871.0 383.4l6.6-0.4l1.4 1.5l-6.6-10.1z"/>
<path class="sgl" d="M809.4 376.5l6.6 3.7l1.4-0.3l-6.6 4.0z"/>
<path class="sfw" d="M747.8 363.1l6.6-3.9l1.4-0.9l-6.6 7.1z"/>
<path class="sck" d="M686.2 365.4l6.6 2.9l1.4-5.0l-6.6-3.4z"/>
<path class="sgz" d="M624.6 368.1l6.6 4.9l1.4-0.0l-6.6-3.5z"/>
<path class="st" d="M563.0 415.6l6.6-2.3l1.4 3.7l-6.6 0.7z"/>
<path class="sha" d="M826.8 377.4l6.6 5.3l1.4-6.2l-6.6 2.7z"/>
<path class="sfv" d="M765.2 356.4l6.6 4.1l1.4-2.0l-6.6-2.7z"/>
<path class="sfh" d="M703.6 358.8l6.6 13.7l1.4-5.9l-6.6-0.9z"/>
<path class="sch" d="M642.0 368.3l6.6-1.7l1.4 1.0l-6.6 2.3z"/>
<path class="sbh" d="M580.4 417.7l6.6-7.5l1.4 10.4l-6.6-8.5z"/>
<path class="sjx" d="M844.2 377.3l6.6 0.1l1.4 0.7l-6.6-2.0z"/>
<path class="shl" d="M782.6 373.2l6.6 9.1l1.4-2.4l-6.6-6.0z"/>
<path class="scd" d="M721.0 368.0l6.6-1.4l1.4 1.3l-6.6-3.7z"/>
<path class="scz" d="M659.4 365.8l6.6 0.0l1.4-1.2l-6.6 2.3z"/>
<path class="sgt" d="M597.8 372.8l6.6 50.0l1.4-4.7l-6.6-48.3z"/>
<path class="sja" d="M861.6 380.5l6.6 4.4l1.4-9.6l-6.6 1.7z"/>
<path class="siu" d="M800.0 383.1l6.6-6.7l1.4 3.5l-6.6-1.3z"/>
<path class="scm" d="M738.4 369.1l6.6-7.3l1.4 1.4l-6.6 1.6z"/>
<path class="sbw" d="M676.8 372.1l6.6 2.3l1.4-11.2l-6.6 5.7z"/>
<path class="ska" d="M615.2 376.9l6.6-3.7l1.4 5.8l-6.6-8.5z"/>
<path class="sha" d="M817.4 379.9l6.6-0.0l1.4-0.9l-6.6-0.9z"/>
<path class="sgh" d="M755.8 358.3l6.6-0.7l1.4-1.0l-6.6 1.7z"/>
<path class="sfw" d="M694.2 363.3l6.6 0.0l1.4-3.8l-6.6 1.9z"/>
<path class="sgz" d="M632.6 373.0l6.6 2.0l1.4-6.9l-6.6 2.5z"/>
<path class="skk" d="M571.0 417.0l6.6 3.1l1.4 2.8l-6.6-2.0z"/>
<path class="siu" d="M834.8 376.4l6.6 4.7l1.4 3.6l-6.6-7.8z"/>
<path class="sck" d="M773.2 358.5l6.6 13.2l1.4-0.6l-6.6-14.9z"/>
<path class="scq" d="M711.6 366.6l6.6-0.9l1.4-0.1l-6.6 5.5z"/>
<path class="sbx" d="M650.0 367.6l6.6 1.0l1.4 2.3l-6.6-1.8z"/>
<path class="sct" d="M588.4 420.7l6.6-12.0l1.4-21.5l-6.6 22.3z"/>
<path class="sha" d="M852.2 378.1l6.6 4.6l1.4-6.2l-6.6 3.8z"/>
<path class="sjb" d="M790.6 379.9l6.6-0.9l1.4 1.4l-6.6 5.8z"/>
<path class="ser" d="M729.0 367.9l6.6-4.5l1.4 6.4l-6.6-3.9z"/>
<path class="sfh" d="M667.4 364.7l6.6 9.3l1.4-7.5l-6.6-4.7z"/>
<path class="skl" d="M605.8 418.1l6.6-6.5l1.4-11.1l-6.6 6.3z"/>
<path class="shy" d="M869.6 375.3l6.6-1.6l1.4 9.4l-6.6 0.4z"/>
<path class="shy" d="M808.0 380.0l6.6-1.7l1.4 1.9l-6.6-3.7z"/>
<path class="set" d="M746.4 363.2l6.6-6.1l1.4 2.1l-6.6 3.9z"/>
<path class="shi" d="M684.8 363.2l6.6 3.8l1.4 1.4l-6.6-2.9z"/>
<path class="shb" d="M623.2 379.0l6.6-10.2l1.4 4.2l-6.6-4.9z"/>
<path class="sbh" d="M561.6 418.0l6.6-0.2l1.4-4.5l-6.6 2.3z"/>
<path class="siv" d="M825.4 379.0l6.6 3.4l1.4 0.3l-6.6-5.3z"/>
<path class="sgh" d="M763.8 356.6l6.6 2.4l1.4 1.5l-6.6-4.1z"/>
<path class="sck" d="M702.2 359.6l6.6 9.3l1.4 3.6l-6.6-13.7z"/>
<path class="scu" d="M640.6 368.1l6.6 0.9l1.4-2.3l-6.6 1.7z"/>
<path class="sq" d="M579.0 422.8l6.6-4.1l1.4-8.5l-6.6 7.5z"/>
<path class="siu" d="M842.8 384.7l6.6-3.4l1.4-4.0l-6.6-0.1z"/>
<path class="shv" d="M781.2 371.1l6.6 7.9l1.4 3.2l-6.6-9.1z"/>
<path class="sfh" d="M719.6 365.6l6.6 1.0l1.4 0.1l-6.6 1.4z"/>
<path class="sch" d="M658.0 370.8l6.6 1.9l1.4-6.9l-6.6-0.0z"/>
<path class="shz" d="M596.4 387.2l6.6 25.1l1.4 10.5l-6.6-50.0z"/>
<path class="six" d="M860.2 376.5l6.6 4.5l1.4 3.8l-6.6-4.4z"/>
<path class="siv" d="M798.6 380.5l6.6 1.8l1.4-5.8l-6.6 6.7z"/>
<path class="scz" d="M737.0 369.8l6.6-5.1l1.4-2.9l-6.6 7.3z"/>
<path class="sca" d="M675.4 366.4l6.6 5.7l1.4 2.3l-6.6-2.3z"/>
<path class="sha" d="M613.8 400.5l6.6-31.5l1.4 4.2l-6.6 3.7z"/>
<path class="sha" d="M816.0 380.2l6.6 0.2l1.4-0.5l-6.6 0.0z"/>
<path class="sgj" d="M754.4 359.2l6.6 1.8l1.4-3.3l-6.6 0.7z"/>
<path class="scc" d="M692.8 368.3l6.6 0.6l1.4-5.6l-6.6-0.0z"/>
<path class="sjh" d="M631.2 373.0l6.6 1.3l1.4 0.6l-6.6-2.0z"/>
<path class="sbj" d="M569.6 413.3l6.6 5.0l1.4 1.8l-6.6-3.1z"/>
<path class="sha" d="M833.4 382.7l6.6-2.8l1.4 1.3l-6.6-4.7z"/>
<path class="sib" d="M771.8 360.5l6.6 8.9l1.4 2.4l-6.6-13.2z"/>
<path class="scd" d="M710.2 372.5l6.6-6.5l1.4-0.3l-6.6 0.9z"/>
<path class="scd" d="M648.6 366.6l6.6 1.4l1.4 0.6l-6.6-1.0z"/>
<path class="sm" d="M587.0 410.2l6.6 9.2l1.4-10.7l-6.6 12.0z"/>
<path class="siw" d="M850.7 377.4l6.6 3.8l1.4 1.6l-6.6-4.6z"/>
<path class="siv" d="M789.2 382.3l6.6-0.3l1.4-3.0l-6.6 0.9z"/>
<path class="sck" d="M727.6 366.7l6.6-2.5l1.4-0.8l-6.6 4.5z"/>
<path class="sdg" d="M666.0 365.9l6.6 5.3l1.4 2.8l-6.6-9.3z"/>
<path class="skm" d="M604.4 422.7l6.6 1.8l1.4-13.0l-6.6 6.5z"/>
<path class="shy" d="M868.1 384.8l6.6-0.3l1.4-10.9l-6.6 1.6z"/>
<path class="skh" d="M806.6 376.4l6.6 1.6l1.4 0.3l-6.6 1.7z"/>
<path class="seo" d="M745.0 361.8l6.6-0.6l1.4-4.2l-6.6 6.1z"/>
<path class="scu" d="M683.4 374.4l6.6-4.9l1.4-2.5l-6.6-3.8z"/>
<path class="shs" d="M621.8 373.2l6.6 15.7l1.4-20.1l-6.6 10.2z"/>
<path class="sbh" d="M560.2 415.5l6.6-0.2l1.4 2.6l-6.6 0.2z"/>
<path class="shy" d="M823.9 379.9l6.6-2.7l1.4 5.2l-6.6-3.4z"/>
<path class="sfe" d="M762.4 357.6l6.6-0.9l1.4 2.3l-6.6-2.4z"/>
<path class="sdk" d="M700.8 363.4l6.6 5.2l1.4 0.3l-6.6-9.3z"/>
<path class="sca" d="M639.2 375.0l6.6-0.9l1.4-5.2l-6.6-0.9z"/>
<path class="skn" d="M577.6 420.1l6.6 3.0l1.4-4.3l-6.6 4.1z"/>
<path class="sgl" d="M841.3 381.1l6.6-1.2l1.4 1.5l-6.6 3.4z"/>
<path class="skg" d="M779.8 371.8l6.6 11.9l1.4-4.6l-6.6-7.9z"/>
<path class="scc" d="M718.2 365.7l6.6 3.0l1.4-2.1l-6.6-1.0z"/>
<path class="sca" d="M656.6 368.6l6.6 6.7l1.4-2.5l-6.6-1.9z"/>
<path class="sii" d="M595.0 408.7l6.6 15.7l1.4-12.1l-6.6-25.1z"/>
<path class="sha" d="M858.7 382.8l6.6-0.5l1.4-1.2l-6.6-4.5z"/>
<path class="sja" d="M797.1 379.0l6.6 2.6l1.4 0.6l-6.6-1.8z"/>
<path class="sgg" d="M735.6 363.4l6.6-5.3l1.4 6.6l-6.6 5.1z"/>
<path class="sbw" d="M674.0 374.0l6.6-3.2l1.4 1.3l-6.6-5.7z"/>
<path class="sfb" d="M612.4 411.6l6.6-40.5l1.4-2.1l-6.6 31.5z"/>
<path class="siv" d="M814.5 378.3l6.6 8.2l1.4-6.1l-6.6-0.2z"/>
<path class="seo" d="M753.0 357.1l6.6 11.0l1.4-7.1l-6.6-1.8z"/>
<path class="ser" d="M691.4 367.0l6.6 1.0l1.4 1.0l-6.6-0.6z"/>
<path class="sca" d="M629.8 368.8l6.6 2.3l1.4 3.2l-6.6-1.3z"/>
<path class="sy" d="M568.2 417.8l6.6 7.2l1.4-6.7l-6.6-5.0z"/>
<path class="sgl" d="M831.9 382.4l6.6 0.7l1.4-3.3l-6.6 2.8z"/>
<path class="sdk" d="M770.3 359.0l6.6 15.0l1.4-4.7l-6.6-8.9z"/>
<path class="sbx" d="M708.8 368.9l6.6 5.3l1.4-8.2l-6.6 6.5z"/>
<path class="sdg" d="M647.2 368.9l6.6 4.6l1.4-5.6l-6.6-1.4z"/>
<path class="sbh" d="M585.6 418.7l6.6 1.8l1.4-1.1l-6.6-9.2z"/>
<path class="siu" d="M849.3 381.4l6.6 4.2l1.4-4.4l-6.6-3.8z"/>
<path class="six" d="M787.7 379.1l6.6 5.2l1.4-2.3l-6.6 0.3z"/>
<path class="scz" d="M726.2 366.6l6.6 6.8l1.4-9.2l-6.6 2.5z"/>
<path class="sbn" d="M664.6 372.8l6.6 4.4l1.4-6.0l-6.6-5.3z"/>
<path class="sko" d="M603.0 412.2l6.6 12.1l1.4 0.2l-6.6-1.8z"/>
<path class="sjs" d="M866.7 381.0l6.6 1.8l1.4 1.6l-6.6 0.3z"/>
<path class="shy" d="M805.1 382.2l6.6 1.6l1.4-5.7l-6.6-1.6z"/>
<path class="sfw" d="M743.5 364.7l6.6 2.2l1.4-5.6l-6.6 0.6z"/>
<path class="sgz" d="M682.0 372.1l6.6 4.9l1.4-7.5l-6.6 4.9z"/>
<path class="seq" d="M620.4 369.0l6.6 40.2l1.4-20.3l-6.6-15.7z"/>
<path class="skf" d="M558.8 425.4l6.6 2.0l1.4-12.2l-6.6 0.2z"/>
<path class="shl" d="M822.5 380.4l6.6 1.1l1.4-4.3l-6.6 2.7z"/>
<path class="sfe" d="M760.9 360.9l6.6-2.8l1.4-1.4l-6.6 0.9z"/>
<path class="scz" d="M699.4 368.9l6.6 0.9l1.4-1.3l-6.6-5.2z"/>
<path class="skb" d="M637.8 374.3l6.6 5.5l1.4-5.7l-6.6 0.9z"/>
<path class="sq" d="M576.2 418.3l6.6-3.7l1.4 8.4l-6.6-3.0z"/>
<path class="siu" d="M839.9 379.8l6.6 6.6l1.4-6.5l-6.6 1.2z"/>
<path class="sip" d="M778.3 369.4l6.6 11.0l1.4 3.4l-6.6-11.9z"/>
<path class="scc" d="M716.7 365.9l6.6 3.6l1.4-0.9l-6.6-3.0z"/>
<path class="sca" d="M655.2 368.0l6.6 10.7l1.4-3.4l-6.6-6.7z"/>
<path class="sbo" d="M593.6 419.4l6.6-2.4l1.4 7.3l-6.6-15.7z"/>
<path class="siy" d="M857.3 381.2l6.6 7.1l1.4-6.0l-6.6 0.5z"/>
<path class="siw" d="M795.7 382.0l6.6-0.5l1.4 0.1l-6.6-2.6z"/>
<path class="set" d="M734.1 364.2l6.6 0.3l1.4-6.4l-6.6 5.3z"/>
<path class="sgz" d="M672.6 371.2l6.6 7.4l1.4-7.8l-6.6 3.2z"/>
<path class="sci" d="M611.0 424.5l6.6-48.7l1.4-4.7l-6.6 40.5z"/>
<path class="siv" d="M813.1 378.0l6.6 7.6l1.4 0.9l-6.6-8.2z"/>
<path class="set" d="M751.5 361.2l6.6 3.1l1.4 3.7l-6.6-11.0z"/>
<path class="ser" d="M689.9 369.5l6.6 1.2l1.4-2.7l-6.6-1.0z"/>
<path class="sby" d="M628.4 388.9l6.6-18.1l1.4 0.2l-6.6-2.3z"/>
<path class="sw" d="M566.8 415.2l6.6 2.4l1.4 7.4l-6.6-7.2z"/>
<path class="sha" d="M830.5 377.2l6.6 6.4l1.4-0.5l-6.6-0.7z"/>
<path class="sft" d="M768.9 356.7l6.6 16.9l1.4 0.4l-6.6-15.0z"/>
<path class="sdd" d="M707.3 368.6l6.6 6.3l1.4-0.7l-6.6-5.3z"/>
<path class="sbn" d="M645.8 374.1l6.6-1.7l1.4 1.2l-6.6-4.6z"/>
<path class="scf" d="M584.2 423.1l6.6-3.3l1.4 0.8l-6.6-1.8z"/>
<path class="sgl" d="M847.9 379.9l6.6 5.0l1.4 0.7l-6.6-4.2z"/>
<path class="siy" d="M786.3 383.7l6.6 5.7l1.4-5.1l-6.6-5.2z"/>
<path class="scz" d="M724.7 368.7l6.6-4.3l1.4 9.0l-6.6-6.8z"/>
<path class="shb" d="M663.1 375.3l6.6-3.4l1.4 5.3l-6.6-4.4z"/>
<path class="scj" d="M601.6 424.4l6.6-5.8l1.4 5.7l-6.6-12.1z"/>
<path class="sgl" d="M865.3 382.3l6.6 3.4l1.4-2.9l-6.6-1.8z"/>
<path class="six" d="M803.7 381.6l6.6 1.5l1.4 0.6l-6.6-1.6z"/>
<path class="sgg" d="M742.1 358.1l6.6 11.7l1.4-2.9l-6.6-2.2z"/>
<path class="shj" d="M680.5 370.8l6.6 0.6l1.4 5.6l-6.6-4.9z"/>
<path class="sbm" d="M619.0 371.1l6.6 60.3l1.4-22.2l-6.6-40.2z"/>
<path class="skp" d="M557.4 418.9l6.6 5.4l1.4 3.2l-6.6-2.0z"/>
<path class="sja" d="M821.1 386.5l6.6-6.6l1.4 1.6l-6.6-1.1z"/>
<path class="seh" d="M759.5 368.0l6.6-8.0l1.4-2.0l-6.6 2.8z"/>
<path class="scu" d="M697.9 367.9l6.6 5.5l1.4-3.5l-6.6-0.9z"/>
<path class="shb" d="M636.3 371.1l6.6 2.2l1.4 6.5l-6.6-5.5z"/>
<path class="sy" d="M574.8 425.0l6.6-3.4l1.4-7.0l-6.6 3.7z"/>
<path class="sgl" d="M838.5 383.1l6.6 0.6l1.4 2.7l-6.6-6.6z"/>
<path class="sip" d="M776.9 374.0l6.6 11.2l1.4-4.9l-6.6-11.0z"/>
<path class="sdg" d="M715.3 374.2l6.6-1.0l1.4-3.5l-6.6-3.6z"/>
<path class="sca" d="M653.7 373.6l6.6-1.3l1.4 6.5l-6.6-10.7z"/>
<path class="sy" d="M592.2 420.5l6.6 2.1l1.4-5.6l-6.6 2.4z"/>
<path class="sjt" d="M855.9 385.6l6.6-1.9l1.4 4.6l-6.6-7.1z"/>
<path class="sja" d="M794.3 384.3l6.6-2.4l1.4-0.3l-6.6 0.5z"/>
<path class="sck" d="M732.7 373.4l6.6-6.0l1.4-2.8l-6.6-0.3z"/>
<path class="sce" d="M671.1 377.2l6.6-3.0l1.4 4.4l-6.6-7.4z"/>
<path class="sdu" d="M609.5 424.3l6.6-24.2l1.4-24.3l-6.6 48.7z"/>
<path class="sgl" d="M811.7 383.8l6.6 2.4l1.4-0.6l-6.6-7.6z"/>
<path class="shr" d="M750.1 366.9l6.6-4.6l1.4 2.0l-6.6-3.1z"/>
<path class="sdd" d="M688.5 377.0l6.6-6.5l1.4 0.2l-6.6-1.2z"/>
<path class="sji" d="M626.9 409.2l6.6-37.8l1.4-0.6l-6.6 18.1z"/>
<path class="skq" d="M565.4 427.4l6.6-4.7l1.4-5.1l-6.6-2.4z"/>
<path class="skh" d="M829.1 381.5l6.6-2.4l1.4 4.5l-6.6-6.4z"/>
<path class="scm" d="M767.5 358.1l6.6 24.8l1.4-9.3l-6.6-16.9z"/>
<path class="scq" d="M705.9 369.9l6.6-2.5l1.4 7.5l-6.6-6.3z"/>
<path class="sce" d="M644.3 379.8l6.6-5.4l1.4-2.0l-6.6 1.7z"/>
<path class="sbo" d="M582.7 414.6l6.6 2.0l1.4 3.2l-6.6 3.3z"/>
<path class="sjs" d="M846.5 386.4l6.6 0.7l1.4-2.2l-6.6-5.0z"/>
<path class="sjb" d="M784.9 380.3l6.6 2.5l1.4 6.6l-6.6-5.7z"/>
<path class="seb" d="M723.3 369.6l6.6 0.6l1.4-5.8l-6.6 4.3z"/>
<path class="sdb" d="M661.7 378.7l6.6-7.1l1.4 0.3l-6.6 3.4z"/>
<path class="sw" d="M600.1 417.0l6.6 2.1l1.4-0.5l-6.6 5.8z"/>
<path class="six" d="M863.9 388.3l6.6-11.2l1.4 8.6l-6.6-3.4z"/>
<path class="shy" d="M802.3 381.5l6.6-0.9l1.4 2.5l-6.6-1.5z"/>
<path class="sdx" d="M740.7 364.5l6.6 2.6l1.4 2.7l-6.6-11.7z"/>
<path class="sbw" d="M679.1 378.6l6.6-7.1l1.4-0.0l-6.6-0.6z"/>
<path class="skr" d="M617.5 375.8l6.6 49.4l1.4 6.2l-6.6-60.3z"/>
<path class="skq" d="M555.9 421.6l6.6-2.0l1.4 4.6l-6.6-5.4z"/>
<path class="sgl" d="M819.7 385.6l6.6-2.0l1.4-3.7l-6.6 6.6z"/>
<path class="sge" d="M758.1 364.3l6.6-0.1l1.4-4.1l-6.6 8.0z"/>
<path class="scd" d="M696.5 370.7l6.6-0.9l1.4 3.7l-6.6-5.5z"/>
<path class="sbx" d="M634.9 370.8l6.6 3.0l1.4-0.5l-6.6-2.2z"/>
<path class="scf" d="M573.3 417.6l6.6 4.2l1.4-0.2l-6.6 3.4z"/>
<path class="sgl" d="M837.1 383.6l6.6 2.4l1.4-2.3l-6.6-0.6z"/>
<path class="skb" d="M775.5 373.6l6.6 3.4l1.4 8.3l-6.6-11.2z"/>
<path class="sbn" d="M713.9 374.9l6.6-3.2l1.4 1.4l-6.6 1.0z"/>
<path class="sca" d="M652.3 372.3l6.6 5.7l1.4-5.9l-6.6 1.3z"/>
<path class="skq" d="M590.7 419.8l6.6 1.8l1.4 1.1l-6.6-2.1z"/>
<path class="sji" d="M854.5 384.9l6.6 3.5l1.4-4.7l-6.6 1.9z"/>
<path class="sgl" d="M792.9 389.4l6.6-8.9l1.4 1.3l-6.6 2.4z"/>
<path class="sck" d="M731.3 364.3l6.6 2.4l1.4 0.7l-6.6 6.0z"/>
<path class="sca" d="M669.7 371.9l6.6 1.3l1.4 1.1l-6.6 3.0z"/>
<path class="sv" d="M608.1 418.6l6.6-11.7l1.4-6.8l-6.6 24.2z"/>
<path class="sgl" d="M810.3 383.1l6.6 0.8l1.4 2.2l-6.6-2.4z"/>
<path class="sft" d="M748.7 369.8l6.6-1.2l1.4-6.3l-6.6 4.6z"/>
<path class="sdd" d="M687.1 371.4l6.6 1.9l1.4-2.9l-6.6 6.5z"/>
<path class="sgt" d="M625.5 431.4l6.6-45.3l1.4-14.7l-6.6 37.8z"/>
<path class="skn" d="M563.9 424.2l6.6-3.9l1.4 2.4l-6.6 4.7z"/>
<path class="shs" d="M827.7 379.9l6.6 1.0l1.4-1.8l-6.6 2.4z"/>
<path class="scd" d="M766.1 360.0l6.6 21.0l1.4 1.8l-6.6-24.8z"/>
<path class="sfh" d="M704.5 373.4l6.6-3.2l1.4-2.8l-6.6 2.5z"/>
<path class="she" d="M642.9 373.3l6.6 1.5l1.4-0.4l-6.6 5.4z"/>
<path class="sm" d="M581.3 421.6l6.6-4.0l1.4-1.0l-6.6-2.0z"/>
<path class="sjt" d="M845.1 383.7l6.6 1.7l1.4 1.8l-6.6-0.7z"/>
<path class="sbi" d="M783.5 385.2l6.6-10.7l1.4 8.3l-6.6-2.5z"/>
<path class="sdg" d="M721.9 373.1l6.6 1.2l1.4-4.2l-6.6-0.6z"/>
<path class="sce" d="M660.3 372.2l6.6 9.7l1.4-10.4l-6.6 7.1z"/>
<path class="sh" d="M598.7 422.7l6.6-5.5l1.4 1.9l-6.6-2.1z"/>
<path class="six" d="M862.5 383.7l6.6 3.9l1.4-10.4l-6.6 11.2z"/>
<path class="shl" d="M800.9 381.8l6.6 0.3l1.4-1.4l-6.6 0.9z"/>
<path class="sfw" d="M739.3 367.4l6.6-3.4l1.4 3.2l-6.6-2.6z"/>
<path class="shb" d="M677.7 374.2l6.6 5.8l1.4-8.5l-6.6 7.1z"/>
<path class="sks" d="M616.1 400.1l6.6 16.9l1.4 8.2l-6.6-49.4z"/>
<path class="scj" d="M554.5 421.9l6.6 0.8l1.4-3.1l-6.6 2.0z"/>
<path class="sjb" d="M818.3 386.2l6.6-1.4l1.4-1.2l-6.6 2.0z"/>
<path class="sei" d="M756.7 362.3l6.6 4.1l1.4-2.2l-6.6 0.1z"/>
<path class="scd" d="M695.1 370.5l6.6 1.8l1.4-2.5l-6.6 0.9z"/>
<path class="sbn" d="M633.5 371.5l6.6 8.9l1.4-6.5l-6.6-3.0z"/>
<path class="scf" d="M571.9 422.7l6.6 4.3l1.4-5.2l-6.6-4.2z"/>
<path class="sha" d="M835.7 379.1l6.6 6.0l1.4 0.9l-6.6-2.4z"/>
<path class="sjz" d="M774.1 382.9l6.6 7.2l1.4-13.1l-6.6-3.4z"/>
<path class="sdg" d="M712.5 367.4l6.6 6.6l1.4-2.3l-6.6 3.2z"/>
<path class="sby" d="M650.9 374.4l6.6 8.7l1.4-4.9l-6.6-5.7z"/>
<path class="st" d="M589.3 416.6l6.6 6.9l1.4-1.9l-6.6-1.8z"/>
<path class="sjs" d="M853.1 387.1l6.6-4.4l1.4 5.7l-6.6-3.5z"/>
<path class="sji" d="M791.5 382.8l6.6 10.2l1.4-12.5l-6.6 8.9z"/>
<path class="sgc" d="M729.9 370.2l6.6 0.3l1.4-3.7l-6.6-2.4z"/>
<path class="scu" d="M668.3 371.5l6.6-0.8l1.4 2.4l-6.6-1.3z"/>
<path class="sa" d="M606.7 419.1l6.6 7.4l1.4-19.6l-6.6 11.7z"/>
<path class="siu" d="M808.9 380.7l6.6 7.8l1.4-4.5l-6.6-0.8z"/>
<path class="sft" d="M747.3 367.1l6.6-0.9l1.4 2.4l-6.6 1.2z"/>
<path class="sch" d="M685.7 371.4l6.6 2.1l1.4-0.2l-6.6-1.9z"/>
<path class="scn" d="M624.1 425.3l6.6-17.9l1.4-21.1l-6.6 45.3z"/>
<path class="skq" d="M562.5 419.6l6.6 5.2l1.4-4.5l-6.6 3.9z"/>
<path class="shy" d="M826.3 383.6l6.6 3.7l1.4-6.3l-6.6-1.0z"/>
<path class="sfh" d="M764.7 364.2l6.6 13.9l1.4 3.0l-6.6-21.0z"/>
<path class="sfx" d="M703.1 369.7l6.6 5.1l1.4-4.7l-6.6 3.2z"/>
<path class="sca" d="M641.5 373.8l6.6 4.3l1.4-3.3l-6.6-1.5z"/>
<path class="sh" d="M579.9 421.9l6.6-4.5l1.4 0.2l-6.6 4.0z"/>
<path class="six" d="M843.7 386.0l6.6-2.4l1.4 1.8l-6.6-1.7z"/>
<path class="sbi" d="M782.1 376.9l6.6 12.9l1.4-15.2l-6.6 10.7z"/>
<path class="sdg" d="M720.5 371.7l6.6-0.5l1.4 3.2l-6.6-1.2z"/>
<path class="skb" d="M658.9 378.1l6.6 4.7l1.4-0.9l-6.6-9.7z"/>
<path class="scg" d="M597.3 421.6l6.6-0.5l1.4-3.9l-6.6 5.5z"/>
<path class="sgs" d="M861.1 388.4l6.6-0.3l1.4-0.6l-6.6-3.9z"/>
<path class="siu" d="M799.5 380.5l6.6 13.3l1.4-11.7l-6.6-0.3z"/>
<path class="sft" d="M737.9 366.7l6.6 6.9l1.4-9.7l-6.6 3.4z"/>
<path class="sbn" d="M676.3 373.2l6.6-2.0l1.4 8.8l-6.6-5.8z"/>
<path class="scl" d="M614.7 406.9l6.6 17.0l1.4-6.9l-6.6-16.9z"/>
<path class="skk" d="M553.1 426.3l6.6 2.9l1.4-6.4l-6.6-0.8z"/>
<path class="sha" d="M816.9 384.0l6.6-2.9l1.4 3.7l-6.6 1.4z"/>
<path class="sdx" d="M755.3 368.6l6.6-0.2l1.4-2.0l-6.6-4.1z"/>
<path class="sbx" d="M693.7 373.3l6.6 5.2l1.4-6.3l-6.6-1.8z"/>
<path class="sip" d="M632.1 386.2l6.6-7.1l1.4 1.3l-6.6-8.9z"/>
<path class="skt" d="M570.5 420.3l6.6 10.7l1.4-4.0l-6.6-4.3z"/>
<path class="shl" d="M834.3 380.9l6.6 4.4l1.4-0.2l-6.6-6.0z"/>
<path class="sha" d="M772.7 381.1l6.6 2.0l1.4 6.9l-6.6-7.2z"/>
<path class="sfh" d="M711.1 370.2l6.6 3.1l1.4 0.7l-6.6-6.6z"/>
<path class="sby" d="M649.5 374.8l6.6 3.4l1.4 4.8l-6.6-8.7z"/>
<path class="scg" d="M587.9 417.6l6.6 8.4l1.4-2.5l-6.6-6.9z"/>
<path class="siu" d="M851.6 385.4l6.6-2.1l1.4-0.6l-6.6 4.4z"/>
<path class="siw" d="M790.1 374.5l6.6 10.4l1.4 8.0l-6.6-10.2z"/>
<path class="scd" d="M728.5 374.4l6.6-0.9l1.4-3.0l-6.6-0.3z"/>
<path class="sdb" d="M666.9 381.9l6.6-2.1l1.4-9.0l-6.6 0.8z"/>
<path class="sbs" d="M605.3 417.2l6.6 9.4l1.4-0.1l-6.6-7.4z"/>
<path class="sha" d="M807.5 382.1l6.6 4.3l1.4 2.1l-6.6-7.8z"/>
<path class="sge" d="M745.9 364.0l6.6 3.3l1.4-1.1l-6.6 0.9z"/>
<path class="sca" d="M684.3 380.0l6.6-2.6l1.4-3.9l-6.6-2.1z"/>
<path class="sk" d="M622.7 417.0l6.6 9.9l1.4-19.6l-6.6 17.9z"/>
<path class="sq" d="M561.1 422.7l6.6-1.5l1.4 3.6l-6.6-5.2z"/>
<path class="siv" d="M824.8 384.8l6.6 0.1l1.4 2.4l-6.6-3.7z"/>
<path class="scu" d="M763.3 366.4l6.6 15.2l1.4-3.5l-6.6-13.9z"/>
<path class="sdg" d="M701.7 372.3l6.6 3.4l1.4-0.8l-6.6-5.1z"/>
<path class="shb" d="M640.1 380.4l6.6-4.0l1.4 1.7l-6.6-4.3z"/>
<path class="skq" d="M578.5 427.0l6.6-1.3l1.4-8.3l-6.6 4.5z"/>
<path class="siu" d="M842.2 385.1l6.6 0.5l1.4-2.0l-6.6 2.4z"/>
<path class="sjt" d="M780.7 390.1l6.6 2.1l1.4-2.3l-6.6-12.9z"/>
<path class="scq" d="M719.1 374.0l6.6-1.2l1.4-1.7l-6.6 0.5z"/>
<path class="skd" d="M657.5 383.0l6.6-8.8l1.4 8.6l-6.6-4.7z"/>
<path class="sw" d="M595.9 423.5l6.6-1.0l1.4-1.4l-6.6 0.5z"/>
<path class="six" d="M859.6 382.7l6.6 0.6l1.4 4.9l-6.6 0.3z"/>
<path class="sjj" d="M798.0 393.0l6.6-5.9l1.4 6.7l-6.6-13.3z"/>
<path class="scm" d="M736.5 370.4l6.6 0.1l1.4 3.1l-6.6-6.9z"/>
<path class="scd" d="M674.9 370.7l6.6 3.5l1.4-3.1l-6.6 2.0z"/>
<path class="sk" d="M613.3 426.5l6.6-5.8l1.4 3.2l-6.6-17.0z"/>
<path class="sku" d="M551.7 424.8l6.6 1.1l1.4 3.2l-6.6-2.9z"/>
<path class="sja" d="M815.4 388.5l6.6-1.9l1.4-5.6l-6.6 2.9z"/>
<path class="sdc" d="M753.9 366.2l6.6-1.4l1.4 3.7l-6.6 0.2z"/>
<path class="she" d="M692.3 373.6l6.6 9.9l1.4-4.8l-6.6-5.2z"/>
<path class="skv" d="M630.7 407.3l6.6-8.8l1.4-19.4l-6.6 7.1z"/>
<path class="sbk" d="M569.1 424.8l6.6 0.3l1.4 5.9l-6.6-10.7z"/>
<path class="siw" d="M832.8 387.2l6.6-3.1l1.4 1.1l-6.6-4.4z"/>
<path class="sbi" d="M771.2 378.1l6.6 10.4l1.4-5.4l-6.6-2.0z"/>
<path class="sdg" d="M709.7 374.9l6.6 1.3l1.4-2.9l-6.6-3.1z"/>
<path class="shb" d="M648.1 378.1l6.6 1.2l1.4-1.1l-6.6-3.4z"/>
<path class="sbp" d="M586.5 417.4l6.6 3.5l1.4 5.2l-6.6-8.4z"/>
<path class="sha" d="M850.2 383.5l6.6 4.2l1.4-4.4l-6.6 2.1z"/>
<path class="shg" d="M788.6 389.8l6.6-3.5l1.4-1.3l-6.6-10.4z"/>
<path class="scc" d="M727.1 371.2l6.6-5.5l1.4 7.7l-6.6 0.9z"/>
<path class="sjn" d="M665.5 382.8l6.6-0.9l1.4-2.1l-6.6 2.1z"/>
<path class="sbh" d="M603.9 421.1l6.6 0.4l1.4 5.1l-6.6-9.4z"/>
<path class="sgs" d="M806.0 393.8l6.6-3.5l1.4-3.9l-6.6-4.3z"/>
<path class="sft" d="M744.4 373.6l6.6-1.8l1.4-4.5l-6.6-3.3z"/>
<path class="sbx" d="M682.9 371.2l6.6-1.3l1.4 7.5l-6.6 2.6z"/>
<path class="sq" d="M621.3 423.9l6.6-0.4l1.4 3.5l-6.6-9.9z"/>
<path class="skm" d="M559.7 429.2l6.6-5.7l1.4-2.2l-6.6 1.5z"/>
<path class="skh" d="M823.4 381.1l6.6 0.9l1.4 2.9l-6.6-0.1z"/>
<path class="sch" d="M761.8 368.4l6.6 12.3l1.4 0.9l-6.6-15.2z"/>
<path class="sch" d="M700.3 378.6l6.6-8.9l1.4 6.0l-6.6-3.4z"/>
<path class="sjn" d="M638.7 379.1l6.6 12.2l1.4-14.9l-6.6 4.0z"/>
<path class="skt" d="M577.1 431.0l6.6-8.2l1.4 2.9l-6.6 1.3z"/>
<path class="six" d="M840.8 385.3l6.6 3.5l1.4-3.2l-6.6-0.5z"/>
<path class="siy" d="M779.2 383.1l6.6 2.6l1.4 6.4l-6.6-2.1z"/>
<path class="sch" d="M717.6 373.3l6.6 3.4l1.4-3.9l-6.6 1.2z"/>
<path class="sgz" d="M656.1 378.2l6.6-3.2l1.4-0.8l-6.6 8.8z"/>
<path class="sq" d="M594.5 426.0l6.6-6.0l1.4 2.5l-6.6 1.0z"/>
<path class="shs" d="M858.2 383.3l6.6-1.6l1.4 1.6l-6.6-0.6z"/>
<path class="sgl" d="M796.6 385.0l6.6-2.8l1.4 5.0l-6.6 5.9z"/>
<path class="scc" d="M735.0 373.4l6.6-0.8l1.4-2.2l-6.6-0.1z"/>
<path class="sdo" d="M673.5 379.8l6.6-5.8l1.4 0.3l-6.6-3.5z"/>
<path class="sbk" d="M611.9 426.6l6.6 3.2l1.4-9.1l-6.6 5.8z"/>
<path class="sko" d="M550.3 427.1l6.6-3.0l1.4 1.8l-6.6-1.1z"/>
<path class="six" d="M814.0 386.4l6.6-2.2l1.4 2.4l-6.6 1.9z"/>
<path class="set" d="M752.4 367.3l6.6 1.1l1.4-3.7l-6.6 1.4z"/>
<path class="sjv" d="M690.8 377.4l6.6 5.2l1.4 0.8l-6.6-9.9z"/>
<path class="sdj" d="M629.3 427.0l6.6-11.5l1.4-16.9l-6.6 8.8z"/>
<path class="scf" d="M567.7 421.2l6.6 4.5l1.4-0.6l-6.6-0.3z"/>
<path class="sha" d="M831.4 384.8l6.6 1.9l1.4-2.6l-6.6 3.1z"/>
<path class="siw" d="M769.8 381.6l6.6 11.1l1.4-4.3l-6.6-10.4z"/>
<path class="sdd" d="M708.2 375.7l6.6 0.5l1.4-0.0l-6.6-1.3z"/>
<path class="sjy" d="M646.7 376.4l6.6 6.0l1.4-3.1l-6.6-1.2z"/>
<path class="sh" d="M585.1 425.7l6.6-4.0l1.4-0.9l-6.6-3.5z"/>
<path class="six" d="M848.8 385.6l6.6 4.1l1.4-1.9l-6.6-4.2z"/>
<path class="sjd" d="M787.2 392.1l6.6-3.5l1.4-2.3l-6.6 3.5z"/>
<path class="sdk" d="M725.6 372.9l6.6-1.3l1.4-5.8l-6.6 5.5z"/>
<path class="sbr" d="M664.0 374.2l6.6 7.3l1.4 0.4l-6.6 0.9z"/>
<path class="sq" d="M602.5 422.5l6.6 6.5l1.4-7.5l-6.6-0.4z"/>
<path class="sjm" d="M804.6 387.1l6.6 6.0l1.4-2.8l-6.6 3.5z"/>
<path class="seb" d="M743.0 370.5l6.6 0.2l1.4 1.1l-6.6 1.8z"/>
<path class="sfh" d="M681.4 374.3l6.6 2.2l1.4-6.6l-6.6 1.3z"/>
<path class="sjk" d="M619.9 420.7l6.6 11.2l1.4-8.4l-6.6 0.4z"/>
<path class="sbk" d="M558.3 425.9l6.6 0.1l1.4-2.6l-6.6 5.7z"/>
<path class="sbi" d="M822.0 386.6l6.6-2.4l1.4-2.3l-6.6-0.9z"/>
<path class="sch" d="M760.4 364.7l6.6 20.4l1.4-4.4l-6.6-12.3z"/>
<path class="sca" d="M698.8 383.4l6.6-5.9l1.4-7.8l-6.6 8.9z"/>
<path class="skw" d="M637.2 398.5l6.6 15.1l1.4-22.4l-6.6-12.2z"/>
<path class="skx" d="M575.7 425.1l6.6-2.1l1.4-0.2l-6.6 8.2z"/>
<path class="shy" d="M839.4 384.2l6.6-0.5l1.4 5.1l-6.6-3.5z"/>
<path class="sja" d="M777.8 388.5l6.6-0.3l1.4-2.4l-6.6-2.6z"/>
<path class="sdd" d="M716.2 376.2l6.6 0.6l1.4-0.0l-6.6-3.4z"/>
<path class="she" d="M654.6 379.3l6.6 2.5l1.4-6.8l-6.6 3.2z"/>
<path class="st" d="M593.1 420.9l6.6 4.9l1.4-5.7l-6.6 6.0z"/>
<path class="sha" d="M856.8 387.7l6.6 4.1l1.4-10.1l-6.6 1.6z"/>
<path class="shl" d="M795.2 386.3l6.6-0.6l1.4-3.5l-6.6 2.8z"/>
<path class="scc" d="M733.6 365.7l6.6 12.3l1.4-5.4l-6.6 0.8z"/>
<path class="sby" d="M672.0 381.9l6.6 1.2l1.4-9.1l-6.6 5.8z"/>
<path class="scf" d="M610.4 421.5l6.6 1.0l1.4 7.3l-6.6-3.2z"/>
<path class="scj" d="M548.9 422.0l6.6 2.0l1.4 0.2l-6.6 3.0z"/>
<path class="six" d="M812.6 390.3l6.6-1.7l1.4-4.4l-6.6 2.2z"/>
<path class="sfw" d="M751.0 371.8l6.6-4.0l1.4 0.7l-6.6-1.1z"/>
<path class="sca" d="M689.4 369.9l6.6 9.7l1.4 3.0l-6.6-5.2z"/>
<path class="scf" d="M627.8 423.5l6.6 10.3l1.4-18.3l-6.6 11.5z"/>
<path class="sq" d="M566.3 423.4l6.6 2.1l1.4 0.2l-6.6-4.5z"/>
<path class="shy" d="M830.0 381.9l6.6 7.4l1.4-2.6l-6.6-1.9z"/>
<path class="sjg" d="M768.4 380.8l6.6 5.6l1.4 6.3l-6.6-11.1z"/>
<path class="sch" d="M706.8 369.7l6.6 10.1l1.4-3.6l-6.6-0.5z"/>
<path class="skg" d="M645.2 391.3l6.6-12.0l1.4 3.2l-6.6-6.0z"/>
<path class="sw" d="M583.6 422.8l6.6 1.9l1.4-2.9l-6.6 4.0z"/>
<path class="sjw" d="M847.4 388.7l6.6-0.8l1.4 1.6l-6.6-4.1z"/>
<path class="sjw" d="M785.8 385.8l6.6-0.0l1.4 2.9l-6.6 3.5z"/>
<path class="scz" d="M724.2 376.7l6.6-6.1l1.4 0.9l-6.6 1.3z"/>
<path class="sbx" d="M662.6 375.0l6.6-1.1l1.4 7.6l-6.6-7.3z"/>
<path class="sy" d="M601.0 420.0l6.6 6.4l1.4 2.5l-6.6-6.5z"/>
<path class="six" d="M803.2 382.2l6.6 5.6l1.4 5.4l-6.6-6.0z"/>
<path class="sdk" d="M741.6 372.6l6.6-0.8l1.4-1.2l-6.6-0.2z"/>
<path class="sbw" d="M680.0 373.9l6.6 9.6l1.4-7.0l-6.6-2.2z"/>
<path class="skf" d="M618.4 429.8l6.6-6.5l1.4 8.6l-6.6-11.2z"/>
<path class="skq" d="M556.8 424.2l6.6 0.3l1.4 1.6l-6.6-0.1z"/>
<path class="shv" d="M820.6 384.2l6.6-5.2l1.4 5.1l-6.6 2.4z"/>
<path class="scu" d="M759.0 368.4l6.6 12.9l1.4 3.9l-6.6-20.4z"/>
<path class="sby" d="M697.4 382.6l6.6-4.8l1.4-0.3l-6.6 5.9z"/>
<path class="sia" d="M635.8 415.4l6.6 8.9l1.4-10.7l-6.6-15.1z"/>
<path class="scj" d="M574.2 425.7l6.6 0.4l1.4-3.0l-6.6 2.1z"/>
<path class="sha" d="M838.0 386.8l6.6 5.9l1.4-9.0l-6.6 0.5z"/>
<path class="sgs" d="M776.4 392.8l6.6-2.1l1.4-2.5l-6.6 0.3z"/>
<path class="sdd" d="M714.8 376.2l6.6 1.8l1.4-1.2l-6.6-0.6z"/>
<path class="sjh" d="M653.2 382.4l6.6-2.5l1.4 1.9l-6.6-2.5z"/>
<path class="scg" d="M591.6 421.8l6.6 3.9l1.4 0.1l-6.6-4.9z"/>
<path class="sjd" d="M855.4 389.6l6.6 2.8l1.4-0.6l-6.6-4.1z"/>
<path class="sjw" d="M793.8 388.6l6.6 4.2l1.4-7.2l-6.6 0.6z"/>
<path class="sck" d="M732.2 371.5l6.6 1.1l1.4 5.4l-6.6-12.3z"/>
<path class="sky" d="M670.6 381.5l6.6-3.7l1.4 5.2l-6.6-1.2z"/>
<path class="sq" d="M609.0 429.0l6.6-3.5l1.4-3.0l-6.6-1.0z"/>
<path class="sh" d="M547.4 420.6l6.6 3.6l1.4-0.2l-6.6-2.0z"/>
<path class="skz" d="M811.2 393.1l6.6-6.6l1.4 2.1l-6.6 1.7z"/>
<path class="scx" d="M749.6 370.6l6.6 2.0l1.4-4.9l-6.6 4.0z"/>
<path class="sdg" d="M688.0 376.5l6.6-0.5l1.4 3.6l-6.6-9.7z"/>
<path class="skk" d="M626.4 431.9l6.6-9.4l1.4 11.3l-6.6-10.3z"/>
<path class="sko" d="M564.8 426.1l6.6 6.7l1.4-7.2l-6.6-2.1z"/>
<path class="siw" d="M828.6 384.2l6.6 7.5l1.4-2.3l-6.6-7.4z"/>
<path class="sja" d="M767.0 385.1l6.6 11.9l1.4-10.6l-6.6-5.6z"/>
<path class="sbx" d="M705.4 377.5l6.6 2.1l1.4 0.3l-6.6-10.1z"/>
<path class="sla" d="M643.8 413.6l6.6-22.6l1.4-11.8l-6.6 12.0z"/>
<path class="scg" d="M582.2 423.1l6.6 1.5l1.4 0.2l-6.6-1.9z"/>
<path class="sha" d="M846.0 383.7l6.6 5.2l1.4-0.9l-6.6 0.8z"/>
<path class="sja" d="M784.4 388.2l6.6 2.1l1.4-4.5l-6.6 0.0z"/>
<path class="sfh" d="M722.8 376.8l6.6-4.0l1.4-2.1l-6.6 6.1z"/>
<path class="sbn" d="M661.2 381.8l6.6-1.0l1.4-6.9l-6.6 1.1z"/>
<path class="scj" d="M599.6 425.7l6.6 4.5l1.4-3.8l-6.6-6.4z"/>
<path class="sbi" d="M801.8 385.7l6.6-2.3l1.4 4.4l-6.6-5.6z"/>
<path class="scc" d="M740.2 378.1l6.6-7.4l1.4 1.1l-6.6 0.8z"/>
<path class="shb" d="M678.6 383.1l6.6-3.2l1.4 3.7l-6.6-9.6z"/>
<path class="sjk" d="M617.0 422.5l6.6 8.3l1.4-7.5l-6.6 6.5z"/>
<path class="sq" d="M555.4 424.0l6.6 4.1l1.4-3.6l-6.6-0.3z"/>
<path class="shl" d="M819.2 388.7l6.6 2.5l1.4-12.0l-6.6 5.2z"/>
<path class="sdg" d="M757.6 367.7l6.6 19.1l1.4-5.6l-6.6-12.9z"/>
<path class="sgz" d="M696.0 379.6l6.6-1.6l1.4-0.1l-6.6 4.8z"/>
<path class="sbh" d="M634.4 433.7l6.6-12.0l1.4 2.6l-6.6-8.9z"/>
<path class="skq" d="M572.8 425.6l6.6 1.0l1.4-0.4l-6.6-0.4z"/>
<path class="siy" d="M836.6 389.4l6.6 1.2l1.4 2.0l-6.6-5.9z"/>
<path class="six" d="M775.0 386.4l6.6-2.7l1.4 7.0l-6.6 2.1z"/>
<path class="sbx" d="M713.4 379.8l6.6-5.7l1.4 3.8l-6.6-1.8z"/>
<path class="skg" d="M651.8 379.2l6.6 12.7l1.4-12.0l-6.6 2.5z"/>
<path class="sbo" d="M590.2 424.7l6.6-1.9l1.4 2.8l-6.6-3.9z"/>
<path class="sgs" d="M854.0 388.0l6.6 4.4l1.4 0.1l-6.6-2.8z"/>
<path class="sgl" d="M792.4 385.8l6.6 2.7l1.4 4.4l-6.6-4.2z"/>
<path class="scm" d="M730.8 370.7l6.6 6.9l1.4-4.9l-6.6-1.1z"/>
<path class="sbn" d="M669.2 373.9l6.6 6.6l1.4-2.7l-6.6 3.7z"/>
<path class="skm" d="M607.6 426.4l6.6-0.4l1.4-0.6l-6.6 3.5z"/>
<path class="sw" d="M546.0 424.6l6.6 6.2l1.4-6.6l-6.6-3.6z"/>
<path class="sjs" d="M809.8 387.7l6.6 4.6l1.4-5.8l-6.6 6.6z"/>
<path class="sck" d="M748.2 371.8l6.6 4.8l1.4-4.0l-6.6-2.0z"/>
<path class="sca" d="M686.6 383.5l6.6-3.1l1.4-4.4l-6.6 0.5z"/>
<path class="sjk" d="M625.0 423.2l6.6 7.8l1.4-8.6l-6.6 9.4z"/>
<path class="sbj" d="M563.4 424.4l6.6-7.4l1.4 15.7l-6.6-6.7z"/>
<path class="sha" d="M827.2 379.1l6.6 17.3l1.4-4.7l-6.6-7.5z"/>
<path class="sha" d="M765.6 381.3l6.6 6.6l1.4 9.2l-6.6-11.9z"/>
<path class="sca" d="M704.0 377.8l6.6 4.3l1.4-2.6l-6.6-2.1z"/>
<path class="sel" d="M642.4 424.3l6.6-17.9l1.4-15.4l-6.6 22.6z"/>
<path class="skq" d="M580.8 426.1l6.6 5.6l1.4-7.1l-6.6-1.5z"/>
<path class="siu" d="M844.6 392.6l6.6-4.4l1.4 0.7l-6.6-5.2z"/>
<path class="six" d="M783.0 390.7l6.6-4.0l1.4 3.6l-6.6-2.1z"/>
<path class="scq" d="M721.4 378.0l6.6-1.9l1.4-3.3l-6.6 4.0z"/>
<path class="she" d="M659.8 379.9l6.6-1.0l1.4 1.9l-6.6 1.0z"/>
<path class="skm" d="M598.2 425.7l6.6 0.8l1.4 3.8l-6.6-4.5z"/>
<path class="sha" d="M800.4 392.8l6.6-2.6l1.4-6.9l-6.6 2.3z"/>
<path class="scc" d="M738.8 372.6l6.6 2.3l1.4-4.2l-6.6 7.4z"/>
<path class="shb" d="M677.2 377.8l6.6 4.3l1.4-2.3l-6.6 3.2z"/>
<path class="sw" d="M615.6 425.4l6.6-1.5l1.4 6.8l-6.6-8.3z"/>
<path class="sjk" d="M554.0 424.2l6.6 8.9l1.4-5.1l-6.6-4.1z"/>
<path class="sjw" d="M817.8 386.5l6.6 5.7l1.4-1.1l-6.6-2.5z"/>
<path class="scu" d="M756.2 372.6l6.6 5.9l1.4 8.4l-6.6-19.1z"/>
<path class="sdd" d="M694.6 376.0l6.6 3.6l1.4-1.7l-6.6 1.6z"/>
<path class="sq" d="M633.0 422.5l6.6 3.6l1.4-4.3l-6.6 12.0z"/>
<path class="skk" d="M571.4 432.7l6.6-0.9l1.4-5.3l-6.6-1.0z"/>
<path class="sji" d="M835.2 391.7l6.6 0.5l1.4-1.6l-6.6-1.2z"/>
<path class="sjw" d="M773.6 397.0l6.6-5.2l1.4-8.1l-6.6 2.7z"/>
<path class="sdd" d="M712.0 379.6l6.6-0.1l1.4-5.4l-6.6 5.7z"/>
<path class="sjq" d="M650.4 391.0l6.6 15.1l1.4-14.1l-6.6-12.7z"/>
<path class="sw" d="M588.8 424.5l6.6 6.8l1.4-8.4l-6.6 1.9z"/>
<path class="sha" d="M852.6 388.9l6.6-4.7l1.4 8.1l-6.6-4.4z"/>
<path class="siw" d="M791.0 390.3l6.6-2.7l1.4 0.9l-6.6-2.7z"/>
<path class="sfh" d="M729.4 372.8l6.6 8.3l1.4-3.5l-6.6-6.9z"/>
<path class="sbn" d="M667.8 380.8l6.6-0.1l1.4-0.2l-6.6-6.6z"/>
<path class="sko" d="M606.2 430.2l6.6 0.1l1.4-4.4l-6.6 0.4z"/>
<path class="sja" d="M808.4 383.4l6.6 8.2l1.4 0.8l-6.6-4.6z"/>
<path class="sdk" d="M746.8 370.7l6.6 2.1l1.4 3.8l-6.6-4.8z"/>
<path class="skb" d="M685.2 379.9l6.6 8.6l1.4-8.1l-6.6 3.1z"/>
<path class="skt" d="M623.6 430.7l6.6 3.7l1.4-3.4l-6.6-7.8z"/>
<path class="sh" d="M562.0 428.1l6.6 0.7l1.4-11.7l-6.6 7.4z"/>
<path class="sgl" d="M825.8 391.1l6.6 1.7l1.4 3.5l-6.6-17.3z"/>
<path class="sbi" d="M764.2 386.8l6.6 2.0l1.4-1.0l-6.6-6.6z"/>
<path class="sgz" d="M702.6 377.9l6.6 6.4l1.4-2.2l-6.6-4.3z"/>
<path class="sv" d="M641.0 421.7l6.6-1.7l1.4-13.6l-6.6 17.9z"/>
<path class="scj" d="M579.4 426.5l6.6-3.2l1.4 8.4l-6.6-5.6z"/>
<path class="sjw" d="M843.1 390.6l6.6-1.4l1.4-1.1l-6.6 4.4z"/>
<path class="shy" d="M781.6 383.7l6.6 6.4l1.4-3.4l-6.6 4.0z"/>
<path class="scz" d="M720.0 374.2l6.6-0.7l1.4 2.6l-6.6 1.9z"/>
<path class="sjv" d="M658.4 391.9l6.6-13.2l1.4 0.2l-6.6 1.0z"/>
<path class="st" d="M596.8 422.8l6.6 5.1l1.4-1.5l-6.6-0.8z"/>
<path class="sji" d="M799.0 388.5l6.6 6.6l1.4-4.8l-6.6 2.6z"/>
<path class="sfh" d="M737.4 377.6l6.6 1.4l1.4-4.0l-6.6-2.3z"/>
<path class="sbw" d="M675.8 380.5l6.6-4.8l1.4 6.4l-6.6-4.3z"/>
<path class="scj" d="M614.2 426.0l6.6 7.3l1.4-9.4l-6.6 1.5z"/>
<path class="skf" d="M552.6 430.8l6.6-4.8l1.4 7.1l-6.6-8.9z"/>
<path class="six" d="M816.3 392.3l6.6-3.7l1.4 3.6l-6.6-5.7z"/>
<path class="sch" d="M754.8 376.6l6.6 7.3l1.4-5.4l-6.6-5.9z"/>
<path class="sca" d="M693.2 380.4l6.6 3.7l1.4-4.4l-6.6-3.6z"/>
<path class="sw" d="M631.6 431.0l6.6-5.7l1.4 0.7l-6.6-3.6z"/>
<path class="scf" d="M570.0 417.0l6.6 12.3l1.4 2.4l-6.6 0.9z"/>
<path class="sjq" d="M833.7 396.4l6.6-5.9l1.4 1.8l-6.6-0.5z"/>
<path class="sgs" d="M772.2 387.8l6.6 4.3l1.4-0.3l-6.6 5.2z"/>
<path class="sgz" d="M710.6 382.1l6.6 1.3l1.4-3.9l-6.6 0.1z"/>
<path class="slb" d="M649.0 406.4l6.6 13.8l1.4-14.2l-6.6-15.1z"/>
<path class="scf" d="M587.4 431.7l6.6-8.5l1.4 8.1l-6.6-6.8z"/>
<path class="siw" d="M851.1 388.2l6.6 5.3l1.4-9.3l-6.6 4.7z"/>
<path class="siw" d="M789.5 386.7l6.6 3.4l1.4-2.5l-6.6 2.7z"/>
<path class="scu" d="M728.0 376.1l6.6 2.9l1.4 2.1l-6.6-8.3z"/>
<path class="sce" d="M666.4 378.9l6.6 9.8l1.4-8.0l-6.6 0.1z"/>
<path class="slc" d="M604.8 426.4l6.6 5.4l1.4-1.5l-6.6-0.1z"/>
<path class="sjg" d="M806.9 390.2l6.6-2.5l1.4 3.9l-6.6-8.2z"/>
<path class="sdk" d="M745.4 374.9l6.6 3.0l1.4-5.1l-6.6-2.1z"/>
<path class="shs" d="M683.8 382.1l6.6 12.5l1.4-6.2l-6.6-8.6z"/>
<path class="sld" d="M622.2 423.9l6.6 4.2l1.4 6.3l-6.6-3.7z"/>
<path class="sku" d="M560.6 433.1l6.6 1.7l1.4-6.2l-6.6-0.7z"/>
<path class="siy" d="M824.3 392.2l6.6-1.5l1.4 2.1l-6.6-1.7z"/>
<path class="sip" d="M762.7 378.5l6.6 4.7l1.4 5.6l-6.6-2.0z"/>
<path class="sca" d="M701.2 379.6l6.6 1.3l1.4 3.4l-6.6-6.4z"/>
<path class="sb" d="M639.6 426.0l6.6-1.6l1.4-4.4l-6.6 1.7z"/>
<path class="scj" d="M578.0 431.8l6.6-2.8l1.4-5.7l-6.6 3.2z"/>
<path class="sjs" d="M841.7 392.2l6.6 2.2l1.4-5.2l-6.6 1.4z"/>
<path class="sja" d="M780.1 391.9l6.6 1.4l1.4-3.1l-6.6-6.4z"/>
<path class="scd" d="M718.6 379.5l6.6 1.1l1.4-7.1l-6.6 0.7z"/>
<path class="sjw" d="M657.0 406.0l6.6-19.1l1.4-8.3l-6.6 13.2z"/>
<path class="sjk" d="M595.4 431.3l6.6 0.9l1.4-4.2l-6.6-5.1z"/>
<path class="sjs" d="M797.5 387.6l6.6 8.3l1.4-0.8l-6.6-6.6z"/>
<path class="sbx" d="M735.9 381.1l6.6-2.3l1.4 0.2l-6.6-1.4z"/>
<path class="sdd" d="M674.4 380.7l6.6-0.5l1.4-4.4l-6.6 4.8z"/>
<path class="sko" d="M612.8 430.4l6.6-2.1l1.4 5.1l-6.6-7.3z"/>
<path class="sjw" d="M814.9 391.6l6.6 0.8l1.4-3.7l-6.6 3.7z"/>
<path class="sbn" d="M753.3 372.8l6.6 15.2l1.4-4.2l-6.6-7.3z"/>
<path class="sbr" d="M691.8 388.5l6.6-5.3l1.4 0.9l-6.6-3.7z"/>
<path class="sbk" d="M630.2 434.4l6.6-6.1l1.4-3.0l-6.6 5.7z"/>
<path class="sle" d="M568.6 428.7l6.6-2.7l1.4 3.3l-6.6-12.3z"/>
<path class="sjd" d="M832.3 392.8l6.6 0.0l1.4-2.4l-6.6 5.9z"/>
<path class="shy" d="M770.7 388.8l6.6-2.4l1.4 5.7l-6.6-4.3z"/>
<path class="sce" d="M709.1 384.3l6.6-3.9l1.4 3.0l-6.6-1.3z"/>
<path class="sid" d="M647.6 420.0l6.6 2.1l1.4-1.9l-6.6-13.8z"/>
<path class="sh" d="M586.0 423.3l6.6 0.8l1.4-1.0l-6.6 8.5z"/>
<path class="six" d="M849.7 389.3l6.6 2.9l1.4 1.4l-6.6-5.3z"/>
<path class="sha" d="M788.1 390.1l6.6 2.5l1.4-2.5l-6.6-3.4z"/>
<path class="scz" d="M726.5 373.5l6.6 3.2l1.4 2.3l-6.6-2.9z"/>
<path class="shg" d="M665.0 378.7l6.6 29.2l1.4-19.2l-6.6-9.8z"/>
<path class="sbk" d="M603.4 427.9l6.6 7.1l1.4-3.2l-6.6-5.4z"/>
<path class="six" d="M805.5 395.1l6.6-4.7l1.4-2.7l-6.6 2.5z"/>
<path class="scd" d="M743.9 378.9l6.6-0.6l1.4-0.4l-6.6-3.0z"/>
<path class="siu" d="M682.3 375.7l6.6 33.4l1.4-14.5l-6.6-12.5z"/>
<path class="skq" d="M620.8 433.3l6.6-5.0l1.4-0.2l-6.6-4.2z"/>
<path class="skk" d="M559.2 426.0l6.6 3.6l1.4 5.2l-6.6-1.7z"/>
<path class="sjs" d="M822.9 388.6l6.6 8.7l1.4-6.6l-6.6 1.5z"/>
<path class="sce" d="M761.3 383.9l6.6 3.3l1.4-3.9l-6.6-4.7z"/>
<path class="sca" d="M699.7 384.1l6.6-3.7l1.4 0.5l-6.6-1.3z"/>
<path class="scg" d="M638.2 425.4l6.6 5.6l1.4-6.5l-6.6 1.6z"/>
<path class="sbk" d="M576.6 429.4l6.6 2.3l1.4-2.7l-6.6 2.8z"/>
<path class="six" d="M840.3 390.4l6.6-3.5l1.4 7.5l-6.6-2.2z"/>
<path class="sjf" d="M778.7 392.2l6.6-0.9l1.4 2.0l-6.6-1.4z"/>
<path class="sbw" d="M717.1 383.5l6.6-5.7l1.4 2.8l-6.6-1.1z"/>
<path class="sci" d="M655.5 420.2l6.6-15.3l1.4-17.9l-6.6 19.1z"/>
<path class="skx" d="M594.0 423.1l6.6 9.0l1.4-0.0l-6.6-0.9z"/>
<path class="sgl" d="M796.1 390.1l6.6 2.7l1.4 3.0l-6.6-8.3z"/>
<path class="sbn" d="M734.5 379.0l6.6 6.0l1.4-6.2l-6.6 2.3z"/>
<path class="sjh" d="M672.9 388.7l6.6-1.6l1.4-7.0l-6.6 0.5z"/>
<path class="skf" d="M611.4 431.8l6.6-2.6l1.4-0.9l-6.6 2.1z"/>
<path class="siu" d="M813.5 387.7l6.6 3.6l1.4 1.1l-6.6-0.8z"/>
<path class="sbw" d="M751.9 377.9l6.6 6.8l1.4 3.3l-6.6-15.2z"/>
<path class="sbi" d="M690.3 394.6l6.6-9.6l1.4-1.9l-6.6 5.3z"/>
<path class="sko" d="M628.7 428.1l6.6 2.7l1.4-2.5l-6.6 6.1z"/>
<path class="sbk" d="M567.2 434.9l6.6-1.2l1.4-7.6l-6.6 2.7z"/>
<path class="siv" d="M830.9 390.7l6.6-2.7l1.4 4.9l-6.6-0.0z"/>
<path class="shl" d="M769.3 383.2l6.6 14.6l1.4-11.4l-6.6 2.4z"/>
<path class="sde" d="M707.7 380.9l6.6 1.6l1.4-2.1l-6.6 3.9z"/>
<path class="slf" d="M646.1 424.4l6.6-4.2l1.4 1.9l-6.6-2.1z"/>
<path class="sbj" d="M584.6 429.0l6.6 5.6l1.4-10.5l-6.6-0.8z"/>
<path class="sjf" d="M848.3 394.4l6.6-0.1l1.4-2.2l-6.6-2.9z"/>
<path class="siy" d="M786.7 393.3l6.6 2.5l1.4-3.1l-6.6-2.5z"/>
<path class="scz" d="M725.1 380.6l6.6-3.3l1.4-0.7l-6.6-3.2z"/>
<path class="sfo" d="M663.5 387.0l6.6 26.2l1.4-5.2l-6.6-29.2z"/>
<path class="sku" d="M601.9 432.2l6.6 2.6l1.4 0.2l-6.6-7.1z"/>
<path class="six" d="M804.1 395.9l6.6-10.0l1.4 4.5l-6.6 4.7z"/>
<path class="scc" d="M742.5 378.8l6.6-8.4l1.4 7.9l-6.6 0.6z"/>
<path class="sjl" d="M680.9 380.2l6.6 35.6l1.4-6.6l-6.6-33.4z"/>
<path class="sw" d="M619.3 428.3l6.6-5.8l1.4 5.9l-6.6 5.0z"/>
<path class="sjb" d="M821.5 392.3l6.6-0.1l1.4 5.1l-6.6-8.7z"/>
<path class="shs" d="M759.9 388.0l6.6 5.5l1.4-6.4l-6.6-3.3z"/>
<path class="shb" d="M698.3 383.2l6.6 3.1l1.4-5.9l-6.6 3.7z"/>
<path class="st" d="M636.7 428.3l6.6-1.7l1.4 4.3l-6.6-5.6z"/>
<path class="skx" d="M575.1 426.0l6.6 8.1l1.4-2.5l-6.6-2.3z"/>
<path class="sgl" d="M838.9 392.9l6.6 5.1l1.4-11.0l-6.6 3.5z"/>
<path class="skh" d="M777.3 386.4l6.6-0.1l1.4 4.9l-6.6 0.9z"/>
<path class="sdd" d="M715.7 380.4l6.6 0.6l1.4-3.2l-6.6 5.7z"/>
<path class="sin" d="M654.1 422.1l6.6 0.8l1.4-18.0l-6.6 15.3z"/>
<path class="sh" d="M592.5 424.1l6.6 3.4l1.4 4.7l-6.6-9.0z"/>
<path class="sgl" d="M794.7 392.6l6.6 1.2l1.4-1.0l-6.6-2.7z"/>
<path class="sdg" d="M733.1 376.6l6.6 0.9l1.4 7.4l-6.6-6.0z"/>
<path class="slg" d="M671.5 407.9l6.6-12.3l1.4-8.5l-6.6 1.6z"/>
<path class="sbk" d="M609.9 435.0l6.6-5.0l1.4-0.8l-6.6 2.6z"/>
<path class="sha" d="M812.1 390.4l6.6 4.7l1.4-3.9l-6.6-3.6z"/>
<path class="sde" d="M750.5 378.3l6.6 11.5l1.4-5.1l-6.6-6.8z"/>
<path class="sjd" d="M688.9 409.1l6.6-19.5l1.4-4.6l-6.6 9.6z"/>
<path class="sw" d="M627.3 428.3l6.6-1.1l1.4 3.5l-6.6-2.7z"/>
<path class="skk" d="M565.7 429.6l6.6 0.8l1.4 3.2l-6.6 1.2z"/>
<path class="six" d="M829.5 397.3l6.6-5.3l1.4-4.1l-6.6 2.7z"/>
<path class="sha" d="M767.9 387.1l6.6 9.7l1.4 1.0l-6.6-14.6z"/>
<path class="sca" d="M706.3 380.4l6.6 5.0l1.4-2.8l-6.6-1.6z"/>
<path class="sz" d="M644.7 430.9l6.6-9.3l1.4-1.4l-6.6 4.2z"/>
<path class="skf" d="M583.1 431.7l6.6-2.8l1.4 5.7l-6.6-5.6z"/>
<path class="sjo" d="M846.9 387.0l6.6 1.8l1.4 5.6l-6.6 0.1z"/>
<path class="sjb" d="M785.3 391.2l6.6 1.6l1.4 2.9l-6.6-2.5z"/>
<path class="scu" d="M723.7 377.8l6.6 4.5l1.4-4.9l-6.6 3.3z"/>
<path class="sci" d="M662.1 404.9l6.6 13.4l1.4-5.1l-6.6-26.2z"/>
<path class="skt" d="M600.5 432.2l6.6-1.1l1.4 3.7l-6.6-2.6z"/>
<path class="shy" d="M802.7 392.8l6.6-4.7l1.4-2.2l-6.6 10.0z"/>
<path class="scc" d="M741.1 385.0l6.6-9.3l1.4-5.3l-6.6 8.4z"/>
<path class="sfn" d="M679.5 387.1l6.6 28.5l1.4 0.2l-6.6-35.6z"/>
<path class="scf" d="M617.9 429.2l6.6 11.8l1.4-18.6l-6.6 5.8z"/>
<path class="sja" d="M820.1 391.3l6.6 0.0l1.4 0.9l-6.6 0.1z"/>
<path class="sbi" d="M758.5 384.7l6.6 6.2l1.4 2.6l-6.6-5.5z"/>
<path class="sjh" d="M696.9 385.0l6.6 2.6l1.4-1.4l-6.6-3.1z"/>
<path class="sbs" d="M635.3 430.8l6.6 1.8l1.4-5.9l-6.6 1.7z"/>
<path class="slh" d="M573.7 433.7l6.6 2.9l1.4-2.4l-6.6-8.1z"/>
<path class="sjw" d="M837.5 388.0l6.6 5.5l1.4 4.5l-6.6-5.1z"/>
<path class="siw" d="M775.9 397.8l6.6-3.4l1.4-8.1l-6.6 0.1z"/>
<path class="sdg" d="M714.3 382.5l6.6-5.8l1.4 4.3l-6.6-0.6z"/>
<path class="sli" d="M652.7 420.2l6.6 6.6l1.4-3.9l-6.6-0.8z"/>
<path class="scf" d="M591.1 434.6l6.6 0.2l1.4-7.4l-6.6-3.4z"/>
<path class="sjt" d="M793.3 395.7l6.6-0.7l1.4-1.2l-6.6-1.2z"/>
<path class="scz" d="M731.7 377.3l6.6 4.1l1.4-3.9l-6.6-0.9z"/>
<path class="sci" d="M670.1 413.2l6.6-4.9l1.4-12.6l-6.6 12.3z"/>
<path class="skk" d="M608.5 434.8l6.6-4.4l1.4-0.5l-6.6 5.0z"/>
<path class="sja" d="M810.7 385.9l6.6 11.0l1.4-1.7l-6.6-4.7z"/>
<path class="sdo" d="M749.1 370.4l6.6 16.0l1.4 3.4l-6.6-11.5z"/>
<path class="sfb" d="M687.5 415.8l6.6-33.4l1.4 7.3l-6.6 19.5z"/>
<path class="sm" d="M625.9 422.5l6.6 4.8l1.4-0.0l-6.6 1.1z"/>
<path class="siy" d="M828.1 392.2l6.6 3.1l1.4-3.2l-6.6 5.3z"/>
<path class="sjw" d="M766.5 393.5l6.6 2.6l1.4 0.6l-6.6-9.7z"/>
<path class="sgz" d="M704.9 386.2l6.6-2.3l1.4 1.4l-6.6-5.0z"/>
<path class="sa" d="M643.3 426.6l6.6-1.6l1.4-3.4l-6.6 9.3z"/>
<path class="sjk" d="M581.7 434.2l6.6-3.8l1.4-1.5l-6.6 2.8z"/>
<path class="siw" d="M845.5 398.0l6.6-5.0l1.4-4.2l-6.6-1.8z"/>
<path class="shg" d="M783.9 386.3l6.6 7.2l1.4-0.7l-6.6-1.6z"/>
<path class="sch" d="M722.3 381.0l6.6 2.6l1.4-1.4l-6.6-4.5z"/>
<path class="sdh" d="M660.7 422.9l6.6-8.1l1.4 3.5l-6.6-13.4z"/>
<path class="slc" d="M599.1 427.5l6.6 12.4l1.4-8.8l-6.6 1.1z"/>
<path class="siu" d="M801.3 393.8l6.6 2.2l1.4-7.9l-6.6 4.7z"/>
<path class="shi" d="M739.7 377.5l6.6-1.5l1.4-0.4l-6.6 9.3z"/>
<path class="sfs" d="M678.1 395.7l6.6 19.6l1.4 0.3l-6.6-28.5z"/>
<path class="ski" d="M616.5 430.0l6.6 7.9l1.4 3.2l-6.6-11.8z"/>
<path class="sja" d="M818.7 395.1l6.6-3.0l1.4-0.8l-6.6-0.0z"/>
<path class="shl" d="M757.1 389.8l6.6 6.7l1.4-5.6l-6.6-6.2z"/>
<path class="sbr" d="M695.5 389.7l6.6-5.1l1.4 3.0l-6.6-2.6z"/>
<path class="scg" d="M633.9 427.3l6.6-1.9l1.4 7.2l-6.6-1.8z"/>
<path class="skn" d="M572.3 430.4l6.6 0.8l1.4 5.4l-6.6-2.9z"/>
<path class="sha" d="M836.1 392.1l6.6 4.3l1.4-2.9l-6.6-5.5z"/>
<path class="slj" d="M774.5 396.8l6.6-3.2l1.4 0.8l-6.6 3.4z"/>
<path class="sbw" d="M712.9 385.3l6.6 0.9l1.4-9.6l-6.6 5.8z"/>
<path class="sn" d="M651.3 421.7l6.6 0.3l1.4 4.8l-6.6-6.6z"/>
<path class="sko" d="M589.7 428.9l6.6 2.0l1.4 3.9l-6.6-0.2z"/>
<path class="sjs" d="M791.9 392.8l6.6 2.0l1.4 0.1l-6.6 0.7z"/>
<path class="sdg" d="M730.3 382.2l6.6 0.3l1.4-1.2l-6.6-4.1z"/>
<path class="shf" d="M668.7 418.3l6.6-1.3l1.4-8.8l-6.6 4.9z"/>
<path class="skn" d="M607.1 431.1l6.6 5.1l1.4-5.8l-6.6 4.4z"/>
<path class="skh" d="M809.3 388.1l6.6 3.1l1.4 5.7l-6.6-11.0z"/>
<path class="sch" d="M747.7 375.7l6.6 17.2l1.4-6.4l-6.6-16.0z"/>
<path class="sfn" d="M686.1 415.6l6.6-26.9l1.4-6.4l-6.6 33.4z"/>
<path class="sq" d="M624.5 441.0l6.6-10.2l1.4-3.5l-6.6-4.8z"/>
<path class="sha" d="M826.7 391.3l6.6 0.5l1.4 3.5l-6.6-3.1z"/>
<path class="six" d="M765.1 390.9l6.6 3.6l1.4 1.7l-6.6-2.6z"/>
<path class="sky" d="M703.5 387.6l6.6 1.7l1.4-5.4l-6.6 2.3z"/>
<path class="sa" d="M641.9 432.6l6.6-9.8l1.4 2.3l-6.6 1.6z"/>
<path class="sku" d="M580.3 436.6l6.6 1.1l1.4-7.3l-6.6 3.8z"/>
<path class="sjb" d="M844.0 393.4l6.6 0.7l1.4-1.2l-6.6 5.0z"/>
<path class="siw" d="M782.5 394.4l6.6 0.6l1.4-1.4l-6.6-7.2z"/>
<path class="scu" d="M720.9 376.7l6.6 5.3l1.4 1.6l-6.6-2.6z"/>
<path class="sbl" d="M659.3 426.8l6.6-5.3l1.4-6.6l-6.6 8.1z"/>
<path class="sko" d="M597.7 434.8l6.6-6.1l1.4 11.1l-6.6-12.4z"/>
<path class="sjs" d="M799.9 395.0l6.6 0.2l1.4 0.8l-6.6-2.2z"/>
<path class="scz" d="M738.3 381.4l6.6 2.1l1.4-7.5l-6.6 1.5z"/>
<path class="sfd" d="M676.7 408.3l6.6 9.5l1.4-2.5l-6.6-19.6z"/>
<path class="sko" d="M615.1 430.4l6.6 2.9l1.4 4.5l-6.6-7.9z"/>
<path class="sjb" d="M817.2 396.9l6.6-1.4l1.4-3.3l-6.6 3.0z"/>
<path class="sbi" d="M755.7 386.4l6.6 4.1l1.4 6.0l-6.6-6.7z"/>
<path class="sjn" d="M694.1 382.4l6.6 18.0l1.4-15.7l-6.6 5.1z"/>
<path class="sm" d="M632.5 427.3l6.6 2.9l1.4-4.9l-6.6 1.9z"/>
<path class="sjb" d="M834.6 395.3l6.6 0.2l1.4 0.8l-6.6-4.3z"/>
<path class="sgl" d="M773.1 396.2l6.6-5.3l1.4 2.7l-6.6 3.2z"/>
<path class="sce" d="M711.5 383.9l6.6 5.6l1.4-3.2l-6.6-0.9z"/>
<path class="sis" d="M649.9 425.1l6.6-5.7l1.4 2.6l-6.6-0.3z"/>
<path class="sh" d="M588.3 430.4l6.6-4.4l1.4 4.9l-6.6-2.0z"/>
<path class="siu" d="M790.4 393.5l6.6-0.4l1.4 1.7l-6.6-2.0z"/>
<path class="sbw" d="M728.9 383.6l6.6 1.7l1.4-2.8l-6.6-0.3z"/>
<path class="sdh" d="M667.3 414.8l6.6 0.4l1.4 1.8l-6.6 1.3z"/>
<path class="skt" d="M605.7 439.8l6.6-8.7l1.4 5.0l-6.6-5.1z"/>
<path class="shl" d="M807.8 396.0l6.6-3.8l1.4-1.1l-6.6-3.1z"/>
<path class="sdb" d="M746.3 376.0l6.6 19.7l1.4-2.9l-6.6-17.2z"/>
<path class="sga" d="M684.7 415.3l6.6-18.7l1.4-7.9l-6.6 26.9z"/>
<path class="slk" d="M623.1 437.9l6.6-1.2l1.4-5.9l-6.6 10.2z"/>
<path class="sbi" d="M825.2 392.1l6.6-3.8l1.4 3.5l-6.6-0.5z"/>
<path class="sjo" d="M763.6 396.5l6.6-5.6l1.4 3.6l-6.6-3.6z"/>
<path class="sjh" d="M702.1 384.6l6.6 3.3l1.4 1.4l-6.6-1.7z"/>
<path class="sf" d="M640.5 425.3l6.6 8.0l1.4-10.6l-6.6 9.8z"/>
<path class="sko" d="M578.9 431.2l6.6-3.3l1.4 9.8l-6.6-1.1z"/>
<path class="sjo" d="M842.6 396.3l6.6-6.7l1.4 4.6l-6.6-0.7z"/>
<path class="sji" d="M781.0 393.6l6.6 8.8l1.4-7.4l-6.6-0.6z"/>
<path class="sdo" d="M719.5 386.3l6.6-0.3l1.4-4.0l-6.6-5.3z"/>
<path class="ss" d="M657.9 422.0l6.6 1.8l1.4-2.3l-6.6 5.3z"/>
<path class="scf" d="M596.3 430.9l6.6 3.4l1.4-5.5l-6.6 6.1z"/>
<path class="sjt" d="M798.4 394.9l6.6 4.9l1.4-4.6l-6.6-0.2z"/>
<path class="sch" d="M736.8 382.6l6.6 0.6l1.4 0.3l-6.6-2.1z"/>
<path class="sll" d="M675.3 417.0l6.6-6.3l1.4 7.0l-6.6-9.5z"/>
<path class="sjk" d="M613.7 436.2l6.6-4.5l1.4 1.7l-6.6-2.9z"/>
<path class="sjb" d="M815.8 391.1l6.6 8.1l1.4-3.9l-6.6 1.4z"/>
<path class="shv" d="M754.2 392.8l6.6-0.8l1.4-1.5l-6.6-4.1z"/>
<path class="six" d="M692.7 388.7l6.6 18.8l1.4-7.2l-6.6-18.0z"/>
<path class="sw" d="M631.1 430.8l6.6 5.6l1.4-6.1l-6.6-2.9z"/>
<path class="siv" d="M833.2 391.8l6.6 3.5l1.4 0.3l-6.6-0.2z"/>
<path class="siu" d="M771.6 394.5l6.6 0.9l1.4-4.5l-6.6 5.3z"/>
<path class="sjh" d="M710.0 389.3l6.6-1.5l1.4 1.7l-6.6-5.6z"/>
<path class="sbc" d="M648.5 422.8l6.6 7.4l1.4-10.8l-6.6 5.7z"/>
<path class="scj" d="M586.9 437.7l6.6-3.8l1.4-7.9l-6.6 4.4z"/>
<path class="siw" d="M789.0 395.0l6.6-2.3l1.4 0.5l-6.6 0.4z"/>
<path class="sdd" d="M727.4 382.0l6.6 1.7l1.4 1.7l-6.6-1.7z"/>
<path class="slm" d="M665.9 421.5l6.6-5.7l1.4-0.5l-6.6-0.4z"/>
<path class="skf" d="M604.3 428.8l6.6 5.9l1.4-3.5l-6.6 8.7z"/>
<path class="sjw" d="M806.4 395.2l6.6 3.2l1.4-6.1l-6.6 3.8z"/>
<path class="she" d="M744.8 383.5l6.6 7.2l1.4 5.0l-6.6-19.7z"/>
<path class="sdz" d="M683.2 417.8l6.6-1.9l1.4-19.2l-6.6 18.7z"/>
<path class="skk" d="M621.7 433.3l6.6-1.0l1.4 4.3l-6.6 1.2z"/>
<path class="sbi" d="M823.8 395.4l6.6-5.0l1.4-2.2l-6.6 3.8z"/>
<path class="shg" d="M762.2 390.5l6.6 2.9l1.4-2.5l-6.6 5.6z"/>
<path class="skg" d="M700.6 400.3l6.6-12.2l1.4-0.3l-6.6-3.3z"/>
<path class="sk" d="M639.1 430.2l6.6-3.5l1.4 6.6l-6.6-8.0z"/>
<path class="siu" d="M841.2 395.5l6.6 2.0l1.4-8.0l-6.6 6.7z"/>
<path class="sjb" d="M779.6 390.9l6.6 6.3l1.4 5.2l-6.6-8.8z"/>
<path class="sce" d="M718.0 389.5l6.6-2.6l1.4-0.9l-6.6 0.3z"/>
<path class="sdj" d="M656.4 419.4l6.6-1.9l1.4 6.3l-6.6-1.8z"/>
<path class="sh" d="M594.9 426.0l6.6 4.1l1.4 4.2l-6.6-3.4z"/>
<path class="sha" d="M797.0 393.2l6.6-3.3l1.4 9.9l-6.6-4.9z"/>
<path class="sbw" d="M735.4 385.4l6.6 1.7l1.4-3.9l-6.6-0.6z"/>
<path class="sel" d="M673.8 415.2l6.6 3.3l1.4-7.8l-6.6 6.3z"/>
<path class="sjk" d="M612.3 431.2l6.6 3.7l1.4-3.2l-6.6 4.5z"/>
<path class="sjs" d="M814.4 392.2l6.6 11.7l1.4-4.7l-6.6-8.1z"/>
<path class="siw" d="M752.8 395.7l6.6 0.3l1.4-4.0l-6.6 0.8z"/>
<path class="sfb" d="M691.2 396.6l6.6 17.8l1.4-6.9l-6.6-18.8z"/>
<path class="sko" d="M629.6 436.7l6.6-2.5l1.4 2.2l-6.6-5.6z"/>
<path class="sbi" d="M831.8 388.3l6.6 5.5l1.4 1.5l-6.6-3.5z"/>
<path class="six" d="M770.2 390.9l6.6 10.8l1.4-6.3l-6.6-0.9z"/>
<path class="sbr" d="M708.6 387.9l6.6 2.9l1.4-3.0l-6.6 1.5z"/>
<path class="sb" d="M647.0 433.3l6.6-6.0l1.4 2.8l-6.6-7.4z"/>
<path class="skq" d="M585.5 427.9l6.6 4.7l1.4 1.3l-6.6 3.8z"/>
<path class="sjs" d="M787.6 402.4l6.6-5.2l1.4-4.6l-6.6 2.3z"/>
<path class="sbx" d="M726.0 386.0l6.6-1.0l1.4-1.3l-6.6-1.7z"/>
<path class="shk" d="M664.4 423.8l6.6-6.3l1.4-1.8l-6.6 5.7z"/>
<path class="sq" d="M602.8 434.3l6.6-2.7l1.4 3.0l-6.6-5.9z"/>
<path class="sjd" d="M805.0 399.8l6.6-0.8l1.4-0.6l-6.6-3.2z"/>
<path class="sky" d="M743.4 383.2l6.6 14.8l1.4-7.3l-6.6-7.2z"/>
<path class="seg" d="M681.8 410.7l6.6 1.9l1.4 3.2l-6.6 1.9z"/>
<path class="scj" d="M620.2 431.7l6.6 2.5l1.4-1.8l-6.6 1.0z"/>
<path class="shy" d="M822.4 399.3l6.6-7.9l1.4-0.9l-6.6 5.0z"/>
<path class="shl" d="M760.8 392.0l6.6 5.0l1.4-3.6l-6.6-2.9z"/>
<path class="sjl" d="M699.2 407.6l6.6-5.9l1.4-13.4l-6.6 12.2z"/>
<path class="sle" d="M637.6 436.4l6.6-7.8l1.4-1.8l-6.6 3.5z"/>
<path class="sgl" d="M839.8 395.3l6.6 1.4l1.4 0.9l-6.6-2.0z"/>
<path class="siu" d="M778.2 395.4l6.6 3.2l1.4-1.5l-6.6-6.3z"/>
<path class="sgz" d="M716.6 387.8l6.6-4.0l1.4 3.1l-6.6 2.6z"/>
<path class="sdm" d="M655.0 430.1l6.6-5.6l1.4-7.0l-6.6 1.9z"/>
<path class="sd" d="M593.4 433.9l6.6-6.8l1.4 3.0l-6.6-4.1z"/>
<path class="sbi" d="M795.6 392.6l6.6 1.8l1.4-4.6l-6.6 3.3z"/>
<path class="sdd" d="M734.0 383.7l6.6-0.3l1.4 3.7l-6.6-1.7z"/>
<path class="sir" d="M672.4 415.7l6.6-1.8l1.4 4.6l-6.6-3.3z"/>
<path class="scj" d="M610.8 434.6l6.6-2.5l1.4 2.8l-6.6-3.7z"/>
<path class="sjs" d="M813.0 398.4l6.6-3.2l1.4 8.7l-6.6-11.7z"/>
<path class="sja" d="M751.4 390.7l6.6 8.6l1.4-3.3l-6.6-0.3z"/>
<path class="sfu" d="M689.8 415.8l6.6 8.1l1.4-9.5l-6.6-17.8z"/>
<path class="scf" d="M628.2 432.4l6.6 0.7l1.4 1.1l-6.6 2.5z"/>
<path class="sjn" d="M830.4 390.5l6.6 3.0l1.4 0.3l-6.6-5.5z"/>
<path class="sjb" d="M768.8 393.4l6.6 9.0l1.4-0.7l-6.6-10.8z"/>
<path class="skb" d="M707.2 388.2l6.6 4.2l1.4-1.6l-6.6-2.9z"/>
<path class="sbq" d="M645.6 426.7l6.6-2.8l1.4 3.4l-6.6 6.0z"/>
<path class="seq" d="M786.2 397.1l6.6 4.1l1.4-4.0l-6.6 5.2z"/>
<path class="sbn" d="M724.6 386.9l6.6 0.1l1.4-2.1l-6.6 1.0z"/>
<path class="sln" d="M663.0 417.5l6.6-0.9l1.4 0.9l-6.6 6.3z"/>
<path class="sk" d="M601.4 430.1l6.6-4.7l1.4 6.2l-6.6 2.7z"/>
<path class="sja" d="M803.6 389.9l6.6 4.5l1.4 4.6l-6.6 0.8z"/>
<path class="slo" d="M742.0 387.1l6.6 9.7l1.4 1.2l-6.6-14.8z"/>
<path class="skr" d="M680.4 418.5l6.6-5.0l1.4-0.9l-6.6-1.9z"/>
<path class="scj" d="M618.8 434.9l6.6-0.2l1.4-0.5l-6.6-2.5z"/>
<path class="sjf" d="M821.0 404.0l6.6-8.2l1.4-4.4l-6.6 7.9z"/>
<path class="six" d="M759.4 396.0l6.6 5.1l1.4-4.2l-6.6-5.0z"/>
<path class="scb" d="M697.8 414.4l6.6-3.0l1.4-9.8l-6.6 5.9z"/>
<path class="sh" d="M636.2 434.2l6.6-7.5l1.4 1.8l-6.6 7.8z"/>
<path class="shy" d="M838.4 393.7l6.6-0.3l1.4 3.2l-6.6-1.4z"/>
<path class="sjd" d="M776.8 401.6l6.6-0.2l1.4-2.8l-6.6-3.2z"/>
<path class="sce" d="M715.2 390.8l6.6 1.7l1.4-8.7l-6.6 4.0z"/>
<path class="sez" d="M653.6 427.3l6.6-2.2l1.4-0.6l-6.6 5.6z"/>
<path class="sa" d="M592.0 432.6l6.6-6.4l1.4 0.9l-6.6 6.8z"/>
<path class="sja" d="M794.2 397.2l6.6 2.8l1.4-5.6l-6.6-1.8z"/>
<path class="sdd" d="M732.6 384.9l6.6 5.2l1.4-6.7l-6.6 0.3z"/>
<path class="sht" d="M671.0 417.5l6.6 2.9l1.4-6.4l-6.6 1.8z"/>
<path class="sw" d="M609.4 431.6l6.6 3.0l1.4-2.4l-6.6 2.5z"/>
<path class="sgl" d="M811.6 398.9l6.6-2.2l1.4-1.5l-6.6 3.2z"/>
<path class="six" d="M750.0 398.0l6.6 2.3l1.4-0.9l-6.6-8.6z"/>
<path class="sel" d="M688.4 412.6l6.6 2.4l1.4 8.9l-6.6-8.1z"/>
<path class="sq" d="M626.8 434.2l6.6 0.4l1.4-1.5l-6.6-0.7z"/>
<path class="shv" d="M829.0 391.3l6.6 4.8l1.4-2.7l-6.6-3.0z"/>
<path class="sgl" d="M767.4 397.0l6.6-0.6l1.4 6.1l-6.6-9.0z"/>
<path class="shs" d="M705.8 401.6l6.6-11.4l1.4 2.2l-6.6-4.2z"/>
<path class="slf" d="M644.2 428.5l6.6 0.8l1.4-5.4l-6.6 2.8z"/>
<path class="sjd" d="M784.8 398.6l6.6 3.1l1.4-0.5l-6.6-4.1z"/>
<path class="shj" d="M723.2 383.8l6.6 6.8l1.4-3.6l-6.6-0.1z"/>
<path class="scr" d="M661.6 424.5l6.6-3.6l1.4-4.3l-6.6 0.9z"/>
<path class="so" d="M600.0 427.1l6.6 7.0l1.4-8.7l-6.6 4.7z"/>
<path class="skh" d="M802.2 394.4l6.6 3.1l1.4-3.2l-6.6-4.5z"/>
<path class="ska" d="M740.6 383.4l6.6 16.5l1.4-3.1l-6.6-9.7z"/>
<path class="seg" d="M679.0 414.0l6.6 3.3l1.4-3.8l-6.6 5.0z"/>
<path class="skm" d="M617.4 432.1l6.6 7.1l1.4-4.5l-6.6 0.2z"/>
<path class="siu" d="M819.6 395.2l6.6-3.4l1.4 3.9l-6.6 8.2z"/>
<path class="sgs" d="M758.0 399.3l6.6 1.7l1.4 0.1l-6.6-5.1z"/>
<path class="ses" d="M696.4 424.0l6.6-13.2l1.4 0.7l-6.6 3.0z"/>
<path class="sb" d="M634.8 433.1l6.6-6.5l1.4 0.1l-6.6 7.5z"/>
<path class="shl" d="M837.0 393.4l6.6 5.0l1.4-5.0l-6.6 0.3z"/>
<path class="skc" d="M775.4 402.4l6.6-3.4l1.4 2.4l-6.6 0.2z"/>
<path class="sbi" d="M713.8 392.4l6.6 9.0l1.4-8.9l-6.6-1.7z"/>
<path class="sdf" d="M652.2 423.9l6.6 2.1l1.4-1.0l-6.6 2.2z"/>
<path class="slg" d="M792.8 401.2l6.6 1.8l1.4-3.0l-6.6-2.8z"/>
<path class="sca" d="M731.2 387.0l6.6 2.5l1.4 0.7l-6.6-5.2z"/>
<path class="sdh" d="M669.6 416.6l6.6 7.3l1.4-3.5l-6.6-2.9z"/>
<path class="sh" d="M608.0 425.4l6.6 13.4l1.4-4.2l-6.6-3.0z"/>
<path class="shy" d="M810.2 394.4l6.6 0.2l1.4 2.1l-6.6 2.2z"/>
<path class="sgl" d="M748.6 396.8l6.6 0.2l1.4 3.2l-6.6-2.3z"/>
<path class="sgb" d="M687.0 413.5l6.6 4.3l1.4-2.7l-6.6-2.4z"/>
<path class="sy" d="M625.4 434.7l6.6 0.3l1.4-0.4l-6.6-0.4z"/>
<path class="sbi" d="M827.6 395.8l6.6-1.2l1.4 1.6l-6.6-4.8z"/>
<path class="sjs" d="M766.0 401.2l6.6 0.5l1.4-5.3l-6.6 0.6z"/>
<path class="sjw" d="M704.4 411.4l6.6-21.7l1.4 0.5l-6.6 11.4z"/>
<path class="sn" d="M642.8 426.7l6.6-2.6l1.4 5.2l-6.6-0.8z"/>
<path class="sgs" d="M783.4 401.4l6.6-3.7l1.4 4.0l-6.6-3.1z"/>
<path class="sjv" d="M721.8 392.5l6.6 2.7l1.4-4.6l-6.6-6.8z"/>
<path class="scy" d="M660.2 425.1l6.6-0.9l1.4-3.3l-6.6 3.6z"/>
<path class="sc" d="M598.6 426.2l6.6 7.0l1.4 0.9l-6.6-7.0z"/>
<path class="six" d="M800.8 400.1l6.6-0.7l1.4-1.8l-6.6-3.1z"/>
<path class="sjn" d="M739.2 390.1l6.6 10.5l1.4-0.7l-6.6-16.5z"/>
<path class="sel" d="M677.6 420.4l6.6-0.6l1.4-2.5l-6.6-3.3z"/>
<path class="sw" d="M616.0 434.6l6.6-2.5l1.4 7.1l-6.6-7.1z"/>
<path class="sbi" d="M818.1 396.7l6.6-1.7l1.4-3.1l-6.6 3.4z"/>
<path class="sjq" d="M756.6 400.2l6.6 2.4l1.4-1.6l-6.6-1.7z"/>
<path class="ses" d="M695.0 415.0l6.6-1.4l1.4-2.9l-6.6 13.2z"/>
<path class="su" d="M633.4 434.6l6.6-6.3l1.4-1.7l-6.6 6.5z"/>
<path class="shy" d="M835.5 396.1l6.6 2.0l1.4 0.2l-6.6-5.0z"/>
<path class="sha" d="M774.0 396.3l6.6-4.9l1.4 7.5l-6.6 3.4z"/>
<path class="siu" d="M712.4 390.2l6.6 16.9l1.4-5.8l-6.6-9.0z"/>
<path class="scn" d="M650.8 429.3l6.6-4.3l1.4 1.1l-6.6-2.1z"/>
<path class="sji" d="M791.3 401.7l6.6-7.2l1.4 8.6l-6.6-1.8z"/>
<path class="sgz" d="M729.8 390.6l6.6-0.3l1.4-0.9l-6.6-2.5z"/>
<path class="sdh" d="M668.2 420.9l6.6-0.9l1.4 4.0l-6.6-7.3z"/>
<path class="sq" d="M606.6 434.0l6.6 7.9l1.4-3.2l-6.6-13.4z"/>
<path class="shy" d="M808.7 397.6l6.6 1.9l1.4-5.0l-6.6-0.2z"/>
<path class="sja" d="M747.2 399.9l6.6-3.0l1.4 0.2l-6.6-0.2z"/>
<path class="slp" d="M685.6 417.2l6.6-5.1l1.4 5.7l-6.6-4.3z"/>
<path class="sr" d="M624.0 439.2l6.6-17.7l1.4 13.5l-6.6-0.3z"/>
<path class="shs" d="M826.1 391.9l6.6 5.2l1.4-2.5l-6.6 1.2z"/>
<path class="sjj" d="M764.5 401.0l6.6 1.0l1.4-0.4l-6.6-0.5z"/>
<path class="sgs" d="M703.0 410.7l6.6-20.4l1.4-0.7l-6.6 21.7z"/>
<path class="sv" d="M641.4 426.6l6.6 4.5l1.4-7.0l-6.6 2.6z"/>
<path class="sjw" d="M781.9 399.0l6.6-1.0l1.4-0.3l-6.6 3.7z"/>
<path class="sgl" d="M720.4 401.4l6.6 5.5l1.4-11.7l-6.6-2.7z"/>
<path class="sds" d="M658.8 426.1l6.6-10.6l1.4 8.7l-6.6 0.9z"/>
<path class="sjd" d="M799.3 403.0l6.6-0.8l1.4-2.8l-6.6 0.7z"/>
<path class="skh" d="M737.7 389.4l6.6 13.2l1.4-2.0l-6.6-10.5z"/>
<path class="scr" d="M676.2 423.9l6.6-2.4l1.4-1.7l-6.6 0.6z"/>
<path class="sbh" d="M614.6 438.8l6.6-7.5l1.4 0.8l-6.6 2.5z"/>
<path class="shg" d="M816.7 394.6l6.6 5.4l1.4-5.0l-6.6 1.7z"/>
<path class="sjw" d="M755.1 397.0l6.6 0.5l1.4 5.2l-6.6-2.4z"/>
<path class="sbf" d="M693.6 417.8l6.6-6.7l1.4 2.6l-6.6 1.4z"/>
<path class="sbz" d="M632.0 435.0l6.6-6.1l1.4-0.6l-6.6 6.3z"/>
<path class="sha" d="M834.1 394.5l6.6 8.9l1.4-5.3l-6.6-2.0z"/>
<path class="shy" d="M772.5 401.6l6.6-1.4l1.4-8.7l-6.6 4.9z"/>
<path class="sgs" d="M710.9 389.7l6.6 27.9l1.4-10.5l-6.6-16.9z"/>
<path class="sid" d="M649.4 424.1l6.6-0.8l1.4 1.6l-6.6 4.3z"/>
<path class="six" d="M789.9 397.7l6.6 4.9l1.4-8.2l-6.6 7.2z"/>
<path class="sce" d="M728.3 395.2l6.6-7.5l1.4 2.6l-6.6 0.3z"/>
<path class="scr" d="M666.8 424.2l6.6-2.1l1.4-2.2l-6.6 0.9z"/>
<path class="scf" d="M605.2 433.1l6.6 4.7l1.4 4.2l-6.6-7.9z"/>
<path class="sgl" d="M807.3 399.4l6.6 1.5l1.4-1.4l-6.6-1.9z"/>
<path class="siy" d="M745.7 400.6l6.6 4.1l1.4-7.8l-6.6 3.0z"/>
<path class="sfu" d="M684.1 419.8l6.6-6.3l1.4-1.4l-6.6 5.1z"/>
<path class="sk" d="M622.6 432.1l6.6 6.7l1.4-17.3l-6.6 17.7z"/>
<path class="shg" d="M824.7 395.0l6.6 9.3l1.4-7.3l-6.6-5.2z"/>
<path class="slg" d="M763.1 402.7l6.6-0.1l1.4-0.5l-6.6-1.0z"/>
<path class="sjl" d="M701.5 413.6l6.6-16.9l1.4-6.3l-6.6 20.4z"/>
<path class="sdf" d="M640.0 428.3l6.6-4.2l1.4 7.0l-6.6-4.5z"/>
<path class="shy" d="M780.5 391.5l6.6 10.0l1.4-3.4l-6.6 1.0z"/>
<path class="siq" d="M718.9 407.1l6.6 6.5l1.4-6.7l-6.6-5.5z"/>
<path class="sef" d="M657.3 425.0l6.6-7.5l1.4-1.9l-6.6 10.6z"/>
<path class="siy" d="M797.9 394.4l6.6 9.4l1.4-1.7l-6.6 0.8z"/>
<path class="sbi" d="M736.3 390.3l6.6 10.8l1.4 1.4l-6.6-13.2z"/>
<path class="sln" d="M674.7 419.9l6.6 2.7l1.4-1.1l-6.6 2.4z"/>
<path class="sjk" d="M613.2 442.0l6.6-3.5l1.4-7.2l-6.6 7.5z"/>
<path class="six" d="M815.3 399.5l6.6 4.4l1.4-4.0l-6.6-5.4z"/>
<path class="shl" d="M753.7 396.9l6.6-0.7l1.4 1.3l-6.6-0.5z"/>
<path class="sco" d="M692.1 412.1l6.6-0.5l1.4-0.6l-6.6 6.7z"/>
<path class="sg" d="M630.5 421.5l6.6 15.9l1.4-8.5l-6.6 6.1z"/>
<path class="siv" d="M832.7 397.0l6.6 5.1l1.4 1.4l-6.6-8.9z"/>
<path class="sjt" d="M771.1 402.0l6.6-0.8l1.4-1.0l-6.6 1.4z"/>
<path class="sfc" d="M709.5 390.4l6.6 29.1l1.4-1.8l-6.6-27.9z"/>
<path class="sdm" d="M647.9 431.1l6.6-3.6l1.4-4.1l-6.6 0.8z"/>
<path class="siv" d="M788.5 398.0l6.6 1.1l1.4 3.4l-6.6-4.9z"/>
<path class="shv" d="M726.9 406.9l6.6-15.2l1.4-3.9l-6.6 7.5z"/>
<path class="sks" d="M665.3 415.5l6.6 2.7l1.4 3.9l-6.6 2.1z"/>
<path class="sjb" d="M805.9 402.2l6.6-2.0l1.4 0.6l-6.6-1.5z"/>
<path class="sju" d="M744.3 402.6l6.6 2.2l1.4-0.1l-6.6-4.1z"/>
<path class="slq" d="M682.7 421.5l6.6-8.2l1.4 0.2l-6.6 6.3z"/>
<path class="sr" d="M621.1 431.3l6.6 2.5l1.4 5.0l-6.6-6.7z"/>
<path class="sjb" d="M823.3 399.9l6.6 3.8l1.4 0.6l-6.6-9.3z"/>
<path class="sjs" d="M761.7 397.5l6.6 4.4l1.4 0.7l-6.6 0.1z"/>
<path class="sfn" d="M700.1 411.1l6.6-3.4l1.4-10.9l-6.6 16.9z"/>
<path class="sdm" d="M638.5 428.9l6.6-3.3l1.4-1.5l-6.6 4.2z"/>
<path class="siu" d="M779.1 400.2l6.6 5.3l1.4-4.0l-6.6-10.0z"/>
<path class="sco" d="M717.5 417.6l6.6-0.6l1.4-3.4l-6.6-6.5z"/>
<path class="scr" d="M655.9 423.4l6.6 2.8l1.4-8.7l-6.6 7.5z"/>
<path class="sjb" d="M796.5 402.6l6.6 0.2l1.4 1.1l-6.6-9.4z"/>
<path class="skb" d="M734.9 387.7l6.6 8.8l1.4 4.6l-6.6-10.8z"/>
<path class="sen" d="M673.3 422.1l6.6 7.3l1.4-6.8l-6.6-2.7z"/>
<path class="sko" d="M611.7 437.8l6.6 0.2l1.4 0.4l-6.6 3.5z"/>
<path class="sjf" d="M813.9 400.9l6.6-0.4l1.4 3.5l-6.6-4.4z"/>
<path class="siv" d="M752.3 404.7l6.6-2.8l1.4-5.7l-6.6 0.7z"/>
<path class="sci" d="M690.7 413.5l6.6 3.5l1.4-5.4l-6.6 0.5z"/>
<path class="sc" d="M629.1 438.8l6.6-5.8l1.4 4.4l-6.6-15.9z"/>
<path class="sgl" d="M831.3 404.3l6.6-5.1l1.4 2.9l-6.6-5.1z"/>
<path class="sgs" d="M769.7 402.5l6.6 1.8l1.4-3.2l-6.6 0.8z"/>
<path class="sjm" d="M708.1 396.7l6.6 14.3l1.4 8.5l-6.6-29.1z"/>
<path class="sig" d="M646.5 424.1l6.6-7.2l1.4 10.6l-6.6 3.6z"/>
<path class="sjb" d="M787.1 401.4l6.6 5.5l1.4-7.7l-6.6-1.1z"/>
<path class="sjt" d="M725.5 413.6l6.6-17.9l1.4-4.0l-6.6 15.2z"/>
<path class="shn" d="M663.9 417.4l6.6 6.5l1.4-5.7l-6.6-2.7z"/>
<path class="sjb" d="M804.5 403.9l6.6-5.4l1.4 1.8l-6.6 2.0z"/>
<path class="sju" d="M742.9 401.2l6.6 6.2l1.4-2.6l-6.6-2.2z"/>
<path class="sfu" d="M681.3 422.6l6.6-11.1l1.4 1.8l-6.6 8.2z"/>
<path class="sh" d="M619.7 438.4l6.6-0.5l1.4-4.1l-6.6-2.5z"/>
<path class="sjb" d="M821.9 404.0l6.6-5.8l1.4 5.5l-6.6-3.8z"/>
<path class="sha" d="M760.3 396.2l6.6 7.2l1.4-1.5l-6.6-4.4z"/>
<path class="shh" d="M698.7 411.6l6.6 7.6l1.4-11.6l-6.6 3.4z"/>
<path class="sba" d="M637.1 437.4l6.6-6.8l1.4-5.0l-6.6 3.3z"/>
<path class="sgl" d="M777.7 401.2l6.6-4.0l1.4 8.2l-6.6-5.3z"/>
<path class="sdl" d="M716.1 419.5l6.6-5.3l1.4 2.9l-6.6 0.6z"/>
<path class="scy" d="M654.5 427.5l6.6 2.2l1.4-3.6l-6.6-2.8z"/>
<path class="sgl" d="M795.1 399.2l6.6 1.1l1.4 2.6l-6.6-0.2z"/>
<path class="sip" d="M733.5 391.7l6.6 12.5l1.4-7.6l-6.6-8.8z"/>
<path class="sln" d="M671.9 418.2l6.6 5.6l1.4 5.6l-6.6-7.3z"/>
<path class="six" d="M812.5 400.3l6.6 1.2l1.4-1.0l-6.6 0.4z"/>
<path class="sjd" d="M750.9 404.8l6.6-2.9l1.4-0.1l-6.6 2.8z"/>
<path class="shp" d="M689.3 413.3l6.6-0.3l1.4 4.0l-6.6-3.5z"/>
<path class="sa" d="M627.7 433.8l6.6-3.6l1.4 2.8l-6.6 5.8z"/>
<path class="sgs" d="M829.9 403.7l6.6 2.1l1.4-6.7l-6.6 5.1z"/>
<path class="sji" d="M768.3 401.9l6.6 1.0l1.4 1.5l-6.6-1.8z"/>
<path class="slr" d="M706.7 407.6l6.6 10.9l1.4-7.6l-6.6-14.3z"/>
<path class="sdh" d="M645.1 425.6l6.6 1.0l1.4-9.7l-6.6 7.2z"/>
<path class="sjd" d="M785.7 405.5l6.6-5.1l1.4 6.5l-6.6-5.5z"/>
<path class="skc" d="M724.1 417.0l6.6-23.3l1.4 1.9l-6.6 17.9z"/>
<path class="seg" d="M662.5 426.1l6.6-14.3l1.4 12.1l-6.6-6.5z"/>
<path class="siv" d="M803.1 402.8l6.6-4.3l1.4-0.1l-6.6 5.4z"/>
<path class="siv" d="M741.5 396.5l6.6 2.2l1.4 8.6l-6.6-6.2z"/>
<path class="sll" d="M679.9 429.4l6.6-11.7l1.4-6.2l-6.6 11.1z"/>
<path class="scj" d="M618.3 438.0l6.6 1.3l1.4-1.3l-6.6 0.5z"/>
<path class="sja" d="M820.5 400.5l6.6-0.5l1.4-1.8l-6.6 5.8z"/>
<path class="sji" d="M758.9 401.9l6.6 9.8l1.4-8.3l-6.6-7.2z"/>
<path class="sgi" d="M697.3 417.0l6.6-1.6l1.4 3.8l-6.6-7.6z"/>
<path class="sl" d="M635.7 433.0l6.6-2.9l1.4 0.5l-6.6 6.8z"/>
<path class="sgl" d="M776.3 404.4l6.6-0.4l1.4-6.7l-6.6 4.0z"/>
<path class="sgr" d="M714.7 411.0l6.6 2.5l1.4 0.7l-6.6 5.3z"/>
<path class="sjc" d="M653.1 416.9l6.6 4.1l1.4 8.7l-6.6-2.2z"/>
<path class="slj" d="M793.7 406.9l6.6 2.3l1.4-9.0l-6.6-1.1z"/>
<path class="sha" d="M732.1 395.7l6.6 15.3l1.4-6.9l-6.6-12.5z"/>
<path class="sks" d="M670.5 424.0l6.6-1.9l1.4 1.8l-6.6-5.6z"/>
<path class="shl" d="M811.1 398.5l6.6-1.4l1.4 4.4l-6.6-1.2z"/>
<path class="sjm" d="M749.5 407.4l6.6 1.6l1.4-7.0l-6.6 2.9z"/>
<path class="sgq" d="M687.9 411.5l6.6 7.4l1.4-6.0l-6.6 0.3z"/>
<path class="so" d="M626.3 437.9l6.6-4.9l1.4-2.8l-6.6 3.6z"/>
<path class="sjb" d="M828.5 398.2l6.6 4.9l1.4 2.8l-6.6-2.1z"/>
<path class="sjb" d="M766.9 403.3l6.6-0.6l1.4 0.2l-6.6-1.0z"/>
<path class="sls" d="M705.3 419.2l6.6 2.0l1.4-2.6l-6.6-10.9z"/>
<path class="slt" d="M643.7 430.6l6.6-1.0l1.4-3.0l-6.6-1.0z"/>
<path class="siu" d="M784.3 397.3l6.6 5.4l1.4-2.3l-6.6 5.1z"/>
<path class="sji" d="M722.7 414.1l6.6-23.6l1.4 3.2l-6.6 23.3z"/>
<path class="sht" d="M661.1 429.7l6.6-8.7l1.4-9.1l-6.6 14.3z"/>
<path class="sja" d="M801.7 400.2l6.6 3.7l1.4-5.4l-6.6 4.3z"/>
<path class="siu" d="M740.1 404.1l6.6 2.9l1.4-8.3l-6.6-2.2z"/>
<path class="sjc" d="M678.5 423.8l6.6 2.4l1.4-8.6l-6.6 11.7z"/>
<path class="six" d="M819.1 401.5l6.6 5.0l1.4-6.5l-6.6 0.5z"/>
<path class="sfg" d="M757.5 401.9l6.6 24.1l1.4-14.4l-6.6-9.8z"/>
<path class="sgq" d="M695.9 413.0l6.6 0.5l1.4 1.9l-6.6 1.6z"/>
<path class="slf" d="M634.3 430.2l6.6 5.8l1.4-5.9l-6.6 2.9z"/>
<path class="sji" d="M774.9 402.9l6.6 2.1l1.4-1.1l-6.6 0.4z"/>
<path class="sfl" d="M713.3 418.5l6.6 3.5l1.4-8.6l-6.6-2.5z"/>
<path class="sks" d="M651.7 426.6l6.6-0.7l1.4-4.9l-6.6-4.1z"/>
<path class="sji" d="M792.3 400.4l6.6-0.5l1.4 9.3l-6.6-2.3z"/>
<path class="sgs" d="M730.7 393.7l6.6 24.1l1.4-6.8l-6.6-15.3z"/>
<path class="slp" d="M669.1 411.9l6.6 7.0l1.4 3.1l-6.6 1.9z"/>
<path class="sbi" d="M809.6 398.5l6.6 3.1l1.4-4.6l-6.6 1.4z"/>
<path class="sev" d="M748.1 398.7l6.6 23.1l1.4-12.9l-6.6-1.6z"/>
<path class="sls" d="M686.5 417.7l6.6 3.2l1.4-1.9l-6.6-7.4z"/>
<path class="sbh" d="M624.9 439.3l6.6 1.7l1.4-8.0l-6.6 4.9z"/>
<path class="siu" d="M827.0 399.9l6.6 6.5l1.4-3.4l-6.6-4.9z"/>
<path class="sjd" d="M765.5 411.6l6.6-9.1l1.4 0.1l-6.6 0.6z"/>
<path class="sfd" d="M703.9 415.4l6.6 0.2l1.4 5.6l-6.6-2.0z"/>
<path class="sct" d="M642.3 430.1l6.6-5.8l1.4 5.4l-6.6 1.0z"/>
<path class="shy" d="M782.8 404.0l6.6-3.6l1.4 2.3l-6.6-5.4z"/>
<path class="sji" d="M721.3 413.4l6.6-13.1l1.4-9.7l-6.6 23.6z"/>
<path class="shf" d="M659.7 421.0l6.6 1.2l1.4-1.2l-6.6 8.7z"/>
<path class="sjt" d="M800.2 409.2l6.6-5.5l1.4 0.2l-6.6-3.7z"/>
<path class="sev" d="M738.7 411.0l6.6 4.9l1.4-8.9l-6.6-2.9z"/>
<path class="sdw" d="M677.1 422.0l6.6 2.6l1.4 1.6l-6.6-2.4z"/>
<path class="six" d="M817.6 397.0l6.6 8.7l1.4 0.7l-6.6-5.0z"/>
<path class="sdy" d="M756.0 409.0l6.6 26.0l1.4-9.0l-6.6-24.1z"/>
<path class="sgq" d="M694.5 419.0l6.6-3.2l1.4-2.3l-6.6-0.5z"/>
<path class="ss" d="M632.9 433.0l6.6-4.6l1.4 7.6l-6.6-5.8z"/>
<path class="sjf" d="M773.4 402.7l6.6 2.7l1.4-0.4l-6.6-2.1z"/>
<path class="sll" d="M711.9 421.1l6.6 4.6l1.4-3.7l-6.6-3.5z"/>
<path class="shk" d="M650.3 429.6l6.6-4.4l1.4 0.6l-6.6 0.7z"/>
<path class="sha" d="M790.8 402.7l6.6 2.5l1.4-5.3l-6.6 0.5z"/>
<path class="sjd" d="M729.2 390.6l6.6 29.3l1.4-2.1l-6.6-24.1z"/>
<path class="sdl" d="M667.7 421.0l6.6 4.9l1.4-7.0l-6.6-7.0z"/>
<path class="siw" d="M808.2 403.9l6.6-0.3l1.4-1.9l-6.6-3.1z"/>
<path class="sey" d="M746.6 407.1l6.6 20.0l1.4-5.2l-6.6-23.1z"/>
<path class="sda" d="M685.1 426.3l6.6-1.5l1.4-3.9l-6.6-3.2z"/>
<path class="sjt" d="M825.6 406.5l6.6-0.2l1.4 0.2l-6.6-6.5z"/>
<path class="sfg" d="M764.0 426.0l6.6-20.4l1.4-3.0l-6.6 9.1z"/>
<path class="shh" d="M702.4 413.5l6.6 3.1l1.4-1.0l-6.6-0.2z"/>
<path class="sdm" d="M640.9 436.0l6.6-6.3l1.4-5.4l-6.6 5.8z"/>
<path class="sgl" d="M781.4 405.0l6.6 0.7l1.4-5.4l-6.6 3.6z"/>
<path class="sgp" d="M719.8 422.0l6.6-12.0l1.4-9.8l-6.6 13.1z"/>
<path class="sht" d="M658.3 425.9l6.6-0.6l1.4-3.1l-6.6-1.2z"/>
<path class="sjt" d="M798.8 399.9l6.6 7.8l1.4-3.9l-6.6 5.5z"/>
<path class="sco" d="M737.2 417.8l6.6 6.2l1.4-8.1l-6.6-4.9z"/>
<path class="sfu" d="M675.6 418.9l6.6-3.9l1.4 9.7l-6.6-2.6z"/>
<path class="sja" d="M816.2 401.7l6.6 5.2l1.4-1.1l-6.6-8.7z"/>
<path class="slu" d="M754.6 421.9l6.6 12.6l1.4 0.5l-6.6-26.0z"/>
<path class="sdl" d="M693.0 420.9l6.6 2.8l1.4-7.8l-6.6 3.2z"/>
<path class="sez" d="M631.5 441.0l6.6-8.8l1.4-3.8l-6.6 4.6z"/>
<path class="six" d="M772.0 402.6l6.6 1.8l1.4 1.0l-6.6-2.7z"/>
<path class="ses" d="M710.4 415.6l6.6 7.6l1.4 2.6l-6.6-4.6z"/>
<path class="sdh" d="M648.8 424.3l6.6 0.3l1.4 0.7l-6.6 4.4z"/>
<path class="sja" d="M789.4 400.3l6.6 4.0l1.4 0.9l-6.6-2.5z"/>
<path class="sjm" d="M727.8 400.3l6.6 21.2l1.4-1.6l-6.6-29.3z"/>
<path class="sdq" d="M666.2 422.2l6.6-1.1l1.4 4.8l-6.6-4.9z"/>
<path class="sjf" d="M806.8 403.7l6.6 4.7l1.4-4.8l-6.6 0.3z"/>
<path class="shz" d="M745.2 415.9l6.6 22.0l1.4-10.9l-6.6-20.0z"/>
<path class="sht" d="M683.6 424.7l6.6-4.2l1.4 4.3l-6.6 1.5z"/>
<path class="sgs" d="M824.2 405.7l6.6 0.6l1.4-0.1l-6.6 0.2z"/>
<path class="sfd" d="M762.6 435.0l6.6-23.9l1.4-5.4l-6.6 20.4z"/>
<path class="sgr" d="M701.0 415.8l6.6 6.8l1.4-6.0l-6.6-3.1z"/>
<path class="sid" d="M639.4 428.4l6.6-0.7l1.4 1.9l-6.6 6.3z"/>
<path class="sji" d="M780.0 405.4l6.6 1.7l1.4-1.4l-6.6-0.7z"/>
<path class="sfd" d="M718.4 425.8l6.6-5.5l1.4-10.2l-6.6 12.0z"/>
<path class="sdh" d="M656.8 425.3l6.6 3.0l1.4-3.0l-6.6 0.6z"/>
<path class="sjb" d="M797.4 405.2l6.6 2.6l1.4-0.1l-6.6-7.8z"/>
<path class="sfk" d="M735.8 419.9l6.6 6.6l1.4-2.4l-6.6-6.2z"/>
<path class="slb" d="M674.2 425.9l6.6-4.9l1.4-6.1l-6.6 3.9z"/>
<path class="sgl" d="M814.8 403.6l6.6 3.1l1.4 0.2l-6.6-5.2z"/>
<path class="scy" d="M753.2 427.1l6.6 10.5l1.4-3.1l-6.6-12.6z"/>
<path class="sfk" d="M691.6 424.7l6.6-5.1l1.4 4.0l-6.6-2.8z"/>
<path class="sjw" d="M770.6 405.6l6.6 1.8l1.4-3.0l-6.6-1.8z"/>
<path class="sco" d="M709.0 416.5l6.6 0.7l1.4 5.9l-6.6-7.6z"/>
<path class="scr" d="M647.4 429.7l6.6 0.4l1.4-5.5l-6.6-0.3z"/>
<path class="siu" d="M788.0 405.8l6.6-0.5l1.4-0.9l-6.6-4.0z"/>
<path class="sfq" d="M726.4 410.1l6.6 12.6l1.4-1.2l-6.6-21.2z"/>
<path class="seg" d="M664.8 425.3l6.6-0.9l1.4-3.4l-6.6 1.1z"/>
<path class="sgs" d="M805.4 407.7l6.6-0.0l1.4 0.7l-6.6-4.7z"/>
<path class="sdu" d="M743.8 424.0l6.6 9.5l1.4 4.5l-6.6-22.0z"/>
<path class="sco" d="M682.2 414.9l6.6-1.1l1.4 6.6l-6.6 4.2z"/>
<path class="seq" d="M822.8 406.9l6.6 5.9l1.4-6.4l-6.6-0.6z"/>
<path class="shz" d="M761.2 434.5l6.6-23.5l1.4 0.1l-6.6 23.9z"/>
<path class="sdt" d="M699.6 423.6l6.6-2.5l1.4 1.4l-6.6-6.8z"/>
<path class="sic" d="M638.0 432.2l6.6-3.6l1.4-0.9l-6.6 0.7z"/>
<path class="sji" d="M778.6 404.4l6.6 5.5l1.4-2.8l-6.6-1.7z"/>
<path class="skr" d="M717.0 423.2l6.6-3.3l1.4 0.4l-6.6 5.5z"/>
<path class="shf" d="M655.4 424.6l6.6 0.1l1.4 3.6l-6.6-3.0z"/>
<path class="six" d="M796.0 404.3l6.6-2.3l1.4 5.7l-6.6-2.6z"/>
<path class="sll" d="M734.4 421.5l6.6 6.0l1.4-1.0l-6.6-6.6z"/>
<path class="shz" d="M672.8 421.1l6.6 3.0l1.4-3.0l-6.6 4.9z"/>
<path class="sjt" d="M813.4 408.4l6.6-0.7l1.4-1.0l-6.6-3.1z"/>
<path class="sba" d="M751.8 438.0l6.6-0.9l1.4 0.5l-6.6-10.5z"/>
<path class="slb" d="M690.2 420.4l6.6-1.4l1.4 0.6l-6.6 5.1z"/>
<path class="sjd" d="M769.2 411.1l6.6-4.9l1.4 1.2l-6.6-1.8z"/>
<path class="sdy" d="M707.6 422.6l6.6 1.8l1.4-7.1l-6.6-0.7z"/>
<path class="sic" d="M646.0 427.7l6.6 2.9l1.4-0.6l-6.6-0.4z"/>
<path class="sgl" d="M786.6 407.1l6.6-3.1l1.4 1.2l-6.6 0.5z"/>
<path class="sci" d="M725.0 420.3l6.6 1.4l1.4 0.9l-6.6-12.6z"/>
<path class="sec" d="M663.4 428.3l6.6-3.3l1.4-0.6l-6.6 0.9z"/>
<path class="sgs" d="M804.0 407.8l6.6-0.5l1.4 0.3l-6.6 0.0z"/>
<path class="sdu" d="M742.4 426.5l6.6 3.8l1.4 3.2l-6.6-9.5z"/>
<path class="sco" d="M680.8 421.0l6.6 5.4l1.4-12.6l-6.6 1.1z"/>
<path class="sji" d="M821.4 406.7l6.6-4.0l1.4 10.1l-6.6-5.9z"/>
<path class="skr" d="M759.8 437.6l6.6-29.4l1.4 2.7l-6.6 23.5z"/>
<path class="sex" d="M698.2 419.6l6.6-3.3l1.4 4.8l-6.6 2.5z"/>
<path class="slv" d="M777.2 407.4l6.6 15.5l1.4-12.9l-6.6-5.5z"/>
<path class="sgt" d="M715.6 417.3l6.6 7.5l1.4-4.9l-6.6 3.3z"/>
<path class="sks" d="M654.0 430.1l6.6-5.8l1.4 0.4l-6.6-0.1z"/>
<path class="sja" d="M794.6 405.3l6.6 3.1l1.4-6.3l-6.6 2.3z"/>
<path class="shn" d="M733.0 422.6l6.6 2.2l1.4 2.7l-6.6-6.0z"/>
<path class="slw" d="M671.4 424.4l6.6 1.6l1.4-2.0l-6.6-3.0z"/>
<path class="sjt" d="M812.0 407.7l6.6-2.0l1.4 2.0l-6.6 0.7z"/>
<path class="sbt" d="M750.4 433.5l6.6 3.5l1.4 0.1l-6.6 0.9z"/>
<path class="sgi" d="M688.8 413.8l6.6 14.1l1.4-8.9l-6.6 1.4z"/>
<path class="seq" d="M767.8 411.0l6.6-2.3l1.4-2.5l-6.6 4.9z"/>
<path class="shn" d="M706.2 421.1l6.6 7.8l1.4-4.6l-6.6-1.8z"/>
<path class="sen" d="M644.6 428.6l6.6 1.1l1.4 0.9l-6.6-2.9z"/>
<path class="sji" d="M785.2 410.0l6.6 0.7l1.4-6.6l-6.6 3.1z"/>
<path class="sdy" d="M723.6 419.9l6.6 2.7l1.4-0.9l-6.6-1.4z"/>
<path class="shf" d="M662.0 424.7l6.6 4.9l1.4-4.6l-6.6 3.3z"/>
<path class="sgl" d="M802.6 402.0l6.6 6.0l1.4-0.7l-6.6 0.5z"/>
<path class="sdn" d="M741.0 427.5l6.6 9.1l1.4-6.2l-6.6-3.8z"/>
<path class="shz" d="M679.4 424.0l6.6 1.3l1.4 1.1l-6.6-5.4z"/>
<path class="siv" d="M820.0 407.7l6.6-0.9l1.4-4.1l-6.6 4.0z"/>
<path class="sgi" d="M758.4 437.1l6.6-37.1l1.4 8.3l-6.6 29.4z"/>
<path class="sco" d="M696.8 419.0l6.6 5.5l1.4-8.2l-6.6 3.3z"/>
<path class="shh" d="M775.8 406.2l6.6 30.1l1.4-13.4l-6.6-15.5z"/>
<path class="slx" d="M714.2 424.3l6.6 7.7l1.4-7.2l-6.6-7.5z"/>
<path class="slm" d="M652.6 430.7l6.6-2.7l1.4-3.7l-6.6 5.8z"/>
<path class="sgl" d="M793.2 404.0l6.6 4.9l1.4-0.6l-6.6-3.1z"/>
<path class="ses" d="M731.6 421.7l6.6 5.3l1.4-2.2l-6.6-2.2z"/>
<path class="sll" d="M670.0 425.0l6.6 1.2l1.4-0.2l-6.6-1.6z"/>
<path class="sjt" d="M810.5 407.3l6.6 4.5l1.4-6.1l-6.6 2.0z"/>
<path class="scn" d="M749.0 430.3l6.6 6.7l1.4 0.0l-6.6-3.5z"/>
<path class="sgi" d="M687.4 426.4l6.6-10.6l1.4 12.1l-6.6-14.1z"/>
<path class="sjq" d="M766.4 408.2l6.6 1.4l1.4-1.0l-6.6 2.3z"/>
<path class="sfu" d="M704.8 416.3l6.6 10.0l1.4 2.6l-6.6-7.8z"/>
<path class="sfb" d="M783.7 422.9l6.6-13.7l1.4 1.4l-6.6-0.7z"/>
<path class="sdy" d="M722.2 424.8l6.6-4.6l1.4 2.4l-6.6-2.7z"/>
<path class="sfr" d="M660.6 424.3l6.6 3.3l1.4 2.0l-6.6-4.9z"/>
<path class="sjw" d="M801.1 408.4l6.6 2.5l1.4-2.8l-6.6-6.0z"/>
<path class="sdp" d="M739.6 424.8l6.6 7.8l1.4 4.0l-6.6-9.1z"/>
<path class="sik" d="M678.0 426.0l6.6-3.8l1.4 3.1l-6.6-1.3z"/>
<path class="sjt" d="M818.5 405.7l6.6 8.1l1.4-7.0l-6.6 0.9z"/>
<path class="sco" d="M756.9 437.0l6.6-28.5l1.4-8.6l-6.6 37.1z"/>
<path class="sbf" d="M695.4 427.9l6.6-9.0l1.4 5.6l-6.6-5.5z"/>
<path class="sgt" d="M774.3 408.7l6.6 31.5l1.4-3.9l-6.6-30.1z"/>
<path class="sec" d="M712.8 429.0l6.6-3.6l1.4 6.7l-6.6-7.7z"/>
<path class="scr" d="M651.2 429.8l6.6 1.8l1.4-3.7l-6.6 2.7z"/>
<path class="sjs" d="M791.7 410.6l6.6-1.1l1.4-0.7l-6.6-4.9z"/>
<path class="slx" d="M730.1 422.6l6.6 7.7l1.4-3.3l-6.6-5.3z"/>
<path class="sfr" d="M668.6 429.6l6.6-3.6l1.4 0.3l-6.6-1.2z"/>
<path class="sgs" d="M809.1 408.1l6.6 2.0l1.4 1.7l-6.6-4.5z"/>
<path class="sv" d="M747.5 436.5l6.6 3.2l1.4-2.8l-6.6-6.7z"/>
<path class="slb" d="M686.0 425.3l6.6-0.1l1.4-9.3l-6.6 10.6z"/>
<path class="sgl" d="M764.9 399.9l6.6 13.2l1.4-3.5l-6.6-1.4z"/>
<path class="sdl" d="M703.3 424.5l6.6 2.6l1.4-0.8l-6.6-10.0z"/>
<path class="sci" d="M782.3 436.3l6.6-21.1l1.4-5.9l-6.6 13.7z"/>
<path class="seg" d="M720.7 432.1l6.6-5.1l1.4-6.7l-6.6 4.6z"/>
<path class="sda" d="M659.2 427.9l6.6-0.7l1.4 0.3l-6.6-3.3z"/>
<path class="siy" d="M799.7 408.9l6.6-1.3l1.4 3.3l-6.6-2.5z"/>
<path class="sdn" d="M738.1 427.0l6.6 15.0l1.4-9.5l-6.6-7.8z"/>
<path class="sdz" d="M676.5 426.2l6.6-4.7l1.4 0.6l-6.6 3.8z"/>
<path class="slg" d="M817.1 411.8l6.6-1.1l1.4 3.0l-6.6-8.1z"/>
<path class="sgd" d="M755.5 437.0l6.6-20.0l1.4-8.4l-6.6 28.5z"/>
<path class="sls" d="M693.9 415.8l6.6 11.5l1.4-8.5l-6.6 9.0z"/>
<path class="sfd" d="M772.9 409.7l6.6 24.6l1.4 5.8l-6.6-31.5z"/>
<path class="sht" d="M711.3 426.3l6.6 5.1l1.4-6.1l-6.6 3.6z"/>
<path class="sjs" d="M790.3 409.2l6.6-2.6l1.4 3.0l-6.6 1.1z"/>
<path class="ses" d="M728.7 420.3l6.6 8.6l1.4 1.4l-6.6-7.7z"/>
<path class="shz" d="M667.1 427.5l6.6-6.6l1.4 5.0l-6.6 3.6z"/>
<path class="sjb" d="M807.7 410.9l6.6-4.3l1.4 3.5l-6.6-2.0z"/>
<path class="sba" d="M746.1 432.6l6.6 10.0l1.4-2.8l-6.6-3.2z"/>
<path class="sgt" d="M684.5 422.2l6.6 0.3l1.4 2.7l-6.6 0.1z"/>
<path class="sjd" d="M763.5 408.5l6.6 12.8l1.4-8.1l-6.6-13.2z"/>
<path class="sex" d="M701.9 418.9l6.6 1.6l1.4 6.6l-6.6-2.6z"/>
<path class="shu" d="M780.9 440.1l6.6-22.6l1.4-2.4l-6.6 21.1z"/>
<path class="sda" d="M719.3 425.4l6.6-0.4l1.4 1.9l-6.6 5.1z"/>
<path class="sfr" d="M657.7 431.6l6.6-7.4l1.4 3.1l-6.6 0.7z"/>
<path class="sjb" d="M798.3 409.6l6.6-0.1l1.4-1.9l-6.6 1.3z"/>
<path class="sdj" d="M736.7 430.3l6.6 5.7l1.4 6.0l-6.6-15.0z"/>
<path class="sly" d="M675.1 426.0l6.6-0.4l1.4-4.0l-6.6 4.7z"/>
<path class="sjq" d="M815.7 410.1l6.6 1.5l1.4-0.8l-6.6 1.1z"/>
<path class="shk" d="M754.1 439.7l6.6-3.9l1.4-18.8l-6.6 20.0z"/>
<path class="sdy" d="M692.5 425.2l6.6 0.8l1.4 1.4l-6.6-11.5z"/>
<path class="sdl" d="M771.5 413.2l6.6 28.7l1.4-7.6l-6.6-24.6z"/>
<path class="sda" d="M709.9 427.1l6.6-0.8l1.4 5.1l-6.6-5.1z"/>
<path class="slj" d="M788.9 415.1l6.6-2.3l1.4-6.2l-6.6 2.6z"/>
<path class="seg" d="M727.3 426.9l6.6 5.5l1.4-3.5l-6.6-8.6z"/>
<path class="sly" d="M665.7 427.2l6.6-2.4l1.4-3.9l-6.6 6.6z"/>
<path class="siu" d="M806.3 407.6l6.6-0.1l1.4-1.0l-6.6 4.3z"/>
<path class="si" d="M744.7 442.1l6.6 2.4l1.4-2.0l-6.6-10.0z"/>
<path class="sci" d="M683.1 421.6l6.6 1.1l1.4-0.1l-6.6-0.3z"/>
<path class="sgq" d="M762.1 417.0l6.6 22.0l1.4-17.7l-6.6-12.8z"/>
<path class="slz" d="M700.5 427.4l6.6 2.0l1.4-8.9l-6.6-1.6z"/>
<path class="scr" d="M779.5 434.3l6.6 1.4l1.4-18.1l-6.6 22.6z"/>
<path class="shn" d="M717.9 431.4l6.6-3.6l1.4-2.8l-6.6 0.4z"/>
<path class="six" d="M796.9 406.6l6.6 4.4l1.4-1.5l-6.6 0.1z"/>
<path class="sig" d="M735.3 428.9l6.6 10.1l1.4-3.0l-6.6-5.7z"/>
<path class="sfu" d="M673.7 421.0l6.6 9.7l1.4-5.1l-6.6 0.4z"/>
<path class="sjt" d="M814.3 406.6l6.6 7.8l1.4-2.8l-6.6-1.5z"/>
<path class="sp" d="M752.7 442.6l6.6-1.2l1.4-5.5l-6.6 3.9z"/>
<path class="sma" d="M691.1 422.5l6.6-2.3l1.4 5.7l-6.6-0.8z"/>
<path class="smb" d="M770.1 421.3l6.6 15.7l1.4 4.9l-6.6-28.7z"/>
<path class="sfk" d="M708.5 420.5l6.6 14.0l1.4-8.2l-6.6 0.8z"/>
<path class="sgf" d="M787.5 417.5l6.6 8.1l1.4-12.8l-6.6 2.3z"/>
<path class="sll" d="M725.9 425.0l6.6 4.0l1.4 3.4l-6.6-5.5z"/>
<path class="sgt" d="M664.3 424.1l6.6 0.0l1.4 0.7l-6.6 2.4z"/>
<path class="sjw" d="M804.9 409.5l6.6 5.9l1.4-7.9l-6.6 0.1z"/>
<path class="sbz" d="M743.3 436.0l6.6 10.7l1.4-2.2l-6.6-2.4z"/>
<path class="sgi" d="M681.7 425.6l6.6 0.5l1.4-3.4l-6.6-1.1z"/>
<path class="shk" d="M760.7 435.8l6.6 6.5l1.4-3.3l-6.6-22.0z"/>
<path class="seg" d="M699.1 426.0l6.6 4.4l1.4-1.0l-6.6-2.0z"/>
<path class="ss" d="M778.1 441.9l6.6 0.6l1.4-6.9l-6.6-1.4z"/>
<path class="smc" d="M716.5 426.3l6.6 4.7l1.4-3.3l-6.6 3.6z"/>
<path class="sgl" d="M795.5 412.8l6.6-2.4l1.4 0.6l-6.6-4.4z"/>
<path class="shx" d="M733.9 432.4l6.6-8.6l1.4 15.2l-6.6-10.1z"/>
<path class="sls" d="M672.3 424.9l6.6-3.0l1.4 8.8l-6.6-9.7z"/>
<path class="sjw" d="M812.9 407.6l6.6 5.7l1.4 1.1l-6.6-7.8z"/>
<path class="sg" d="M751.3 444.5l6.6-8.7l1.4 5.5l-6.6 1.2z"/>
<path class="sci" d="M689.7 422.6l6.6 5.1l1.4-7.5l-6.6 2.3z"/>
<path class="sdj" d="M768.7 439.0l6.6 5.7l1.4-7.7l-6.6-15.7z"/>
<path class="sfk" d="M707.1 429.4l6.6-2.4l1.4 7.5l-6.6-14.0z"/>
<path class="sda" d="M786.1 435.7l6.6 3.6l1.4-13.6l-6.6-8.1z"/>
<path class="seg" d="M724.5 427.8l6.6 5.3l1.4-4.1l-6.6-4.0z"/>
<path class="sjd" d="M803.5 411.0l6.6 4.0l1.4 0.5l-6.6-5.9z"/>
<path class="sbc" d="M741.9 439.0l6.6-1.9l1.4 9.6l-6.6-10.7z"/>
<path class="sgt" d="M680.3 430.7l6.6-9.0l1.4 4.3l-6.6-0.5z"/>
<path class="ss" d="M759.3 441.3l6.6-3.1l1.4 4.1l-6.6-6.5z"/>
<path class="sfl" d="M697.7 420.2l6.6 1.1l1.4 9.1l-6.6-4.4z"/>
<path class="skl" d="M776.7 437.0l6.6-1.7l1.4 7.3l-6.6-0.6z"/>
<path class="slx" d="M715.1 434.6l6.6-11.8l1.4 8.3l-6.6-4.7z"/>
<path class="smd" d="M794.1 425.6l6.6-12.4l1.4-2.8l-6.6 2.4z"/>
<path class="sks" d="M732.5 428.9l6.6 9.2l1.4-14.3l-6.6 8.6z"/>
<path class="sex" d="M670.9 424.1l6.6 5.4l1.4-7.7l-6.6 3.0z"/>
<path class="sjd" d="M811.4 415.4l6.6 1.3l1.4-3.5l-6.6-5.7z"/>
<path class="so" d="M749.9 446.7l6.6-3.6l1.4-7.3l-6.6 8.7z"/>
<path class="sfd" d="M688.3 426.0l6.6 1.5l1.4 0.3l-6.6-5.1z"/>
<path class="sc" d="M767.3 442.3l6.6 3.8l1.4-1.5l-6.6-5.7z"/>
<path class="seg" d="M705.7 430.4l6.6 0.5l1.4-3.9l-6.6 2.4z"/>
<path class="ss" d="M784.6 442.5l6.6 0.1l1.4-3.4l-6.6-3.6z"/>
<path class="sda" d="M723.1 431.1l6.6-2.1l1.4 4.1l-6.6-5.3z"/>
<path class="see" d="M802.0 410.3l6.6 22.1l1.4-17.5l-6.6-4.0z"/>
<path class="sic" d="M740.5 423.8l6.6 17.9l1.4-4.6l-6.6 1.9z"/>
<path class="sls" d="M678.9 421.9l6.6 6.9l1.4-7.1l-6.6 9.0z"/>
<path class="sbl" d="M757.8 435.8l6.6 3.5l1.4-1.1l-6.6 3.1z"/>
<path class="sgm" d="M696.3 427.8l6.6-1.2l1.4-5.2l-6.6-1.1z"/>
<path class="sp" d="M775.2 444.7l6.6 6.2l1.4-15.6l-6.6 1.7z"/>
<path class="sdt" d="M713.7 427.0l6.6-2.4l1.4-1.8l-6.6 11.8z"/>
<path class="sme" d="M792.6 439.2l6.6-27.4l1.4 1.4l-6.6 12.4z"/>
<path class="sia" d="M731.0 433.1l6.6 12.7l1.4-7.6l-6.6-9.2z"/>
<path class="smd" d="M810.0 414.9l6.6 3.0l1.4-1.3l-6.6-1.3z"/>
<path class="su" d="M748.4 437.1l6.6 11.8l1.4-5.8l-6.6 3.6z"/>
<path class="sgi" d="M686.9 421.7l6.6 6.7l1.4-0.9l-6.6-1.5z"/>
<path class="sbq" d="M765.8 438.2l6.6 7.4l1.4 0.5l-6.6-3.8z"/>
<path class="sgt" d="M704.2 421.3l6.6 5.1l1.4 4.5l-6.6-0.5z"/>
<path class="skl" d="M783.2 435.3l6.6 5.8l1.4 1.6l-6.6-0.1z"/>
<path class="sgb" d="M721.6 422.8l6.6 8.2l1.4-2.1l-6.6 2.1z"/>
<path class="sex" d="M800.6 413.2l6.6 36.1l1.4-16.8l-6.6-22.1z"/>
<path class="sit" d="M739.0 438.1l6.6 10.2l1.4-6.7l-6.6-17.9z"/>
<path class="sfd" d="M677.4 429.6l6.6-1.3l1.4 0.5l-6.6-6.9z"/>
<path class="sid" d="M756.4 443.1l6.6-8.2l1.4 4.4l-6.6-3.5z"/>
<path class="sdl" d="M694.8 427.5l6.6 2.6l1.4-3.6l-6.6 1.2z"/>
<path class="sbo" d="M773.8 446.1l6.6 0.4l1.4 4.3l-6.6-6.2z"/>
<path class="sdl" d="M712.2 430.9l6.6-0.7l1.4-5.6l-6.6 2.4z"/>
<path class="sgt" d="M791.2 442.6l6.6-25.6l1.4-5.3l-6.6 27.4z"/>
<path class="sic" d="M729.6 428.9l6.6 8.8l1.4 8.0l-6.6-12.7z"/>
<path class="sgf" d="M808.6 432.5l6.6-15.7l1.4 1.2l-6.6-3.0z"/>
<path class="sbt" d="M747.0 441.7l6.6 1.0l1.4 6.2l-6.6-11.8z"/>
<path class="sex" d="M685.4 428.8l6.6-0.5l1.4 0.2l-6.6-6.7z"/>
<path class="sl" d="M764.4 439.3l6.6 11.6l1.4-5.3l-6.6-7.4z"/>
<path class="sgi" d="M702.8 426.5l6.6 5.8l1.4-5.9l-6.6-5.1z"/>
<path class="sbq" d="M781.8 450.9l6.6-2.8l1.4-7.0l-6.6-5.8z"/>
<path class="sgt" d="M720.2 424.6l6.6 8.8l1.4-2.4l-6.6-8.2z"/>
<path class="skr" d="M799.2 411.8l6.6 33.4l1.4 4.1l-6.6-36.1z"/>
<path class="sba" d="M737.6 445.7l6.6-9.5l1.4 12.1l-6.6-10.2z"/>
<path class="sez" d="M755.0 448.9l6.6-5.8l1.4-8.2l-6.6 8.2z"/>
<path class="sls" d="M693.4 428.4l6.6-5.2l1.4 6.9l-6.6-2.6z"/>
<path class="se" d="M772.4 445.6l6.6-0.3l1.4 1.3l-6.6-0.4z"/>
<path class="slp" d="M710.8 426.4l6.6 3.8l1.4 0.0l-6.6 0.7z"/>
<path class="slx" d="M789.8 441.0l6.6-18.2l1.4-5.8l-6.6 25.6z"/>
<path class="slm" d="M728.2 431.0l6.6 9.8l1.4-3.1l-6.6-8.8z"/>
<path class="sgi" d="M807.2 449.3l6.6-39.0l1.4 6.5l-6.6 15.7z"/>
<path class="sl" d="M745.6 448.4l6.6-4.2l1.4-1.5l-6.6-1.0z"/>
<path class="sex" d="M684.0 428.2l6.6-3.1l1.4 3.2l-6.6 0.5z"/>
<path class="sba" d="M763.0 434.9l6.6 11.5l1.4 4.5l-6.6-11.6z"/>
<path class="sdt" d="M701.4 430.1l6.6-2.8l1.4 5.0l-6.6-5.8z"/>
<path class="sq" d="M780.4 446.5l6.6 6.4l1.4-4.9l-6.6 2.8z"/>
<path class="sgb" d="M718.8 430.2l6.6 1.5l1.4 1.7l-6.6-8.8z"/>
<path class="shu" d="M797.8 417.1l6.6 37.5l1.4-9.4l-6.6-33.4z"/>
<path class="sez" d="M736.2 437.8l6.6 15.0l1.4-16.5l-6.6 9.5z"/>
<path class="so" d="M753.6 442.7l6.6 3.7l1.4-3.3l-6.6 5.8z"/>
<path class="shh" d="M692.0 428.3l6.6-7.4l1.4 2.4l-6.6 5.2z"/>
<path class="so" d="M771.0 450.9l6.6-11.6l1.4 6.0l-6.6 0.3z"/>
<path class="skr" d="M709.4 432.3l6.6 1.9l1.4-4.0l-6.6-3.8z"/>
<path class="sif" d="M788.4 448.0l6.6-6.8l1.4-18.4l-6.6 18.2z"/>
<path class="sdp" d="M726.8 433.4l6.6 9.9l1.4-2.4l-6.6-9.8z"/>
<path class="sgt" d="M805.8 445.2l6.6-32.8l1.4-2.0l-6.6 39.0z"/>
<path class="sba" d="M744.2 436.3l6.6 8.4l1.4-0.6l-6.6 4.2z"/>
<path class="sdf" d="M761.6 443.1l6.6-0.1l1.4 3.4l-6.6-11.5z"/>
<path class="sfd" d="M700.0 423.2l6.6 12.5l1.4-8.4l-6.6 2.8z"/>
<path class="sk" d="M779.0 445.3l6.6 0.8l1.4 6.9l-6.6-6.4z"/>
<path class="sfu" d="M717.4 430.2l6.6-1.0l1.4 2.5l-6.6-1.5z"/>
<path class="scr" d="M796.4 422.9l6.6 29.3l1.4 2.4l-6.6-37.5z"/>
<path class="slf" d="M734.8 440.8l6.6 3.9l1.4 8.0l-6.6-15.0z"/>
<path class="sba" d="M752.2 444.2l6.6-1.8l1.4 4.0l-6.6-3.7z"/>
<path class="shh" d="M690.6 425.1l6.6 4.3l1.4-8.6l-6.6 7.4z"/>
<path class="slf" d="M769.6 446.4l6.6-5.7l1.4-1.4l-6.6 11.6z"/>
<path class="slp" d="M708.0 427.3l6.6 2.3l1.4 4.6l-6.6-1.9z"/>
<path class="sh" d="M787.0 453.0l6.6 0.6l1.4-12.3l-6.6 6.8z"/>
<path class="sdp" d="M725.4 431.7l6.6 10.5l1.4 1.0l-6.6-9.9z"/>
<path class="shx" d="M804.4 454.6l6.6-24.8l1.4-17.4l-6.6 32.8z"/>
<path class="sx" d="M742.8 452.8l6.6-8.1l1.4-0.0l-6.6-8.4z"/>
<path class="sbq" d="M760.2 446.4l6.6 5.4l1.4-8.8l-6.6 0.1z"/>
<path class="sco" d="M698.6 420.8l6.6 12.0l1.4 2.9l-6.6-12.5z"/>
<path class="sx" d="M777.6 439.3l6.6 9.4l1.4-2.6l-6.6-0.8z"/>
<path class="shn" d="M716.0 434.2l6.6 3.7l1.4-8.7l-6.6 1.0z"/>
<path class="sis" d="M795.0 441.3l6.6 12.5l1.4-1.6l-6.6-29.3z"/>
<path class="sdf" d="M733.4 443.3l6.6-0.3l1.4 1.8l-6.6-3.9z"/>
<path class="sg" d="M750.8 444.7l6.6 7.2l1.4-9.6l-6.6 1.8z"/>
<path class="sli" d="M768.2 443.0l6.6 7.7l1.4-10.0l-6.6 5.7z"/>
<path class="slb" d="M706.6 435.7l6.6-5.4l1.4-0.7l-6.6-2.3z"/>
<path class="sjk" d="M785.6 446.0l6.6 14.2l1.4-6.6l-6.6-0.6z"/>
<path class="slu" d="M724.0 429.2l6.6 13.0l1.4 0.0l-6.6-10.5z"/>
<path class="sbt" d="M802.9 452.2l6.6-6.5l1.4-15.9l-6.6 24.8z"/>
<path class="si" d="M741.4 444.8l6.6-0.1l1.4 0.0l-6.6 8.1z"/>
<path class="sm" d="M758.8 442.3l6.6 11.5l1.4-2.1l-6.6-5.4z"/>
<path class="sgq" d="M697.2 429.4l6.6-1.6l1.4 4.9l-6.6-12.0z"/>
<path class="sbd" d="M776.1 440.7l6.6 15.5l1.4-7.5l-6.6-9.4z"/>
<path class="sll" d="M714.6 429.5l6.6 5.2l1.4 3.1l-6.6-3.7z"/>
<path class="sh" d="M793.5 453.6l6.6-0.8l1.4 1.0l-6.6-12.5z"/>
<path class="sbe" d="M732.0 442.3l6.6 9.3l1.4-8.6l-6.6 0.3z"/>
<path class="so" d="M749.3 444.7l6.6 3.9l1.4 3.3l-6.6-7.2z"/>
<path class="sa" d="M766.7 451.8l6.6-2.5l1.4 1.5l-6.6-7.7z"/>
<path class="ses" d="M705.2 432.8l6.6 1.7l1.4-4.3l-6.6 5.4z"/>
<path class="smf" d="M784.1 448.7l6.6 3.4l1.4 8.1l-6.6-14.2z"/>
<path class="smg" d="M722.5 437.9l6.6 7.3l1.4-2.9l-6.6-13.0z"/>
<path class="sw" d="M801.5 453.8l6.6 3.2l1.4-11.4l-6.6 6.5z"/>
<path class="scp" d="M739.9 443.0l6.6 3.2l1.4-1.5l-6.6 0.1z"/>
<path class="sb" d="M757.3 451.9l6.6-5.9l1.4 7.9l-6.6-11.5z"/>
<path class="sea" d="M774.7 450.7l6.6-4.6l1.4 10.1l-6.6-15.5z"/>
<path class="sfu" d="M713.1 430.3l6.6 5.1l1.4-0.6l-6.6-5.2z"/>
<path class="ski" d="M792.1 460.2l6.6 3.1l1.4-10.5l-6.6 0.8z"/>
<path class="sn" d="M730.5 442.3l6.6 3.1l1.4 6.1l-6.6-9.3z"/>
<path class="slf" d="M747.9 444.7l6.6 2.6l1.4 1.3l-6.6-3.9z"/>
<path class="st" d="M765.3 453.9l6.6-0.6l1.4-4.0l-6.6 2.5z"/>
<path class="sdl" d="M703.7 427.9l6.6 7.1l1.4-0.4l-6.6-1.7z"/>
<path class="sf" d="M782.7 456.2l6.6-11.3l1.4 7.2l-6.6-3.4z"/>
<path class="ske" d="M721.1 434.8l6.6 2.4l1.4 8.1l-6.6-7.3z"/>
<path class="slh" d="M800.1 452.8l6.6 9.9l1.4-5.7l-6.6-3.2z"/>
<path class="sbv" d="M738.5 451.6l6.6-9.2l1.4 3.8l-6.6-3.2z"/>
<path class="so" d="M755.9 448.6l6.6-1.2l1.4-1.4l-6.6 5.9z"/>
<path class="su" d="M773.3 449.2l6.6 1.9l1.4-5.1l-6.6 4.6z"/>
<path class="ses" d="M711.7 434.5l6.6 3.1l1.4-2.3l-6.6-5.1z"/>
<path class="slk" d="M790.7 452.1l6.6 8.8l1.4 2.4l-6.6-3.1z"/>
<path class="sv" d="M729.1 445.2l6.6 3.2l1.4-3.0l-6.6-3.1z"/>
<path class="sp" d="M746.5 446.2l6.6 6.7l1.4-5.6l-6.6-2.6z"/>
<path class="sbp" d="M763.9 446.0l6.6 6.1l1.4 1.2l-6.6 0.6z"/>
<path class="sk" d="M781.3 446.1l6.6 10.1l1.4-11.3l-6.6 11.3z"/>
<path class="shf" d="M719.7 435.4l6.6 9.9l1.4-8.1l-6.6-2.4z"/>
<path class="smh" d="M798.7 463.3l6.6-2.3l1.4 1.8l-6.6-9.9z"/>
<path class="sbd" d="M737.1 445.4l6.6 8.0l1.4-11.0l-6.6 9.2z"/>
<path class="sbd" d="M754.5 447.3l6.6 2.4l1.4-2.3l-6.6 1.2z"/>
<path class="sm" d="M771.9 453.3l6.6-3.0l1.4 0.9l-6.6-1.9z"/>
<path class="sgb" d="M710.3 435.0l6.6-4.6l1.4 7.3l-6.6-3.1z"/>
<path class="sy" d="M789.3 444.9l6.6 14.9l1.4 1.0l-6.6-8.8z"/>
<path class="sdf" d="M727.7 437.1l6.6 14.9l1.4-3.6l-6.6-3.2z"/>
<path class="sbv" d="M745.1 442.3l6.6 3.9l1.4 6.7l-6.6-6.7z"/>
<path class="sbq" d="M762.5 447.4l6.6 3.8l1.4 0.9l-6.6-6.1z"/>
<path class="sbp" d="M779.9 451.2l6.6 4.5l1.4 0.5l-6.6-10.1z"/>
<path class="sdp" d="M718.3 437.7l6.6 9.2l1.4-1.6l-6.6-9.9z"/>
<path class="smi" d="M797.3 460.9l6.6 0.9l1.4-0.8l-6.6 2.3z"/>
<path class="sbd" d="M735.7 448.4l6.6-0.2l1.4 5.2l-6.6-8.0z"/>
<path class="sbd" d="M753.1 452.9l6.6-7.0l1.4 3.7l-6.6-2.4z"/>
<path class="sk" d="M770.5 452.1l6.6 0.7l1.4-2.5l-6.6 3.0z"/>
<path class="sbj" d="M787.9 456.2l6.6 0.5l1.4 3.1l-6.6-14.9z"/>
<path class="sdf" d="M726.3 445.3l6.6 6.5l1.4 0.2l-6.6-14.9z"/>
<path class="skl" d="M743.7 453.4l6.6-6.9l1.4-0.3l-6.6-3.9z"/>
<path class="sc" d="M761.1 449.7l6.6 5.6l1.4-4.0l-6.6-3.8z"/>
<path class="sbp" d="M778.5 450.3l6.6 4.6l1.4 0.8l-6.6-4.5z"/>
<path class="sln" d="M716.9 430.4l6.6 18.8l1.4-2.3l-6.6-9.2z"/>
<path class="smj" d="M795.9 459.8l6.6 5.0l1.4-3.1l-6.6-0.9z"/>
<path class="sp" d="M734.3 452.0l6.6-2.5l1.4-1.2l-6.6 0.2z"/>
<path class="sba" d="M751.7 446.2l6.6 2.8l1.4-3.1l-6.6 7.0z"/>
<path class="sm" d="M769.1 451.2l6.6 2.3l1.4-0.8l-6.6-0.7z"/>
<path class="scf" d="M786.5 455.7l6.6 1.9l1.4-0.9l-6.6-0.5z"/>
<path class="skl" d="M724.9 446.9l6.6 0.7l1.4 4.3l-6.6-6.5z"/>
<path class="sg" d="M742.3 448.2l6.6 4.4l1.4-6.1l-6.6 6.9z"/>
<path class="sb" d="M759.7 445.9l6.6 10.8l1.4-1.5l-6.6-5.6z"/>
<path class="sh" d="M777.0 452.8l6.6 6.5l1.4-4.4l-6.6-4.6z"/>
<path class="skt" d="M794.4 456.7l6.6 0.6l1.4 7.4l-6.6-5.0z"/>
<path class="sbd" d="M732.9 451.8l6.6-3.8l1.4 1.4l-6.6 2.5z"/>
<path class="sdf" d="M750.2 446.5l6.6 3.5l1.4-0.9l-6.6-2.8z"/>
<path class="sm" d="M767.6 455.3l6.6-2.8l1.4 1.1l-6.6-2.3z"/>
<path class="scj" d="M785.0 454.9l6.6 5.3l1.4-2.6l-6.6-1.9z"/>
<path class="sn" d="M723.4 449.2l6.6 3.8l1.4-5.5l-6.6-0.7z"/>
<path class="sbt" d="M740.8 449.5l6.6 2.4l1.4 0.8l-6.6-4.4z"/>
<path class="sc" d="M758.2 449.1l6.6 8.5l1.4-0.9l-6.6-10.8z"/>
<path class="sbp" d="M775.6 453.6l6.6-0.8l1.4 6.5l-6.6-6.5z"/>
<path class="scf" d="M793.0 457.6l6.6 1.7l1.4-2.0l-6.6-0.6z"/>
<path class="sbv" d="M731.4 447.5l6.6 2.8l1.4-2.3l-6.6 3.8z"/>
<path class="sbd" d="M748.8 452.6l6.6 2.9l1.4-5.6l-6.6-3.5z"/>
<path class="sr" d="M766.2 456.7l6.6-3.1l1.4-1.2l-6.6 2.8z"/>
<path class="skq" d="M783.6 459.3l6.6-1.9l1.4 2.9l-6.6-5.3z"/>
<path class="sba" d="M739.4 448.0l6.6 4.6l1.4-0.8l-6.6-2.4z"/>
<path class="sc" d="M756.8 450.0l6.6 5.2l1.4 2.4l-6.6-8.5z"/>
<path class="sd" d="M774.2 452.5l6.6 4.8l1.4-4.6l-6.6 0.8z"/>
<path class="skm" d="M791.6 460.2l6.6-2.1l1.4 1.2l-6.6-1.7z"/>
<path class="sbe" d="M730.0 453.0l6.6-1.7l1.4-0.9l-6.6-2.8z"/>
<path class="sa" d="M747.4 451.8l6.6 3.9l1.4-0.1l-6.6-2.9z"/>
<path class="sh" d="M764.8 457.6l6.6-1.7l1.4-2.3l-6.6 3.1z"/>
<path class="sbo" d="M782.2 452.7l6.6 3.2l1.4 1.4l-6.6 1.9z"/>
<path class="ss" d="M738.0 450.3l6.6 0.2l1.4 2.1l-6.6-4.6z"/>
<path class="sc" d="M755.4 455.6l6.6-1.2l1.4 0.8l-6.6-5.2z"/>
<path class="sa" d="M772.8 453.6l6.6 1.9l1.4 1.7l-6.6-4.8z"/>
<path class="sbk" d="M790.2 457.4l6.6 9.9l1.4-9.2l-6.6 2.1z"/>
<path class="sc" d="M746.0 452.6l6.6 2.9l1.4 0.2l-6.6-3.9z"/>
<path class="sbp" d="M763.4 455.2l6.6 1.3l1.4-0.6l-6.6 1.7z"/>
<path class="sbh" d="M780.8 457.3l6.6 5.5l1.4-6.9l-6.6-3.2z"/>
<path class="sbd" d="M736.6 451.3l6.6 8.7l1.4-9.4l-6.6-0.2z"/>
<path class="si" d="M754.0 455.7l6.6-5.8l1.4 4.5l-6.6 1.2z"/>
<path class="sh" d="M771.4 455.9l6.6 7.7l1.4-8.1l-6.6-1.9z"/>
<path class="skk" d="M788.8 455.9l6.6 12.3l1.4-1.0l-6.6-9.9z"/>
<path class="sbq" d="M744.6 450.5l6.6 6.6l1.4-1.7l-6.6-2.9z"/>
<path class="sa" d="M762.0 454.4l6.6 2.7l1.4-0.6l-6.6-1.3z"/>
<path class="sy" d="M779.4 455.6l6.6 6.9l1.4 0.3l-6.6-5.5z"/>
<path class="sbe" d="M752.6 455.5l6.6-6.4l1.4 0.8l-6.6 5.8z"/>
<path class="sh" d="M770.0 456.5l6.6-1.6l1.4 8.7l-6.6-7.7z"/>
<path class="skn" d="M787.4 462.8l6.6 1.1l1.4 4.4l-6.6-12.3z"/>
<path class="sb" d="M743.2 460.0l6.6-4.0l1.4 1.2l-6.6-6.6z"/>
<path class="sbq" d="M760.6 449.9l6.6 7.9l1.4-0.7l-6.6-2.7z"/>
<path class="skf" d="M777.9 463.6l6.6 3.5l1.4-4.6l-6.6-6.9z"/>
<path class="sbt" d="M751.2 457.2l6.6-2.2l1.4-5.9l-6.6 6.4z"/>
<path class="su" d="M768.5 457.1l6.6-0.2l1.4-1.9l-6.6 1.6z"/>
<path class="sku" d="M785.9 462.5l6.6 6.5l1.4-5.1l-6.6-1.1z"/>
<path class="sz" d="M759.1 449.1l6.6 18.7l1.4-10.0l-6.6-7.9z"/>
<path class="sjk" d="M776.5 454.9l6.6 9.6l1.4 2.5l-6.6-3.5z"/>
<path class="sc" d="M749.7 456.0l6.6 2.9l1.4-4.0l-6.6 2.2z"/>
<path class="sh" d="M767.1 457.7l6.6 7.3l1.4-8.2l-6.6 0.2z"/>
<path class="smk" d="M784.5 467.1l6.6 2.5l1.4-0.6l-6.6-6.5z"/>
<path class="sea" d="M757.7 454.9l6.6 2.4l1.4 10.4l-6.6-18.7z"/>
<path class="sr" d="M775.1 456.8l6.6 3.3l1.4 4.4l-6.6-9.6z"/>
<path class="st" d="M765.7 467.7l6.6-13.3l1.4 10.6l-6.6-7.3z"/>
<path class="ski" d="M783.1 464.6l6.6 0.5l1.4 4.4l-6.6-2.5z"/>
<path class="so" d="M756.3 458.9l6.6-0.6l1.4-1.0l-6.6-2.4z"/>
<path class="sbj" d="M773.7 465.0l6.6 0.1l1.4-4.9l-6.6-3.3z"/>
<path class="sh" d="M764.3 457.4l6.6 6.1l1.4-9.0l-6.6 13.3z"/>
<path class="sjk" d="M781.7 460.2l6.6 6.3l1.4-1.4l-6.6-0.5z"/>
<path class="sbj" d="M772.3 454.4l6.6 11.5l1.4-0.8l-6.6-0.1z"/>
<path class="sa" d="M762.9 458.3l6.6 1.2l1.4 3.9l-6.6-6.1z"/>
<path class="scf" d="M780.3 465.1l6.6 1.1l1.4 0.3l-6.6-6.3z"/>
<path class="sw" d="M770.9 463.4l6.6 7.1l1.4-4.6l-6.6-11.5z"/>
<path class="sbk" d="M778.9 465.9l6.6 3.3l1.4-3.0l-6.6-1.1z"/>
<path class="scj" d="M769.4 459.5l6.6 6.9l1.4 4.1l-6.6-7.1z"/>
<path class="sml" d="M777.4 470.5l6.6-0.4l1.4-1.0l-6.6-3.3z"/>
<path class="sml" d="M776.0 466.4l6.6 4.6l1.4-0.9l-6.6 0.4z"/>
</g>
<path d="M510.7 465.4L777.4 512.1M777.4 512.1L933.3 431.4M777.4 512.1L769.9 510.8M799.7 500.6L792.2 499.3M821.9 489.0L814.4 487.7M844.2 477.5L836.7 476.2M866.5 466.0L859.0 464.7M888.8 454.5L881.3 453.2M911.0 442.9L903.5 441.6M933.3 431.4L925.8 430.1M644.0 488.8L648.2 486.6M510.7 465.4L510.7 300.4M510.7 465.4L517.7 465.4M510.7 437.9L517.7 437.9M510.7 410.4L517.7 410.4M510.7 382.9L517.7 382.9M510.7 355.4L517.7 355.4M510.7 327.9L517.7 327.9M510.7 300.4L517.7 300.4" stroke="#f8f8c0" stroke-width="1" fill="none"/>
<path d="M701.3 487.7L701.3 322.9L835.7 251.8L835.7 414.3Z" stroke="#ff0000" stroke-width="1" fill="none"/>
<text x="80" y="32.4">Sensor Node</text><text x="80" y="53.4">Name</text><text x="163" y="53.4" class="v">GAMB_SN</text><text x="80" y="73.4">Lat (deg)</text><text x="163" y="73.4" class="v">-37.126602173</text><text x="80" y="93.4">Lon (deg)</text><text x="163" y="93.4" class="v">142.697509766</text><text x="347" y="32.4">Event</text><text x="347" y="53.4">Start Time (UTC)</text><text x="485" y="53.4" class="v">2026-03-16T01:39:21Z</text><text x="347" y="73.4">End Time (UTC)</text><text x="485" y="73.4" class="v">2026-03-16T01:39:39Z</text><text x="347" y="93.4">Period (sec)</text><text x="485" y="93.4" class="v">18</text><text x="668" y="32.4">Interference</text><text x="668" y="53.4">Band</text><text x="852" y="53.4" class="v">L2</text><text x="668" y="73.4">Type</text><text x="852" y="73.4" class="v">Jammer</text><text x="668" y="93.4">Max Rx Power (dBm)</text><text x="852" y="93.4" class="v">-90.04</text><text x="229" y="184" text-anchor="middle">Sky Plot at the Epoch of Max Rx Power</text><text x="229" y="200.5" text-anchor="middle">2026-03-16T01:39:26.000Z</text><text x="721.5" y="191" text-anchor="middle">Waterfall Plot</text><text x="539.5" y="606" text-anchor="middle">Max Rx Power</text><path d="M88.5 669.5H990.5" stroke="#c8c8c8" stroke-width="1" stroke-dasharray="2 2" fill="none"/><path d="M539.5 626.5V713.5" stroke="#c8c8c8" stroke-width="1" stroke-dasharray="2 2" fill="none"/><path d="M88.5 626.5h9M990.5 626.5h-9M88.5 669.5h9M990.5 669.5h-9M88.5 713.5h9M990.5 713.5h-9M88.5 713.5v-9M88.5 626.5v7M539.5 713.5v-9M539.5 626.5v7M990.5 713.5v-9M990.5 626.5v7" stroke="#f8f8c0" stroke-width="1" fill="none"/><rect x="88.5" y="626.5" width="902.0" height="87.0" stroke="#f8f8c0" stroke-width="1" fill="none"/><clipPath id="cb"><rect x="88.5" y="626.5" width="902.0" height="87.0"/></clipPath><path d="M178.2 689.5h1M223.8 691.4L246.3 679.4L268.9 685.4M314.0 678.3L336.6 678.3M381.6 686.5L404.2 684.0L426.8 684.4L449.3 667.5L471.9 664.4L494.4 680.3L517.0 661.2L539.5 663.4L562.0 692.5L607.1 659.4L652.2 653.1L674.8 648.4L697.4 672.8L719.9 714.5" stroke="#e0e000" stroke-width="1.1" fill="none" clip-path="url(#cb)"/><path d="M674.5 626.5V713.5" stroke="#ff0000" stroke-width="1" fill="none"/><text x="77" y="631" text-anchor="end">-80</text><text x="77" y="673.8" text-anchor="end">-100</text><text x="77" y="718" text-anchor="end">-120</text><text x="88.5" y="734.5" text-anchor="middle">01:39:00</text><text x="539.5" y="734.5" text-anchor="middle">01:39:20</text><text x="990.5" y="734.5" text-anchor="middle">01:39:40</text><text x="538.5" y="759.5" text-anchor="middle">Time (UTC)</text><text transform="translate(20 669) rotate(-90)" text-anchor="middle">Power (dBm)</text><text x="497.5" y="470.7" text-anchor="end">-120</text><text x="497.5" y="443.2" text-anchor="end">-100</text><text x="497.5" y="415.7" text-anchor="end">-80</text><text x="497.5" y="388.2" text-anchor="end">-60</text><text x="497.5" y="360.7" text-anchor="end">-40</text><text x="497.5" y="333.2" text-anchor="end">-20</text><text x="497.5" y="305.7" text-anchor="end">0</text><text x="504.4" y="475.6" text-anchor="middle">01:39:00</text><text x="637.8" y="498.9" text-anchor="middle">01:39:20</text><text x="771.1" y="522.3" text-anchor="middle">01:39:40</text><text x="816.8" y="520.5" text-anchor="middle">1210</text><text x="838.6" y="508.6" text-anchor="middle">1215</text><text x="860.5" y="496.8" text-anchor="middle">1220</text><text x="882.3" y="484.9" text-anchor="middle">1225</text><text x="904.1" y="473.0" text-anchor="middle">1230</text><text x="925.9" y="461.1" text-anchor="middle">1235</text><text x="947.8" y="449.3" text-anchor="middle">1240</text><text x="969.6" y="437.4" text-anchor="middle">1245</text><text transform="translate(599 517.3) rotate(9.93)" text-anchor="middle">Time (UTC)</text><text transform="translate(933.3 489) rotate(-27.37)" text-anchor="middle">Frequency (MHz)</text><text transform="translate(437.9 381.2) rotate(-90)" text-anchor="middle">PSD (dBm)</text>
</svg>
</body></html>
